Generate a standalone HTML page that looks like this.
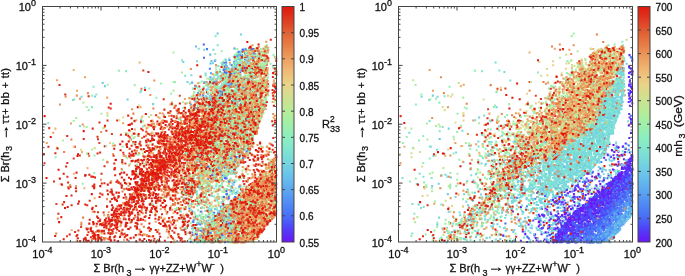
<!DOCTYPE html><html><head><meta charset="utf-8"><style>html,body{margin:0;padding:0;background:#fff;overflow:hidden}svg{display:block;will-change:transform}svg{font-family:"Liberation Sans",sans-serif;font-size:11px}text{fill:#111;stroke:#111;stroke-width:0.3px}</style></head><body>
<svg width="685" height="276" viewBox="0 0 685 276">
<defs><filter id="bl" x="-5%" y="-5%" width="110%" height="110%"><feGaussianBlur stdDeviation="0.5"/></filter></defs>
<g fill="none" stroke-width="2.05" stroke-linecap="square" filter="url(#bl)"><path d="M225.0 156.3h0M232.0 146.5h0M233.0 86.8h0M229.8 223.9h0M219.8 214.9h0M251.4 65.6h0M240.5 160.3h0M222.1 83.9h0M214.9 60.7h0M229.2 229.1h0M229.7 70.5h0M213.2 218.6h0M214.1 212.8h0M223.1 219.0h0M213.2 82.9h0M245.0 59.3h0M245.7 51.8h0M242.8 159.8h0M232.1 101.4h0M226.5 178.4h0M195.9 216.4h0M227.5 72.2h0M250.0 68.5h0M229.2 149.3h0M221.7 157.9h0M223.1 201.4h0M196.2 230.3h0M227.2 231.4h0M239.7 94.8h0M202.3 222.0h0" stroke="#4a64f8"/><path d="M225.6 173.2h0M231.8 210.8h0M230.1 216.3h0M216.5 88.9h0M242.3 90.4h0M254.8 70.0h0M231.9 65.1h0M246.9 68.0h0M206.2 239.4h0M217.2 237.1h0M223.6 212.6h0M228.8 196.4h0M227.2 233.2h0M209.9 68.7h0M224.0 93.9h0M207.0 49.1h0M227.2 229.3h0M211.8 224.2h0M228.6 227.8h0M208.8 232.0h0M212.0 230.6h0M196.7 237.2h0M222.0 179.5h0M250.5 63.6h0M220.7 231.1h0M228.7 226.1h0M242.0 160.3h0M225.8 208.5h0M244.6 83.2h0M255.6 56.8h0M221.2 164.0h0M229.5 59.9h0" stroke="#4b79f7"/><path d="M216.6 226.7h0M229.6 85.4h0M229.9 205.3h0M246.0 95.0h0M232.6 67.5h0M232.4 90.9h0M231.1 206.0h0M234.4 146.2h0M208.4 232.6h0M224.6 89.0h0M249.6 74.5h0M212.4 229.6h0M231.8 186.6h0M216.8 220.7h0M224.4 229.0h0M225.6 177.2h0M234.6 153.9h0M224.5 62.9h0M240.1 77.3h0M206.7 221.0h0M219.9 71.7h0" stroke="#4f89f4"/><path d="M200.0 237.9h0M239.4 63.3h0M226.3 210.3h0" stroke="#569af2"/><path d="M212.9 78.8h0M241.7 56.8h0M229.7 82.0h0M198.0 93.0h0M226.6 83.2h0" stroke="#5daaf0"/><path d="M215.5 75.0h0M228.1 68.0h0M196.0 46.5h0M224.2 95.1h0M235.2 56.6h0M219.9 87.1h0" stroke="#64b7ed"/><path d="M237.9 53.3h0M215.0 86.4h0M232.5 73.9h0M234.4 127.6h0M207.0 85.4h0M217.3 78.7h0M230.3 237.8h0M224.1 91.5h0M235.9 63.0h0" stroke="#6bc4e9"/><path d="M223.1 220.9h0M200.7 175.5h0M230.7 105.7h0M207.3 92.3h0M228.2 237.2h0M183.9 198.3h0M225.0 221.1h0M200.4 203.1h0M239.1 59.4h0M198.0 238.5h0M217.6 230.2h0M238.9 212.3h0M234.3 114.8h0M94.9 96.5h0M216.6 222.4h0M213.2 82.5h0M215.5 199.5h0M225.1 237.3h0M256.1 104.3h0M240.8 161.5h0M235.9 60.3h0M241.7 79.7h0M231.0 215.1h0M226.0 223.2h0M211.7 223.4h0M212.4 226.8h0M228.9 158.8h0M153.1 104.1h0M196.8 191.4h0M225.3 74.4h0M249.3 64.7h0M249.9 63.3h0M233.4 74.3h0M214.7 220.3h0M222.8 217.0h0M255.6 86.6h0M226.9 175.7h0M249.3 126.9h0M227.6 93.1h0M222.7 67.5h0M214.3 75.6h0M219.8 189.6h0M210.4 241.3h0M236.3 101.9h0M243.0 97.9h0M193.0 186.9h0M210.0 79.7h0M224.8 207.0h0M199.0 229.8h0M229.2 206.4h0M252.1 83.8h0M228.8 84.3h0M234.5 215.3h0M202.0 239.2h0M247.3 71.2h0M252.5 68.4h0M229.0 217.1h0M216.5 164.5h0M220.5 214.6h0M213.6 84.0h0M235.4 163.5h0M204.1 230.3h0M228.8 89.6h0M200.4 235.6h0M186.5 161.4h0M239.9 126.4h0M240.4 186.3h0M226.4 98.9h0M193.0 190.0h0M224.1 83.0h0M246.0 137.5h0M221.8 236.6h0M231.1 90.4h0M144.9 87.8h0M223.9 75.9h0M196.7 199.9h0M253.7 81.5h0M221.5 93.5h0M141.1 120.0h0M225.9 105.3h0M231.1 136.1h0M224.3 241.3h0M222.3 79.9h0M216.4 144.8h0M239.3 116.3h0M197.4 241.6h0M201.4 218.2h0M234.3 127.3h0M223.5 233.3h0M233.0 225.4h0M224.0 84.3h0M238.7 153.2h0M246.8 84.0h0M216.2 240.6h0M236.9 143.1h0M219.7 115.5h0M225.2 87.8h0M219.9 214.0h0" stroke="#72d0e2"/><path d="M251.7 98.3h0M141.2 90.8h0M226.2 219.8h0M220.5 133.3h0M234.9 192.8h0M235.3 76.1h0M229.5 121.6h0M242.5 79.7h0M222.4 236.5h0M216.6 105.0h0M234.2 114.1h0M238.8 152.4h0M247.3 152.0h0M236.9 61.5h0M219.4 235.9h0M197.9 238.9h0M203.0 240.0h0M214.9 105.9h0M211.4 229.1h0M247.6 104.2h0M237.0 133.3h0M205.2 224.6h0M238.6 208.5h0M218.7 99.2h0M240.2 88.3h0M197.1 61.2h0M241.6 69.9h0M218.4 66.0h0M237.6 100.7h0M223.1 100.0h0M242.0 148.6h0M191.6 182.2h0M211.8 222.6h0M248.3 115.1h0M252.8 105.6h0M227.0 144.9h0M252.3 63.1h0M191.1 240.1h0M216.4 231.0h0M238.8 53.0h0M223.2 226.8h0M247.8 150.2h0M240.9 81.3h0M229.5 79.6h0M240.0 219.4h0M238.6 98.2h0M229.6 99.9h0M209.6 231.1h0M196.4 162.7h0M213.0 63.1h0M204.6 110.9h0M222.6 215.5h0M235.5 56.0h0M242.1 129.2h0M240.2 68.2h0M238.5 52.2h0M209.8 103.0h0M225.0 165.2h0M206.3 142.6h0M235.7 71.9h0M217.9 217.3h0M240.5 89.0h0M81.5 96.7h0M236.2 94.2h0M217.3 88.3h0M234.2 229.0h0M224.0 157.4h0M221.8 74.8h0M218.4 238.1h0M216.9 209.5h0M220.7 215.7h0M222.8 211.4h0M210.0 195.4h0M225.7 60.3h0M232.6 135.8h0M221.6 216.3h0M213.0 154.9h0M236.4 111.2h0M239.9 199.7h0M208.6 166.0h0M233.8 190.3h0M240.1 58.3h0M248.5 79.1h0M203.4 201.6h0M232.3 207.9h0M220.5 226.3h0M227.9 174.8h0M246.4 116.3h0M228.2 236.0h0M215.2 231.8h0M223.4 209.2h0M228.3 127.7h0M228.5 136.2h0M193.3 173.4h0M207.8 210.8h0" stroke="#79dada"/><path d="M205.2 211.0h0M253.4 55.1h0M196.4 225.3h0M228.5 71.0h0M228.7 156.2h0M213.0 230.4h0M202.5 147.5h0M212.2 186.4h0M223.4 87.0h0M243.7 150.5h0M228.3 199.4h0M230.4 87.5h0M224.9 214.6h0M204.5 182.9h0M234.2 96.8h0M228.8 227.1h0M226.3 81.4h0M216.9 233.4h0M183.7 147.6h0M210.7 239.3h0M243.7 64.1h0M198.9 204.7h0M225.4 78.1h0M234.2 219.4h0M220.5 102.9h0M215.7 174.2h0M241.4 213.0h0M235.7 229.5h0M200.8 76.9h0M231.6 94.3h0M240.4 198.3h0M208.4 87.2h0M231.8 149.9h0M208.8 233.7h0M236.5 66.7h0M244.5 119.1h0M234.6 167.3h0M222.7 210.1h0M214.0 175.4h0M230.3 172.7h0M242.2 242.1h0M231.5 227.0h0M257.6 65.6h0M224.1 104.0h0M238.3 130.3h0M221.8 172.2h0M206.7 97.0h0M235.5 206.0h0M203.4 155.0h0M255.7 95.2h0M209.3 222.8h0M220.0 210.9h0M230.7 166.0h0M256.8 50.7h0M240.0 221.0h0M233.1 68.0h0M179.5 148.8h0M216.3 216.6h0M236.2 132.2h0M185.2 75.8h0M229.2 58.8h0M210.4 227.4h0M230.3 208.5h0M225.6 64.5h0M226.5 224.3h0M229.9 98.1h0M222.2 234.2h0M194.1 178.5h0M219.4 171.8h0M207.7 184.3h0M240.8 51.4h0M220.5 77.6h0M214.4 169.6h0M215.7 232.7h0M246.1 52.7h0M234.4 126.5h0M220.2 115.1h0M185.4 186.9h0" stroke="#80e3d1"/><path d="M224.1 83.9h0M252.6 54.8h0M213.8 150.7h0M197.6 228.1h0M250.3 77.2h0" stroke="#87eac7"/><path d="M263.6 67.9h0M225.0 118.0h0M237.8 77.2h0M227.4 96.8h0M222.4 81.1h0M218.3 235.4h0M232.2 122.1h0M256.8 107.2h0M247.8 110.0h0M271.5 172.3h0M248.3 78.9h0M242.2 77.1h0M248.2 208.6h0M265.3 75.5h0M214.8 129.0h0M184.5 153.9h0M254.5 205.3h0M209.9 115.1h0M231.4 237.4h0M139.7 145.0h0M234.2 78.0h0M210.1 235.3h0M207.0 237.4h0M206.2 187.4h0M243.9 142.1h0M184.7 138.2h0M215.6 175.1h0M232.8 231.4h0M231.8 78.5h0M183.7 194.1h0M244.0 122.3h0M264.1 203.8h0M256.5 47.9h0M260.7 80.0h0M262.1 214.3h0M225.1 158.7h0M234.1 82.0h0M224.1 208.9h0M254.7 195.4h0M254.8 234.6h0M252.9 116.9h0M249.2 138.9h0M264.5 69.2h0M188.7 157.1h0M240.3 96.0h0M267.1 220.5h0M171.8 125.9h0M261.7 82.3h0M234.6 215.7h0M137.6 134.9h0M229.3 171.1h0M263.6 109.7h0M195.1 200.7h0M215.6 36.1h0M234.9 232.9h0M243.6 70.4h0M222.1 107.3h0M208.4 119.3h0M228.6 169.3h0M230.9 217.6h0M216.0 118.4h0M201.0 168.8h0M219.9 93.3h0M245.8 144.4h0M259.7 186.0h0M265.9 72.8h0M235.3 94.4h0M240.0 90.4h0M270.0 179.2h0M252.9 137.6h0M265.6 102.9h0M215.8 152.6h0M210.2 185.9h0M213.4 106.6h0M272.2 209.2h0M257.9 209.5h0M234.4 144.9h0M262.0 108.6h0M255.9 104.4h0M208.9 172.8h0M258.5 192.8h0M228.3 120.3h0M242.5 237.7h0M221.4 120.9h0M251.0 138.6h0M204.2 240.2h0M267.6 75.0h0M251.8 91.7h0M249.4 152.1h0M225.7 80.5h0M231.7 139.4h0M209.7 212.2h0M215.9 140.7h0M238.1 92.2h0M247.6 55.5h0M231.5 159.0h0M221.1 219.5h0M225.8 123.0h0M260.8 183.2h0M209.4 209.9h0M243.2 115.4h0M238.6 150.2h0M238.1 77.0h0M203.7 87.1h0M240.5 162.6h0M247.8 70.8h0M267.1 200.6h0M241.1 116.5h0M236.7 104.9h0M203.1 181.8h0M228.7 87.3h0M228.2 108.5h0M265.7 49.8h0M224.7 106.8h0M234.0 69.2h0M233.6 126.9h0M265.7 62.7h0M222.8 158.6h0M239.4 177.9h0M202.3 213.8h0M218.7 186.2h0M194.8 228.5h0M236.5 241.0h0M202.1 218.2h0M243.2 116.5h0M228.7 215.6h0M221.2 108.0h0M224.4 101.1h0M213.4 81.0h0M222.7 128.6h0M200.3 89.4h0M274.3 187.5h0M264.0 103.1h0M224.3 175.4h0M255.7 88.2h0M234.6 127.1h0M225.4 66.4h0M252.9 190.2h0M196.0 163.1h0M196.8 165.6h0M238.3 150.6h0M242.8 157.3h0M257.2 132.8h0M233.8 125.0h0M245.9 85.6h0M93.5 86.7h0M267.5 68.2h0M256.5 93.0h0M247.8 63.7h0M231.3 157.2h0M264.9 187.9h0" stroke="#8feebd"/><path d="M193.8 234.7h0M212.0 116.3h0M230.5 131.3h0M237.0 158.6h0M238.5 228.0h0M239.5 123.1h0M239.9 152.5h0M253.6 119.4h0M208.8 104.0h0M214.5 123.2h0M263.8 80.1h0M240.0 82.9h0M187.0 145.2h0M258.2 113.9h0M198.7 123.6h0M210.0 134.0h0M252.0 135.9h0M207.0 158.6h0M152.0 212.4h0M247.8 197.4h0M240.5 133.8h0M268.7 222.6h0M206.6 135.0h0M244.5 77.7h0M220.3 125.0h0M255.5 117.8h0M263.3 230.3h0M205.7 122.8h0M213.9 78.0h0M222.1 144.5h0M214.5 137.6h0M240.9 121.8h0M228.2 242.1h0M214.2 163.2h0M251.4 63.8h0M222.5 92.7h0M254.9 109.6h0M255.4 126.2h0M218.8 160.6h0M266.8 222.4h0M215.4 149.3h0M210.8 142.5h0M246.9 102.9h0M250.0 130.2h0M211.6 208.3h0M224.8 75.4h0M223.6 217.5h0M236.8 204.2h0M257.8 181.1h0M239.9 74.7h0M255.6 207.6h0M233.0 205.9h0M224.9 192.0h0M221.5 63.1h0M225.8 136.3h0M251.6 90.8h0M258.3 191.1h0M253.6 65.6h0M187.8 185.3h0M219.9 174.3h0M242.9 118.9h0M232.7 191.5h0M185.7 154.7h0M250.9 102.5h0M231.8 116.3h0M238.6 85.8h0M267.7 168.8h0M259.3 94.9h0M209.6 239.2h0M211.2 94.3h0M243.3 154.6h0M230.4 204.1h0M252.0 203.2h0M237.5 119.7h0M241.6 110.9h0M204.3 216.7h0M236.6 125.5h0M233.3 99.3h0M253.8 108.8h0M205.8 242.2h0M208.4 178.6h0M244.5 99.9h0M230.4 166.6h0M216.0 89.9h0M249.6 100.8h0M244.5 86.4h0M213.3 116.6h0M215.9 178.4h0M247.7 95.6h0M43.2 67.8h0M265.9 82.7h0M150.1 142.2h0M234.5 106.4h0M241.3 112.0h0M250.9 210.2h0M254.0 85.8h0M256.7 236.0h0M229.8 108.7h0M232.5 239.8h0M244.9 69.0h0M220.0 124.3h0M242.3 151.3h0M223.1 167.0h0M210.3 162.0h0M247.4 53.5h0M251.5 95.4h0M237.3 167.2h0M260.3 79.6h0M230.7 100.9h0M261.5 146.5h0M243.6 64.2h0M257.0 206.3h0M224.8 144.7h0M242.3 89.1h0M220.3 240.7h0M245.5 237.2h0M254.7 81.4h0M208.3 171.8h0M200.6 170.2h0M240.5 99.1h0M228.4 99.2h0M251.5 110.4h0M226.5 208.9h0M230.4 225.6h0M260.7 94.5h0M245.3 86.1h0M232.5 139.7h0M217.9 87.9h0M238.3 137.5h0M232.8 77.1h0M260.8 69.2h0M231.3 239.3h0M238.9 144.1h0M233.4 191.8h0M252.8 54.3h0M217.1 145.9h0M219.4 167.2h0M242.2 106.4h0M231.8 203.2h0M237.7 112.8h0M208.7 136.4h0M223.6 88.2h0M253.5 110.0h0M215.2 54.0h0M245.3 73.1h0M251.6 99.1h0M240.7 90.4h0M254.6 226.0h0M215.9 140.6h0M235.5 115.3h0M248.9 218.5h0M234.5 223.6h0M244.6 61.4h0M230.0 95.2h0M212.9 116.6h0M152.5 205.2h0M212.0 193.2h0M222.6 202.3h0M258.0 66.6h0M231.1 188.3h0M214.6 216.1h0M256.5 92.2h0M262.9 87.2h0M235.4 122.7h0M263.1 109.1h0M206.4 185.8h0M261.9 211.1h0M239.6 124.2h0M251.9 91.0h0M260.2 188.2h0M266.5 86.0h0M227.1 66.2h0M225.4 81.8h0M206.1 129.4h0M249.4 85.8h0M235.5 236.1h0M248.6 103.8h0M252.0 49.1h0M265.2 83.9h0M212.6 136.8h0M213.7 122.2h0M261.3 115.1h0M242.7 217.8h0M226.4 87.9h0M254.3 131.7h0M122.1 170.0h0M249.7 223.4h0M218.8 197.5h0M185.5 149.1h0M206.5 187.5h0M219.1 104.0h0M203.3 120.7h0M228.1 239.6h0M217.9 126.8h0M256.6 194.7h0M231.9 86.3h0M256.7 64.1h0M227.8 180.5h0M122.6 146.4h0M247.2 116.4h0M260.8 49.1h0M226.4 156.8h0M248.3 210.2h0M249.4 73.5h0M241.4 141.0h0M235.2 118.5h0M273.8 193.1h0M133.4 138.1h0M239.1 222.6h0M233.9 153.4h0M257.2 214.5h0M238.1 88.2h0M238.0 199.9h0M230.0 95.6h0M208.5 192.0h0M206.9 199.2h0M227.9 99.6h0M239.7 126.2h0M227.0 137.5h0M230.1 229.9h0M227.2 115.7h0M227.5 158.5h0M214.4 234.7h0M201.8 179.5h0M185.7 130.9h0M257.9 106.0h0M229.3 141.1h0M247.8 118.5h0M220.4 155.5h0M243.0 88.4h0M192.7 177.5h0M230.0 93.8h0M211.7 230.5h0M216.8 174.6h0M206.8 124.3h0M261.2 109.3h0M227.6 160.3h0M209.4 231.4h0M266.9 89.3h0M231.9 213.7h0M259.3 89.3h0M266.0 52.6h0M250.5 228.1h0M246.9 137.2h0M207.3 220.7h0M201.6 138.8h0M244.1 109.0h0M190.4 108.6h0M196.3 138.4h0M240.8 124.4h0M244.0 127.4h0M118.9 70.6h0M257.1 54.4h0M268.3 194.3h0M221.3 226.0h0M232.6 154.0h0M207.5 167.4h0M233.9 131.7h0M245.7 67.0h0" stroke="#9aefaf"/><path d="M190.5 131.3h0M235.0 92.4h0M232.3 154.2h0M179.4 186.6h0M213.4 228.6h0M223.3 217.1h0M249.9 112.6h0M199.4 196.8h0M243.7 107.1h0M251.9 145.6h0M197.0 107.5h0M248.5 60.8h0M250.7 194.6h0M243.9 125.6h0M239.2 86.2h0M213.9 191.7h0M227.7 94.8h0M198.7 228.3h0M236.3 85.3h0M213.7 163.8h0M244.8 61.7h0M219.1 232.8h0M254.6 66.8h0M233.3 121.4h0M237.5 197.8h0M251.8 50.2h0M223.0 150.5h0M276.2 183.2h0M228.0 77.8h0M243.5 145.5h0M207.2 238.5h0M275.3 122.7h0M262.6 192.6h0M214.5 236.1h0M213.0 241.6h0M243.8 139.5h0M255.8 229.8h0M214.3 239.2h0M261.9 197.2h0M224.1 212.4h0M257.4 102.9h0M215.2 179.7h0M201.0 180.3h0M216.0 89.0h0M243.5 116.2h0M244.6 138.4h0M245.8 69.4h0M265.9 83.2h0M261.8 91.2h0M197.2 101.5h0M236.9 144.6h0M172.5 104.5h0M248.5 103.7h0M264.6 196.3h0M246.9 102.0h0M262.9 212.5h0M230.5 226.9h0M254.1 67.6h0M201.3 130.5h0M189.1 183.0h0M233.8 101.1h0M235.9 226.6h0M199.0 202.3h0M230.8 139.7h0M253.7 126.5h0M258.6 86.8h0M218.2 97.4h0M199.9 241.2h0M222.3 137.0h0M251.9 88.8h0M260.7 146.6h0M223.4 139.1h0M260.6 74.0h0M214.6 151.9h0M207.9 150.6h0M213.5 171.3h0M215.9 67.8h0M193.8 226.7h0M249.1 78.5h0M228.5 236.5h0M206.0 85.0h0M252.9 100.2h0M171.8 190.2h0M228.3 117.4h0M253.0 64.0h0M248.3 68.9h0M259.5 108.7h0M263.3 103.8h0M206.3 170.0h0M235.3 163.8h0M223.0 108.8h0M210.8 151.1h0M244.5 127.1h0M252.6 83.3h0M199.5 240.0h0M210.5 236.0h0M222.7 220.4h0M208.3 85.7h0M271.8 186.3h0M263.0 225.6h0M248.8 71.2h0M233.5 226.5h0M217.7 241.1h0M214.0 107.0h0M240.9 78.3h0M255.4 126.0h0M230.7 104.3h0M190.4 176.6h0M212.2 154.0h0M217.6 230.0h0M246.7 204.3h0M261.2 186.4h0M249.9 212.3h0M249.5 109.9h0M266.0 80.2h0M232.1 121.4h0M215.4 123.4h0M226.9 195.7h0M86.7 106.9h0M227.5 119.3h0M233.6 121.6h0M261.1 105.1h0M252.7 222.0h0M250.0 85.1h0M247.0 117.5h0M239.6 120.2h0M195.6 190.6h0M235.8 71.3h0M239.1 86.0h0M244.2 136.0h0M200.2 238.0h0M216.6 127.8h0M215.8 180.6h0M222.1 228.7h0M225.0 225.2h0M188.9 133.7h0M249.5 137.5h0M229.1 148.4h0M239.5 54.8h0M214.8 144.5h0M226.2 145.9h0M250.2 84.9h0M202.1 180.4h0M212.0 186.6h0M195.2 214.3h0M213.9 165.3h0M241.3 159.3h0M210.3 161.1h0M196.4 238.2h0M233.5 74.1h0M206.2 215.0h0M245.7 142.9h0M223.3 95.4h0M257.6 125.3h0M221.3 211.6h0M259.8 91.7h0M228.7 135.1h0M201.8 103.1h0M224.8 210.4h0M248.6 219.4h0M215.8 165.5h0M255.7 210.7h0M249.3 88.0h0M256.0 106.0h0M195.1 217.8h0M257.9 208.6h0M275.5 181.5h0M251.6 84.0h0M226.9 101.1h0M231.7 113.9h0M242.3 138.1h0M231.1 124.5h0M256.4 71.2h0M190.4 98.3h0M273.4 178.0h0M201.3 134.3h0M153.1 143.9h0M242.4 175.8h0M213.7 214.5h0M275.9 212.7h0M212.6 165.2h0M246.1 100.2h0M204.8 162.0h0M266.0 98.2h0M216.4 231.5h0M234.7 82.4h0M265.9 58.4h0M240.9 85.2h0M227.9 158.3h0M236.0 160.5h0M250.4 75.4h0M251.9 109.3h0M242.4 57.5h0M233.0 127.5h0M262.6 63.1h0M223.2 93.9h0M242.4 170.5h0M257.1 97.2h0M226.4 134.2h0M229.4 90.9h0M214.3 161.8h0M261.2 86.7h0M236.1 160.3h0M227.6 132.8h0M239.9 70.9h0M265.0 98.3h0M228.0 126.1h0M231.3 86.8h0M261.1 84.7h0M233.3 77.4h0M223.0 117.1h0M262.8 64.7h0M187.0 194.5h0M258.8 58.9h0M230.5 100.9h0M224.0 165.9h0M256.8 71.3h0M245.8 120.8h0M224.3 80.0h0M248.6 142.0h0M275.8 191.6h0M204.7 188.4h0M227.2 112.6h0M215.8 119.1h0M269.1 179.0h0M241.5 143.6h0M224.8 135.1h0M222.8 116.1h0M238.2 198.8h0M223.5 133.3h0M236.2 199.0h0M244.6 75.7h0M222.4 104.1h0M261.1 57.9h0M249.5 215.7h0M202.7 162.6h0M219.0 241.5h0M227.8 185.7h0M228.7 226.4h0M246.6 134.1h0M205.9 125.5h0M101.5 113.8h0M213.2 104.1h0M230.9 226.2h0M216.3 235.7h0M249.1 120.2h0M215.3 104.9h0M131.8 135.4h0M200.1 197.1h0M240.8 112.2h0M218.0 147.5h0M198.2 166.0h0M233.4 108.5h0M235.2 225.5h0M220.8 234.0h0M229.6 207.0h0M259.5 90.6h0M241.7 85.4h0M214.5 110.4h0M206.6 235.1h0M270.6 63.8h0M209.6 216.7h0M203.8 160.6h0M258.7 84.8h0M240.8 202.7h0M212.7 118.7h0M220.5 165.6h0M260.4 52.1h0M253.6 184.6h0M247.4 69.8h0M236.9 84.0h0M219.1 94.1h0M165.6 159.7h0M219.1 187.5h0M242.8 130.6h0M223.4 64.1h0M233.3 131.8h0M201.1 241.8h0M238.8 123.7h0M198.5 241.9h0M271.2 160.7h0M192.7 123.7h0M233.5 83.6h0M212.5 217.5h0M215.5 98.4h0M212.6 224.3h0M149.4 88.5h0M246.3 50.5h0M258.0 70.8h0M255.1 113.6h0M230.6 126.6h0M188.6 174.1h0M252.9 75.7h0" stroke="#a7efa3"/><path d="M228.6 133.0h0M211.8 202.3h0M183.2 199.9h0M245.4 158.0h0M240.4 193.9h0M212.2 240.1h0M227.2 209.2h0M264.0 74.2h0M221.7 226.7h0M232.5 150.4h0M189.6 165.8h0M248.8 68.0h0M224.5 144.1h0M263.9 88.7h0M235.2 156.1h0M244.3 138.6h0M217.9 121.7h0M230.9 139.2h0M256.6 114.2h0M265.5 83.9h0M233.0 132.0h0M233.0 104.2h0M241.0 99.0h0M267.0 57.2h0M204.5 233.5h0M253.6 76.5h0M224.2 231.0h0M219.3 105.5h0M220.0 168.9h0M195.7 115.5h0M264.7 200.9h0M267.5 59.0h0M226.9 128.1h0M134.7 137.1h0M203.8 175.2h0M201.6 116.9h0M242.6 104.4h0M224.1 200.2h0M259.8 116.9h0M248.9 51.5h0M266.3 61.9h0M265.4 100.7h0M274.5 191.6h0M235.0 146.2h0M234.5 159.0h0M259.9 70.2h0M234.1 83.0h0M243.6 85.5h0M250.2 126.7h0M257.5 99.2h0M258.8 233.9h0M243.2 151.0h0M266.2 74.1h0M209.1 232.1h0M251.9 187.3h0M213.1 113.6h0M257.5 54.5h0M241.2 93.1h0M245.3 237.7h0M214.1 135.0h0M233.2 82.4h0M229.8 236.5h0M261.7 105.1h0M218.4 107.9h0M211.4 114.8h0M241.6 55.9h0M255.6 101.3h0M256.1 125.8h0M205.6 149.1h0M268.4 95.2h0M247.3 115.8h0M273.6 182.5h0M248.4 90.4h0M237.8 120.0h0M276.3 103.5h0M233.9 240.4h0M238.8 118.7h0M147.8 155.4h0M231.0 83.1h0M227.9 110.2h0M234.2 240.8h0M237.1 75.3h0M211.6 242.4h0M209.3 177.7h0M201.6 181.0h0M211.8 80.4h0M243.8 97.3h0M256.5 186.9h0M223.5 153.7h0M134.0 120.5h0M230.9 96.0h0M235.2 78.3h0M269.8 175.3h0M240.8 178.2h0M251.7 193.6h0M210.5 170.4h0M240.2 77.5h0M216.5 143.3h0M257.6 107.9h0M243.8 222.7h0M226.6 104.8h0M215.1 169.1h0M232.1 161.3h0M252.3 74.3h0M153.3 133.3h0M235.8 64.1h0M188.7 239.4h0M249.1 128.9h0M218.8 203.4h0M257.1 118.8h0M212.8 105.8h0M188.0 187.2h0M236.6 72.8h0M241.4 189.8h0M238.8 117.3h0M213.4 176.6h0M247.9 102.5h0M214.7 154.0h0M239.9 130.5h0M216.2 163.4h0M259.3 58.0h0M203.0 160.7h0M231.1 83.6h0M250.3 102.8h0M261.3 86.8h0M212.6 129.0h0M258.4 68.5h0M226.4 80.7h0M234.6 161.1h0M247.1 110.7h0M245.1 57.5h0M230.5 72.7h0M214.1 101.7h0M206.8 166.8h0M214.2 125.5h0M242.0 120.9h0M208.8 172.7h0M236.9 119.0h0M252.1 88.3h0M223.6 79.8h0M247.1 103.5h0M227.8 152.8h0M257.3 98.5h0M216.5 185.0h0M197.6 140.0h0M202.4 121.8h0M250.4 127.3h0M233.4 65.2h0M241.7 219.9h0M193.3 142.4h0M232.2 90.0h0M221.2 154.2h0M107.5 115.6h0M213.3 234.8h0M264.1 80.1h0M256.8 131.7h0M210.9 145.2h0M235.3 63.9h0M213.1 206.6h0M198.9 171.8h0M254.7 233.6h0M63.0 140.5h0M209.9 219.3h0" stroke="#b5ed9a"/><path d="M249.8 206.5h0M250.2 210.5h0M246.1 204.7h0M255.5 187.6h0" stroke="#c3e794"/><path d="M160.6 128.0h0M143.0 153.6h0M253.8 213.5h0M200.7 171.1h0M149.0 117.0h0M268.0 176.2h0M217.8 169.7h0M202.5 149.7h0M151.1 115.0h0M268.9 173.7h0M273.1 190.2h0M182.0 172.3h0M271.9 218.6h0M275.7 156.1h0M208.7 181.6h0M209.8 167.8h0M84.0 126.4h0M199.7 160.9h0M209.4 169.7h0M203.4 157.0h0M169.9 104.5h0M253.8 242.3h0M135.5 154.5h0M200.3 162.3h0" stroke="#d1e090"/><path d="M142.4 150.2h0M197.5 151.9h0M276.4 168.4h0M269.5 196.8h0M197.1 152.6h0M247.0 234.0h0M267.4 168.9h0M256.0 212.2h0M195.7 164.4h0M249.5 219.2h0M215.4 172.5h0M263.6 177.9h0M275.8 177.3h0M245.6 201.6h0M246.9 233.9h0M267.5 196.1h0M255.9 200.9h0M258.8 232.0h0M123.1 117.4h0M261.0 208.1h0M257.1 221.5h0M94.7 148.1h0M272.2 212.1h0M204.5 175.5h0M195.6 169.9h0M269.9 187.7h0M274.6 171.2h0M246.8 196.3h0M269.4 219.6h0M220.3 147.6h0M148.2 127.3h0M186.1 151.7h0M135.1 150.2h0M140.5 144.4h0M200.5 166.3h0M274.1 189.4h0M251.6 235.1h0" stroke="#dfd98b"/><path d="M149.4 149.4h0M222.4 160.5h0M197.1 161.1h0M259.4 210.7h0M252.1 184.8h0M182.9 169.7h0M268.4 168.3h0M244.6 198.4h0M219.9 168.0h0M276.1 196.2h0M273.0 187.9h0M189.4 175.2h0M270.3 173.9h0M205.3 166.3h0M265.0 219.1h0M192.3 166.4h0M263.0 201.5h0M256.4 238.9h0M258.7 210.0h0M249.8 208.6h0M222.3 164.2h0M188.5 170.0h0M195.9 165.5h0" stroke="#eacf85"/><path d="M152.6 165.4h0M176.8 130.6h0M246.0 155.0h0M217.5 119.5h0M219.5 140.6h0M216.4 241.2h0M256.0 183.0h0M243.4 103.6h0M223.2 120.4h0M256.2 213.9h0M221.3 78.5h0M216.2 129.5h0M250.7 76.0h0M204.7 112.4h0M139.6 62.5h0M237.4 99.7h0M258.9 110.0h0M245.6 216.2h0M199.0 140.7h0M217.6 103.9h0M252.1 208.7h0M265.5 210.2h0M130.6 237.8h0M238.6 224.7h0M225.5 215.5h0M237.5 129.5h0M73.7 69.9h0M202.9 177.6h0M153.0 121.5h0M200.4 103.3h0M153.3 166.9h0M245.4 134.9h0M252.6 110.0h0M254.6 89.0h0M199.7 127.9h0M226.2 174.2h0M181.6 151.4h0M223.4 119.6h0M256.2 92.1h0M212.4 133.9h0M141.4 231.9h0M255.2 185.3h0M232.3 138.7h0M265.5 76.7h0M241.6 227.4h0M73.8 173.8h0M258.4 84.7h0M217.6 117.7h0M274.2 97.9h0M203.8 159.9h0M177.3 174.8h0M256.7 213.4h0M217.4 117.7h0M147.4 210.2h0M229.2 92.0h0M199.0 160.1h0M211.7 150.9h0M274.5 197.0h0M205.6 227.1h0M253.3 67.9h0M261.8 218.7h0M273.9 161.2h0M238.5 219.2h0M215.3 163.2h0M274.0 80.3h0M209.8 124.1h0M266.1 184.5h0M124.0 240.1h0M220.6 104.2h0M258.4 89.4h0M248.3 108.8h0M229.2 116.5h0M231.6 220.9h0M224.3 221.8h0M249.0 195.6h0M198.7 202.9h0M189.0 126.8h0M194.6 159.2h0M200.3 140.5h0M250.4 225.7h0M255.4 95.8h0M241.9 207.2h0M273.8 187.8h0M241.9 228.6h0M172.0 160.8h0M206.3 119.4h0M71.7 229.9h0M241.8 78.0h0M175.2 183.9h0M242.1 119.3h0M244.1 135.8h0M164.1 135.4h0M269.2 213.4h0M235.2 152.3h0M242.9 236.9h0M203.5 121.1h0M163.3 175.1h0M262.7 147.3h0M256.1 105.4h0M214.8 146.4h0M211.4 123.2h0M238.0 239.2h0M262.9 204.9h0M231.9 81.0h0M266.3 176.3h0M216.3 217.2h0M211.8 139.5h0M257.2 196.6h0M159.6 118.1h0M237.9 121.6h0M242.1 206.8h0M228.0 120.9h0M194.5 188.4h0M239.1 107.1h0M238.7 56.1h0M60.8 183.9h0M235.8 202.2h0M268.2 195.7h0M242.4 142.7h0M239.2 240.4h0M179.1 234.4h0M94.6 198.1h0M206.9 115.7h0M263.9 204.0h0M246.3 125.5h0M228.5 78.0h0M215.3 180.5h0M160.0 135.2h0M231.4 223.6h0M268.3 47.8h0M191.4 205.2h0M249.7 199.5h0M245.7 84.5h0M167.1 142.5h0M243.0 101.4h0M222.0 143.2h0M251.6 127.2h0M202.5 188.8h0M211.0 126.3h0M247.9 197.5h0M268.6 172.1h0M220.0 151.8h0M175.8 225.5h0M239.3 95.3h0M260.4 197.3h0M175.5 128.6h0M266.2 168.6h0M241.5 237.9h0M201.9 117.0h0M226.2 209.9h0M224.8 110.3h0M252.3 82.5h0M232.6 116.1h0M205.5 232.1h0M248.1 81.5h0M214.2 148.0h0M231.7 207.1h0M237.5 119.9h0M245.3 198.4h0M200.2 220.7h0M148.4 197.5h0M220.4 94.4h0M216.2 198.0h0M252.4 222.1h0M198.4 185.3h0M241.4 219.3h0M257.5 220.0h0M121.6 231.6h0M274.1 165.2h0M243.0 240.9h0M240.0 90.1h0M163.7 136.6h0M251.9 239.9h0M203.1 241.1h0M203.0 142.6h0M246.2 171.5h0M263.5 226.4h0M236.4 230.6h0M265.3 209.4h0M181.7 124.6h0M191.6 206.7h0M262.7 182.7h0M237.3 96.3h0M270.0 191.9h0M274.2 186.5h0M276.0 199.9h0M237.4 208.3h0M206.0 193.3h0M249.5 149.4h0M232.0 215.0h0M244.6 129.0h0M254.4 207.5h0M241.8 154.3h0M146.3 168.2h0M87.5 168.1h0M253.5 128.0h0M257.5 123.5h0M271.3 190.3h0M201.5 185.6h0M246.0 102.0h0M213.4 239.1h0" stroke="#efb26f"/><path d="M213.0 126.0h0M255.4 190.1h0M218.3 113.5h0M260.4 184.7h0M261.6 73.5h0M211.2 181.7h0M146.2 162.3h0M212.4 227.6h0M183.2 221.5h0M140.6 107.2h0M237.9 225.0h0M266.5 200.8h0M274.5 206.0h0M237.1 117.4h0M254.2 236.8h0M222.5 94.9h0M155.6 175.5h0M238.6 236.7h0M253.3 234.0h0M251.1 224.6h0M243.3 134.9h0M236.4 224.2h0M247.4 181.7h0M246.9 125.0h0M229.4 208.6h0M163.1 145.4h0M176.4 117.7h0M234.3 207.5h0M260.8 188.8h0M269.4 178.7h0M231.3 220.3h0M197.4 182.3h0M259.8 58.2h0M243.1 135.3h0M261.1 71.5h0M256.1 104.6h0M275.7 181.7h0M251.3 187.4h0M246.8 93.2h0M168.8 192.4h0M162.1 176.9h0M222.1 235.8h0M237.0 69.5h0M263.2 156.4h0M236.5 138.9h0M219.6 217.4h0M208.6 134.2h0M248.1 97.9h0M256.2 74.4h0M232.0 82.1h0M196.6 145.3h0M255.7 213.7h0M227.9 198.4h0M233.2 87.0h0M255.4 200.6h0M210.7 103.9h0M215.2 229.9h0M265.2 176.4h0M146.3 161.9h0M211.7 120.0h0M252.0 214.0h0M234.4 225.4h0M259.6 91.6h0M227.0 111.8h0M257.4 237.8h0M162.8 143.2h0M224.6 189.6h0M202.6 194.8h0M245.1 237.0h0M263.4 221.4h0M266.8 200.6h0M246.9 99.9h0M234.3 110.9h0M252.4 196.4h0M251.9 143.4h0M235.3 133.3h0M225.7 149.4h0M233.4 163.8h0M185.9 131.3h0M228.9 183.7h0M217.7 165.0h0M249.3 100.7h0M248.3 146.3h0M249.0 83.7h0M269.9 186.6h0M275.3 179.1h0M53.3 132.8h0M213.4 115.3h0M220.8 180.7h0M264.8 56.2h0M241.3 202.4h0M174.8 121.8h0M160.7 209.1h0M263.6 200.5h0M268.2 167.6h0M255.9 232.8h0M141.2 183.9h0M214.9 124.3h0M241.6 206.6h0M233.4 118.8h0M270.8 173.3h0M158.1 156.6h0M274.3 215.3h0M260.2 183.0h0M261.9 100.7h0M250.2 147.1h0M206.0 240.0h0M174.3 240.3h0M189.2 132.0h0M113.1 154.0h0M254.2 57.6h0M250.2 197.8h0M189.2 119.1h0M257.2 109.3h0M245.5 95.3h0M236.0 109.6h0M258.7 217.2h0M265.7 189.9h0M198.8 122.8h0M240.0 133.0h0M242.5 202.4h0M151.4 175.1h0M180.0 211.3h0M255.5 99.5h0M212.1 143.0h0M264.3 183.9h0M244.7 195.3h0M202.1 235.1h0M200.1 183.0h0M247.2 221.2h0M212.6 181.4h0M258.6 229.9h0M267.6 153.6h0M249.5 117.5h0M186.9 214.2h0M262.3 174.5h0M272.7 101.9h0M271.5 195.3h0M252.0 218.7h0M182.2 136.3h0M218.2 218.5h0M215.9 150.8h0M128.5 186.0h0M245.2 123.5h0M260.8 207.7h0M257.2 109.3h0M273.1 182.5h0M201.7 211.4h0M172.2 209.8h0M215.1 115.0h0M259.9 180.4h0M245.0 230.7h0M248.3 120.4h0M211.8 149.8h0M164.4 219.5h0M235.0 232.5h0M110.4 220.4h0M178.2 122.7h0M244.2 157.3h0M266.9 190.7h0M194.0 124.8h0M231.3 157.6h0M225.9 134.2h0M255.3 218.8h0M273.4 186.8h0M264.0 53.4h0M253.1 105.6h0M272.2 169.9h0M245.2 77.3h0M258.6 123.1h0M197.4 241.4h0M270.2 181.3h0M183.3 141.0h0M184.1 202.2h0M175.1 205.0h0M232.5 180.6h0M261.5 212.1h0M253.6 114.0h0M273.6 67.9h0M160.0 164.9h0M252.2 51.0h0M250.2 102.7h0M251.0 192.6h0M243.6 237.8h0M259.0 194.1h0M247.7 124.6h0M253.5 224.2h0M234.2 218.8h0M221.1 173.7h0M258.6 200.5h0M233.4 214.0h0M204.3 136.7h0M247.7 236.4h0M214.9 175.7h0M210.7 146.2h0M254.8 213.7h0M161.2 189.4h0M263.0 190.2h0M234.0 122.6h0M213.5 242.0h0M237.0 75.4h0M206.8 187.3h0M253.3 188.8h0M208.4 237.0h0M236.4 88.5h0M261.9 179.1h0M244.4 235.0h0M259.8 82.9h0M261.9 222.3h0M264.4 83.1h0M200.0 129.8h0M212.9 221.8h0M212.6 126.3h0M124.4 180.9h0M256.4 238.9h0M228.2 80.7h0M260.1 112.4h0M220.0 242.3h0M255.3 72.5h0M191.1 141.0h0M182.8 181.2h0M245.6 106.7h0M244.4 226.8h0M182.0 175.8h0M172.7 132.5h0M206.2 176.2h0M224.0 143.3h0M221.7 202.5h0M250.8 210.5h0M248.0 214.5h0M158.3 230.1h0M208.3 126.2h0M249.9 65.7h0M264.8 173.6h0M245.4 194.1h0M276.4 201.6h0M216.0 148.6h0M270.5 220.5h0M227.3 211.5h0M219.6 101.9h0M258.4 233.9h0M243.6 78.1h0M223.0 152.2h0M251.7 53.3h0M245.8 199.2h0M217.5 126.4h0M217.7 222.7h0M211.9 182.3h0M189.6 160.4h0M207.2 142.7h0M259.9 223.3h0M272.3 181.4h0M127.5 209.7h0M166.7 213.7h0M193.3 141.5h0M195.3 200.2h0M274.8 163.8h0M258.0 195.2h0M241.1 125.2h0M243.2 69.5h0M250.1 97.0h0M244.4 138.6h0M196.3 123.7h0M267.1 47.6h0M273.5 201.3h0M223.1 214.8h0M200.0 144.2h0M204.7 125.4h0M260.9 204.7h0M260.7 222.1h0M247.8 213.5h0M190.0 187.3h0M271.6 162.3h0M239.5 206.8h0M239.0 106.6h0M230.4 206.6h0M266.8 201.8h0M275.0 194.9h0M229.8 62.7h0M211.4 224.5h0M185.0 121.6h0M263.6 190.5h0M236.0 96.6h0M185.1 184.9h0M196.3 120.1h0M233.4 91.5h0M270.8 187.4h0M223.7 230.1h0M274.1 72.2h0M233.9 241.3h0M189.3 155.0h0M246.8 221.1h0M265.4 211.5h0M259.7 195.2h0M231.4 233.4h0M189.2 134.4h0M244.8 138.3h0M243.9 194.4h0M237.1 142.5h0M173.4 143.5h0M231.5 237.4h0M249.7 238.6h0M268.3 50.2h0M239.3 117.3h0M266.1 53.4h0M257.3 158.4h0M238.9 217.4h0M186.1 126.9h0M157.5 186.5h0M188.2 136.3h0M255.1 229.4h0M230.2 232.3h0M123.2 123.2h0M224.0 212.6h0M224.7 87.9h0M197.4 229.6h0M203.0 229.9h0M216.5 118.5h0M275.5 170.1h0M245.8 238.2h0M219.4 135.1h0M208.4 183.5h0M214.5 139.6h0M180.3 126.3h0M246.2 131.4h0M213.3 228.4h0M259.1 102.2h0M261.7 216.8h0M269.2 175.5h0M227.3 89.5h0M146.4 189.5h0M168.6 142.7h0M231.9 214.6h0M148.4 177.7h0M251.7 218.3h0M223.0 123.1h0M264.4 109.2h0M237.1 235.7h0M241.5 217.8h0M197.6 186.9h0M247.7 101.0h0M201.4 241.3h0M215.6 152.3h0M231.4 226.8h0M272.5 214.3h0M256.8 190.2h0M195.0 181.0h0M223.8 225.3h0M210.6 189.9h0M238.2 147.8h0M223.0 137.7h0M224.6 210.2h0M172.9 149.0h0M204.9 129.7h0M203.0 174.5h0M229.8 106.0h0M148.8 171.8h0M232.1 241.8h0M217.0 113.0h0M152.2 120.6h0M224.4 130.6h0M257.2 203.9h0M193.6 95.8h0M176.1 155.6h0M262.9 77.9h0M170.0 176.6h0M190.4 132.6h0M252.1 193.4h0M246.4 66.7h0M245.9 199.6h0M213.7 103.4h0M232.9 214.5h0M241.4 226.2h0M229.6 128.3h0M173.2 173.2h0M171.7 145.6h0M251.4 218.5h0M217.9 140.0h0M148.1 177.8h0M215.0 134.8h0M261.6 175.4h0M176.2 138.0h0M233.7 223.8h0M263.9 189.0h0M208.2 142.7h0M261.6 95.7h0M243.5 51.3h0M231.4 125.2h0M247.3 229.8h0M215.1 167.4h0" stroke="#eca262"/><path d="M262.7 221.5h0M251.9 155.3h0M256.2 208.6h0M254.0 105.1h0M190.9 199.5h0M257.6 199.1h0M207.1 104.4h0M244.5 236.0h0M235.7 217.9h0M224.6 125.6h0M217.8 161.0h0M246.9 192.6h0M267.9 159.2h0M220.8 99.1h0M177.8 110.5h0M259.6 211.8h0M255.0 69.2h0M259.7 184.3h0M246.8 79.7h0M202.2 173.5h0M234.1 103.8h0M258.3 226.8h0M238.0 112.0h0M167.3 126.5h0M237.9 126.7h0M212.2 137.5h0M268.7 195.4h0M207.8 171.0h0M207.8 147.1h0M240.4 239.7h0M249.4 210.8h0M254.3 204.5h0M232.2 231.9h0M266.6 82.1h0M255.2 182.2h0M248.6 214.9h0M234.3 133.6h0M208.6 146.9h0M162.7 181.1h0M194.9 124.8h0M235.9 198.1h0M246.0 125.5h0M213.5 127.1h0M249.4 106.4h0M187.8 184.6h0M265.7 183.2h0M219.9 161.1h0M237.2 119.6h0M191.0 126.7h0M210.8 123.6h0M76.8 95.6h0M218.7 223.1h0M206.3 156.1h0M272.7 203.8h0M233.9 127.2h0M228.3 147.8h0M231.5 227.4h0M209.2 158.7h0M126.8 145.7h0M273.3 176.8h0M231.1 158.0h0M217.7 149.7h0M249.8 233.0h0M272.4 167.1h0M247.9 113.8h0M210.3 225.4h0M231.0 234.5h0M223.7 124.4h0M228.2 96.8h0M203.8 241.1h0M258.0 232.0h0M252.7 183.8h0M255.1 195.0h0M230.0 167.6h0M146.6 128.4h0M265.2 189.6h0M238.5 203.6h0M260.7 51.8h0M264.2 200.7h0M189.6 163.3h0M257.8 61.7h0M221.2 113.9h0M143.3 183.0h0M144.3 174.9h0M177.7 167.6h0M256.6 215.1h0M205.6 123.2h0M210.8 123.7h0M196.5 120.3h0M268.2 185.0h0M242.8 210.8h0M241.6 236.4h0M235.9 215.4h0M163.2 120.4h0M194.6 150.1h0M120.7 235.0h0M244.2 204.7h0M209.4 181.2h0M80.0 98.7h0M235.8 149.3h0M263.1 70.8h0M217.4 170.0h0M220.8 157.2h0M205.2 106.0h0M165.7 148.9h0M209.3 228.5h0M234.3 206.1h0M255.4 235.4h0M158.3 163.7h0M246.3 192.2h0M180.2 166.3h0M261.0 209.8h0M223.3 110.3h0M244.2 211.7h0M263.5 172.0h0M229.6 128.7h0M243.4 220.7h0M176.1 149.9h0M265.5 182.0h0M229.6 103.1h0M259.3 74.1h0M216.9 111.5h0M150.5 183.0h0M170.4 145.5h0M263.0 208.2h0M223.1 114.4h0M205.1 136.3h0M217.4 105.8h0M159.9 113.2h0M204.3 163.0h0M201.1 208.0h0M230.0 220.6h0M265.9 67.7h0M244.4 112.3h0M261.2 117.5h0M57.8 218.6h0M192.3 159.9h0M82.7 124.4h0M211.8 187.5h0M252.0 80.2h0M178.6 110.1h0M68.0 187.1h0M130.4 222.6h0M243.7 234.7h0M183.7 221.5h0M229.7 140.9h0M215.5 144.3h0M216.0 165.7h0M264.0 225.0h0M251.0 117.6h0M161.2 156.9h0M256.8 91.0h0M247.9 235.7h0M240.2 130.3h0M190.4 238.5h0M166.9 186.8h0M274.9 115.7h0M192.8 194.7h0M211.6 193.5h0M256.0 185.4h0M233.9 151.9h0M251.5 178.3h0M146.3 198.2h0M214.4 219.9h0M107.4 225.2h0M265.5 109.0h0M201.7 107.2h0M214.0 93.5h0M240.2 210.2h0M233.5 204.4h0M199.1 178.6h0M247.3 214.0h0M162.4 146.3h0M249.2 120.2h0M225.5 127.3h0M202.1 223.5h0M210.4 100.3h0M249.8 130.1h0M248.3 202.3h0M234.3 203.0h0M146.7 177.5h0M255.3 71.6h0M231.8 157.8h0M245.9 70.0h0M94.2 223.2h0M135.0 193.7h0M234.8 210.2h0M209.3 127.8h0M220.7 228.9h0M261.0 186.1h0M197.3 168.7h0M241.9 221.3h0M220.9 108.4h0M263.2 173.6h0M181.5 151.0h0M257.2 103.1h0M201.3 138.1h0M182.6 189.7h0M272.7 213.0h0M269.4 214.5h0M264.9 72.8h0M243.9 132.9h0M104.5 239.7h0M102.6 223.0h0M207.5 137.1h0M240.9 201.6h0M201.1 162.8h0M219.7 168.5h0M164.6 148.0h0M184.2 123.9h0M257.0 187.6h0M235.6 85.1h0M216.3 127.8h0M238.7 116.2h0M226.3 174.5h0M210.1 115.2h0M240.6 116.7h0M259.5 214.3h0M220.3 111.9h0M256.9 181.7h0M256.0 150.4h0M262.1 156.7h0M214.3 86.0h0M231.7 148.2h0M166.3 185.3h0M267.4 73.1h0M264.4 66.5h0M239.7 228.2h0M253.4 143.9h0M203.7 163.3h0M246.6 187.9h0M272.5 196.1h0M248.2 216.1h0M223.2 164.5h0M253.2 65.1h0M242.5 239.3h0M256.1 86.6h0M186.8 131.6h0M242.5 192.0h0M254.8 115.1h0M120.1 218.5h0M166.4 193.2h0M272.7 215.7h0M115.2 226.0h0M196.6 150.1h0M225.6 94.9h0M151.9 123.9h0M234.0 242.2h0M216.4 140.5h0M219.6 138.0h0M219.9 174.0h0M208.5 127.8h0M246.0 116.8h0M237.5 122.6h0M257.5 144.9h0M198.9 180.7h0M215.7 132.7h0M186.1 194.1h0M269.8 148.8h0M261.5 108.0h0M256.2 62.0h0M183.3 114.2h0M213.5 107.5h0M211.9 113.8h0M251.1 113.0h0M178.5 147.0h0M264.3 193.4h0M248.5 225.9h0M99.3 230.6h0M243.8 216.4h0M257.9 115.2h0M202.6 120.5h0M275.9 199.8h0M227.0 83.7h0M227.5 105.3h0M200.1 143.1h0M216.5 227.0h0M232.5 142.3h0M251.9 192.8h0M268.3 185.3h0M133.5 200.0h0M192.9 170.8h0M171.8 102.4h0M234.6 216.6h0M145.0 177.8h0M247.6 224.7h0M256.3 217.0h0M254.0 110.5h0M198.0 156.5h0M276.4 170.0h0M263.3 184.4h0M146.0 156.5h0M205.6 148.0h0M214.8 154.5h0M262.1 94.9h0M265.8 214.5h0M249.3 72.1h0M186.4 188.7h0M262.3 179.8h0M202.7 216.9h0M250.4 236.9h0M260.7 57.2h0M267.5 210.9h0M184.1 121.1h0M257.6 196.1h0M204.4 188.2h0M210.2 112.0h0M255.8 184.3h0M184.1 188.9h0M255.5 113.5h0M191.8 140.6h0M271.6 196.4h0M251.3 112.6h0M201.6 188.1h0M233.9 230.7h0M241.9 196.1h0M233.9 125.1h0M170.8 222.6h0M241.0 242.1h0M255.7 122.3h0M250.9 84.7h0M232.0 101.3h0M220.9 212.4h0M204.1 137.4h0M250.8 237.8h0M233.9 82.3h0M159.1 143.9h0M201.7 163.2h0M270.6 178.0h0M195.4 204.3h0M219.8 157.5h0M234.2 170.2h0M165.1 153.8h0M242.2 152.0h0M212.8 241.3h0M215.1 119.0h0M262.3 85.5h0M242.8 166.9h0M198.8 240.2h0M238.5 91.8h0M173.7 220.1h0M199.9 132.7h0M254.5 189.3h0M249.6 48.1h0M248.9 124.5h0M249.9 204.1h0M213.3 157.8h0M252.3 130.1h0M217.4 171.4h0M259.3 196.7h0M237.1 126.8h0M202.2 136.6h0M149.1 187.5h0M226.4 134.2h0M254.3 132.5h0M245.2 61.7h0M206.5 136.7h0M242.2 200.6h0M269.5 148.8h0M233.5 227.4h0M209.3 231.8h0M219.1 123.9h0" stroke="#ea8f54"/><path d="M264.4 198.3h0M253.3 228.5h0M208.8 239.2h0M141.5 88.8h0M261.0 102.4h0M242.3 129.4h0M215.8 125.8h0M242.4 239.7h0M183.2 114.7h0M201.1 240.0h0M71.4 139.5h0M259.5 53.7h0M246.4 235.9h0M249.8 141.9h0M190.7 105.2h0M235.8 140.7h0M193.2 158.1h0M254.4 207.8h0M252.9 197.4h0M203.8 138.7h0M178.1 126.9h0M246.5 117.1h0M228.2 229.6h0M143.9 226.8h0M218.9 82.8h0M172.8 195.5h0M70.2 185.2h0M187.3 190.3h0M262.4 184.2h0M149.3 168.1h0M203.2 234.1h0M201.1 168.2h0M214.2 223.8h0M239.2 87.2h0M213.4 146.5h0M247.4 213.6h0M214.5 128.1h0M187.1 126.0h0M89.2 155.9h0M207.4 233.0h0M246.3 51.2h0M179.1 123.4h0M260.2 227.9h0M240.5 134.2h0M241.9 96.9h0M204.6 205.1h0M248.4 139.4h0M261.5 204.6h0M101.4 237.1h0M249.7 85.8h0M242.8 120.9h0M207.5 174.4h0M254.9 231.4h0M243.1 202.5h0M229.9 114.2h0M256.7 228.8h0M239.8 116.3h0M230.0 131.8h0M215.4 168.4h0M228.1 103.1h0M227.0 230.7h0M246.5 57.1h0M233.4 224.4h0M233.9 230.0h0M56.2 233.5h0M199.3 223.4h0M164.4 222.8h0M256.7 109.2h0M198.5 110.6h0M264.5 71.4h0M156.8 178.2h0M205.2 149.7h0M193.5 167.5h0M185.7 207.0h0M274.9 57.3h0M258.2 127.9h0M220.3 81.6h0M259.7 93.8h0M196.9 233.6h0M235.2 134.1h0M263.0 54.7h0M251.7 99.8h0M264.8 178.7h0M238.4 227.6h0M218.4 198.7h0M164.1 172.6h0M193.9 126.1h0M171.6 137.4h0M210.7 171.0h0M252.9 186.0h0M247.7 198.7h0M221.5 124.6h0M254.0 84.6h0M212.0 112.2h0M217.5 150.2h0M265.4 225.7h0M245.6 157.0h0M232.1 81.7h0M237.4 201.6h0M203.9 192.9h0M274.2 159.0h0M200.8 234.5h0M272.1 198.8h0M165.0 185.3h0M211.4 210.7h0M258.8 223.0h0M241.0 141.2h0M206.4 226.7h0M276.2 183.5h0M256.6 213.2h0M218.3 125.1h0M212.9 115.2h0M238.2 142.7h0M257.8 190.4h0M171.1 144.1h0M259.3 197.2h0M253.0 75.5h0M260.8 104.5h0M172.5 133.2h0M134.8 193.2h0M229.9 132.6h0M268.3 210.4h0M141.5 224.3h0M233.2 214.8h0M236.5 144.9h0M247.4 191.5h0M256.8 238.3h0M222.1 107.3h0M126.3 208.3h0M226.5 198.4h0M184.8 191.7h0M257.4 67.1h0M256.1 110.5h0M257.4 183.1h0M219.0 182.1h0M252.0 114.7h0M186.1 151.7h0M254.9 210.2h0M253.2 202.4h0M237.3 221.2h0M240.6 241.8h0M253.8 73.0h0M247.8 79.1h0M88.4 228.6h0M189.9 102.9h0M240.1 193.6h0M264.7 216.8h0M207.2 131.3h0M191.6 141.3h0M246.1 120.9h0M251.9 104.4h0M274.6 84.5h0M234.2 98.7h0M260.5 176.7h0M274.3 168.3h0M224.9 233.0h0M233.7 138.1h0M254.4 206.2h0M273.4 180.5h0M253.7 187.5h0M257.1 105.2h0M231.9 141.2h0M202.1 145.4h0M156.0 173.4h0M247.0 240.5h0M216.2 123.3h0M226.7 101.9h0M213.1 137.0h0M223.9 90.2h0M200.3 201.8h0M220.9 146.7h0M260.7 72.2h0M147.7 178.6h0M233.2 109.2h0M178.7 199.1h0M217.7 196.7h0M237.0 87.8h0M262.7 110.8h0M267.6 81.2h0M223.4 223.2h0M81.3 224.6h0M156.3 160.1h0M234.6 236.4h0M218.1 97.5h0M253.8 165.3h0M233.3 233.0h0M239.9 228.1h0M254.5 132.2h0M255.7 227.7h0M257.8 113.3h0M275.9 74.0h0M173.5 156.9h0M241.4 160.7h0M247.5 92.4h0M246.4 221.4h0M234.9 144.3h0M204.9 153.4h0M238.9 135.5h0M206.8 104.8h0M192.2 226.0h0M227.6 206.6h0M235.1 235.5h0M220.4 134.0h0M265.2 50.6h0M199.6 161.9h0M224.5 126.0h0M256.1 115.2h0" stroke="#e77d46"/><path d="M265.5 175.2h0M195.1 126.1h0M152.9 205.7h0M223.5 133.0h0M73.7 158.4h0M272.6 175.8h0M154.3 170.1h0M171.7 131.9h0M208.3 160.2h0M151.3 157.3h0M216.4 169.2h0M228.8 154.0h0M185.0 139.6h0M134.9 205.2h0M249.3 149.4h0M148.9 183.5h0M159.7 139.1h0M183.3 170.6h0M191.9 154.4h0M130.1 189.8h0M70.4 187.0h0M194.7 156.6h0M238.9 177.2h0M212.7 238.3h0M175.9 184.9h0M179.7 164.2h0M252.5 141.8h0M218.1 156.6h0M200.2 149.3h0M184.2 182.5h0M275.4 99.9h0M248.4 220.0h0M100.7 238.6h0M147.7 173.9h0M243.3 196.7h0M238.0 236.7h0M217.9 136.2h0M136.6 174.7h0M113.1 207.6h0M252.7 221.8h0M121.3 221.7h0M186.7 136.0h0M206.0 137.1h0M135.1 215.4h0M254.0 228.1h0M175.7 105.8h0M257.6 151.1h0M180.3 133.7h0M226.6 86.0h0M275.1 191.1h0M244.9 232.4h0M151.4 159.7h0M196.7 157.5h0M224.8 118.7h0M200.4 139.4h0M260.1 83.4h0M222.1 104.7h0M239.5 204.0h0M153.7 161.7h0M210.6 117.2h0M159.3 164.7h0M216.9 92.3h0M160.2 163.0h0M216.6 159.2h0M192.9 179.6h0M176.5 132.1h0M179.3 173.3h0M224.7 120.2h0M133.9 192.9h0M221.2 134.0h0M220.8 102.3h0M273.7 92.9h0M217.5 122.5h0M215.6 150.1h0M233.7 85.8h0M170.5 162.3h0M206.2 166.6h0M133.8 172.4h0M216.4 109.8h0M207.9 141.2h0M81.1 226.9h0M212.5 139.4h0M259.7 121.1h0M193.8 150.1h0M194.3 168.2h0M272.3 182.5h0M85.1 175.8h0M124.3 218.3h0M222.6 187.2h0M163.0 162.5h0M246.5 195.8h0M156.1 166.3h0M269.6 198.6h0M111.8 209.4h0M123.2 212.8h0M201.3 240.0h0M228.7 75.0h0M261.9 87.8h0M201.8 122.0h0M259.3 206.0h0M229.6 144.7h0M251.0 89.9h0M125.4 163.4h0M199.9 174.5h0M262.9 59.7h0M100.2 219.4h0M209.2 195.0h0M143.3 70.4h0M166.5 140.9h0M165.3 182.1h0M173.8 137.4h0M236.5 134.2h0M148.6 155.2h0M204.3 164.0h0M167.1 153.6h0M210.2 114.8h0M188.0 157.0h0M146.0 212.6h0M201.2 173.2h0M138.2 192.7h0M177.3 136.6h0M91.1 227.8h0M200.8 141.9h0M191.6 135.6h0" stroke="#e04026"/><path d="M273.6 190.7h0M256.9 169.4h0M178.2 154.0h0M185.2 141.2h0M266.0 200.7h0M185.0 128.2h0M168.9 221.4h0M199.7 150.9h0M260.5 177.7h0M242.1 91.1h0M243.6 176.4h0M67.3 163.0h0M228.4 171.8h0M190.8 134.8h0M140.9 218.8h0M119.1 205.4h0M213.4 155.9h0M184.9 176.8h0M152.5 194.0h0M167.2 161.8h0M138.4 197.9h0M158.8 140.5h0M210.3 137.3h0M169.1 218.1h0M143.6 181.0h0M273.7 207.0h0M208.6 114.2h0M263.0 215.8h0M176.7 177.0h0M151.2 121.1h0M208.0 113.9h0M237.1 106.9h0M169.9 228.6h0M261.6 177.6h0M238.3 73.5h0M209.8 137.6h0M165.8 164.7h0M126.0 222.8h0M234.0 222.1h0M243.9 177.7h0M192.2 163.6h0M247.6 84.1h0M153.5 156.9h0M111.5 189.5h0M211.1 118.4h0M257.3 109.1h0M260.6 71.2h0M170.6 197.8h0M203.7 113.6h0M121.5 172.8h0M258.9 186.9h0M137.1 166.5h0M145.6 188.6h0M115.2 175.2h0M252.5 188.6h0M217.1 131.0h0M267.0 218.4h0M179.6 133.4h0M218.4 119.9h0M265.8 224.4h0M161.3 172.9h0M219.7 153.8h0M163.5 158.6h0M147.7 139.5h0M132.2 194.5h0M200.9 122.7h0M86.5 228.5h0M104.4 183.2h0M173.5 152.4h0M104.5 166.2h0M245.3 115.5h0M108.9 219.3h0M176.9 136.5h0M222.5 112.6h0M197.0 238.6h0M272.3 169.9h0M141.5 182.8h0M212.4 140.8h0M154.3 172.2h0M236.5 235.8h0M261.9 197.3h0M197.1 137.5h0M235.0 224.2h0M235.0 56.4h0M249.7 87.8h0M180.1 133.5h0M138.0 201.1h0M112.7 220.1h0M149.4 172.6h0M260.2 220.5h0M197.4 129.9h0M259.9 220.0h0M235.7 92.1h0M220.9 130.0h0M149.0 239.9h0M160.9 171.6h0M190.8 152.8h0M260.4 75.2h0M178.7 236.9h0M179.5 134.4h0M261.6 177.4h0M185.2 221.3h0M179.0 160.1h0M272.9 77.0h0M143.8 175.8h0M98.0 212.2h0M97.4 235.1h0M246.9 223.6h0M165.5 177.5h0M137.2 190.2h0M192.0 135.6h0M137.6 195.7h0M180.9 175.4h0M236.0 125.8h0M154.4 238.8h0M105.6 223.0h0M259.3 55.8h0M108.6 217.3h0M228.3 111.0h0M251.2 48.4h0M151.1 151.5h0M204.2 82.7h0M154.9 173.0h0M233.3 160.8h0M87.4 234.9h0M235.5 102.7h0M101.6 231.8h0M260.9 224.9h0M267.1 186.7h0M149.5 187.9h0M216.7 124.7h0M225.4 218.1h0M146.6 174.3h0M217.3 133.0h0M253.5 128.2h0M185.7 184.6h0M194.0 128.0h0M161.5 143.7h0M268.3 58.4h0M199.9 94.5h0M165.2 163.2h0M212.6 113.1h0M218.0 238.1h0M155.4 146.5h0M142.5 163.3h0M239.1 120.7h0M136.5 201.5h0M108.2 215.3h0M200.5 119.3h0M250.9 211.4h0M230.2 111.6h0M218.7 108.6h0M255.1 184.6h0M139.0 196.4h0M184.5 140.1h0M217.4 102.2h0M224.5 146.5h0M270.7 188.6h0M177.1 155.2h0M152.8 170.7h0M151.2 170.1h0M163.7 161.2h0M214.1 120.2h0M256.9 230.7h0M191.5 137.8h0M256.1 105.0h0M265.3 203.9h0M140.1 194.0h0M246.6 97.0h0M195.0 115.4h0M146.4 164.6h0M54.0 181.5h0M213.1 93.0h0M192.6 151.7h0M231.5 202.6h0M212.0 110.4h0M173.8 165.4h0M206.2 108.9h0M98.2 236.7h0M225.2 84.6h0M215.7 238.9h0M181.5 139.1h0M276.4 74.4h0M146.5 145.4h0M205.4 126.5h0M178.6 182.8h0M130.7 139.4h0M137.2 201.0h0M160.6 171.5h0M184.4 178.4h0M226.5 220.4h0M198.9 154.6h0M247.7 241.3h0M241.6 223.6h0M260.6 66.6h0M212.9 91.2h0M176.7 118.2h0M184.8 149.5h0M226.1 128.9h0M158.7 171.2h0M244.2 217.2h0M226.2 77.8h0M238.1 134.6h0M135.8 192.0h0M144.8 125.8h0M266.2 184.5h0M210.3 176.1h0M197.1 111.9h0M203.4 126.7h0M257.3 211.4h0M239.5 152.1h0M249.0 199.8h0M161.4 161.8h0M188.8 128.5h0M206.9 166.4h0M162.2 184.7h0M265.3 207.1h0M252.6 113.6h0M238.9 126.4h0M129.9 215.1h0M251.1 225.7h0M188.6 167.5h0M251.8 154.6h0M176.4 209.8h0M256.0 68.0h0M204.3 105.1h0M223.2 122.8h0M101.8 183.5h0M194.0 185.6h0M254.9 123.3h0M130.5 227.4h0M194.2 133.0h0M142.8 130.3h0M185.9 134.3h0M247.1 191.2h0M199.3 86.5h0M221.6 129.8h0M235.7 159.5h0M190.2 153.8h0M248.4 166.1h0M153.8 155.3h0M215.9 137.3h0M193.1 143.1h0M176.8 171.4h0M247.9 148.5h0M88.5 232.2h0M162.6 152.7h0M71.5 195.4h0M235.1 199.1h0M194.4 123.0h0M270.9 199.4h0M141.8 175.4h0M151.9 173.7h0M248.3 193.5h0M185.7 141.6h0M203.3 119.9h0M272.8 198.5h0M124.7 237.3h0M209.3 139.5h0M251.8 66.1h0M140.0 234.5h0M178.7 134.6h0M218.3 174.7h0M215.7 89.8h0M150.4 183.2h0M83.7 138.9h0M184.5 123.1h0M224.8 75.7h0M192.6 234.9h0M213.4 147.6h0M197.7 128.5h0M76.5 235.9h0M153.2 188.5h0M158.4 185.2h0M256.9 178.9h0M140.0 169.7h0M262.3 198.6h0M196.7 127.5h0M159.8 159.9h0M183.6 216.5h0M124.8 212.7h0M152.0 208.8h0M258.0 191.6h0M94.3 184.6h0M246.5 228.6h0M248.2 233.0h0M256.2 117.9h0M220.1 119.9h0M115.2 236.2h0M198.4 203.4h0M268.5 90.4h0M180.0 151.2h0M245.8 107.6h0M264.4 216.1h0M237.7 229.5h0M186.3 134.2h0M156.7 171.9h0M262.3 150.9h0M92.9 235.9h0M176.1 165.8h0M188.5 141.2h0M164.4 109.6h0M129.1 202.2h0M218.8 111.3h0M261.2 91.9h0M206.7 132.8h0M213.8 140.8h0M152.4 194.8h0M174.3 136.9h0M263.8 212.9h0M197.9 167.6h0M98.4 221.4h0M67.4 176.7h0M176.9 147.3h0M222.5 117.0h0M184.2 132.1h0M256.9 212.5h0M140.3 187.2h0M192.5 114.2h0M168.9 231.6h0M226.7 224.3h0M275.7 204.4h0M230.3 120.9h0M250.6 184.1h0M126.3 212.4h0M183.7 131.6h0M173.4 145.7h0M234.0 155.1h0M139.9 239.5h0M129.9 194.2h0M209.1 130.8h0M160.4 163.6h0M178.0 171.7h0M201.0 148.7h0M275.5 209.5h0M137.6 177.0h0M135.6 188.9h0M216.8 115.1h0M166.2 174.7h0M146.3 131.7h0M252.3 87.0h0M204.6 196.9h0M154.9 209.0h0M145.5 195.0h0M274.8 86.6h0M133.8 218.6h0M165.3 162.6h0M137.6 224.3h0M176.0 162.6h0M175.1 121.7h0M185.3 149.4h0M200.8 129.9h0M195.3 114.6h0M179.0 145.7h0M132.1 189.3h0M127.0 204.2h0M255.4 73.0h0M109.3 238.5h0M159.7 155.1h0M178.8 160.6h0M168.3 165.9h0M189.0 168.5h0M195.8 134.2h0M245.8 228.5h0M250.5 237.9h0M213.1 229.4h0M211.6 147.5h0M157.2 195.2h0M106.4 130.8h0M273.1 199.6h0M189.5 125.0h0M221.5 224.9h0M169.6 141.4h0M136.8 228.8h0M274.7 211.0h0M166.8 121.6h0M151.6 125.8h0M236.5 213.9h0M275.0 132.9h0M244.7 202.1h0M271.4 144.5h0M265.9 172.3h0M141.5 184.6h0M151.5 182.9h0M191.3 107.7h0M244.6 149.3h0M198.3 145.7h0M196.2 129.5h0M207.6 190.8h0M110.3 234.3h0M210.9 227.6h0M208.5 116.6h0M197.1 240.4h0M269.3 199.4h0M243.2 149.1h0M127.2 239.6h0M211.6 100.7h0M222.0 230.2h0M153.0 149.4h0M205.6 147.7h0M153.2 175.4h0M268.1 176.1h0M224.1 159.3h0M125.8 235.7h0M107.5 120.5h0M257.5 179.7h0M252.6 182.9h0M168.3 164.9h0M249.0 114.3h0M163.3 141.1h0M177.7 145.3h0M233.5 124.6h0M200.1 168.3h0M217.2 135.9h0M253.9 61.4h0M155.5 174.7h0M117.2 120.5h0M135.2 226.2h0M195.7 233.9h0M203.7 151.5h0M187.4 133.4h0M180.4 113.2h0M206.9 147.2h0M272.7 149.7h0M236.4 172.8h0M137.5 182.1h0M159.2 125.0h0M157.7 183.1h0M179.9 161.1h0M247.7 128.7h0M229.0 100.1h0M184.2 155.5h0M156.1 171.4h0M100.3 193.4h0M257.9 236.7h0M205.1 100.8h0M158.2 160.6h0M164.9 163.8h0M231.2 95.4h0M211.3 136.9h0M241.3 65.8h0M272.5 165.0h0M254.7 156.3h0M192.7 124.3h0M173.9 185.9h0M147.0 180.5h0M179.4 166.9h0M148.1 147.4h0M175.4 140.1h0M94.0 186.3h0M263.0 164.4h0M238.8 151.5h0M232.4 101.2h0M152.0 171.2h0M203.0 95.2h0M178.2 123.0h0M231.0 132.8h0M154.2 181.3h0M213.4 121.6h0M181.3 238.2h0M141.2 194.5h0M158.5 176.5h0M113.6 155.8h0M199.4 240.4h0M252.8 187.3h0M254.5 200.2h0M236.2 226.7h0M128.8 216.0h0M165.1 163.3h0M233.0 202.1h0M136.4 168.9h0M271.3 190.3h0M267.8 91.5h0M170.9 236.0h0M184.2 223.5h0M115.1 220.4h0M147.0 235.5h0M151.2 165.0h0M177.0 176.8h0M235.1 81.7h0M242.8 162.0h0M153.2 168.3h0M241.4 221.4h0M240.7 136.4h0M152.8 178.1h0M218.3 144.5h0M186.1 194.4h0M230.0 127.7h0M156.1 207.2h0M244.6 93.7h0M115.7 222.4h0M136.3 241.5h0M195.1 218.4h0M232.7 217.0h0M219.3 123.5h0M221.5 152.4h0M216.3 234.2h0M151.9 183.2h0M214.1 118.6h0M174.4 107.8h0M207.8 136.4h0M122.8 234.4h0M80.1 241.1h0M241.9 134.4h0M156.0 178.1h0M271.9 169.1h0M177.8 122.1h0M160.2 156.9h0M218.1 134.4h0M209.8 171.5h0M215.9 115.5h0M209.5 114.9h0M257.5 201.6h0M167.3 212.1h0M167.6 194.9h0M207.4 146.9h0M250.1 153.2h0M159.1 151.2h0M163.9 140.4h0M188.3 146.8h0M257.4 186.1h0M191.2 190.7h0M185.6 234.2h0M243.5 121.2h0M221.7 91.3h0M236.3 72.5h0M169.6 172.0h0M212.5 120.4h0M79.8 155.5h0M249.2 192.9h0M197.9 128.8h0M218.5 93.7h0M184.5 189.5h0M189.7 178.1h0M171.7 154.6h0M199.5 153.9h0M114.8 214.5h0M177.8 113.2h0M195.3 192.3h0M141.5 190.7h0M247.1 217.6h0M234.0 83.1h0M199.9 159.1h0M255.0 233.9h0M197.6 116.1h0M154.9 161.9h0M246.5 69.0h0M158.0 164.6h0M248.4 141.8h0M215.4 228.9h0M212.6 102.7h0M136.6 188.4h0M262.2 100.7h0M164.9 151.2h0M163.9 116.5h0M246.5 191.7h0M173.2 220.3h0M173.8 173.4h0M171.7 147.3h0M274.9 196.4h0M131.9 123.6h0M164.0 200.3h0M157.7 170.2h0M214.6 107.0h0M227.9 134.9h0M111.9 199.0h0M164.6 163.3h0" stroke="#e02c1a"/><path d="M207.4 154.0h0M142.4 235.3h0M187.8 216.8h0M185.9 135.3h0M167.1 136.3h0M206.5 164.1h0M226.4 101.3h0M130.0 124.6h0M207.5 135.7h0M261.2 221.6h0M89.3 223.6h0M137.9 212.4h0M233.9 172.4h0M144.0 159.8h0M238.1 239.8h0M167.4 138.5h0M230.1 106.3h0M218.8 127.4h0M179.3 146.5h0M184.4 218.8h0M172.2 162.4h0M168.9 175.9h0M125.6 219.3h0M219.2 108.6h0M268.8 199.2h0M247.7 192.7h0M190.7 162.8h0M116.4 220.3h0M196.7 165.7h0M121.1 214.9h0M88.2 153.7h0M164.0 165.5h0M267.5 195.1h0M222.1 94.4h0M153.2 187.8h0M152.4 184.1h0M174.9 166.1h0M189.0 133.6h0M191.0 158.5h0M104.8 146.2h0M245.6 224.1h0M172.5 180.8h0M188.8 131.9h0M228.9 121.5h0M115.2 216.8h0M230.3 139.3h0M265.5 204.0h0M158.1 163.3h0M275.4 196.0h0M272.8 93.2h0M168.0 150.2h0M217.3 129.9h0M236.2 131.5h0M154.3 187.2h0M131.6 212.2h0M271.4 195.8h0M220.0 108.7h0M266.8 102.0h0M168.4 147.4h0M107.1 206.2h0M142.5 160.8h0M133.7 187.1h0M264.2 86.4h0M152.0 135.7h0M259.5 120.3h0M120.2 144.3h0M193.1 156.0h0M262.4 151.7h0M192.2 186.6h0M108.7 239.3h0M164.2 138.8h0M161.5 127.0h0M217.1 127.0h0M193.9 114.1h0M164.9 150.5h0M240.9 97.4h0M245.2 200.7h0M107.0 206.8h0M127.3 235.1h0M137.2 186.6h0M261.2 157.2h0M130.1 197.8h0M116.1 208.8h0M157.7 179.2h0M107.4 162.3h0M94.4 233.8h0M275.3 211.1h0M251.7 76.1h0M132.3 155.5h0M234.2 199.7h0M154.0 206.7h0M142.5 189.7h0M148.5 189.1h0M232.3 151.5h0M223.5 116.2h0M138.6 134.0h0M125.2 211.8h0M149.1 179.6h0M209.5 122.9h0M185.7 177.1h0M228.0 122.0h0M236.1 130.4h0M121.1 208.2h0M196.8 156.2h0M170.3 177.4h0M135.8 235.1h0M226.3 206.2h0M101.7 240.1h0M224.7 222.0h0M138.8 199.7h0M173.7 190.9h0M217.5 103.7h0M215.0 105.5h0M153.3 170.8h0M148.6 190.5h0M131.5 118.3h0M104.2 227.3h0M115.5 219.0h0M231.8 221.8h0M226.0 156.8h0M161.7 161.7h0M209.4 98.5h0M209.7 168.6h0M214.8 123.3h0M253.9 49.2h0M232.4 230.0h0M218.2 101.8h0M209.3 106.3h0M197.2 65.2h0M242.0 51.9h0M199.6 120.9h0M229.3 217.0h0M205.9 133.5h0M254.0 98.7h0M257.9 83.2h0M169.2 166.2h0M263.5 85.6h0M164.8 121.0h0M112.0 205.3h0M265.4 90.8h0M208.2 109.3h0M210.2 134.1h0M162.3 163.6h0M215.5 118.3h0M103.9 238.3h0M264.7 91.7h0M93.0 235.7h0M214.0 116.1h0M211.0 156.9h0M160.2 236.8h0M260.5 198.9h0M239.8 223.8h0M186.8 123.6h0M195.6 157.0h0M212.7 111.6h0M253.0 207.7h0M259.4 111.0h0M238.6 134.3h0M168.6 149.3h0M147.5 187.9h0M231.4 90.4h0M227.0 80.6h0M257.9 192.3h0M264.1 60.7h0M140.7 231.6h0M123.8 155.3h0M153.1 236.2h0M275.7 181.7h0M164.3 138.4h0M244.0 224.3h0M250.1 149.3h0M157.3 169.2h0M220.2 122.7h0M228.8 92.7h0M197.0 153.3h0M124.2 172.6h0M146.0 183.5h0M170.5 111.2h0M127.1 147.0h0M209.5 109.1h0M268.9 216.4h0M215.5 107.8h0M202.9 134.6h0M193.8 147.6h0M195.8 132.6h0M271.4 162.1h0M222.3 135.2h0M221.7 218.9h0M235.9 84.9h0M248.8 73.1h0M235.6 123.3h0M270.2 168.6h0M191.6 119.5h0M141.4 189.7h0M208.2 158.6h0M198.4 109.5h0M275.8 191.7h0M110.6 108.4h0M229.7 225.3h0M138.6 197.2h0M103.9 230.7h0M142.0 184.5h0M177.1 150.7h0M138.2 203.0h0M216.3 135.8h0M138.7 193.1h0M187.6 137.8h0M183.5 151.0h0M213.6 130.3h0M273.9 105.8h0M155.9 208.0h0M244.9 204.7h0M144.2 166.4h0M142.8 203.5h0M237.5 198.9h0M210.8 141.2h0M190.8 138.1h0M193.6 146.6h0M258.6 44.4h0M139.0 206.5h0M238.4 201.3h0M186.6 202.6h0M187.3 139.4h0M268.8 177.7h0M215.1 237.7h0M188.1 136.2h0M240.8 108.1h0M273.4 217.4h0M173.9 167.1h0M111.7 233.5h0M232.3 141.9h0M218.6 114.4h0M193.6 105.5h0M188.6 166.2h0M247.9 201.0h0M193.1 138.1h0M179.0 171.9h0M215.5 101.7h0M174.8 165.4h0M119.9 214.3h0M153.9 178.7h0M161.3 141.0h0M181.2 163.5h0M85.5 175.1h0M251.2 217.0h0M116.7 224.7h0M256.7 181.8h0M273.9 152.4h0M262.1 113.2h0M252.8 185.7h0M255.1 196.7h0M173.7 189.6h0M152.3 140.3h0M191.3 120.0h0M182.0 150.5h0M186.3 142.2h0M152.3 170.7h0M221.7 93.2h0M244.8 130.1h0M136.4 168.2h0M170.7 157.8h0M176.1 164.5h0M206.6 139.0h0M149.8 230.7h0M190.0 233.1h0M163.7 160.5h0M77.5 156.0h0M109.8 221.5h0M216.7 111.2h0M217.0 149.0h0M194.3 139.9h0M263.1 176.6h0M247.7 212.0h0M197.5 109.3h0M161.1 140.5h0M190.0 122.7h0M211.8 110.8h0M176.3 189.3h0M135.2 177.3h0M253.4 159.2h0M106.5 228.2h0M197.3 135.8h0M216.6 152.3h0M201.4 174.6h0M189.0 187.2h0M232.6 113.3h0M161.0 157.0h0M250.3 144.0h0M154.6 165.9h0M125.4 205.1h0M150.0 195.8h0M178.0 169.7h0M214.9 95.9h0M138.5 162.0h0M255.9 124.8h0M182.0 158.1h0M163.8 169.7h0M265.3 61.2h0M182.3 218.5h0M147.9 187.0h0M159.3 163.6h0M248.9 108.7h0M195.0 239.3h0M170.4 148.6h0M188.2 155.9h0M221.8 171.9h0M111.3 225.5h0M201.6 125.3h0M192.8 160.4h0M168.3 167.8h0M225.9 63.5h0M258.3 236.4h0M181.1 138.3h0M202.5 123.7h0M217.5 136.7h0M185.7 112.7h0M217.6 146.9h0M234.4 112.5h0M187.1 182.9h0M181.2 153.9h0M118.9 213.8h0M205.3 150.3h0M255.4 177.7h0M140.6 196.3h0M117.1 224.6h0M212.7 110.7h0M136.9 223.2h0M159.8 142.5h0M253.2 100.7h0M129.2 218.6h0M173.0 200.7h0M171.2 241.9h0M244.8 90.3h0M238.7 201.7h0M241.0 189.1h0M251.1 72.7h0M243.9 229.0h0M160.7 128.9h0M183.2 221.6h0M130.9 205.7h0M165.6 124.9h0M182.1 205.0h0M236.8 149.7h0M264.9 180.0h0M254.4 208.2h0M239.0 235.8h0M263.9 80.6h0M178.7 160.7h0M185.2 155.3h0M170.1 167.8h0M258.3 180.4h0M153.8 181.9h0M163.5 174.6h0M204.9 148.6h0M211.4 113.4h0M206.6 141.1h0M110.3 226.6h0M196.4 161.7h0M275.1 170.0h0M126.7 204.6h0M125.5 226.4h0M133.5 153.8h0M229.9 167.2h0M217.6 223.3h0M178.0 208.3h0M186.8 184.1h0M207.1 117.6h0M180.6 240.2h0M147.9 162.2h0M238.8 202.2h0M98.5 235.1h0M138.6 220.2h0M157.7 177.1h0M207.1 146.7h0M208.3 104.4h0M262.8 223.7h0M190.2 121.2h0M136.8 190.4h0M271.7 167.4h0M120.0 237.0h0M191.5 196.9h0M187.3 183.1h0M215.1 95.3h0M249.8 159.9h0M186.9 123.8h0M263.7 174.9h0M172.6 124.0h0M255.9 203.0h0M210.4 131.4h0M164.6 136.0h0M201.2 200.6h0M185.3 140.2h0M128.6 125.0h0M227.5 109.5h0M169.4 153.6h0M134.8 207.2h0M253.4 61.9h0M202.5 141.5h0M153.3 192.6h0M111.6 214.7h0M243.4 181.2h0M213.4 156.8h0M257.5 155.3h0M175.6 132.4h0M257.7 64.2h0M196.2 145.8h0M172.4 142.2h0M177.5 124.2h0M265.3 199.7h0M98.2 238.6h0M196.0 114.0h0M98.1 217.9h0M222.1 94.1h0M251.2 213.6h0M129.8 198.9h0M214.9 120.3h0M208.4 125.2h0M167.2 172.7h0M178.3 141.6h0M211.9 98.0h0M211.3 142.1h0M159.0 176.2h0M131.0 179.1h0M215.2 108.9h0M186.9 227.7h0M173.2 195.4h0M251.0 220.0h0M212.0 158.9h0M121.4 211.8h0M160.4 200.7h0M213.5 120.4h0M244.4 116.0h0M166.4 196.4h0M205.4 145.5h0M144.9 151.9h0M273.2 85.6h0M128.5 189.8h0M195.9 126.4h0M169.5 147.9h0M128.7 211.3h0M195.3 167.5h0M276.1 211.1h0M165.7 138.4h0M256.0 71.9h0M198.3 154.3h0M59.1 222.1h0M166.6 145.3h0M207.6 121.1h0M255.1 91.7h0M206.2 119.3h0M126.7 201.7h0M251.9 92.0h0M199.4 133.2h0M199.3 159.2h0M206.8 108.9h0M134.4 196.5h0M148.4 140.6h0M274.2 209.5h0M130.6 238.3h0M94.9 235.0h0M147.6 178.2h0M171.5 119.3h0M235.0 77.6h0M149.1 174.6h0M200.0 104.1h0M175.0 169.9h0M138.3 167.1h0M267.0 195.0h0M266.0 185.5h0M202.2 122.0h0M118.5 221.1h0M241.1 84.2h0M231.4 204.4h0M136.6 187.0h0M266.1 75.2h0M129.5 153.5h0M163.2 122.9h0M252.1 192.3h0M274.4 167.1h0M157.4 121.4h0M157.6 167.6h0M194.5 99.8h0M248.2 240.7h0M195.4 126.5h0M218.5 180.9h0M174.7 176.5h0M247.0 143.8h0M75.9 188.2h0M226.0 99.4h0M171.0 148.8h0M114.2 213.1h0M132.4 174.5h0M136.7 209.7h0M108.4 233.1h0M202.2 155.6h0M117.6 206.4h0M181.6 142.7h0M173.7 116.2h0M249.3 48.2h0M115.1 199.4h0M158.3 163.4h0M211.0 164.0h0M228.1 112.3h0M75.6 177.9h0M174.5 158.6h0M270.8 194.8h0M157.2 169.1h0M216.3 106.0h0M200.6 138.3h0M197.8 186.4h0M165.6 171.5h0M167.0 148.6h0M203.7 130.6h0M217.5 148.1h0M135.9 175.1h0M165.3 146.6h0M177.4 213.1h0M176.6 169.8h0M192.0 201.5h0M114.3 237.3h0M157.8 163.4h0M145.0 175.3h0M204.0 134.4h0M174.9 211.6h0M210.2 111.7h0M244.0 96.5h0M230.7 87.0h0M251.1 209.3h0M244.4 105.8h0M118.7 182.3h0M200.4 173.5h0M241.7 78.3h0M126.9 208.3h0M198.1 114.9h0M258.1 110.9h0M129.1 205.7h0M150.1 184.6h0M242.6 110.7h0M125.0 203.3h0M135.2 198.2h0M129.0 177.8h0M138.3 194.3h0M112.1 215.0h0M144.3 239.0h0M254.8 232.6h0M136.4 192.4h0M198.0 153.0h0M192.5 147.2h0M156.4 170.5h0M179.7 159.2h0M257.1 209.7h0M186.7 142.3h0M173.2 204.4h0M177.7 155.6h0M198.6 136.3h0M253.7 234.7h0M198.0 111.8h0M144.0 185.5h0" stroke="#e0180c"/><path d="M226.6 217.0h0M208.8 234.6h0M203.9 229.6h0M224.2 215.9h0M249.1 60.4h0M228.8 198.2h0M225.3 74.9h0M232.3 150.1h0M246.6 151.6h0M230.6 157.9h0M227.5 77.2h0M238.6 51.7h0M245.1 53.6h0M231.6 155.5h0M234.0 70.2h0M190.8 241.9h0M203.8 44.4h0M227.0 193.7h0M256.0 74.1h0" stroke="#4a64f8"/><path d="M221.3 157.4h0M208.6 160.4h0M223.6 70.0h0M182.3 230.0h0M192.3 211.6h0M234.4 72.9h0M236.6 193.2h0M234.2 61.8h0M222.4 175.5h0M209.0 231.0h0M231.8 229.3h0M215.8 223.2h0M230.2 216.6h0M226.0 230.1h0M234.5 48.5h0M240.7 60.5h0M227.7 84.2h0M211.3 225.3h0M225.7 87.6h0M227.6 77.4h0M243.2 57.4h0M239.4 186.6h0" stroke="#4b79f7"/><path d="M220.6 206.8h0M232.3 218.0h0M229.4 225.0h0M254.9 54.3h0M211.1 242.1h0M206.1 234.5h0M215.3 170.3h0M228.1 95.5h0M224.8 216.8h0M215.0 228.8h0M237.2 65.6h0M216.5 224.5h0M235.7 62.9h0M227.6 83.3h0M242.6 49.8h0M247.8 56.1h0M243.1 157.9h0M241.6 69.0h0M235.1 64.4h0M234.3 182.2h0M250.8 90.0h0M231.3 191.0h0M224.8 207.8h0M230.2 168.3h0M198.6 223.1h0M217.7 98.3h0M214.5 225.2h0M233.0 91.0h0M243.3 89.3h0M215.8 231.4h0M222.5 99.3h0" stroke="#4f89f4"/><path d="M210.5 77.2h0M248.9 58.9h0M230.0 218.9h0" stroke="#569af2"/><path d="M225.1 75.4h0M235.0 57.4h0M227.1 69.4h0M192.1 82.6h0M213.5 82.5h0M218.7 92.3h0M206.8 102.8h0M208.4 98.4h0M210.5 99.6h0" stroke="#5daaf0"/><path d="M207.8 93.8h0M208.9 106.4h0M195.3 101.5h0M245.1 67.0h0M238.3 54.7h0M226.7 65.9h0M210.5 63.5h0" stroke="#64b7ed"/><path d="M230.7 206.9h0M206.6 89.6h0M204.5 81.9h0M217.6 33.4h0M257.9 51.3h0M246.1 59.6h0M221.4 91.1h0M222.2 87.9h0M193.3 228.1h0M238.0 125.2h0M216.6 72.3h0M240.9 52.8h0M224.5 87.1h0M231.6 209.1h0" stroke="#6bc4e9"/><path d="M224.5 241.2h0M235.3 154.4h0M227.1 88.0h0M240.9 34.5h0M232.0 211.8h0M235.5 89.8h0M255.3 130.5h0M217.4 160.8h0M245.1 135.0h0M231.5 86.0h0M234.1 169.7h0M206.6 202.2h0M191.0 196.4h0M216.6 80.7h0M236.3 64.3h0M237.4 90.3h0M229.3 214.3h0M230.4 219.5h0M220.9 186.0h0M215.9 238.6h0M248.6 92.8h0M104.9 86.1h0M254.4 121.3h0M197.8 220.2h0M242.7 115.5h0M224.6 163.2h0M221.7 162.6h0M213.4 218.4h0M236.6 220.1h0M240.1 82.8h0M242.2 126.6h0M235.3 167.7h0M226.6 241.3h0M207.2 233.7h0M249.2 74.2h0M199.7 154.9h0M192.0 228.4h0M225.9 113.7h0M236.1 167.6h0M203.4 234.8h0M209.6 95.9h0M217.5 73.7h0M242.6 56.9h0M254.2 65.8h0M227.2 205.8h0M238.7 131.7h0M223.3 76.4h0M217.4 161.0h0M203.5 238.4h0M236.8 203.7h0M237.1 116.9h0M220.1 88.5h0M247.2 65.9h0M224.6 117.9h0M224.1 91.0h0M237.2 133.7h0M218.4 105.1h0M241.7 191.1h0M239.4 150.5h0M243.8 102.1h0M233.8 96.8h0M247.2 84.1h0M236.2 140.1h0M231.5 160.0h0M230.3 64.4h0M255.3 76.9h0M248.4 96.2h0M233.5 184.8h0M225.4 152.0h0M73.2 99.9h0M229.4 206.3h0M259.8 119.7h0M243.7 82.1h0M189.0 174.7h0M193.9 235.1h0M237.7 58.3h0M255.0 95.9h0M215.7 216.4h0M215.7 154.3h0M211.2 209.8h0M215.4 236.4h0M207.7 226.3h0M194.9 238.5h0M196.7 240.9h0M233.9 62.6h0M224.0 85.5h0M244.0 86.7h0M238.3 57.1h0M198.1 165.4h0M242.4 142.8h0M228.7 150.0h0M214.8 223.8h0M187.7 188.2h0M225.5 210.9h0M237.4 191.2h0M222.6 215.7h0M229.1 90.4h0M194.0 176.3h0M203.8 240.5h0M218.7 196.8h0M224.6 161.9h0M229.3 211.3h0M245.0 113.1h0M248.8 59.0h0M239.0 226.7h0M223.1 143.1h0M218.3 227.5h0" stroke="#72d0e2"/><path d="M220.3 185.7h0M196.1 156.6h0M225.7 205.2h0M220.8 86.6h0M254.3 93.4h0M221.2 138.1h0M246.2 85.5h0M236.4 228.0h0M234.8 81.3h0M236.6 158.5h0M216.9 219.6h0M223.0 229.7h0M197.1 194.2h0M235.1 57.4h0M235.2 174.0h0M236.8 91.9h0M246.4 110.7h0M222.9 226.2h0M201.5 187.4h0M248.3 114.5h0M229.1 157.2h0M248.5 111.0h0M218.7 90.7h0M233.0 73.0h0M188.9 158.9h0M215.7 237.8h0M229.5 68.7h0M221.2 216.9h0M205.2 171.3h0M204.6 222.9h0M226.2 82.2h0M200.1 240.7h0M205.9 104.5h0M216.8 232.8h0M223.5 73.6h0M220.9 78.7h0M218.4 102.1h0M214.3 188.5h0M199.3 178.6h0M229.0 224.8h0M214.2 222.3h0M234.9 139.8h0M239.8 70.6h0M235.8 57.2h0M225.9 151.7h0M222.4 238.0h0M232.0 205.1h0M202.1 193.1h0M222.8 141.1h0M232.3 193.7h0M233.6 198.5h0M253.9 76.5h0M251.8 66.1h0M224.7 71.9h0M202.8 232.0h0M236.9 129.3h0M229.3 226.2h0M244.6 51.5h0M207.6 98.5h0M198.4 183.5h0M247.8 152.7h0M204.1 49.7h0M230.5 191.8h0M221.9 203.1h0M228.8 212.5h0M213.3 90.4h0M209.9 239.4h0M215.2 142.5h0M249.2 73.5h0M208.3 93.5h0M212.1 110.9h0M221.5 228.3h0" stroke="#79dada"/><path d="M234.6 85.0h0M205.7 95.9h0M220.9 208.9h0M212.9 179.9h0M208.2 185.6h0M203.0 218.6h0M201.4 216.7h0M227.0 87.6h0M247.6 124.2h0M239.2 236.7h0M251.4 70.0h0M248.7 138.7h0M232.0 132.2h0M226.5 134.5h0M230.7 208.0h0M233.1 77.3h0M231.0 85.2h0M244.5 148.8h0M197.2 195.6h0M232.1 86.6h0M250.2 112.3h0M217.1 214.4h0M228.3 152.7h0M223.6 236.2h0M237.4 66.8h0M229.4 111.8h0M251.8 55.0h0M206.7 171.7h0M257.6 66.8h0M214.9 168.0h0M222.3 78.3h0M225.5 176.0h0M211.8 104.5h0M231.1 92.1h0M234.5 226.7h0M229.9 99.6h0M203.3 161.2h0M230.1 71.8h0M251.1 98.0h0M220.1 158.7h0M243.2 81.3h0M198.4 175.9h0M244.6 48.8h0M208.2 234.5h0M228.5 87.4h0M229.5 78.8h0M244.4 154.9h0M218.9 233.2h0M203.7 168.6h0M229.6 153.0h0M234.7 180.5h0M239.3 158.8h0M219.7 155.7h0M221.8 168.1h0M235.9 218.0h0M249.2 69.5h0M234.5 92.9h0M213.4 242.5h0M258.6 53.4h0M236.8 55.2h0M199.4 223.0h0M244.8 85.7h0M216.3 162.6h0M198.8 48.8h0M220.9 107.1h0M225.7 103.0h0M194.9 166.6h0M238.4 213.9h0M217.0 227.7h0M208.4 89.3h0M251.9 92.4h0M237.1 95.2h0M216.2 199.4h0M234.3 226.6h0M228.1 121.5h0M213.2 92.4h0M231.2 84.6h0M223.4 120.7h0M235.0 54.9h0M211.6 79.5h0M217.7 45.3h0M211.9 226.5h0" stroke="#80e3d1"/><path d="M247.6 97.0h0M257.0 83.8h0M204.0 188.3h0M231.1 73.7h0" stroke="#87eac7"/><path d="M195.7 143.9h0M258.2 110.8h0M245.6 194.1h0M223.0 124.3h0M137.8 154.8h0M215.7 112.4h0M263.5 60.5h0M216.4 87.4h0M209.2 121.1h0M229.7 239.3h0M231.6 156.5h0M230.6 163.3h0M248.0 113.7h0M225.0 219.1h0M235.3 49.2h0M240.5 114.7h0M214.9 180.2h0M212.6 138.0h0M211.5 113.5h0M229.5 137.4h0M206.6 105.4h0M96.4 94.5h0M222.9 196.8h0M220.6 215.9h0M212.5 131.0h0M267.1 146.5h0M235.7 138.8h0M195.3 183.5h0M230.2 74.9h0M240.3 124.4h0M202.4 140.1h0M233.3 84.4h0M235.3 119.6h0M216.6 95.9h0M190.2 180.7h0M257.5 117.0h0M219.1 151.9h0M204.0 107.8h0M258.2 55.9h0M242.1 135.2h0M266.2 96.8h0M273.5 197.0h0M263.8 55.9h0M216.7 166.8h0M251.5 78.7h0M235.6 188.5h0M225.0 83.8h0M274.2 207.5h0M213.0 219.8h0M239.8 120.3h0M241.9 233.5h0M245.9 53.4h0M202.5 116.1h0M226.0 110.1h0M183.2 107.8h0M269.4 174.9h0M275.3 184.4h0M251.5 76.2h0M226.6 227.6h0M244.8 133.7h0M231.0 70.6h0M243.6 219.0h0M224.5 83.1h0M264.0 199.9h0M218.3 101.4h0M230.9 242.4h0M242.3 228.7h0M218.0 153.3h0M196.7 192.5h0M262.8 209.1h0M239.5 115.5h0M232.4 224.4h0M218.3 126.1h0M223.9 78.8h0M202.2 193.1h0M235.2 128.8h0M267.8 86.7h0M249.3 92.9h0M246.9 125.1h0M194.6 212.4h0M228.9 140.8h0M189.5 185.0h0M262.5 104.3h0M251.7 123.1h0M207.4 155.3h0M266.2 62.4h0M253.8 55.0h0M221.2 229.8h0M255.5 192.5h0M214.1 175.0h0M196.0 128.5h0M207.8 172.8h0M239.1 228.8h0M194.8 169.7h0M195.2 170.3h0M177.2 192.3h0M254.5 233.1h0M245.6 82.6h0M201.7 228.6h0M274.0 183.9h0M254.1 118.3h0M221.1 130.0h0M202.0 239.7h0M221.4 87.8h0M228.1 239.5h0M203.5 102.4h0M250.1 104.1h0M192.5 106.0h0M261.8 182.0h0M211.4 140.3h0M264.8 66.7h0M220.6 178.8h0M248.2 154.5h0M221.1 235.7h0M209.9 108.1h0M213.5 113.2h0M252.2 194.3h0M236.3 116.9h0M224.3 174.6h0M237.7 144.7h0M207.4 170.7h0M251.8 80.9h0M228.3 123.6h0M262.2 214.3h0M223.0 107.7h0M188.2 233.0h0M235.2 230.6h0M273.1 66.7h0M204.5 157.6h0M243.5 104.1h0M236.5 87.7h0M239.1 211.7h0M246.4 100.6h0M232.4 128.9h0M248.8 123.4h0M230.8 104.7h0M227.9 138.0h0M192.8 146.7h0M235.3 121.6h0M208.3 142.5h0M234.6 154.9h0M236.5 80.8h0M210.0 206.1h0M238.1 234.1h0M267.4 52.7h0M181.5 197.0h0M229.3 114.2h0M200.5 150.4h0" stroke="#8feebd"/><path d="M273.4 201.7h0M245.1 85.2h0M219.8 242.0h0M232.4 222.7h0M253.0 136.0h0M224.0 110.3h0M185.7 178.1h0M255.2 228.3h0M218.7 130.3h0M247.7 119.4h0M222.5 146.3h0M256.4 65.4h0M185.6 183.7h0M229.0 137.5h0M261.4 51.9h0M232.4 238.1h0M226.4 101.1h0M273.9 203.2h0M256.5 86.1h0M255.0 88.9h0M232.1 241.9h0M214.0 116.2h0M204.3 99.0h0M271.3 152.0h0M198.2 210.1h0M192.9 88.6h0M205.6 174.1h0M217.3 229.5h0M205.2 173.3h0M234.2 151.4h0M198.0 139.5h0M225.6 232.0h0M233.8 83.8h0M225.6 79.7h0M235.9 146.6h0M252.0 107.9h0M243.5 81.6h0M241.8 218.5h0M243.1 115.6h0M227.3 167.0h0M228.9 163.5h0M190.5 188.8h0M253.1 67.3h0M221.0 112.4h0M212.5 126.8h0M241.1 209.9h0M210.8 145.4h0M217.5 85.9h0M229.5 112.4h0M254.8 219.5h0M212.6 97.0h0M205.0 106.8h0M248.4 85.0h0M225.6 106.0h0M262.7 88.4h0M244.0 186.3h0M266.5 48.6h0M239.3 73.5h0M242.2 121.6h0M247.7 60.9h0M217.8 156.7h0M257.2 71.9h0M218.1 166.8h0M192.6 242.5h0M201.9 149.0h0M245.4 115.2h0M248.3 86.2h0M243.8 77.5h0M265.8 100.5h0M245.1 126.3h0M203.0 140.9h0M235.5 80.1h0M226.8 97.0h0M193.4 110.1h0M223.7 77.0h0M213.2 222.9h0M202.1 185.0h0M224.9 218.2h0M199.6 82.7h0M264.2 180.4h0M228.4 107.0h0M260.2 52.0h0M248.1 144.0h0M224.1 99.8h0M232.1 122.8h0M238.1 192.3h0M242.3 60.9h0M220.8 115.4h0M188.6 162.8h0M254.4 52.0h0M274.1 202.4h0M233.9 125.4h0M250.4 51.0h0M211.9 137.7h0M211.1 166.1h0M238.8 188.4h0M231.5 155.9h0M237.8 74.1h0M94.3 172.9h0M246.5 220.9h0M239.2 63.3h0M197.1 216.0h0M212.3 146.5h0M227.5 82.5h0M199.6 215.2h0M205.2 233.7h0M184.3 229.3h0M266.8 59.8h0M212.1 170.7h0M232.0 128.3h0M265.1 99.0h0M139.5 154.1h0M219.1 133.8h0M242.7 84.6h0M212.5 229.1h0M252.6 69.4h0M233.1 94.4h0M230.5 111.2h0M199.7 178.3h0M194.7 218.8h0M217.1 146.5h0M197.0 115.6h0M261.5 114.8h0M228.7 70.4h0M240.8 195.5h0M196.6 102.2h0M238.8 154.7h0M224.2 171.3h0M244.7 103.2h0M233.0 97.3h0M254.7 237.5h0M238.2 203.6h0M243.5 128.3h0M219.5 242.5h0M251.8 95.4h0M253.6 104.9h0M216.3 216.3h0M251.2 112.2h0M224.6 105.3h0M205.9 183.3h0M200.0 195.0h0M198.1 240.8h0M250.0 93.5h0M255.3 190.7h0M254.2 85.3h0M186.1 194.0h0M254.5 233.7h0M254.7 82.9h0M213.7 130.7h0M238.6 202.3h0M222.3 132.8h0M247.5 115.0h0M233.7 146.7h0M198.1 149.1h0M238.9 100.7h0M196.7 86.8h0M260.9 58.4h0M230.6 109.0h0M207.0 229.2h0M206.3 215.9h0M275.4 183.0h0M224.6 239.2h0M238.2 141.7h0M229.0 151.3h0M207.0 197.6h0M236.1 130.7h0M205.9 195.1h0M188.5 198.6h0M76.2 118.0h0M190.2 195.2h0M192.9 180.3h0M233.8 92.9h0M265.6 86.0h0M242.6 140.9h0M256.0 231.5h0M217.6 235.6h0M226.0 240.5h0M221.3 92.6h0M237.6 108.9h0M264.5 220.8h0M248.1 110.4h0M239.5 73.4h0M201.6 238.4h0M86.7 126.9h0M192.7 213.8h0M216.5 125.5h0M211.9 97.4h0M215.3 123.8h0M196.6 232.8h0M225.3 149.8h0M232.1 76.7h0M190.7 180.5h0M244.2 139.6h0M233.0 223.8h0M230.3 232.4h0M208.9 140.2h0M249.1 108.0h0M265.5 219.1h0M204.4 133.9h0M246.7 126.4h0M246.9 132.9h0M187.2 103.3h0M234.9 67.4h0M255.3 51.3h0M262.4 164.4h0M216.7 208.1h0M246.1 115.6h0M253.7 130.8h0M55.6 157.2h0M233.8 96.3h0M263.0 112.6h0M221.9 185.1h0M233.0 160.5h0M230.6 239.6h0M224.9 81.1h0M203.6 91.9h0M249.0 112.3h0M225.7 74.0h0M240.6 127.7h0M202.4 104.7h0M234.4 140.3h0M233.3 207.8h0M254.1 102.7h0M247.1 90.0h0M264.6 193.7h0M245.5 119.6h0M260.2 107.3h0M212.2 212.2h0M226.8 164.5h0M219.9 69.6h0M245.2 196.6h0M256.9 69.7h0M213.1 120.0h0M201.7 166.5h0M208.2 182.1h0M217.1 106.0h0M203.7 101.8h0M232.4 227.9h0M219.8 97.6h0M137.7 173.6h0M242.6 85.2h0M196.5 144.2h0M238.1 213.9h0M74.3 99.3h0M230.3 240.7h0M259.5 204.8h0M214.3 169.4h0M253.2 96.6h0M233.7 136.0h0M197.4 199.0h0M211.7 99.4h0M239.8 97.9h0M203.5 173.0h0M252.3 66.1h0M260.9 106.0h0M221.5 90.5h0M254.9 211.2h0M217.0 128.5h0M226.0 151.3h0M185.1 202.7h0M267.7 51.4h0M229.2 228.7h0M258.9 99.6h0M247.5 139.9h0M230.7 178.6h0M251.2 57.0h0M143.0 121.3h0M239.6 87.7h0M216.8 108.0h0M196.3 170.7h0M213.7 91.8h0M198.5 198.3h0M218.2 140.8h0M236.1 180.7h0M244.5 77.4h0M188.9 184.5h0M197.7 87.8h0M271.7 183.7h0M229.7 182.0h0M141.2 122.4h0M237.9 206.5h0M230.6 128.3h0" stroke="#9aefaf"/><path d="M235.0 146.7h0M248.5 202.0h0M207.1 119.4h0M251.1 111.2h0M264.5 55.0h0M224.8 222.4h0M238.0 129.7h0M216.1 219.8h0M241.5 188.3h0M232.6 207.9h0M274.7 208.4h0M220.9 121.4h0M253.1 62.2h0M258.0 106.6h0M237.3 48.9h0M201.8 207.7h0M236.3 242.5h0M239.3 84.5h0M236.9 79.5h0M214.5 110.0h0M227.1 122.2h0M244.8 98.5h0M260.3 59.0h0M232.6 110.5h0M207.7 150.5h0M246.9 111.5h0M227.6 157.4h0M228.6 164.8h0M232.4 77.6h0M247.9 75.6h0M234.1 168.6h0M236.2 74.8h0M248.8 134.5h0M264.4 99.3h0M180.6 163.3h0M240.7 204.7h0M235.1 87.8h0M221.6 51.3h0M223.1 105.1h0M231.4 224.4h0M224.9 105.9h0M218.8 224.2h0M258.7 123.0h0M236.2 158.6h0M225.2 73.4h0M196.4 151.4h0M256.4 73.7h0M201.7 219.8h0M219.2 230.0h0M220.8 132.1h0M178.9 209.1h0M240.6 80.8h0M218.7 72.2h0M188.5 147.8h0M226.3 158.4h0M226.9 173.0h0M215.1 130.4h0M240.9 97.4h0M238.4 132.5h0M223.5 132.5h0M266.5 52.5h0M238.8 123.0h0M254.5 59.6h0M253.0 94.7h0M212.9 112.0h0M192.7 153.2h0M231.5 225.0h0M226.5 174.9h0M219.9 155.8h0M238.4 126.6h0M221.9 72.8h0M223.6 129.5h0M208.6 160.7h0M247.0 235.7h0M242.2 154.1h0M226.6 170.4h0M252.4 106.2h0M219.4 238.2h0M222.5 120.5h0M255.2 224.3h0M219.1 112.3h0M223.9 110.7h0M234.3 165.6h0M260.1 73.9h0M262.3 65.1h0M229.9 186.4h0M199.6 141.6h0M211.0 114.3h0M229.4 91.7h0M257.1 231.2h0M227.3 81.0h0M245.4 84.0h0M229.5 134.3h0M259.4 195.6h0M232.5 71.7h0M230.3 118.7h0M181.2 193.0h0M209.2 223.3h0M246.6 58.2h0M211.0 237.7h0M221.0 231.3h0M253.4 142.8h0M238.0 153.7h0M205.6 167.9h0M260.2 197.8h0M207.7 153.4h0M251.3 70.8h0M225.5 116.9h0M222.4 221.7h0M211.6 100.0h0M252.6 124.7h0M246.8 144.6h0M263.1 104.9h0M233.5 150.7h0M248.1 88.8h0M215.8 172.2h0M224.1 76.0h0M86.9 153.4h0M216.6 221.6h0M239.1 179.5h0M185.4 185.1h0M260.1 214.9h0M214.5 86.4h0M262.0 209.9h0M244.1 117.5h0M263.3 84.2h0M252.8 224.5h0M226.5 160.6h0M206.9 144.3h0M263.9 104.4h0M213.3 90.2h0M207.9 126.9h0M225.4 122.8h0M238.3 144.8h0M265.8 84.7h0M219.3 109.8h0M245.7 77.9h0M195.0 130.4h0M270.4 203.5h0M263.7 188.9h0M202.5 176.2h0M251.1 103.2h0M251.8 107.2h0M199.2 134.7h0M215.7 146.5h0M220.5 221.9h0M237.9 79.0h0M241.7 81.6h0M129.9 164.1h0M251.5 55.8h0M250.5 145.5h0M229.4 110.4h0M193.8 170.9h0M258.2 201.6h0M217.9 194.1h0M217.0 152.1h0M195.7 98.7h0M210.5 231.6h0M242.8 119.3h0M248.8 74.4h0M231.3 161.1h0M226.8 154.8h0M231.0 226.5h0M209.9 104.3h0M134.7 85.1h0M249.8 110.3h0M222.7 101.6h0M245.3 108.2h0M272.8 215.0h0M144.3 163.8h0M266.9 45.2h0M197.6 196.3h0M223.0 124.5h0M238.9 123.7h0M210.6 222.9h0M257.5 65.7h0M224.1 210.5h0M192.6 111.5h0M259.7 120.9h0M226.5 238.1h0M152.5 188.9h0M234.3 91.6h0M203.0 93.4h0M275.3 132.8h0M242.1 77.9h0M218.3 159.3h0M259.9 75.0h0M256.4 112.7h0M194.4 186.0h0M202.8 222.1h0M225.3 127.1h0M234.5 223.5h0M226.2 98.5h0M224.5 133.7h0M249.9 64.1h0M207.1 157.4h0M256.6 96.6h0M244.9 227.0h0M211.4 117.7h0M241.2 109.3h0M243.3 113.4h0M245.7 70.9h0M259.8 63.0h0M218.3 202.0h0M193.6 120.1h0M211.6 226.3h0M92.2 149.5h0M261.7 59.5h0M192.4 221.8h0M217.9 240.5h0M259.1 63.8h0M199.2 90.7h0M243.1 78.4h0M180.9 120.2h0M203.4 112.2h0M228.5 76.0h0M214.9 130.6h0M227.1 154.3h0M186.2 120.8h0M263.3 78.3h0M198.9 151.6h0M197.5 104.8h0M216.5 136.7h0M231.6 201.5h0M227.1 69.1h0M225.2 102.2h0M211.8 158.2h0M182.0 72.4h0M219.7 103.1h0M224.7 217.0h0M252.6 72.9h0M236.3 204.8h0M254.3 55.1h0M241.2 66.1h0M187.2 154.8h0M223.4 229.4h0M210.8 105.2h0M262.6 97.2h0M237.6 215.9h0M201.1 125.0h0M217.0 181.7h0M250.6 100.2h0M264.6 201.1h0M239.1 76.0h0M190.9 178.9h0M189.0 201.1h0M230.3 136.8h0M219.5 123.2h0M229.4 131.7h0M258.9 60.1h0M239.9 238.3h0M251.7 105.1h0M206.3 199.9h0M213.6 116.1h0M225.5 170.3h0M240.0 114.8h0" stroke="#a7efa3"/><path d="M246.8 95.2h0M214.9 74.9h0M253.6 93.5h0M177.0 208.1h0M200.2 151.7h0M245.6 63.7h0M227.5 173.4h0M219.5 99.7h0M245.8 154.8h0M237.8 120.5h0M239.9 67.5h0M266.3 89.1h0M193.7 93.8h0M225.3 218.7h0M264.0 174.9h0M214.5 218.1h0M209.3 162.1h0M261.7 71.2h0M261.0 64.1h0M258.7 108.5h0M262.9 101.1h0M251.1 91.3h0M222.5 226.5h0M249.2 87.7h0M205.0 189.5h0M209.0 238.6h0M173.6 81.9h0M247.8 115.3h0M232.4 231.5h0M218.2 239.8h0M203.0 169.0h0M103.2 159.7h0M202.6 237.6h0M263.8 69.5h0M241.0 82.6h0M227.2 93.3h0M233.6 93.4h0M260.6 223.1h0M250.6 107.8h0M211.4 109.3h0M247.7 202.4h0M244.7 135.7h0M264.3 56.4h0M223.7 108.8h0M228.7 151.0h0M209.1 119.0h0M254.8 69.6h0M217.7 212.9h0M246.6 137.6h0M232.2 163.3h0M178.2 203.1h0M206.7 135.5h0M247.1 238.4h0M242.9 143.7h0M231.4 106.7h0M205.6 142.5h0M208.4 187.7h0M236.8 137.8h0M222.6 87.5h0M216.7 125.2h0M256.3 87.2h0M256.7 54.5h0M251.4 125.1h0M173.6 186.8h0M265.8 224.2h0M268.7 176.1h0M260.7 202.6h0M215.0 126.8h0M262.2 177.0h0M230.9 234.2h0M200.8 112.1h0M227.5 228.8h0M191.3 109.7h0M249.5 218.7h0M238.7 197.5h0M244.3 72.9h0M252.0 70.8h0M217.8 128.4h0M272.3 182.0h0M246.7 96.2h0M238.5 95.9h0M219.8 180.6h0M215.9 198.6h0M237.4 104.6h0M208.8 177.5h0M214.5 115.8h0M211.9 149.8h0M247.7 173.9h0M107.7 84.8h0M182.9 102.3h0M236.7 110.3h0M225.8 107.3h0M244.4 57.6h0M259.4 222.8h0M256.7 107.3h0M243.2 109.7h0M206.7 232.7h0M255.1 63.4h0M252.5 138.6h0M200.7 184.3h0M218.0 102.9h0M205.4 132.0h0M241.4 95.8h0M207.1 165.4h0M206.7 116.8h0M265.5 209.8h0M237.0 104.1h0M266.5 177.9h0M249.2 101.2h0M225.0 131.6h0M258.8 58.8h0M261.7 111.4h0M204.3 208.0h0M260.4 102.2h0M244.4 168.4h0M200.7 183.2h0M222.0 235.4h0M229.7 231.2h0M193.2 154.8h0M239.9 126.7h0M216.8 117.3h0M216.9 85.5h0M221.6 98.0h0M236.4 54.4h0M230.6 181.8h0M239.2 68.9h0M256.8 188.6h0M199.1 220.6h0M224.0 126.4h0M222.7 238.6h0M233.8 91.8h0M191.8 239.7h0M228.4 136.4h0M209.8 240.6h0M262.2 108.5h0M228.7 132.5h0M256.8 83.5h0M230.6 140.0h0M83.4 102.6h0M268.7 203.1h0M204.2 232.6h0M204.7 239.9h0M233.1 126.5h0M227.3 108.7h0M213.3 136.7h0M243.4 69.1h0M241.8 137.2h0M207.7 171.4h0M229.2 117.5h0" stroke="#b5ed9a"/><path d="M266.0 219.7h0M267.9 189.0h0M191.6 166.7h0M244.5 202.8h0M260.3 187.0h0M182.9 177.4h0M260.1 217.1h0M273.0 208.5h0" stroke="#c3e794"/><path d="M264.4 221.6h0M251.1 228.1h0M207.8 175.5h0M242.8 237.4h0M220.7 162.9h0M210.1 154.3h0M258.8 229.7h0M200.6 171.5h0M272.1 171.8h0M191.7 183.9h0M255.9 215.5h0M251.3 215.8h0M141.5 118.2h0M206.1 166.5h0M256.7 201.8h0M193.7 164.5h0M272.9 162.8h0M214.1 172.8h0M272.7 199.0h0M211.6 169.4h0M252.1 223.2h0M242.7 218.1h0M251.2 239.9h0M193.4 173.6h0M197.4 169.9h0M273.8 215.9h0M245.2 224.4h0M270.5 187.1h0M260.0 232.1h0M256.1 194.5h0M274.2 214.9h0M262.8 216.1h0M260.6 200.3h0M190.3 177.1h0" stroke="#d1e090"/><path d="M250.3 192.3h0M245.7 234.2h0M266.5 172.8h0M256.0 201.7h0M267.0 202.5h0M248.8 234.5h0M262.8 220.0h0M248.2 223.6h0M269.2 217.9h0M272.1 204.3h0M146.3 140.6h0M257.9 206.8h0M261.1 181.7h0M247.0 216.5h0M130.2 140.1h0M193.7 165.8h0M216.8 172.1h0M182.5 168.6h0M267.8 196.6h0M264.5 220.9h0M243.0 212.1h0M197.4 159.4h0M188.3 166.4h0M255.6 235.1h0M249.0 205.7h0M271.1 203.3h0M273.5 181.8h0M220.0 142.3h0M272.1 182.2h0M81.0 149.8h0M249.7 226.3h0M212.7 172.2h0" stroke="#dfd98b"/><path d="M199.5 142.8h0M219.7 178.7h0M273.6 204.9h0M243.8 219.1h0M261.1 226.3h0M259.4 220.0h0M256.1 194.4h0M109.9 142.9h0M265.0 204.1h0M211.7 157.0h0M271.5 202.5h0M156.1 148.9h0M249.3 207.0h0M213.8 164.6h0M187.9 162.7h0M226.1 151.2h0M262.2 187.2h0M200.4 173.9h0M193.8 146.9h0M255.1 204.3h0M216.6 166.2h0M138.6 161.2h0M252.7 199.0h0M267.2 220.7h0" stroke="#eacf85"/><path d="M211.4 123.9h0M263.5 176.1h0M236.6 107.5h0M218.7 198.8h0M171.3 147.8h0M215.9 102.7h0M92.6 237.8h0M192.3 97.7h0M256.2 104.1h0M212.7 92.0h0M166.8 163.0h0M272.8 165.7h0M239.0 116.8h0M267.2 219.9h0M151.8 132.6h0M185.2 200.2h0M181.4 129.6h0M251.5 110.2h0M246.5 237.9h0M256.6 88.5h0M242.7 102.0h0M266.1 167.2h0M258.7 119.3h0M242.1 210.8h0M270.1 200.4h0M250.2 67.0h0M213.5 219.5h0M229.2 115.4h0M239.7 239.8h0M235.3 81.6h0M262.2 51.4h0M197.5 228.5h0M145.2 157.5h0M200.9 123.1h0M268.0 52.2h0M253.0 129.7h0M262.7 100.4h0M245.1 116.2h0M242.6 196.9h0M249.4 191.1h0M249.9 76.4h0M232.7 141.1h0M258.9 60.4h0M243.6 126.7h0M242.0 89.5h0M265.8 185.3h0M246.9 195.2h0M156.8 183.7h0M244.7 201.7h0M158.2 117.0h0M195.4 153.9h0M255.9 218.8h0M146.9 171.2h0M266.1 72.1h0M231.3 173.7h0M216.6 222.0h0M218.4 114.4h0M229.1 217.5h0M262.3 217.2h0M263.1 194.4h0M271.9 198.7h0M257.3 98.8h0M261.2 204.2h0M256.8 219.4h0M243.2 226.5h0M134.4 209.3h0M249.6 222.7h0M150.4 185.1h0M257.1 219.5h0M256.9 193.9h0M240.4 235.6h0M243.9 109.3h0M208.8 213.9h0M143.8 234.1h0M199.7 188.3h0M257.9 118.5h0M233.3 104.8h0M245.3 135.0h0M201.8 174.3h0M236.7 241.8h0M228.0 138.8h0M275.7 176.0h0M194.5 151.2h0M242.6 223.8h0M244.1 136.5h0M235.0 143.9h0M137.1 187.2h0M190.1 169.9h0M257.9 57.9h0M156.5 147.7h0M262.1 147.6h0M248.3 227.9h0M226.3 119.5h0M256.7 107.1h0M244.3 77.9h0M183.7 216.3h0M193.3 112.3h0M209.8 111.4h0M233.9 154.8h0M196.7 114.7h0M271.9 203.2h0M225.3 78.4h0M202.8 191.8h0M254.5 103.3h0M262.7 220.8h0M256.3 191.1h0M247.1 240.8h0M266.0 92.6h0M191.7 124.8h0M256.9 180.9h0M122.6 163.7h0M205.2 173.0h0M255.4 223.5h0M251.0 77.5h0M204.0 233.3h0M271.9 204.5h0M247.4 132.9h0M268.4 187.1h0M214.1 128.7h0M194.7 173.1h0M189.9 165.5h0M182.7 214.7h0M260.4 208.6h0M244.2 216.2h0M252.6 175.7h0M171.4 164.3h0M241.6 148.8h0M151.9 180.4h0M235.1 218.9h0M228.4 79.9h0M178.4 182.7h0M232.8 233.3h0M208.9 120.0h0M255.0 106.3h0M215.0 239.1h0M250.6 224.1h0M267.8 203.7h0M206.6 173.4h0M244.2 128.8h0M224.1 123.1h0M202.3 177.7h0M219.6 112.2h0M195.1 144.7h0M186.2 145.6h0M252.3 201.3h0M174.3 242.3h0M130.2 131.3h0M249.7 89.5h0M267.1 69.2h0M112.9 145.7h0M274.2 161.2h0M214.2 93.7h0M224.4 129.2h0M215.2 115.4h0M203.7 114.1h0M269.3 210.5h0M252.5 225.9h0M270.2 212.3h0M206.7 225.5h0M209.1 125.8h0M204.5 163.0h0M211.1 181.6h0M236.8 209.3h0M260.1 173.2h0M236.8 113.6h0M222.8 128.5h0M253.8 232.6h0M185.8 209.0h0M175.4 154.2h0M181.5 117.5h0M214.5 225.0h0M226.0 104.6h0M239.1 144.3h0M239.5 229.6h0M249.3 82.7h0M173.9 139.3h0M252.0 192.7h0M241.9 84.6h0M261.7 199.9h0M263.6 164.9h0M247.0 205.2h0M172.4 131.7h0M218.3 134.0h0M230.3 232.0h0M156.6 206.5h0M247.7 111.8h0M190.2 101.7h0M258.9 107.7h0M231.0 143.6h0M211.5 236.0h0M259.3 197.0h0M213.1 174.4h0M254.3 115.6h0M207.8 183.0h0M187.9 159.0h0M195.1 126.9h0M261.4 110.9h0M214.7 125.6h0M270.5 180.7h0M84.3 188.2h0M260.1 106.8h0M258.1 49.5h0M251.8 63.7h0M272.9 190.2h0M217.9 161.5h0M219.9 221.5h0M250.8 198.0h0M153.7 126.3h0M242.0 203.8h0" stroke="#efb26f"/><path d="M253.8 57.0h0M144.8 234.7h0M227.0 109.1h0M198.5 141.8h0M214.2 159.7h0M226.3 207.3h0M183.6 158.8h0M251.8 188.9h0M238.7 196.3h0M188.4 141.9h0M230.9 82.8h0M217.4 226.0h0M215.2 116.4h0M158.7 218.9h0M176.9 145.3h0M254.2 130.3h0M208.2 150.9h0M258.2 196.6h0M222.0 114.2h0M225.0 144.3h0M84.5 241.6h0M203.0 133.8h0M257.8 189.1h0M120.6 205.2h0M261.6 100.7h0M266.0 82.3h0M155.3 126.6h0M157.6 166.9h0M76.1 186.0h0M202.7 115.8h0M241.7 213.0h0M214.7 87.7h0M253.6 182.6h0M250.8 101.4h0M97.7 238.1h0M254.8 50.3h0M257.0 70.5h0M164.4 218.5h0M250.7 86.2h0M181.2 123.2h0M164.1 194.6h0M222.8 118.8h0M226.3 120.7h0M260.8 224.6h0M222.1 133.1h0M207.5 115.9h0M258.4 197.7h0M163.3 160.7h0M178.2 176.5h0M214.3 145.0h0M195.2 151.1h0M276.5 184.3h0M262.5 222.8h0M252.6 45.3h0M215.3 237.9h0M177.8 192.9h0M276.3 71.6h0M111.2 181.3h0M243.3 144.7h0M232.1 210.8h0M204.3 220.5h0M257.8 228.9h0M120.5 226.2h0M213.6 136.4h0M248.4 55.8h0M242.8 231.5h0M184.9 99.0h0M273.8 81.7h0M166.5 173.9h0M204.2 108.6h0M250.0 134.7h0M236.4 201.2h0M172.7 139.8h0M266.4 173.5h0M242.8 139.3h0M252.2 125.6h0M254.4 198.1h0M140.1 196.8h0M265.4 183.4h0M240.9 129.0h0M225.8 209.6h0M180.8 117.2h0M170.8 176.6h0M211.7 221.1h0M150.6 236.4h0M259.4 84.9h0M138.9 152.9h0M217.6 180.6h0M153.1 153.2h0M236.2 213.3h0M170.9 206.2h0M244.3 224.9h0M256.3 50.2h0M253.9 125.4h0M163.7 167.1h0M211.5 228.4h0M223.1 111.3h0M178.3 234.6h0M181.3 148.0h0M247.5 143.0h0M190.9 157.2h0M108.7 212.2h0M273.5 176.1h0M265.4 53.1h0M255.6 77.8h0M248.0 224.4h0M267.1 192.5h0M220.8 144.8h0M255.2 105.9h0M226.8 67.2h0M251.3 82.0h0M245.6 221.3h0M239.1 116.7h0M214.5 230.6h0M252.2 93.8h0M182.7 157.7h0M180.7 204.7h0M155.7 221.7h0M190.4 192.4h0M136.3 120.2h0M226.6 197.6h0M254.2 121.8h0M244.2 79.2h0M208.9 223.2h0M231.2 130.9h0M262.3 85.8h0M224.5 229.4h0M260.2 209.8h0M236.9 202.8h0M224.3 137.3h0M233.6 112.1h0M223.9 171.6h0M169.7 136.8h0M266.5 88.8h0M173.0 154.4h0M190.5 144.4h0M236.1 147.7h0M273.1 169.2h0M267.1 176.5h0M226.4 218.5h0M230.5 91.4h0M223.7 114.7h0M202.2 107.6h0M198.2 182.8h0M276.3 169.4h0M231.7 201.5h0M241.3 228.6h0M265.1 164.7h0M190.9 152.2h0M250.6 132.5h0M253.4 234.7h0M274.2 214.3h0M201.0 121.6h0M181.6 154.7h0M261.4 223.5h0M231.5 149.6h0M200.9 195.6h0M216.4 150.8h0M162.7 131.6h0M254.6 205.6h0M231.2 135.5h0M258.3 229.0h0M177.8 143.1h0M233.8 217.7h0M85.0 77.2h0M274.5 212.6h0M207.5 143.5h0M248.3 239.8h0M193.5 160.8h0M226.3 87.6h0M243.2 193.0h0M208.0 108.4h0M196.0 150.4h0M253.9 51.9h0M268.8 217.8h0M270.9 193.4h0M250.1 212.6h0M249.1 108.1h0M255.2 214.7h0M139.5 214.6h0M254.8 125.3h0M256.6 50.0h0M177.0 188.3h0M276.0 195.6h0M202.0 112.9h0M247.6 127.9h0M234.2 79.8h0M215.3 180.5h0M217.7 238.0h0M243.2 137.6h0M154.1 165.8h0M273.9 191.7h0M152.2 163.3h0M252.3 202.2h0M169.3 234.1h0M167.8 186.9h0M233.3 242.5h0M124.3 217.9h0M147.3 235.6h0M211.6 221.8h0M221.7 116.6h0M210.0 119.4h0M219.4 144.5h0M208.1 129.8h0M237.9 139.5h0M223.5 224.7h0M246.4 207.6h0M196.1 145.8h0M242.5 131.6h0M160.3 172.1h0M259.9 91.7h0M265.4 91.9h0M247.8 105.7h0M219.4 100.2h0M151.9 169.9h0M162.8 197.8h0M92.7 211.6h0M143.1 172.2h0M219.3 144.9h0M261.1 76.1h0M203.1 112.2h0M240.9 111.3h0M271.8 203.0h0M246.5 189.9h0M236.1 83.2h0M258.3 203.5h0M219.4 165.6h0M256.7 208.2h0M209.9 100.3h0M234.9 125.6h0M212.4 174.2h0M245.4 79.1h0M244.7 55.4h0M245.2 208.8h0M218.6 152.3h0M199.8 160.5h0M256.2 226.7h0M235.3 113.4h0M247.4 233.1h0M169.1 189.5h0M181.3 208.3h0M250.2 203.8h0M240.2 185.3h0M255.2 124.1h0M267.9 180.6h0M253.5 220.3h0M186.2 189.7h0M225.3 164.7h0M188.5 176.9h0M251.6 230.9h0M229.0 89.0h0M215.4 126.8h0M263.7 208.5h0M268.1 86.7h0M142.5 171.7h0M272.2 178.5h0M173.1 175.6h0M219.2 144.4h0M191.5 212.5h0M210.9 153.2h0M251.6 211.4h0M187.2 127.6h0M182.5 176.9h0M249.9 170.3h0M205.8 190.9h0M71.0 123.5h0M258.3 104.5h0M212.3 143.9h0M126.6 207.3h0M46.8 142.9h0M218.7 154.5h0M209.8 103.8h0M221.7 219.8h0M230.4 120.5h0M225.4 155.1h0M166.6 227.0h0M254.7 62.8h0M217.8 107.9h0M239.1 79.9h0M254.2 219.1h0M257.0 233.6h0M263.4 192.8h0M258.6 76.6h0M261.1 60.1h0M249.7 214.4h0M241.2 203.9h0M215.2 139.6h0M213.9 160.8h0M236.3 111.9h0M164.6 140.9h0M191.3 236.1h0M143.0 193.9h0M220.5 166.2h0M265.3 59.0h0M264.1 219.7h0M237.8 219.0h0M206.4 140.0h0M201.7 189.5h0M250.0 231.4h0M187.6 149.1h0M253.4 81.5h0M243.4 242.3h0M57.1 80.3h0M224.4 175.9h0M256.9 102.3h0M202.8 134.7h0M205.2 108.2h0M171.9 142.3h0M211.6 156.6h0M272.8 201.3h0M173.8 200.6h0M256.1 181.5h0M245.9 97.4h0M182.1 191.4h0M167.5 138.0h0M221.4 242.3h0M173.2 145.3h0M192.8 201.8h0M212.6 74.1h0M201.2 92.3h0M265.6 68.6h0M198.4 178.3h0M212.7 106.2h0M115.4 214.6h0M189.2 180.5h0M257.4 190.3h0M202.8 136.2h0M241.6 134.1h0M253.1 177.3h0M233.0 233.9h0M251.4 240.7h0M134.8 129.4h0M210.8 141.9h0M256.5 182.6h0M238.1 163.9h0M227.2 234.1h0M235.6 93.5h0M262.2 223.2h0M211.8 127.1h0M225.0 111.2h0M198.1 83.2h0M222.5 217.3h0M250.0 114.9h0M129.0 165.5h0M176.4 173.8h0M237.4 102.5h0M156.2 171.6h0M227.9 241.6h0M251.2 120.4h0M204.6 106.7h0M256.7 113.7h0M260.3 150.2h0M216.3 238.1h0M162.8 128.9h0M238.6 98.6h0M214.2 126.2h0M271.8 168.8h0M160.8 166.5h0M257.6 121.2h0M149.7 172.7h0M258.8 195.7h0M269.7 188.9h0M248.2 209.0h0M268.7 148.0h0M197.8 141.1h0M192.7 124.2h0M181.4 120.9h0M163.1 161.6h0M255.9 160.8h0M256.3 101.5h0M235.7 82.7h0M213.4 97.7h0M255.2 68.6h0M188.0 171.3h0M199.3 138.2h0M153.1 139.1h0M164.8 128.0h0M251.5 240.2h0M212.1 149.8h0M155.1 184.5h0M120.8 225.0h0M244.5 236.2h0" stroke="#eca262"/><path d="M262.3 217.8h0M129.2 204.0h0M161.2 197.9h0M246.6 204.9h0M242.6 153.3h0M221.1 95.2h0M118.1 197.9h0M192.5 158.4h0M231.2 214.4h0M273.7 162.6h0M233.8 207.8h0M275.7 208.0h0M160.9 125.3h0M274.5 185.5h0M206.8 165.3h0M264.9 172.0h0M159.4 172.5h0M213.2 110.3h0M200.0 183.7h0M207.5 199.6h0M254.1 225.8h0M249.5 191.1h0M252.4 82.3h0M261.7 176.0h0M235.2 97.9h0M215.7 120.5h0M189.1 134.0h0M233.7 238.8h0M253.4 108.7h0M258.8 228.8h0M202.6 148.6h0M246.2 98.7h0M263.9 209.3h0M243.2 205.4h0M211.4 188.3h0M240.9 102.3h0M272.6 168.9h0M245.3 232.7h0M266.7 63.7h0M227.7 146.7h0M256.1 71.8h0M267.8 50.3h0M274.2 206.2h0M158.1 200.4h0M192.4 146.6h0M243.6 64.2h0M261.7 85.9h0M264.6 183.9h0M202.1 147.4h0M231.2 230.9h0M191.1 114.8h0M269.9 178.6h0M274.8 161.0h0M202.0 231.4h0M247.8 220.1h0M184.4 159.6h0M250.0 87.6h0M256.8 197.1h0M204.0 242.2h0M241.9 216.3h0M240.0 239.6h0M248.3 228.8h0M160.9 141.7h0M136.9 150.7h0M210.7 143.3h0M236.6 234.8h0M260.0 55.1h0M265.8 86.8h0M265.0 224.7h0M245.8 215.3h0M237.4 140.4h0M139.9 165.2h0M236.2 147.9h0M210.4 241.8h0M251.2 123.2h0M151.4 175.0h0M270.0 198.3h0M262.6 230.5h0M225.2 118.7h0M120.8 212.9h0M249.0 127.8h0M199.1 239.9h0M243.4 115.7h0M104.6 127.2h0M248.9 223.9h0M191.5 168.2h0M268.2 218.2h0M206.9 207.3h0M262.1 222.6h0M203.8 153.7h0M265.3 81.3h0M240.2 104.8h0M171.4 125.7h0M236.0 199.5h0M224.3 123.2h0M261.0 210.5h0M268.7 164.6h0M223.9 227.8h0M270.4 178.3h0M255.0 197.9h0M124.7 204.3h0M219.6 113.7h0M225.3 129.9h0M179.6 218.9h0M193.1 152.0h0M171.5 146.3h0M224.0 68.0h0M208.7 171.8h0M236.5 125.5h0M217.8 235.1h0M135.1 217.2h0M246.5 224.4h0M237.8 220.6h0M267.5 195.0h0M189.1 159.3h0M169.4 195.1h0M228.5 207.5h0M240.7 92.3h0M166.8 231.5h0M274.3 159.8h0M255.4 85.3h0M196.9 198.2h0M270.6 217.0h0M257.0 132.1h0M271.8 162.6h0M240.6 125.1h0M259.0 115.1h0M243.7 226.7h0M201.9 138.5h0M271.3 173.0h0M242.1 200.7h0M249.5 189.0h0M210.8 94.2h0M243.5 192.1h0M235.3 202.8h0M225.8 148.0h0M182.8 127.3h0M254.0 183.3h0M206.5 181.2h0M273.2 113.9h0M154.7 174.1h0M253.8 170.3h0M253.5 227.5h0M237.6 234.6h0M186.5 189.2h0M206.9 226.6h0M237.1 204.0h0M214.4 132.4h0M242.2 202.2h0M213.8 167.9h0M240.6 205.8h0M266.8 146.8h0M251.3 93.4h0M233.7 208.9h0M245.3 223.6h0M152.9 175.0h0M255.9 122.1h0M138.6 234.5h0M264.2 106.8h0M257.5 230.0h0M160.9 122.6h0M235.3 227.5h0M270.4 170.7h0M226.0 224.2h0M250.2 205.6h0M191.9 214.4h0M263.8 210.7h0M263.1 110.2h0M258.5 112.4h0M206.3 129.5h0M221.9 91.6h0M201.0 127.1h0M240.5 206.8h0M182.5 166.3h0M275.4 196.6h0M248.3 209.8h0M265.7 87.3h0M263.8 181.2h0M174.3 182.9h0M65.6 96.7h0M190.8 124.6h0M211.0 226.9h0M234.7 235.1h0M228.6 98.6h0M265.7 201.9h0M264.7 96.7h0M261.6 78.4h0M246.4 105.3h0M193.3 122.3h0M247.8 197.7h0M215.5 135.7h0M210.2 160.5h0M202.9 164.2h0M249.7 221.2h0M254.9 103.2h0M164.4 176.1h0M250.0 227.1h0M255.0 198.9h0M199.9 240.6h0M225.7 215.8h0M170.3 123.6h0M244.1 239.4h0M255.6 91.4h0M269.1 194.4h0M243.3 95.3h0M253.2 108.9h0M248.7 98.4h0M264.5 77.4h0M200.7 92.3h0M249.8 192.2h0M273.8 160.5h0M244.7 193.5h0M235.9 226.9h0M180.8 143.7h0M184.0 145.4h0M107.1 161.8h0M215.6 234.9h0M233.2 82.5h0M232.1 231.7h0M264.3 210.8h0M236.3 93.7h0M208.4 212.0h0M236.4 240.6h0M95.9 231.9h0M246.4 105.2h0M250.9 101.4h0M236.0 144.1h0M238.4 230.3h0M122.7 215.7h0M216.0 65.1h0M243.6 200.2h0M220.1 234.3h0M239.3 100.2h0M256.5 195.3h0M254.6 93.3h0M252.8 184.9h0M259.4 180.0h0M261.0 213.9h0M260.0 174.7h0M247.9 84.8h0M252.1 72.4h0M194.9 184.8h0M242.8 137.5h0M101.2 131.9h0M274.0 160.6h0M191.9 141.3h0M166.5 226.4h0M215.2 110.5h0M174.8 131.9h0M204.7 159.0h0M234.6 86.5h0M244.5 132.2h0M195.7 138.0h0M252.1 132.3h0M254.4 53.4h0M262.4 66.9h0M197.2 95.6h0M227.8 205.7h0M261.9 182.1h0M235.1 93.7h0M231.7 208.6h0M232.9 121.9h0M195.5 181.7h0M236.2 176.4h0M253.2 206.6h0M257.9 193.3h0M231.5 78.7h0M245.0 220.4h0M241.4 205.1h0M261.9 81.5h0M250.3 54.1h0M253.1 212.2h0M273.3 217.3h0M201.9 131.2h0M275.8 187.8h0M147.0 176.1h0M235.4 199.6h0M229.4 116.6h0M190.5 131.9h0M204.9 127.9h0M138.3 147.7h0M261.4 73.8h0M253.7 155.6h0M231.2 155.7h0M246.4 95.6h0M259.6 180.4h0M242.6 160.4h0M201.5 187.6h0M242.8 50.0h0M263.4 108.9h0M271.5 201.0h0M207.3 154.2h0M200.8 127.9h0M233.5 71.3h0M243.6 87.2h0M261.7 113.2h0M151.0 229.8h0M254.2 75.9h0M245.9 73.0h0M254.2 185.8h0M195.2 115.5h0M262.3 216.6h0M238.9 85.9h0M212.3 110.6h0M257.1 196.0h0M121.7 168.9h0M171.3 151.6h0M212.6 87.0h0M161.4 171.0h0M249.6 69.7h0M268.9 186.9h0M168.6 150.7h0M175.4 194.5h0M209.0 130.4h0M203.3 146.4h0M235.0 120.3h0M142.7 200.7h0M209.5 240.7h0M260.4 221.6h0M164.0 115.5h0M247.1 239.1h0M203.6 93.6h0M184.7 138.7h0M261.2 100.2h0M90.8 242.2h0M219.2 225.6h0M235.7 104.6h0M219.4 164.2h0M276.1 209.9h0M196.1 174.7h0M206.1 130.7h0M125.7 156.2h0M208.4 200.5h0M207.0 135.0h0M212.9 140.9h0M229.4 111.4h0M214.6 117.0h0M150.3 95.0h0M266.8 79.8h0M208.8 145.1h0M183.7 170.2h0M216.8 133.1h0M169.2 115.9h0M233.4 149.5h0M186.9 121.4h0M209.9 229.2h0M108.9 231.3h0M266.7 179.8h0M237.8 236.0h0M134.9 133.8h0M258.8 197.6h0M229.6 236.2h0M235.0 109.9h0M196.8 138.4h0M235.6 108.5h0M227.5 221.1h0M184.7 146.8h0M178.7 162.7h0M252.2 134.6h0M256.2 112.4h0M143.6 187.5h0M242.6 242.4h0M260.1 218.5h0M245.7 211.3h0M271.2 167.3h0M223.6 148.4h0M232.9 230.2h0M252.6 240.2h0M266.3 41.7h0M211.8 96.3h0M209.1 150.9h0M170.1 167.3h0M207.2 241.5h0M237.7 116.1h0M216.0 170.6h0M255.6 210.5h0M177.8 132.6h0M243.8 201.2h0M256.3 111.1h0M162.6 113.4h0M204.5 133.0h0M239.3 220.2h0M192.7 167.8h0M244.3 203.5h0M251.8 209.8h0M245.7 95.4h0M243.7 219.1h0M263.3 178.6h0M269.1 152.1h0M249.0 222.9h0M225.1 234.5h0M249.6 207.8h0M257.0 217.8h0M273.3 209.1h0M162.9 137.2h0M192.4 154.0h0M129.5 183.0h0M206.2 113.5h0M213.6 107.8h0" stroke="#ea8f54"/><path d="M249.2 136.7h0M228.9 236.4h0M247.6 94.1h0M202.0 145.9h0M250.4 211.2h0M247.0 193.9h0M139.4 229.4h0M261.4 155.0h0M192.2 182.5h0M253.6 198.3h0M232.3 187.6h0M206.6 81.9h0M246.5 234.3h0M246.7 110.3h0M266.2 193.4h0M231.0 125.2h0M92.3 233.3h0M223.6 233.3h0M118.6 210.5h0M159.1 162.0h0M187.3 165.3h0M209.4 177.4h0M245.4 104.0h0M253.8 124.2h0M255.5 200.3h0M197.3 166.1h0M116.0 228.0h0M251.1 89.0h0M268.1 182.3h0M245.1 215.2h0M151.6 171.5h0M244.3 239.9h0M241.9 142.4h0M236.5 110.4h0M257.3 86.7h0M208.4 102.8h0M253.3 209.8h0M214.3 228.3h0M272.8 169.9h0M268.4 196.3h0M267.4 191.7h0M264.5 104.8h0M185.6 199.0h0M260.0 164.4h0M96.4 226.3h0M249.7 98.3h0M265.0 211.4h0M202.5 100.9h0M237.1 119.5h0M240.9 88.7h0M265.7 175.8h0M201.2 142.6h0M158.2 154.0h0M201.7 172.2h0M227.0 227.7h0M243.3 108.3h0M178.5 137.5h0M161.6 190.8h0M272.1 184.5h0M225.0 111.5h0M231.2 122.2h0M133.4 113.6h0M264.5 180.1h0M266.2 59.2h0M182.5 133.6h0M227.3 206.6h0M155.6 164.4h0M250.1 196.4h0M275.5 207.6h0M199.3 112.2h0M249.0 233.5h0M253.6 130.9h0M219.1 189.4h0M164.8 159.6h0M273.3 84.4h0M251.9 229.4h0M232.5 115.2h0M240.5 206.6h0M219.1 100.1h0M241.8 152.7h0M272.1 219.0h0M214.2 95.4h0M265.4 87.9h0M200.1 143.2h0M201.2 237.8h0M223.5 181.3h0M250.8 46.3h0M243.8 226.9h0M245.2 110.4h0M170.7 145.2h0M232.0 83.3h0M234.9 233.3h0M252.2 193.4h0M255.8 86.4h0M258.2 193.6h0M244.0 51.4h0M215.9 177.2h0M275.9 208.0h0M254.8 227.6h0M242.4 231.6h0M242.8 196.1h0M246.8 225.9h0M252.5 226.3h0M228.4 230.0h0M242.4 225.1h0M251.0 189.2h0M194.1 154.8h0M228.0 114.4h0M203.5 144.1h0M268.0 192.7h0M141.8 186.1h0M106.3 227.4h0M207.9 126.7h0M226.1 209.1h0M250.5 198.6h0M268.0 208.8h0M234.0 212.7h0M216.0 117.2h0M260.1 211.9h0M223.4 219.1h0M271.5 179.1h0M172.2 174.7h0M216.1 191.4h0M229.9 232.8h0M230.8 202.9h0M138.5 136.0h0M261.6 212.0h0M219.5 226.5h0M187.8 187.8h0M242.2 110.7h0M176.7 116.0h0M270.0 204.9h0M175.2 156.6h0M258.6 85.2h0M250.8 212.3h0M135.0 197.8h0M217.5 140.3h0M177.3 220.5h0M272.6 159.7h0M122.5 191.4h0M246.9 134.9h0M272.6 200.7h0M260.1 189.7h0M239.6 97.0h0M213.2 242.1h0M256.7 229.5h0M242.8 86.3h0M252.7 87.9h0M210.6 235.6h0M205.8 229.1h0M176.5 110.2h0M251.9 56.8h0M233.7 70.0h0M210.9 134.1h0M232.9 209.4h0M221.0 162.0h0M268.7 190.2h0M222.5 136.5h0M265.6 51.5h0M227.5 204.9h0M209.2 236.3h0M257.7 116.0h0M231.8 214.2h0M251.1 232.7h0M219.2 235.5h0M215.6 138.0h0M216.6 181.2h0M215.9 227.8h0M203.0 136.7h0M272.4 188.3h0M264.0 210.8h0M146.8 159.8h0M207.5 134.8h0M260.4 89.6h0M197.9 158.9h0M240.8 109.8h0M263.8 209.6h0M215.7 97.9h0M184.9 145.8h0M255.7 118.8h0M163.4 202.5h0M217.2 81.7h0M257.4 88.9h0M146.0 196.8h0M198.0 201.8h0M220.7 155.8h0M269.2 163.4h0M197.4 219.3h0M273.1 167.5h0M124.2 189.1h0M270.6 211.8h0M181.4 187.3h0M228.8 165.7h0M269.0 198.5h0M203.3 228.8h0M207.1 239.4h0M240.9 203.5h0M221.8 162.2h0M117.3 221.6h0M217.1 72.3h0M259.8 232.3h0M218.2 131.8h0M258.8 80.7h0M228.9 148.9h0M251.2 211.1h0M262.4 218.5h0M263.5 86.9h0M212.3 126.0h0M265.2 199.1h0M219.5 111.1h0M261.5 190.5h0M213.5 117.4h0M254.0 227.3h0M234.0 136.9h0M175.4 198.2h0M211.8 113.0h0M245.6 84.7h0M240.7 237.5h0M270.5 188.4h0" stroke="#e77d46"/><path d="M183.8 173.3h0M161.4 173.3h0M131.5 221.9h0M173.0 162.1h0M208.6 225.3h0M239.8 231.3h0M201.8 187.1h0M180.2 141.5h0M258.0 204.2h0M187.8 147.6h0M267.4 197.5h0M232.7 216.7h0M201.4 99.1h0M184.1 164.8h0M144.7 195.8h0M92.8 239.0h0M123.0 209.4h0M236.0 157.5h0M264.1 213.9h0M239.6 119.0h0M217.6 117.3h0M135.9 174.7h0M182.5 156.7h0M235.7 209.5h0M203.5 235.3h0M174.1 159.9h0M175.0 155.0h0M253.0 123.3h0M236.5 76.8h0M196.8 166.9h0M148.7 184.2h0M254.1 77.6h0M195.4 158.1h0M259.9 179.0h0M261.0 96.4h0M244.6 229.0h0M164.1 151.0h0M262.6 79.3h0M136.9 201.3h0M184.7 121.8h0M236.4 230.9h0M118.5 182.9h0M67.0 236.2h0M170.1 209.6h0M159.6 178.3h0M167.2 180.7h0M167.4 194.9h0M229.2 123.5h0M252.5 130.3h0M247.3 129.5h0M178.2 178.9h0M196.6 136.6h0M157.0 184.9h0M140.7 168.7h0M117.7 222.5h0M110.5 239.4h0M197.8 130.3h0M145.1 187.9h0M268.8 185.7h0M166.8 189.7h0M253.5 206.1h0M201.7 125.7h0M179.4 181.1h0M188.9 183.3h0M156.0 242.1h0M143.4 156.3h0M159.3 159.4h0M142.0 206.4h0M214.4 229.0h0M220.4 109.6h0M56.4 204.0h0M160.1 139.9h0M142.9 241.1h0M141.0 149.2h0M111.9 134.0h0M207.7 156.7h0M233.2 134.3h0M212.6 133.1h0M172.4 230.8h0M165.6 179.2h0M251.9 236.4h0M260.1 108.2h0M179.5 146.7h0M117.4 180.6h0M229.2 117.6h0M246.9 214.9h0M170.7 142.4h0M196.8 138.6h0M172.7 133.8h0M216.5 84.3h0M222.7 135.8h0M237.6 117.9h0M275.6 176.7h0M148.2 228.1h0M187.9 135.9h0M171.6 145.9h0M238.2 237.7h0M156.7 134.2h0M225.6 206.8h0M210.5 190.1h0M110.4 232.9h0M171.7 127.2h0M174.5 227.7h0M133.9 200.9h0M202.6 145.0h0M207.9 128.5h0M201.0 195.7h0M133.7 171.2h0M223.8 205.5h0M149.6 148.1h0M254.0 121.0h0M126.2 211.7h0M167.7 164.4h0M248.5 103.8h0M130.5 196.0h0M249.6 108.9h0M184.8 241.3h0M248.6 108.1h0M126.3 198.6h0M203.0 110.7h0" stroke="#e04026"/><path d="M229.2 72.0h0M241.7 218.6h0M259.3 189.9h0M256.6 197.8h0M208.7 112.5h0M255.3 215.8h0M166.9 138.1h0M220.1 129.5h0M179.1 162.9h0M202.9 233.6h0M98.3 239.4h0M201.9 119.1h0M261.4 92.4h0M228.5 151.2h0M144.3 189.5h0M264.8 195.1h0M255.3 206.5h0M252.8 202.7h0M190.4 159.3h0M150.2 211.7h0M161.6 178.2h0M255.5 166.0h0M254.8 180.7h0M152.3 149.8h0M255.1 222.0h0M241.9 224.4h0M177.5 110.9h0M244.0 91.7h0M189.1 136.6h0M140.5 179.3h0M77.3 235.0h0M116.4 215.0h0M135.4 191.7h0M122.0 185.5h0M203.0 152.8h0M237.9 121.9h0M262.3 229.2h0M206.0 168.9h0M247.3 193.6h0M220.6 140.9h0M122.3 160.1h0M143.7 194.6h0M246.5 98.6h0M264.4 51.7h0M136.5 147.0h0M193.5 181.1h0M167.1 162.1h0M258.4 152.0h0M238.5 152.2h0M157.2 165.9h0M246.7 107.3h0M152.5 176.9h0M224.0 104.2h0M182.1 192.2h0M66.1 166.5h0M94.4 237.6h0M136.9 226.4h0M167.7 175.3h0M203.5 97.7h0M206.0 133.9h0M258.0 159.8h0M162.9 207.3h0M187.3 135.8h0M242.1 228.1h0M156.7 158.5h0M182.5 151.7h0M126.1 197.2h0M238.6 240.4h0M197.2 98.2h0M208.5 103.5h0M175.2 195.8h0M190.9 129.2h0M164.9 135.1h0M241.1 148.3h0M246.0 118.7h0M156.1 115.2h0M161.4 168.0h0M183.9 167.5h0M202.8 109.8h0M270.8 179.1h0M203.0 119.4h0M151.2 162.9h0M266.7 179.5h0M135.7 165.8h0M259.0 69.3h0M247.9 116.2h0M109.6 228.7h0M228.9 152.0h0M200.6 124.8h0M263.2 104.4h0M168.2 159.9h0M139.7 239.7h0M253.9 160.8h0M207.4 123.6h0M258.1 50.9h0M267.7 180.3h0M92.7 186.3h0M145.6 177.3h0M139.0 199.9h0M148.7 184.5h0M188.3 192.0h0M228.2 153.2h0M175.7 142.5h0M251.1 215.5h0M151.8 208.1h0M171.2 174.6h0M177.7 183.8h0M206.4 133.2h0M169.0 146.8h0M212.2 99.7h0M183.3 179.1h0M217.2 120.0h0M133.9 199.0h0M124.6 215.2h0M199.7 151.4h0M201.9 155.0h0M133.8 202.0h0M199.6 130.4h0M227.1 134.1h0M255.8 205.0h0M103.6 212.4h0M175.9 159.5h0M176.2 191.6h0M188.4 119.0h0M187.6 222.2h0M251.7 202.8h0M166.1 167.1h0M220.0 96.0h0M190.1 143.1h0M170.3 139.3h0M172.3 189.4h0M230.2 119.5h0M234.7 135.0h0M242.6 189.6h0M253.0 222.7h0M185.9 187.6h0M214.7 160.4h0M144.7 178.3h0M206.4 156.2h0M137.2 147.2h0M266.7 55.9h0M247.4 237.8h0M200.8 139.6h0M266.7 64.8h0M197.7 129.4h0M187.6 116.7h0M215.3 96.4h0M180.8 123.3h0M186.6 119.4h0M138.1 218.2h0M160.9 169.0h0M140.0 171.9h0M143.2 183.7h0M238.7 137.0h0M103.8 231.1h0M252.2 68.8h0M135.7 222.9h0M179.3 198.7h0M229.1 233.6h0M62.6 204.5h0M151.3 240.6h0M221.8 146.9h0M263.8 188.8h0M224.9 143.9h0M174.3 156.2h0M136.0 160.7h0M273.3 98.8h0M160.9 205.5h0M191.8 168.4h0M259.1 191.4h0M207.2 146.8h0M98.6 231.4h0M120.5 183.6h0M199.2 145.8h0M198.4 158.5h0M244.6 79.2h0M198.8 99.5h0M254.3 238.0h0M175.0 146.4h0M195.7 140.5h0M181.9 130.9h0M202.4 155.9h0M207.3 154.5h0M202.8 143.5h0M213.7 178.0h0M188.3 130.6h0M181.9 140.7h0M206.4 167.7h0M195.0 104.6h0M271.6 191.3h0M269.6 199.7h0M134.6 121.1h0M226.7 101.8h0M173.8 116.7h0M108.7 107.5h0M226.4 216.3h0M248.1 115.3h0M108.5 223.7h0M180.0 129.8h0M218.5 109.1h0M128.3 228.9h0M101.5 173.7h0M111.2 219.8h0M208.8 112.8h0M171.7 104.1h0M219.6 241.6h0M114.4 169.4h0M238.4 221.7h0M111.3 230.0h0M179.1 159.7h0M128.5 208.7h0M272.0 166.4h0M143.7 190.8h0M126.9 174.8h0M160.3 165.6h0M246.5 135.4h0M146.5 179.3h0M144.4 186.7h0M253.7 119.5h0M173.4 159.1h0M208.6 147.5h0M214.8 82.3h0M202.9 140.8h0M179.6 130.8h0M151.1 151.2h0M164.2 138.2h0M250.3 49.8h0M154.4 135.6h0M191.9 114.3h0M172.3 217.1h0M182.0 153.4h0M206.2 238.6h0M157.4 200.5h0M152.3 166.8h0M130.6 206.8h0M268.9 193.2h0M202.1 120.1h0M268.6 184.1h0M271.4 169.4h0M94.2 186.8h0M166.1 155.5h0M158.9 167.6h0M269.8 185.5h0M164.1 141.3h0M244.7 196.8h0M224.3 230.7h0M226.3 141.0h0M148.1 156.1h0M146.8 172.0h0M112.1 223.9h0M123.3 212.5h0M218.7 126.7h0M263.3 157.3h0M233.1 104.4h0M155.3 156.1h0M180.8 149.9h0M97.6 153.5h0M102.4 194.6h0M141.5 180.8h0M181.5 135.5h0M115.9 220.7h0M161.5 140.4h0M267.0 68.0h0M248.5 194.8h0M119.0 216.5h0M188.1 225.2h0M223.6 87.9h0M144.3 195.2h0M257.9 60.8h0M245.4 202.5h0M191.7 213.7h0M161.0 134.2h0M223.5 218.9h0M256.7 109.4h0M232.3 222.1h0M210.7 132.5h0M256.1 164.3h0M61.3 217.1h0M89.7 200.7h0M202.0 122.6h0M129.7 148.7h0M124.6 233.7h0M185.2 133.6h0M233.2 217.5h0M254.2 215.7h0M211.1 110.9h0M150.8 203.5h0M143.8 148.9h0M188.7 111.3h0M165.9 146.1h0M222.2 153.4h0M225.3 94.8h0M118.6 196.8h0M147.1 169.3h0M237.6 213.8h0M131.7 198.6h0M163.7 99.2h0M175.9 168.9h0M260.2 211.7h0M207.3 233.7h0M114.9 214.1h0M181.8 142.6h0M256.9 232.1h0M200.8 149.4h0M111.1 225.7h0M156.4 181.1h0M113.5 228.9h0M137.4 188.9h0M163.8 135.3h0M123.9 203.3h0M153.0 195.1h0M248.9 113.6h0M257.4 126.9h0M276.2 58.4h0M183.5 194.7h0M194.7 149.3h0M145.1 175.5h0M160.3 156.5h0M148.9 160.0h0M186.4 151.0h0M252.9 224.7h0M179.6 170.5h0M122.5 229.8h0M242.4 81.8h0M128.9 200.5h0M164.8 165.9h0M133.3 142.1h0M167.0 183.4h0M117.0 209.2h0M184.4 132.2h0M190.8 151.9h0M267.9 83.9h0M206.1 111.5h0M275.0 92.1h0M151.2 170.3h0M275.5 213.0h0M142.0 183.6h0M272.2 121.3h0M147.9 177.6h0M226.9 133.9h0M207.4 142.4h0M221.5 87.8h0M259.3 233.2h0M238.3 85.2h0M128.8 215.4h0M65.3 94.5h0M44.5 163.3h0M134.0 197.9h0M137.7 146.9h0M276.3 175.5h0M158.6 219.8h0M218.2 120.0h0M141.6 196.5h0M263.8 90.9h0M223.8 119.3h0M135.5 178.1h0M214.4 141.3h0M123.3 152.8h0M273.2 187.6h0M75.1 231.9h0M182.5 193.8h0M195.4 85.8h0M117.4 226.9h0M183.2 116.3h0M177.7 169.6h0M144.5 185.4h0M218.5 241.3h0M198.9 134.9h0M157.2 170.5h0M195.1 162.5h0M260.5 214.5h0M111.6 221.0h0M164.7 169.6h0M111.9 191.3h0M198.4 107.0h0M271.7 213.3h0M192.3 99.0h0M109.1 219.4h0M273.7 184.3h0M178.5 132.8h0M168.9 129.4h0M254.8 192.7h0M275.2 199.1h0M201.1 151.4h0M253.4 200.2h0M255.3 209.7h0M202.8 89.8h0M205.1 159.8h0M250.6 48.0h0M249.3 194.8h0M222.8 100.7h0M214.2 135.6h0M244.0 195.2h0M249.8 239.6h0M132.8 160.8h0M168.1 193.3h0M156.1 173.0h0M152.1 201.0h0M275.5 87.0h0M216.0 135.7h0M255.1 175.1h0M144.2 156.8h0M160.6 163.7h0M257.6 182.6h0M197.8 126.9h0M139.5 194.4h0M233.4 241.4h0M255.8 112.0h0M92.7 128.6h0M201.8 130.9h0M207.2 152.7h0M120.6 205.9h0M126.9 143.9h0M223.1 150.2h0M231.4 117.5h0M222.6 144.8h0M149.3 198.0h0M156.1 202.9h0M175.4 133.6h0M235.4 124.8h0M200.8 164.3h0M260.4 88.3h0M203.5 88.7h0M257.0 225.4h0M172.7 191.5h0M150.1 134.6h0M242.7 175.1h0M254.2 192.5h0M196.3 200.6h0M189.0 109.9h0M107.4 190.6h0M161.9 166.8h0M274.9 68.7h0M254.3 208.7h0M183.4 200.4h0M221.6 142.0h0M229.0 123.4h0M199.7 160.7h0M157.3 232.0h0M130.0 208.8h0M181.7 113.1h0M198.0 123.1h0M164.4 165.3h0M154.9 170.9h0M133.7 155.8h0M228.0 141.9h0M169.2 161.7h0M120.9 134.8h0M208.2 125.1h0M240.7 213.2h0M130.8 155.4h0M196.8 143.3h0M195.2 137.0h0M165.5 152.9h0M164.4 145.2h0M114.2 211.5h0M205.6 121.0h0M169.9 227.6h0M249.1 185.3h0M166.1 205.5h0M116.1 222.2h0M228.4 82.8h0M170.6 159.3h0M228.2 140.6h0M149.7 185.5h0M240.8 204.0h0M268.3 195.6h0M101.9 230.8h0M198.4 125.1h0M204.5 141.7h0M184.1 201.4h0M175.9 198.8h0M275.5 159.0h0M158.6 187.8h0M266.4 218.7h0M93.5 233.0h0M199.3 115.9h0M187.8 144.1h0M117.6 241.3h0M144.7 207.5h0M244.3 183.9h0M215.0 236.5h0M254.7 221.2h0M138.3 203.3h0M143.7 201.3h0M187.3 167.4h0M55.4 153.2h0M229.7 146.0h0M162.4 135.6h0M246.4 120.2h0M245.6 134.7h0M262.6 225.6h0M68.1 182.5h0M176.0 153.4h0M223.4 208.7h0M213.5 152.9h0M164.5 127.8h0M274.5 212.3h0M83.9 239.1h0M207.1 139.7h0M200.8 157.9h0M161.7 156.1h0M250.4 117.1h0M176.7 128.9h0M250.5 88.6h0M203.0 156.9h0M197.3 143.7h0M168.7 160.9h0M213.1 168.5h0M161.6 161.8h0M164.9 240.8h0M91.4 176.6h0M254.3 222.5h0M176.5 186.8h0M239.8 200.7h0M135.8 182.5h0M211.7 136.6h0M228.9 144.3h0M228.9 147.4h0M260.6 217.4h0M256.4 211.7h0M215.1 110.1h0M189.8 160.1h0M266.4 155.6h0M104.7 225.4h0M184.8 136.9h0M166.6 181.5h0M275.8 185.6h0M166.0 225.7h0M150.5 204.6h0M258.8 177.4h0M112.6 224.8h0M187.6 226.3h0M59.5 84.9h0M187.8 183.9h0M214.4 149.8h0M216.3 83.2h0M85.7 238.6h0M241.7 78.0h0M211.4 132.3h0M140.8 145.5h0M120.0 174.1h0M145.9 185.3h0M147.0 207.7h0M76.5 172.6h0M161.6 132.5h0M274.3 90.9h0M165.5 121.7h0M242.9 228.7h0M85.3 237.7h0M222.3 80.1h0M149.0 195.0h0M241.5 195.3h0M168.4 193.2h0M264.3 73.8h0M256.2 82.6h0M90.9 237.2h0M174.7 160.0h0M166.4 144.0h0M150.1 193.4h0M195.2 127.4h0M261.6 166.0h0M244.5 130.2h0" stroke="#e02c1a"/><path d="M252.3 212.4h0M149.2 218.0h0M129.5 212.9h0M258.9 58.4h0M163.8 165.3h0M189.0 169.9h0M143.2 219.8h0M163.3 226.0h0M167.0 159.3h0M217.1 116.9h0M160.6 223.9h0M252.4 139.9h0M204.0 145.7h0M155.7 172.1h0M271.4 170.4h0M245.7 137.7h0M185.6 150.1h0M200.3 136.1h0M162.7 158.3h0M141.7 207.6h0M152.4 172.9h0M254.9 157.0h0M253.9 52.1h0M216.2 152.3h0M144.3 181.6h0M194.1 182.6h0M230.3 120.9h0M145.9 113.9h0M250.3 208.7h0M265.9 105.6h0M155.3 174.5h0M139.7 207.0h0M164.9 207.0h0M156.3 156.0h0M175.0 188.8h0M185.6 203.2h0M165.0 201.0h0M264.4 214.4h0M149.4 191.9h0M194.8 88.7h0M206.7 118.2h0M131.6 161.1h0M224.6 161.0h0M208.8 127.9h0M199.4 111.5h0M198.5 121.2h0M274.8 215.4h0M197.3 121.3h0M243.1 216.7h0M242.9 132.0h0M213.0 116.1h0M147.7 171.4h0M268.8 204.2h0M266.1 69.7h0M242.9 155.5h0M191.0 113.5h0M183.8 111.1h0M172.4 161.2h0M220.5 171.7h0M244.5 155.8h0M239.2 156.9h0M214.4 108.5h0M205.0 114.0h0M195.8 132.7h0M102.6 224.2h0M140.5 194.7h0M239.4 136.5h0M149.2 152.7h0M151.0 188.2h0M251.0 129.1h0M248.4 213.7h0M219.3 144.0h0M223.2 216.7h0M176.2 135.0h0M179.1 152.3h0M106.4 226.3h0M252.3 73.3h0M238.1 117.1h0M167.6 170.4h0M246.4 130.3h0M272.0 173.2h0M185.4 232.1h0M205.8 152.4h0M163.7 143.9h0M249.9 200.8h0M133.0 197.1h0M267.2 223.6h0M268.8 209.3h0M222.0 140.7h0M204.9 148.6h0M197.7 144.3h0M176.1 158.1h0M274.8 206.0h0M179.6 161.0h0M194.8 130.8h0M190.4 218.2h0M160.3 177.5h0M214.4 103.1h0M246.1 210.6h0M273.7 186.9h0M245.1 126.9h0M262.1 71.0h0M183.8 219.4h0M256.4 133.4h0M137.0 194.6h0M109.5 223.6h0M199.2 148.1h0M170.5 160.5h0M132.1 213.5h0M256.9 198.1h0M241.8 97.5h0M209.0 102.0h0M231.1 148.0h0M239.9 177.1h0M261.8 202.3h0M213.3 143.6h0M154.5 188.7h0M182.6 241.5h0M255.9 207.5h0M83.7 131.1h0M146.3 181.0h0M174.6 139.8h0M254.0 122.8h0M262.1 60.2h0M253.5 201.2h0M260.6 193.2h0M120.6 150.3h0M251.1 211.8h0M128.7 141.5h0M159.8 186.1h0M276.2 155.2h0M161.6 160.0h0M90.7 229.1h0M259.9 217.5h0M93.1 176.8h0M114.5 213.2h0M253.0 117.8h0M212.6 112.5h0M242.3 209.1h0M258.6 194.1h0M267.9 222.3h0M163.7 160.5h0M249.5 207.7h0M198.4 128.9h0M257.0 181.5h0M203.6 124.4h0M229.4 77.3h0M207.4 153.8h0M177.0 168.5h0M238.5 116.8h0M256.2 125.8h0M229.6 105.9h0M262.8 230.4h0M141.7 173.6h0M218.9 138.6h0M202.6 156.0h0M247.8 190.1h0M192.1 115.1h0M210.2 108.7h0M190.6 178.2h0M139.5 143.8h0M226.3 130.1h0M228.8 111.8h0M152.8 174.0h0M214.1 112.3h0M135.8 153.3h0M91.2 230.9h0M181.7 131.2h0M242.8 92.0h0M143.3 171.6h0M146.5 142.2h0M168.6 148.2h0M164.4 133.9h0M181.9 153.7h0M244.1 207.1h0M251.5 104.2h0M156.2 208.2h0M135.1 190.1h0M89.7 219.8h0M256.9 194.1h0M205.2 119.2h0M209.9 132.5h0M150.2 173.7h0M237.8 105.8h0M261.6 205.8h0M238.3 100.7h0M193.3 201.0h0M163.3 158.6h0M159.9 136.5h0M190.6 159.4h0M121.3 222.7h0M216.9 219.4h0M174.9 190.1h0M212.1 106.1h0M196.3 144.1h0M151.4 167.2h0M221.4 129.4h0M170.9 158.3h0M131.9 220.1h0M234.6 156.4h0M187.4 156.7h0M165.9 154.2h0M213.7 101.8h0M236.6 84.2h0M265.9 95.0h0M197.8 120.2h0M211.7 138.5h0M265.7 188.0h0M125.8 224.5h0M264.2 181.8h0M146.0 210.3h0M242.2 235.8h0M110.9 240.6h0M269.1 163.5h0M107.8 184.6h0M65.0 208.0h0M229.4 94.6h0M187.8 166.4h0M234.2 170.0h0M74.8 146.8h0M209.7 103.1h0M253.5 115.9h0M164.6 144.3h0M223.2 219.5h0M168.7 151.2h0M254.9 172.5h0M254.4 233.3h0M202.4 187.7h0M248.2 111.1h0M142.5 180.8h0M197.4 156.8h0M251.6 226.7h0M195.8 113.6h0M205.1 145.4h0M92.7 231.4h0M252.2 138.5h0M225.3 133.6h0M152.8 160.0h0M184.7 136.6h0M137.7 194.5h0M177.0 150.5h0M121.4 205.2h0M155.1 157.0h0M272.8 145.5h0M200.0 130.9h0M243.3 211.1h0M145.5 172.9h0M179.3 148.8h0M79.0 201.4h0M108.0 194.2h0M193.5 148.5h0M245.2 56.9h0M174.2 176.0h0M192.2 139.9h0M196.6 170.0h0M208.8 143.1h0M141.3 159.9h0M260.5 209.0h0M100.3 186.1h0M63.7 239.3h0M220.3 104.3h0M231.6 79.2h0M150.8 171.9h0M169.6 159.3h0M199.5 121.0h0M227.7 97.3h0M263.0 193.3h0M122.4 141.4h0M219.2 213.6h0M204.3 166.8h0M174.4 136.3h0M63.7 173.7h0M235.7 227.7h0M229.6 80.8h0M116.5 192.6h0M135.8 175.1h0M155.2 171.9h0M238.0 225.1h0M154.4 173.9h0M167.3 178.4h0M269.4 196.4h0M209.9 139.6h0M225.5 118.8h0M215.0 220.3h0M174.4 152.5h0M248.2 157.7h0M168.9 157.3h0M167.7 165.5h0M136.0 171.3h0M121.7 187.8h0M189.7 136.3h0M238.5 88.4h0M140.3 164.1h0M237.2 145.7h0M156.6 179.8h0M274.4 212.5h0M190.2 140.1h0M105.5 222.6h0M235.0 82.8h0M119.3 209.3h0M176.9 164.2h0M152.3 166.4h0M142.7 188.9h0M92.2 209.0h0M217.2 153.5h0M91.8 194.1h0M154.0 139.9h0M124.0 207.7h0M98.2 231.0h0M202.4 165.9h0M205.9 139.4h0M189.1 167.8h0M129.2 211.7h0M135.2 197.7h0M165.5 168.6h0M248.0 110.9h0M196.0 131.0h0M97.6 230.7h0M246.1 233.3h0M137.8 107.1h0M139.7 211.0h0M135.6 206.9h0M233.5 118.6h0M197.7 102.3h0M199.4 132.4h0M275.1 120.0h0M219.7 126.4h0M164.5 174.0h0M204.2 117.9h0M95.5 239.0h0M233.8 112.6h0M252.2 188.5h0M246.5 56.6h0M212.0 136.7h0M245.7 204.2h0M250.1 89.5h0M147.9 174.0h0M145.9 197.6h0M59.8 178.6h0M195.6 155.3h0M229.3 145.2h0M100.0 224.4h0M139.9 174.1h0M93.1 221.9h0M174.0 222.8h0M177.0 126.0h0M132.0 129.0h0M179.5 118.7h0M177.0 163.6h0M224.5 105.2h0M188.6 129.3h0M253.0 209.9h0M175.6 153.9h0M252.8 68.9h0M172.3 199.5h0M225.4 152.5h0M158.2 133.6h0M218.6 98.2h0M196.0 136.9h0M222.7 143.8h0M204.7 135.5h0M156.8 161.8h0M199.5 138.8h0M249.6 109.4h0M198.7 140.3h0M179.7 148.5h0M143.1 175.5h0M180.8 138.3h0M179.0 133.3h0M67.7 206.9h0M187.3 140.0h0M248.3 193.2h0M254.2 194.1h0M230.9 118.9h0M117.0 201.0h0M164.9 148.9h0M187.2 139.3h0M230.5 138.4h0M192.8 114.8h0M217.6 173.4h0M200.3 109.7h0M188.3 129.7h0M126.6 188.7h0M133.8 133.6h0M159.3 241.0h0M148.1 173.1h0M191.1 151.6h0M215.7 180.3h0M125.0 194.4h0M211.2 153.6h0M241.4 58.2h0M267.0 188.9h0M222.8 223.0h0M205.9 119.3h0M273.1 73.1h0M138.9 167.5h0M158.6 197.5h0M184.5 184.2h0M212.0 117.9h0M137.4 220.2h0M273.8 214.2h0M202.0 158.3h0M112.6 231.3h0M244.3 67.9h0M276.1 88.7h0M228.4 136.6h0M159.5 137.4h0M237.7 198.2h0M252.0 88.9h0M267.5 224.5h0M227.9 101.1h0M164.3 162.3h0M275.3 205.2h0M216.7 216.5h0M216.5 101.5h0M217.5 95.7h0M165.1 165.9h0M221.7 130.9h0M158.2 173.9h0M158.5 136.2h0M156.7 170.2h0M269.7 183.5h0M222.8 162.6h0M251.6 63.8h0M173.6 179.9h0M115.7 217.5h0M190.6 159.5h0M138.3 185.3h0M202.9 136.7h0M137.6 188.1h0M261.4 212.5h0M145.0 89.9h0M149.7 185.4h0M246.4 181.3h0M270.0 220.5h0M243.2 241.6h0M217.5 108.3h0M146.3 186.6h0M185.4 119.8h0M250.1 46.9h0M173.6 156.6h0M253.7 111.7h0M78.0 154.3h0M68.7 188.4h0M148.4 71.9h0M225.7 154.8h0M256.7 127.7h0M248.4 121.8h0M190.1 152.8h0M234.6 229.2h0M262.6 68.9h0M253.3 72.8h0M192.1 118.8h0M135.0 188.3h0M209.8 144.0h0M206.9 92.3h0M98.5 237.8h0M183.0 128.9h0M140.9 231.9h0M136.5 147.4h0M197.3 140.5h0M234.4 107.0h0M203.8 116.1h0M200.8 143.5h0M230.6 115.0h0M258.6 208.2h0M149.3 156.3h0M164.5 161.0h0M149.3 164.5h0M258.9 148.3h0M190.5 129.0h0M134.1 178.8h0M232.4 118.8h0M153.4 127.4h0M162.5 203.0h0M268.7 192.7h0M157.0 211.4h0M212.8 120.5h0M259.8 85.8h0M138.2 190.1h0M97.5 241.3h0M245.6 212.7h0M258.9 116.0h0M255.1 237.4h0M186.3 192.7h0M248.2 193.3h0M148.4 188.6h0M226.1 211.3h0M160.1 146.9h0M200.1 148.0h0M121.8 177.4h0M275.1 169.7h0M249.8 98.7h0M198.7 132.5h0M172.6 224.4h0M165.1 224.3h0M252.0 131.8h0M241.5 236.1h0M190.1 137.8h0M195.1 228.0h0M183.7 158.5h0M132.4 171.8h0M239.2 238.0h0M273.0 209.1h0M128.7 228.9h0M160.3 149.2h0M254.4 97.4h0M142.3 199.6h0M179.3 140.2h0M252.1 122.0h0M226.8 135.2h0M212.4 82.9h0M269.4 148.7h0M165.9 162.1h0M241.5 209.5h0M196.8 142.6h0M155.7 170.4h0M185.7 228.4h0M94.6 237.2h0M131.4 187.4h0M183.6 130.2h0M237.2 89.7h0M180.4 154.2h0M155.5 176.8h0M213.2 128.0h0M133.4 173.6h0M260.5 174.8h0M158.2 142.9h0M261.9 87.0h0M224.8 121.6h0M255.9 149.9h0M89.4 174.8h0M257.6 125.5h0M238.0 218.2h0M92.6 207.8h0M247.2 213.1h0M264.2 190.8h0M272.2 165.2h0M177.9 171.9h0M126.3 225.8h0M251.3 201.6h0M167.3 136.0h0M161.4 159.3h0M175.7 121.4h0M141.4 188.3h0M214.1 164.9h0M143.9 179.5h0M172.9 157.5h0M174.0 165.6h0M260.8 229.4h0" stroke="#e0180c"/><path d="M225.4 72.4h0M209.0 231.6h0M213.1 171.5h0M229.2 181.4h0M220.8 226.3h0M240.3 72.2h0M224.8 72.0h0M245.8 68.6h0M214.3 238.9h0M226.9 164.7h0M224.4 66.4h0M240.7 54.8h0M228.7 223.3h0M224.9 178.1h0M231.0 233.7h0M208.0 166.7h0M246.0 86.6h0M242.9 49.8h0M222.3 234.9h0M212.1 175.2h0M246.3 77.3h0M235.2 196.9h0M204.0 57.8h0M200.9 236.6h0M223.9 197.1h0M237.0 52.9h0M228.3 84.5h0M231.1 73.8h0M226.4 190.9h0M207.7 179.3h0M250.8 82.8h0" stroke="#4a64f8"/><path d="M208.9 225.2h0M216.7 174.8h0M203.4 236.8h0M193.3 222.0h0M229.4 214.3h0M218.8 211.8h0M218.4 213.0h0M200.5 230.7h0M226.1 221.6h0M226.9 73.2h0M223.1 100.2h0M246.0 79.0h0M237.3 58.7h0M237.0 157.0h0M189.5 208.4h0M226.2 62.4h0M241.0 103.3h0M231.3 83.8h0M208.2 216.7h0M231.9 150.1h0M225.0 242.2h0M196.9 234.8h0M220.1 91.6h0M226.3 194.2h0M218.3 91.6h0M229.5 86.1h0M210.7 233.0h0M225.2 69.6h0M242.1 70.0h0M200.9 235.1h0M230.9 76.2h0M236.9 63.7h0M224.7 167.6h0M252.7 49.0h0" stroke="#4b79f7"/><path d="M230.9 74.7h0M214.7 217.4h0M200.7 211.8h0M224.0 221.5h0M240.0 100.3h0M208.2 226.1h0M242.0 55.1h0M248.9 80.1h0M200.3 224.4h0M245.7 49.2h0M220.7 95.0h0M222.4 92.3h0M240.5 57.1h0M208.8 226.9h0M223.4 62.4h0M221.3 238.2h0M251.1 73.6h0M235.4 161.5h0M243.0 87.9h0M229.2 217.7h0M252.9 58.0h0M218.7 167.8h0M205.5 231.8h0M192.3 232.5h0M253.9 53.3h0M197.5 224.2h0M193.5 220.2h0M247.9 57.0h0M204.6 231.5h0M223.3 176.9h0M188.1 215.5h0" stroke="#4f89f4"/><path d="M235.3 57.5h0M202.7 95.4h0" stroke="#569af2"/><path d="M225.8 68.5h0M222.1 99.2h0M215.6 81.6h0M195.7 108.0h0M237.4 55.9h0M212.2 96.8h0" stroke="#5daaf0"/><path d="M240.2 70.1h0M191.0 104.6h0M211.5 99.5h0M247.3 52.8h0M210.2 54.6h0M209.6 83.2h0M195.7 86.4h0M199.8 95.8h0M210.9 73.1h0" stroke="#64b7ed"/><path d="M226.6 68.8h0M211.5 61.1h0M236.4 57.8h0M240.6 69.5h0M205.4 106.0h0M228.5 152.7h0M212.2 105.8h0M218.2 93.1h0M212.3 82.8h0M226.0 64.1h0M220.5 75.9h0M241.4 63.3h0" stroke="#6bc4e9"/><path d="M230.7 166.5h0M220.5 218.4h0M208.5 220.5h0M235.4 212.5h0M191.4 203.8h0M233.2 69.4h0M231.7 222.9h0M225.5 92.1h0M237.3 85.9h0M225.0 227.4h0M209.0 189.3h0M253.8 83.1h0M225.6 59.4h0M210.1 82.9h0M221.0 87.4h0M236.3 104.6h0M222.2 64.8h0M246.2 145.9h0M248.3 53.3h0M219.8 215.8h0M212.3 154.8h0M241.7 114.3h0M217.2 74.5h0M235.0 66.9h0M248.8 103.3h0M233.0 227.0h0M213.3 219.1h0M235.8 150.4h0M230.9 216.8h0M209.7 78.6h0M235.3 100.5h0M199.3 187.5h0M232.5 183.4h0M183.3 62.0h0M195.6 191.1h0M205.8 181.5h0M187.5 82.0h0M241.4 52.2h0M247.5 62.6h0M249.7 49.4h0M221.4 158.2h0M246.6 79.8h0M199.6 215.4h0M213.5 214.3h0M234.1 218.1h0M205.6 82.3h0M238.9 226.1h0M237.5 120.1h0M215.0 209.1h0M229.6 168.0h0M231.4 116.6h0M218.8 116.0h0M102.7 83.0h0M206.2 96.3h0M211.9 150.8h0M218.6 98.9h0M200.8 165.2h0M223.9 176.1h0M127.6 99.4h0M238.5 164.7h0M219.9 136.7h0M242.3 65.9h0M220.1 93.5h0M229.3 209.4h0M226.4 84.5h0M247.4 118.8h0M242.5 211.3h0M243.0 78.2h0M254.2 77.0h0M237.6 121.4h0M216.6 128.3h0M220.8 170.4h0M209.7 225.4h0M241.9 134.8h0M238.0 157.2h0M222.6 135.0h0M211.9 169.2h0M237.4 104.3h0M228.4 83.9h0M219.7 167.9h0M240.4 57.0h0M222.7 84.6h0M245.5 123.8h0" stroke="#72d0e2"/><path d="M225.9 82.4h0M184.9 189.2h0M236.0 124.5h0M228.4 107.8h0M254.3 110.2h0M242.3 65.8h0M210.7 241.1h0M201.5 227.4h0M219.4 95.6h0M228.6 74.1h0M230.6 216.8h0M209.0 210.3h0M230.7 120.5h0M169.9 126.0h0M223.3 85.3h0M218.6 98.3h0M208.1 229.9h0M229.5 134.7h0M221.8 239.5h0M231.0 79.0h0M232.2 202.5h0M220.6 135.7h0M212.2 223.2h0M220.5 152.8h0M244.6 113.2h0M242.2 130.9h0M218.0 77.2h0M79.9 126.0h0M233.1 100.1h0M251.0 78.3h0M199.5 158.2h0M213.3 98.0h0M221.9 237.8h0M202.2 207.5h0M220.7 150.1h0M209.5 214.5h0M228.6 96.5h0M235.2 235.8h0M239.2 226.2h0M223.4 217.2h0M221.1 233.7h0M215.4 60.2h0M237.0 63.0h0M188.1 183.3h0M201.6 187.7h0M212.6 179.1h0M224.1 95.1h0M229.8 203.9h0M238.9 240.7h0M240.9 146.3h0M240.6 154.4h0M216.7 162.3h0M180.9 211.5h0M198.5 160.9h0M211.8 88.7h0M208.5 207.8h0M213.4 49.7h0M231.8 172.0h0M218.5 211.6h0M232.7 173.7h0M239.3 71.4h0M245.3 75.7h0M233.1 90.7h0M245.9 60.9h0M191.4 75.2h0M217.9 83.9h0M250.2 58.4h0M227.2 189.2h0M218.8 108.4h0M244.3 145.7h0M238.8 199.5h0M227.8 217.6h0M227.2 206.8h0M200.4 151.2h0M214.6 179.1h0M240.7 75.2h0M258.1 91.4h0M234.9 83.1h0" stroke="#79dada"/><path d="M212.0 195.9h0M196.0 164.7h0M211.4 224.9h0M253.0 73.8h0M237.7 88.5h0M212.1 240.5h0M213.7 114.9h0M210.9 240.6h0M230.8 128.9h0M216.1 238.6h0M222.1 147.8h0M216.6 232.9h0M205.7 75.3h0M232.8 91.7h0M202.4 176.2h0M219.0 238.0h0M209.3 224.1h0M216.8 200.4h0M185.6 153.3h0M222.8 213.2h0M231.5 221.4h0M197.6 242.4h0M194.7 174.8h0M226.9 229.0h0M216.0 216.7h0M231.1 188.6h0M230.9 201.1h0M220.7 86.3h0M217.4 75.3h0M228.9 173.8h0M222.4 74.1h0M201.7 237.2h0M234.6 147.9h0M250.8 72.3h0M239.2 144.8h0M224.8 231.1h0M247.4 77.3h0M232.4 167.8h0M234.3 171.0h0M216.3 238.4h0M221.9 205.9h0M220.1 106.3h0M224.6 113.6h0M197.2 223.0h0M218.3 92.3h0M229.5 139.6h0M220.7 228.5h0M233.1 202.2h0M196.7 160.7h0M237.2 58.5h0M255.0 84.3h0M216.0 186.2h0M234.6 204.4h0M197.2 178.0h0M223.1 148.7h0M223.6 103.1h0M222.6 103.9h0M223.4 218.7h0M231.9 170.4h0M215.8 72.6h0M233.7 56.5h0M200.7 242.3h0M228.1 127.5h0M225.1 229.7h0M234.5 98.8h0M211.9 219.6h0M196.9 241.9h0M234.5 56.6h0M220.2 136.8h0M140.4 92.2h0M230.2 227.9h0M226.0 169.2h0M210.0 209.2h0M205.6 73.5h0M250.3 64.0h0M188.1 175.5h0M235.1 65.4h0M247.4 132.8h0M240.2 129.5h0M226.7 219.8h0M235.0 96.4h0M221.1 161.2h0M200.8 175.1h0M244.3 84.0h0M214.9 136.9h0" stroke="#80e3d1"/><path d="M244.5 136.7h0M222.3 172.7h0M242.7 92.2h0M225.6 91.1h0M219.7 216.9h0M252.3 70.5h0M247.8 79.4h0M92.0 107.1h0" stroke="#87eac7"/><path d="M247.2 113.9h0M262.2 91.5h0M268.3 86.2h0M199.1 202.1h0M201.8 106.8h0M263.0 180.2h0M222.9 177.2h0M201.8 81.4h0M227.6 124.7h0M239.2 69.3h0M235.1 90.4h0M156.3 185.7h0M261.6 103.3h0M241.6 113.6h0M242.0 200.0h0M235.0 144.7h0M249.9 97.0h0M196.7 183.1h0M240.2 229.7h0M240.8 196.6h0M200.0 122.7h0M231.7 172.7h0M186.2 228.1h0M254.9 50.1h0M258.4 122.2h0M217.3 97.6h0M223.7 110.3h0M225.2 113.1h0M230.5 230.9h0M205.4 241.1h0M235.7 194.0h0M254.1 109.9h0M240.4 227.7h0M248.2 122.3h0M210.0 237.5h0M259.7 102.3h0M143.0 126.5h0M241.9 104.2h0M256.1 87.0h0M224.7 228.8h0M221.9 136.7h0M192.4 191.4h0M193.7 185.3h0M263.4 174.9h0M235.6 63.7h0M225.6 219.3h0M249.8 60.6h0M202.9 242.0h0M224.2 223.2h0M225.2 126.7h0M249.9 240.7h0M257.6 77.1h0M264.2 108.8h0M241.7 135.3h0M253.6 90.5h0M184.2 219.9h0M210.9 223.7h0M246.9 114.7h0M214.1 196.6h0M156.4 97.7h0M234.0 199.8h0M273.9 170.5h0M238.0 97.6h0M207.8 236.9h0M248.8 57.3h0M195.5 231.8h0M233.8 216.1h0M207.8 181.1h0M219.1 126.3h0M267.3 93.2h0M211.3 162.0h0M233.9 139.8h0M236.7 118.6h0M244.8 92.5h0M207.3 105.0h0M248.0 86.7h0M266.6 61.5h0M249.6 210.2h0M220.4 151.9h0M231.3 98.0h0M232.4 92.5h0M252.6 100.8h0M241.2 123.7h0M233.5 148.4h0M219.1 164.2h0M253.3 134.8h0M48.3 122.9h0M235.2 89.8h0M234.4 215.2h0M206.1 215.6h0M245.9 148.7h0M182.0 60.2h0M250.4 109.0h0M245.2 101.5h0M239.2 194.6h0M234.3 82.5h0M236.7 83.7h0M240.4 93.7h0M246.4 138.9h0M224.5 116.4h0M209.8 231.0h0M225.4 232.0h0M217.1 237.5h0M267.9 77.6h0M227.9 168.9h0M198.5 90.8h0M258.5 101.4h0M225.7 153.3h0M245.0 236.1h0M211.5 107.7h0M268.6 184.6h0M243.3 128.6h0M266.3 192.8h0M191.1 209.8h0M225.7 80.2h0M225.5 94.7h0M222.0 183.1h0M275.0 191.4h0M179.4 119.1h0M247.7 211.3h0M233.4 102.5h0M234.1 224.5h0M243.4 82.7h0M232.7 230.7h0M228.3 73.4h0M197.2 205.7h0M232.6 122.9h0M126.1 71.1h0M191.8 96.6h0M237.9 89.6h0M275.7 158.3h0M228.8 165.9h0M253.8 203.6h0M232.6 96.1h0M236.8 107.3h0M245.5 86.3h0M258.9 98.0h0M258.4 66.8h0M246.8 131.2h0M243.4 134.3h0M178.4 112.8h0" stroke="#8feebd"/><path d="M237.3 89.8h0M256.1 125.7h0M212.9 128.8h0M259.3 232.4h0M247.5 76.3h0M257.2 81.4h0M242.7 118.1h0M246.2 210.3h0M236.7 141.3h0M251.1 70.1h0M215.4 144.8h0M273.5 55.1h0M273.6 186.4h0M239.2 123.3h0M152.4 203.7h0M205.6 192.4h0M218.0 96.4h0M222.9 191.9h0M241.2 115.2h0M241.3 53.8h0M257.1 108.0h0M189.9 83.8h0M266.5 63.6h0M262.4 86.7h0M193.1 176.8h0M262.0 78.2h0M229.4 115.0h0M235.2 71.6h0M251.0 72.9h0M241.6 109.9h0M208.7 236.9h0M189.8 158.2h0M221.7 212.1h0M260.7 56.7h0M205.4 155.7h0M231.7 152.4h0M206.0 172.4h0M267.8 68.7h0M201.5 242.0h0M212.9 147.6h0M200.7 158.0h0M256.1 80.6h0M218.3 123.1h0M239.5 121.3h0M253.8 77.2h0M196.7 157.9h0M226.2 75.7h0M254.1 207.1h0M252.4 204.3h0M242.4 111.6h0M238.9 226.0h0M236.0 117.4h0M231.4 92.7h0M250.2 228.3h0M237.4 148.5h0M220.6 221.6h0M249.1 80.5h0M199.9 120.6h0M262.1 106.9h0M226.0 122.6h0M215.2 86.9h0M201.1 145.2h0M226.4 80.2h0M232.1 104.5h0M254.3 116.8h0M133.6 143.6h0M249.9 199.0h0M234.2 81.0h0M82.7 183.7h0M250.6 91.9h0M161.1 83.4h0M216.6 242.0h0M206.5 84.7h0M252.9 80.0h0M199.9 228.8h0M263.7 202.7h0M248.7 66.8h0M263.2 68.8h0M250.5 199.6h0M240.8 111.7h0M248.4 202.0h0M205.0 172.6h0M232.4 77.1h0M239.2 164.7h0M211.6 159.0h0M239.3 57.5h0M208.5 129.4h0M233.8 112.7h0M213.0 132.4h0M232.2 80.4h0M217.1 109.6h0M260.2 202.2h0M238.9 215.8h0M256.1 196.1h0M225.8 150.9h0M94.4 155.4h0M252.0 89.1h0M209.1 129.3h0M245.4 138.9h0M206.3 83.9h0M210.2 213.0h0M246.0 79.8h0M257.6 203.6h0M253.1 104.2h0M218.7 78.8h0M226.8 162.8h0M264.4 84.9h0M207.5 204.5h0M268.4 180.8h0M269.3 216.5h0M249.9 67.5h0M253.9 206.8h0M271.6 163.5h0M209.0 98.3h0M215.2 110.7h0M225.0 92.6h0M249.8 122.6h0M246.7 115.3h0M207.4 226.0h0M255.9 194.5h0M207.5 121.4h0M237.7 114.6h0M271.2 164.9h0M246.4 70.0h0M233.0 240.0h0M229.7 195.0h0M266.1 100.0h0M216.5 183.8h0M227.5 174.1h0M222.7 66.3h0M189.0 206.7h0M263.5 113.1h0M220.7 109.7h0M227.1 134.3h0M203.2 198.9h0M232.0 151.6h0M238.6 159.3h0M181.9 218.4h0M198.6 158.7h0M216.4 143.1h0M251.0 123.1h0M210.3 235.1h0M244.2 176.6h0M210.2 166.4h0M260.0 219.2h0M215.6 222.5h0M245.7 102.2h0M261.9 68.4h0M213.7 178.5h0M251.2 73.2h0M88.7 110.1h0M255.2 101.4h0M216.5 109.0h0M237.0 236.9h0M188.6 205.4h0M240.6 64.0h0M245.3 230.3h0M210.0 224.8h0M234.0 145.8h0M242.3 223.6h0M221.7 178.0h0M252.6 97.1h0M228.3 89.3h0M233.7 224.3h0M274.9 210.3h0M255.0 235.6h0M257.5 126.1h0M251.7 99.5h0M207.5 109.3h0M243.2 122.7h0M236.9 53.1h0M209.8 161.7h0M250.2 125.4h0M224.7 222.1h0M248.3 98.0h0M246.5 229.9h0M230.2 216.2h0M237.6 89.8h0M196.9 199.9h0M215.9 117.9h0M220.8 146.3h0M214.8 163.7h0M186.8 153.6h0M246.2 101.5h0M199.9 189.5h0M197.1 131.8h0M255.9 74.1h0M223.6 160.7h0M218.2 140.7h0M200.1 201.2h0M260.0 85.7h0M233.7 144.3h0M221.8 79.5h0M113.2 143.4h0M219.6 114.2h0M198.2 151.9h0M196.3 99.9h0M230.7 142.4h0M244.2 56.0h0M248.7 52.4h0M231.5 224.9h0M241.1 235.2h0M257.3 110.2h0M222.7 145.2h0M265.4 84.8h0M275.3 175.6h0M202.7 162.3h0M195.5 170.0h0M244.6 65.2h0M194.3 91.9h0M218.7 93.4h0M238.5 65.4h0M212.9 135.5h0M227.5 116.2h0M237.4 115.0h0M236.6 106.9h0M221.5 241.1h0M206.0 105.4h0M245.5 140.5h0M257.5 72.0h0M217.8 147.1h0M232.4 120.4h0M207.5 119.3h0M235.1 209.3h0M246.8 114.2h0M213.7 122.2h0M171.1 93.8h0M236.1 148.8h0M227.2 111.3h0M262.8 196.8h0M238.1 225.4h0M240.7 197.8h0M229.2 157.8h0M227.0 78.0h0M237.1 94.8h0M206.1 99.1h0M243.4 89.3h0M232.1 75.8h0M241.2 104.9h0M261.6 67.8h0M248.8 93.0h0M235.2 108.8h0M251.6 215.5h0M235.1 78.9h0M251.8 111.2h0M247.0 235.0h0M220.5 102.3h0M91.9 95.7h0M233.5 148.5h0M241.5 144.5h0M237.9 100.8h0M229.5 229.9h0M232.8 114.7h0M234.0 125.1h0M202.0 180.5h0M216.6 138.0h0M196.0 109.9h0M237.3 70.1h0M224.1 92.7h0M235.5 210.9h0M220.1 217.9h0M235.0 59.1h0M201.1 146.3h0M254.1 114.2h0M254.3 220.6h0M239.2 216.2h0M206.5 227.0h0M269.4 176.0h0M106.2 146.0h0M251.1 107.3h0M250.2 70.3h0M268.6 164.6h0M206.5 100.9h0M216.2 239.9h0M217.8 161.3h0M201.6 171.2h0M220.4 149.9h0M223.0 164.8h0M251.3 72.7h0M197.7 216.8h0M230.3 154.9h0M259.4 94.7h0M174.9 82.1h0M230.7 130.0h0M236.7 58.9h0M210.4 159.0h0M236.7 90.8h0M236.1 213.5h0" stroke="#9aefaf"/><path d="M199.5 185.5h0M205.6 232.2h0M183.4 193.0h0M221.0 113.5h0M137.0 164.6h0M275.9 184.3h0M222.9 230.6h0M156.2 195.8h0M241.3 87.7h0M252.8 142.1h0M250.3 96.9h0M272.4 177.9h0M223.5 100.1h0M244.5 105.6h0M222.5 168.6h0M234.3 213.3h0M230.3 91.3h0M254.5 118.0h0M227.7 132.7h0M190.6 129.6h0M214.3 106.4h0M209.8 173.8h0M208.6 236.5h0M223.7 125.2h0M234.9 107.6h0M223.1 128.4h0M247.0 101.8h0M173.5 52.4h0M208.6 182.6h0M266.8 197.0h0M235.8 139.4h0M243.8 106.7h0M214.4 124.5h0M263.8 58.7h0M216.3 110.2h0M216.7 159.9h0M256.4 64.2h0M256.8 229.9h0M184.0 207.7h0M216.0 92.2h0M195.9 155.0h0M217.5 136.0h0M256.4 48.2h0M249.2 85.1h0M241.6 59.9h0M251.4 99.7h0M254.6 113.0h0M184.0 171.7h0M260.4 119.2h0M203.4 183.3h0M270.6 193.9h0M192.3 166.4h0M248.2 187.4h0M243.9 55.7h0M256.1 114.7h0M237.5 130.6h0M256.3 108.7h0M246.5 89.0h0M233.1 225.9h0M250.7 203.3h0M262.9 65.8h0M264.9 63.9h0M223.7 100.0h0M241.7 67.6h0M238.8 229.6h0M249.3 73.6h0M252.2 63.1h0M209.8 107.4h0M164.8 197.1h0M220.8 100.1h0M205.3 204.2h0M251.4 132.8h0M222.2 83.9h0M250.4 209.4h0M251.0 132.5h0M245.9 136.6h0M267.0 207.2h0M197.4 185.2h0M154.8 150.1h0M253.0 189.2h0M235.8 103.2h0M209.0 229.8h0M229.3 239.6h0M189.4 98.1h0M264.4 85.4h0M264.8 85.1h0M237.5 108.9h0M246.7 110.4h0M204.0 151.1h0M223.9 111.6h0M259.3 178.3h0M210.0 184.3h0M246.9 100.0h0M215.7 205.6h0M228.9 129.7h0M237.3 233.7h0M248.0 205.3h0M246.5 147.1h0M260.7 53.0h0M206.9 227.4h0M221.8 216.0h0M256.8 58.0h0M245.0 76.6h0M261.3 190.8h0M220.8 211.6h0M195.8 187.8h0M267.4 199.9h0M225.9 121.3h0M260.0 177.1h0M205.0 180.4h0M240.2 125.5h0M190.5 174.1h0M264.9 179.4h0M202.2 177.8h0M233.1 115.4h0M263.9 53.9h0M212.0 215.2h0M251.3 117.7h0M224.7 188.8h0M209.1 127.9h0M246.1 103.7h0M251.4 227.6h0M209.2 154.9h0M245.9 52.1h0M220.3 163.9h0M206.6 179.6h0M242.4 98.9h0M257.1 80.8h0M210.4 122.8h0M208.6 146.3h0M222.2 191.2h0M240.9 195.0h0M230.7 142.0h0M210.8 82.4h0M234.7 139.4h0M265.4 47.8h0M275.4 57.5h0M197.6 132.0h0M224.3 189.3h0M265.0 99.3h0M241.5 150.7h0M233.9 165.4h0M231.6 205.2h0M215.6 225.1h0M253.0 102.0h0M263.1 86.8h0M238.9 149.0h0M196.8 170.2h0M237.6 120.4h0M225.8 87.4h0M255.8 127.8h0M267.4 220.0h0M232.9 166.0h0M229.5 206.8h0M73.7 121.0h0M177.4 151.2h0M275.8 183.1h0M247.3 93.5h0M205.9 218.0h0M257.8 234.7h0M226.0 88.5h0M243.6 98.8h0M186.9 166.5h0M242.5 99.2h0M262.9 52.7h0M221.6 239.4h0M226.2 219.6h0M270.1 168.6h0M224.5 209.0h0M218.9 232.9h0M238.9 76.7h0M186.8 125.4h0M231.7 107.7h0M261.1 116.7h0M232.3 124.6h0M211.4 172.4h0M184.0 130.5h0M237.4 72.8h0M241.3 236.1h0M230.7 207.3h0M218.4 143.6h0M261.1 65.6h0M226.9 214.3h0M255.7 121.7h0M249.5 203.6h0M217.1 223.9h0M240.9 57.2h0M257.7 67.0h0M224.7 205.8h0M211.1 104.3h0M223.6 141.1h0M248.3 50.0h0M191.1 163.8h0M243.6 118.1h0M212.1 168.0h0M220.3 218.7h0M235.6 119.1h0M259.0 190.0h0M238.6 105.2h0M228.9 140.3h0M236.7 115.3h0M236.0 62.8h0M224.8 86.4h0M250.4 195.9h0M239.4 97.7h0M190.7 223.1h0M228.4 115.8h0M202.3 216.9h0M254.2 100.5h0M180.1 136.9h0M126.9 158.1h0M206.9 223.6h0M266.5 80.6h0M234.4 235.9h0M229.0 122.6h0M219.7 86.8h0M234.3 129.6h0M240.8 147.5h0M229.4 166.1h0M239.6 133.9h0M212.1 154.5h0M217.4 237.5h0M199.6 196.4h0M221.4 129.4h0M254.4 117.3h0M211.0 92.9h0M223.4 149.4h0M200.8 215.9h0M246.9 233.9h0M232.4 122.7h0M228.3 185.7h0M263.5 78.5h0M220.3 150.3h0M232.7 237.6h0M231.5 217.8h0M230.3 218.7h0M245.6 144.8h0M205.0 181.8h0M264.9 46.7h0M211.1 84.9h0M246.0 124.0h0M233.4 109.6h0M244.6 133.4h0M246.6 94.8h0M267.0 219.8h0M175.5 209.1h0M265.1 210.5h0M201.5 97.5h0M236.9 171.7h0M195.9 97.7h0M257.6 71.3h0M221.7 208.8h0M260.3 80.1h0M241.1 102.0h0M255.7 49.0h0M223.3 61.2h0M264.5 174.7h0M229.4 230.7h0M237.7 66.3h0M264.1 174.6h0M193.0 229.7h0M218.3 122.1h0M255.7 97.5h0M239.6 61.3h0M227.9 108.8h0M226.1 173.8h0M261.8 186.8h0M267.9 95.0h0M249.1 199.2h0M193.0 139.6h0M232.1 205.5h0M241.9 210.7h0M249.6 52.3h0M225.8 219.9h0M213.1 223.9h0M264.7 90.7h0M226.0 138.5h0M211.5 116.2h0M243.1 63.4h0M252.7 95.9h0M228.0 235.5h0M190.8 144.7h0M220.4 230.9h0M198.2 106.1h0M226.7 228.8h0M210.0 129.5h0M222.2 199.2h0M215.7 230.8h0" stroke="#a7efa3"/><path d="M268.8 206.4h0M241.9 236.6h0M224.3 192.0h0M241.9 139.8h0M205.2 106.8h0M274.5 101.5h0M221.8 146.5h0M208.1 232.0h0M223.7 75.0h0M211.9 154.4h0M258.2 103.2h0M220.9 166.1h0M146.4 190.3h0M216.9 189.3h0M232.1 146.0h0M234.4 93.8h0M221.4 152.8h0M239.1 205.3h0M226.9 205.7h0M266.0 72.7h0M256.0 212.8h0M241.8 77.2h0M254.3 103.0h0M234.7 81.6h0M256.3 123.7h0M218.4 110.3h0M265.8 47.2h0M215.3 176.1h0M229.7 230.3h0M257.4 70.6h0M230.2 212.2h0M263.6 54.9h0M217.5 155.6h0M225.3 99.9h0M212.2 153.9h0M242.8 108.4h0M173.6 90.6h0M273.2 178.3h0M199.8 138.3h0M199.9 234.6h0M226.4 172.7h0M254.4 93.6h0M217.8 238.3h0M224.2 92.3h0M217.0 134.1h0M232.4 213.3h0M220.8 231.4h0M258.5 81.1h0M270.8 195.4h0M264.9 53.6h0M224.1 154.2h0M237.7 210.6h0M241.9 137.1h0M258.0 237.4h0M199.8 152.0h0M236.8 160.4h0M265.8 216.8h0M241.8 100.0h0M204.5 150.1h0M232.7 121.3h0M242.7 101.1h0M266.8 219.4h0M233.4 167.6h0M250.7 58.2h0M252.8 75.1h0M246.8 86.5h0M222.8 110.2h0M211.7 89.9h0M276.0 74.9h0M222.8 66.9h0M223.4 230.5h0M230.0 90.0h0M259.8 106.1h0M229.7 131.3h0M260.9 190.0h0M238.7 76.1h0M232.8 127.3h0M225.1 88.8h0M217.2 179.0h0M221.3 197.2h0M216.2 70.3h0M199.8 168.3h0M226.8 96.2h0M269.8 160.1h0M263.5 71.5h0M252.6 129.4h0M211.4 129.6h0M205.3 120.3h0M193.0 203.9h0M243.2 97.0h0M246.8 76.6h0M247.8 96.3h0M237.7 228.9h0M211.2 120.3h0M219.1 144.3h0M246.3 123.9h0M183.4 177.8h0M228.7 91.6h0M229.5 163.6h0M215.7 217.4h0M183.3 158.9h0M249.4 236.1h0M219.5 152.4h0M226.1 168.7h0M195.7 96.2h0M224.2 227.7h0M202.6 119.7h0M209.7 240.1h0M197.8 121.3h0M127.6 133.6h0M252.0 74.2h0M214.2 99.8h0M165.6 187.5h0M250.2 70.9h0M256.2 130.0h0M207.4 78.5h0M208.8 78.9h0M241.3 91.7h0M262.0 89.2h0M201.1 177.6h0M205.9 234.0h0M235.7 69.7h0M227.5 215.2h0M210.2 139.9h0M200.9 238.7h0M228.4 236.3h0M209.1 171.9h0M239.2 120.7h0M254.3 68.2h0M220.8 158.4h0M254.3 83.7h0M202.1 233.8h0M230.7 96.3h0M221.0 148.6h0M250.4 63.7h0M225.0 160.2h0M195.7 162.0h0M225.5 229.3h0M226.6 121.1h0M217.8 124.8h0M212.9 225.1h0M214.5 237.2h0M226.8 181.9h0M209.7 171.9h0M248.3 70.7h0M252.9 133.7h0M235.6 58.0h0M211.7 133.8h0M208.0 92.1h0M187.8 188.4h0M211.0 128.2h0M248.3 109.9h0M228.3 155.2h0" stroke="#b5ed9a"/><path d="M192.2 178.3h0M103.0 128.3h0M246.6 212.8h0M178.1 170.8h0M275.3 181.5h0" stroke="#c3e794"/><path d="M221.9 142.9h0M201.6 167.1h0M254.9 213.6h0M202.8 172.9h0M199.4 173.8h0M244.0 199.6h0M125.9 133.0h0M230.1 161.1h0M258.4 211.5h0M139.0 105.6h0M246.1 191.5h0M220.1 160.2h0M220.3 174.9h0M275.6 168.9h0M214.4 158.9h0M247.5 191.0h0M221.0 161.5h0M213.5 145.5h0M265.4 187.9h0M261.3 196.9h0M268.3 175.3h0M274.8 206.8h0M203.7 184.1h0M199.1 166.8h0M268.0 216.4h0M275.4 161.0h0M194.0 151.3h0M244.6 211.9h0M264.8 195.8h0M221.9 168.1h0" stroke="#d1e090"/><path d="M268.1 206.1h0M250.6 215.7h0M258.5 211.3h0M210.6 189.7h0M266.4 215.5h0M229.6 153.3h0M263.2 220.4h0M270.4 173.1h0M254.5 228.1h0M270.9 171.9h0M253.8 241.8h0M245.9 222.7h0M270.0 199.0h0M208.5 172.4h0M245.7 191.6h0M212.9 167.2h0M261.4 210.8h0M275.8 212.1h0M263.8 173.6h0M145.3 126.0h0M270.4 184.3h0M268.2 188.9h0M225.9 173.4h0M269.4 209.2h0M195.5 170.6h0M259.8 220.8h0M119.2 120.3h0M261.0 190.3h0M207.3 161.4h0M256.2 239.0h0M260.3 181.2h0M203.8 171.6h0M275.2 209.5h0" stroke="#dfd98b"/><path d="M178.1 162.9h0M204.2 182.7h0M244.0 207.5h0M244.4 238.6h0M270.9 180.3h0M229.6 162.6h0M250.7 227.1h0M245.5 209.7h0M107.4 113.2h0M252.4 223.9h0M255.9 236.2h0M223.3 171.0h0M73.8 146.5h0M198.1 173.3h0M273.6 217.2h0M267.0 215.2h0M249.4 236.8h0M264.0 209.3h0M196.0 145.4h0M207.4 180.9h0M259.4 222.9h0M257.1 189.9h0" stroke="#eacf85"/><path d="M194.2 154.7h0M244.3 77.2h0M231.6 165.0h0M168.1 145.5h0M260.7 78.7h0M206.5 103.4h0M255.1 112.7h0M142.3 116.4h0M262.1 209.8h0M155.2 171.0h0M214.4 132.9h0M211.4 204.4h0M242.9 240.9h0M221.3 117.1h0M265.2 54.7h0M205.9 157.3h0M221.5 124.3h0M234.4 82.8h0M239.1 196.4h0M239.9 239.9h0M228.3 220.0h0M255.3 101.0h0M264.5 215.0h0M163.3 188.4h0M176.9 158.8h0M238.7 159.7h0M247.0 111.6h0M250.5 188.2h0M203.3 150.1h0M236.6 232.3h0M267.9 220.4h0M229.5 206.1h0M248.1 178.1h0M246.7 114.9h0M203.8 236.9h0M210.8 113.7h0M184.3 155.8h0M275.2 174.5h0M191.9 122.5h0M125.7 198.5h0M123.9 156.0h0M167.7 189.0h0M226.6 149.2h0M233.8 242.5h0M217.7 217.4h0M260.1 224.9h0M250.5 236.1h0M181.3 130.4h0M259.4 183.6h0M199.1 173.4h0M217.7 150.7h0M118.7 206.4h0M184.9 109.1h0M250.4 102.9h0M273.5 93.9h0M270.7 191.7h0M249.5 84.1h0M76.7 240.6h0M198.6 114.3h0M187.4 137.2h0M176.6 157.1h0M240.9 197.2h0M243.5 124.3h0M215.5 79.3h0M221.8 126.5h0M259.1 73.0h0M248.4 210.8h0M255.2 200.2h0M219.3 224.6h0M215.3 89.7h0M176.7 165.5h0M224.5 156.4h0M248.4 50.7h0M190.2 121.3h0M169.2 115.7h0M231.2 147.0h0M242.6 143.3h0M260.8 103.2h0M224.9 240.2h0M171.3 157.7h0M248.8 88.8h0M204.6 180.6h0M232.3 118.8h0M224.2 152.3h0M262.2 192.7h0M226.3 85.8h0M270.3 208.2h0M276.3 160.1h0M213.3 129.0h0M101.7 233.4h0M255.4 230.9h0M251.4 86.4h0M195.1 187.3h0M203.6 107.4h0M234.0 119.0h0M233.4 224.3h0M224.4 232.9h0M235.2 165.0h0M238.7 209.2h0M188.5 174.8h0M195.3 133.1h0M213.2 117.2h0M256.4 83.5h0M234.2 78.0h0M266.9 84.5h0M254.4 122.9h0M260.3 202.5h0M172.2 121.0h0M185.0 202.1h0M238.0 95.1h0M259.1 197.5h0M173.5 213.0h0M241.5 141.5h0M232.9 204.9h0M248.2 221.1h0M226.8 206.6h0M251.9 195.8h0M203.8 178.0h0M226.1 158.1h0M241.3 82.3h0M198.9 123.2h0M190.7 117.4h0M244.7 116.3h0M227.9 124.2h0M206.4 222.8h0M212.5 181.6h0M242.8 80.9h0M273.6 206.7h0M260.3 91.2h0M155.5 213.1h0M250.6 65.2h0M240.4 145.9h0M238.9 136.5h0M267.6 70.8h0M256.4 196.6h0M187.0 137.3h0M260.6 187.2h0M255.9 218.8h0M263.0 176.1h0M264.8 188.9h0M266.1 165.0h0M201.1 168.1h0M264.1 82.6h0M223.2 97.9h0M206.2 115.4h0M248.0 221.7h0M245.2 219.0h0M251.5 234.2h0M217.5 197.2h0M249.8 95.8h0M238.6 201.0h0M174.9 131.1h0M263.5 91.1h0M246.8 167.6h0M246.4 240.0h0M216.4 222.1h0M241.9 132.4h0M268.6 175.9h0M223.3 111.5h0M227.4 131.4h0M174.8 139.6h0M258.4 216.5h0M237.0 130.1h0M208.2 161.8h0M260.0 209.0h0M242.5 228.7h0M242.1 188.8h0M250.2 231.0h0M237.8 130.3h0M189.7 177.4h0M256.4 183.4h0M228.6 238.8h0M214.9 233.7h0M251.6 97.0h0M230.0 234.9h0M248.4 52.4h0M190.9 125.8h0M245.0 101.1h0M220.1 152.2h0M272.2 186.5h0M214.8 241.9h0M239.3 195.3h0M191.3 151.5h0M234.3 153.2h0M267.8 68.3h0M246.0 143.0h0M215.0 236.7h0M208.4 131.4h0M148.1 185.7h0M248.4 238.4h0M231.6 130.7h0M237.4 218.5h0M204.7 143.3h0M254.4 193.9h0M240.8 98.3h0M195.3 150.2h0M218.3 227.3h0M238.1 79.2h0M234.6 199.1h0M82.0 152.1h0M263.9 200.3h0M201.8 203.6h0M166.0 211.2h0M265.8 168.6h0M207.5 133.7h0M55.4 128.6h0M215.5 206.0h0M224.4 229.6h0" stroke="#efb26f"/><path d="M199.0 142.8h0M230.1 180.1h0M246.8 94.7h0M203.5 166.4h0M251.7 121.9h0M257.8 124.2h0M210.2 153.1h0M174.0 191.6h0M252.6 184.0h0M218.0 180.9h0M221.8 155.4h0M244.6 227.7h0M244.9 72.4h0M246.6 220.2h0M185.3 159.2h0M195.2 120.7h0M246.8 127.9h0M180.3 189.5h0M253.5 96.4h0M197.4 174.8h0M273.3 209.5h0M200.7 160.3h0M237.6 122.8h0M204.3 120.9h0M254.5 82.1h0M239.2 65.1h0M274.4 209.8h0M246.8 202.1h0M238.2 227.2h0M256.6 204.5h0M238.3 150.1h0M238.8 131.5h0M243.4 221.1h0M254.2 198.5h0M252.3 174.0h0M267.3 185.8h0M242.9 227.6h0M104.2 215.3h0M265.6 203.6h0M205.6 230.6h0M257.5 117.3h0M216.8 136.5h0M261.9 90.7h0M265.3 210.7h0M258.9 231.5h0M108.1 216.0h0M246.1 92.0h0M244.0 220.4h0M180.3 126.4h0M264.1 77.5h0M247.7 213.4h0M214.5 100.6h0M233.5 214.5h0M257.4 59.9h0M195.8 121.4h0M191.7 165.0h0M240.7 91.6h0M203.7 175.6h0M187.4 135.0h0M188.9 167.4h0M222.0 168.7h0M252.0 107.4h0M203.9 163.6h0M220.1 217.6h0M251.9 211.7h0M233.1 76.5h0M229.6 114.1h0M56.9 147.7h0M253.1 211.3h0M213.7 113.8h0M232.1 150.9h0M236.9 122.6h0M262.0 93.1h0M189.4 147.3h0M252.0 124.4h0M227.3 145.7h0M246.0 153.3h0M247.4 82.2h0M204.2 121.7h0M207.5 190.3h0M215.5 139.4h0M159.5 138.9h0M77.0 90.8h0M248.0 169.4h0M244.1 204.7h0M250.8 206.0h0M220.8 146.0h0M215.1 232.0h0M256.4 124.8h0M186.2 139.7h0M123.1 202.8h0M222.6 124.9h0M256.5 208.1h0M246.2 153.1h0M223.8 213.9h0M238.2 162.3h0M185.2 130.4h0M246.4 240.6h0M178.0 178.9h0M250.8 66.9h0M274.1 205.5h0M198.8 94.9h0M253.9 65.6h0M270.2 194.0h0M252.4 191.1h0M258.3 180.6h0M202.1 161.4h0M252.8 78.1h0M244.0 146.0h0M211.2 239.8h0M250.8 198.3h0M234.7 112.4h0M230.7 202.0h0M238.7 135.8h0M254.3 50.6h0M211.7 88.1h0M199.6 197.6h0M245.5 212.4h0M196.9 147.2h0M273.8 197.7h0M166.4 184.6h0M212.8 133.2h0M245.7 215.1h0M212.3 120.2h0M270.2 200.7h0M258.1 211.8h0M240.1 74.3h0M208.1 237.6h0M189.1 196.0h0M176.6 183.2h0M148.2 174.4h0M215.9 125.9h0M193.7 217.3h0M269.4 185.1h0M236.9 146.9h0M252.1 105.1h0M250.4 91.1h0M247.8 239.4h0M226.0 104.0h0M144.3 189.6h0M266.7 151.3h0M262.3 187.4h0M249.4 52.9h0M163.8 192.1h0M168.1 237.5h0M270.1 220.5h0M216.6 176.6h0M238.1 127.7h0M213.4 110.9h0M243.6 85.1h0M254.2 51.4h0M177.5 198.9h0M212.8 125.5h0M199.6 235.9h0M220.9 107.3h0M185.1 149.7h0M227.5 227.6h0M218.6 205.4h0M254.5 215.5h0M193.1 176.1h0M260.5 197.5h0M156.2 164.6h0M146.1 150.9h0M222.5 129.0h0M231.4 79.7h0M98.8 232.3h0M235.1 95.0h0M274.0 159.1h0M207.6 121.1h0M247.9 155.2h0M213.7 97.2h0M274.5 181.7h0M232.7 230.6h0M226.1 149.8h0M249.8 87.1h0M151.0 171.7h0M235.6 204.5h0M260.1 207.6h0M221.0 155.4h0M231.7 230.8h0M250.9 197.7h0M247.8 85.2h0M215.4 237.4h0M275.8 208.3h0M246.2 86.6h0M180.6 167.8h0M217.3 228.6h0M273.7 185.7h0M250.2 221.1h0M232.2 128.0h0M273.6 117.5h0M115.6 218.1h0M251.7 85.4h0M189.1 119.0h0M259.0 216.6h0M173.6 154.7h0M266.4 193.7h0M217.6 90.2h0M198.0 178.1h0M208.3 238.5h0M145.8 186.1h0M191.5 106.2h0M233.1 105.8h0M175.1 167.6h0M217.2 131.0h0M243.0 115.3h0M152.8 177.2h0M222.3 88.6h0M253.8 102.2h0M245.9 83.2h0M257.1 124.4h0M186.1 171.5h0M178.8 218.2h0M258.2 50.1h0M197.0 137.6h0M189.6 138.6h0M192.6 192.6h0M237.8 130.4h0M219.5 148.1h0M210.8 241.8h0M254.9 195.3h0M265.0 222.5h0M185.3 114.4h0M107.2 97.6h0M233.2 163.2h0M263.9 181.8h0M212.8 138.1h0M253.8 88.5h0M217.5 223.2h0M247.7 230.7h0M190.9 127.3h0M194.1 119.1h0M274.9 118.9h0M192.1 162.9h0M222.5 228.8h0M247.4 66.2h0M169.1 165.9h0M265.5 216.1h0M260.7 102.3h0M274.5 177.1h0M184.5 148.0h0M261.6 116.1h0M240.6 122.9h0M245.0 225.4h0M254.1 96.6h0M261.4 170.4h0M251.4 227.1h0M245.0 242.4h0M215.3 234.6h0M237.7 115.4h0M264.4 204.4h0M248.8 214.5h0M241.4 113.4h0M228.8 79.6h0M244.6 211.6h0M243.9 112.5h0M157.4 202.2h0M213.0 179.0h0M275.6 195.4h0M219.5 133.8h0M210.5 87.0h0M202.8 173.9h0M138.8 192.7h0M216.7 116.8h0M156.1 185.3h0M251.3 94.9h0M213.9 129.5h0M152.1 193.1h0M258.6 183.1h0M157.2 124.1h0M251.6 104.3h0M216.8 135.6h0M215.7 100.3h0M269.7 163.2h0M226.1 112.2h0M238.1 242.2h0M254.5 202.2h0M170.6 127.6h0M243.7 69.8h0M263.8 178.0h0M252.8 93.3h0M265.8 195.0h0M210.5 238.9h0M259.7 223.0h0M257.2 201.1h0M202.8 132.4h0M245.2 133.0h0M162.0 120.8h0M253.0 98.6h0M251.4 145.8h0M242.5 238.4h0M191.5 169.2h0M220.5 230.1h0M249.6 240.9h0M245.9 141.9h0M208.6 137.4h0M236.8 218.7h0M215.0 112.4h0M246.1 56.2h0M244.8 198.0h0M190.3 186.7h0M216.7 152.8h0M229.3 190.0h0M202.9 178.7h0M261.4 210.7h0M221.0 174.7h0M251.9 84.6h0M218.6 220.0h0M181.8 197.0h0M247.6 199.8h0M257.2 192.5h0M237.9 215.9h0M150.7 153.5h0M242.0 227.7h0M233.6 80.3h0M186.3 139.4h0M252.1 83.8h0M254.2 228.3h0M240.3 205.2h0M200.2 158.5h0M257.4 182.8h0M169.5 191.2h0M231.8 212.5h0M255.0 216.9h0M236.8 135.4h0M245.4 101.6h0M220.8 146.6h0M248.1 108.3h0M162.0 158.9h0M236.8 199.7h0M241.0 216.0h0M263.2 227.0h0M110.0 228.5h0M229.1 124.0h0M222.6 88.9h0M254.9 50.5h0M209.6 119.6h0M174.7 160.7h0M248.6 217.8h0M274.5 189.0h0M275.1 190.6h0M186.8 179.6h0M152.9 164.0h0M243.4 93.4h0M261.3 217.0h0M207.1 175.0h0M267.0 87.2h0M239.3 112.9h0M256.3 225.4h0M203.2 191.8h0M275.8 171.4h0M258.3 224.1h0M251.1 97.3h0M276.5 71.5h0M209.4 147.3h0M235.7 94.5h0M245.9 64.2h0M254.4 239.1h0M250.5 63.4h0M258.9 178.2h0M276.1 188.7h0M165.8 190.4h0M265.9 73.7h0M273.0 209.9h0M225.8 129.2h0M275.8 196.5h0M276.2 202.8h0M263.4 86.6h0M234.2 148.8h0M268.0 188.5h0M273.7 204.5h0M226.1 163.4h0M251.9 217.1h0M243.0 62.6h0M208.3 177.2h0M256.6 63.0h0M269.6 199.3h0M221.7 97.3h0M274.5 190.1h0M253.1 120.1h0M255.8 203.5h0M184.7 164.0h0M201.0 148.7h0M266.1 201.2h0M234.4 172.7h0M253.4 92.7h0M209.9 123.7h0M219.6 115.0h0M194.8 132.2h0" stroke="#eca262"/><path d="M271.1 175.5h0M260.4 178.3h0M248.2 60.6h0M260.5 231.5h0M267.0 85.5h0M234.7 210.9h0M267.5 81.2h0M203.4 159.9h0M267.0 219.7h0M201.5 147.9h0M269.3 198.5h0M254.7 57.4h0M246.9 106.6h0M216.8 83.6h0M237.0 238.4h0M262.7 112.0h0M238.4 73.2h0M247.9 192.8h0M260.0 218.1h0M244.7 216.0h0M235.7 166.8h0M260.3 95.5h0M158.1 239.8h0M272.8 165.7h0M254.5 183.5h0M226.5 167.5h0M235.4 121.5h0M232.2 96.1h0M167.6 148.2h0M249.5 119.9h0M250.6 72.2h0M250.9 110.6h0M244.2 229.0h0M274.1 208.3h0M257.1 130.3h0M239.2 144.7h0M259.8 72.4h0M166.8 137.3h0M206.6 151.8h0M232.2 240.3h0M237.3 162.6h0M268.3 192.4h0M107.0 199.1h0M244.5 241.5h0M234.5 152.2h0M184.1 150.5h0M269.9 179.1h0M208.9 185.7h0M250.8 59.4h0M259.8 227.1h0M215.7 105.3h0M214.7 126.5h0M210.1 228.4h0M257.4 112.5h0M191.0 169.5h0M245.2 197.1h0M242.3 221.9h0M233.2 201.7h0M166.8 229.5h0M198.6 125.8h0M194.7 191.8h0M214.5 154.9h0M257.0 133.3h0M264.5 70.9h0M136.0 204.6h0M203.3 188.0h0M214.8 200.7h0M221.1 218.1h0M269.9 181.4h0M245.6 214.6h0M195.1 127.5h0M262.2 217.4h0M221.1 119.7h0M266.4 203.8h0M136.5 208.5h0M247.5 213.3h0M263.8 218.0h0M235.2 200.5h0M232.6 238.9h0M241.1 196.8h0M141.8 210.0h0M250.5 82.4h0M261.3 177.0h0M251.7 208.7h0M270.5 200.3h0M222.5 167.3h0M210.3 123.4h0M203.8 170.8h0M150.9 134.2h0M210.0 162.3h0M236.3 232.5h0M198.1 174.0h0M146.3 196.4h0M243.2 229.6h0M253.8 98.5h0M196.8 162.2h0M226.0 102.4h0M261.2 103.3h0M199.3 122.8h0M218.7 120.0h0M254.8 102.8h0M250.5 196.5h0M160.4 148.6h0M252.3 230.0h0M233.9 93.4h0M270.3 207.8h0M256.8 133.1h0M209.5 217.4h0M235.7 225.9h0M262.7 93.0h0M201.6 110.0h0M272.6 168.6h0M239.9 218.6h0M196.1 148.1h0M210.8 128.2h0M183.5 155.2h0M162.4 194.7h0M255.7 231.5h0M251.0 206.5h0M242.1 238.3h0M181.4 229.8h0M220.5 177.4h0M238.8 211.2h0M266.9 177.6h0M157.3 188.8h0M105.5 238.2h0M234.7 212.3h0M251.6 109.9h0M154.3 80.5h0M203.6 235.3h0M255.3 208.7h0M257.0 228.5h0M186.1 158.4h0M164.9 209.1h0M266.2 46.6h0M154.5 241.1h0M235.6 207.2h0M236.3 206.9h0M189.9 162.8h0M230.0 115.7h0M226.3 237.7h0M218.3 158.4h0M228.2 241.4h0M241.1 242.3h0M262.8 176.8h0M252.4 185.4h0M224.9 125.7h0M81.4 222.7h0M193.1 110.6h0M220.7 216.4h0M101.0 179.8h0M260.9 105.0h0M244.5 232.3h0M255.5 230.0h0M272.2 187.1h0M154.0 123.7h0M243.4 78.8h0M238.1 165.9h0M231.6 230.7h0M262.0 229.0h0M269.6 208.5h0M220.4 163.7h0M246.7 226.8h0M261.5 72.5h0M205.7 236.8h0M245.2 221.0h0M261.6 221.5h0M184.1 180.7h0M180.5 227.8h0M257.2 76.6h0M267.3 204.7h0M226.9 229.9h0M275.2 194.0h0M173.1 188.3h0M230.2 115.8h0M220.0 153.4h0M242.0 229.8h0M259.6 233.6h0M193.1 167.7h0M185.4 103.6h0M232.4 235.2h0M259.1 190.1h0M240.9 139.5h0M253.9 92.9h0M214.5 232.4h0M240.9 150.9h0M243.4 92.0h0M214.8 96.1h0M249.7 139.1h0M250.5 193.0h0M186.1 214.7h0M264.1 224.6h0M237.8 196.9h0M276.4 194.7h0M156.9 146.5h0M247.8 104.0h0M257.0 198.3h0M270.1 211.5h0M253.2 219.6h0M181.0 152.2h0M222.7 166.4h0M198.8 166.2h0M229.6 126.7h0M201.0 153.0h0M215.7 140.0h0M264.0 182.2h0M246.1 235.4h0M239.6 212.1h0M240.2 124.0h0M244.0 136.6h0M201.5 147.7h0M220.7 164.4h0M230.4 86.2h0M258.7 46.9h0M214.5 98.9h0M192.4 111.2h0M227.9 112.1h0M208.1 229.8h0M237.4 242.4h0M221.4 211.0h0M159.2 175.7h0M196.7 181.8h0M247.9 180.1h0M263.0 181.3h0M275.5 181.8h0M133.9 192.9h0M155.7 163.5h0M235.9 160.3h0M257.1 233.8h0M265.5 154.8h0M234.1 98.2h0M243.0 108.3h0M107.7 238.8h0M227.6 207.4h0M142.3 198.0h0M254.8 214.7h0M203.4 196.9h0M226.5 95.9h0M221.9 240.7h0M254.0 189.9h0M245.3 228.1h0M221.6 216.7h0M237.3 202.0h0M174.9 121.1h0M59.9 104.5h0M192.0 182.2h0M263.5 198.8h0M220.8 241.1h0M190.9 69.0h0M236.1 110.9h0M203.0 156.4h0M234.1 113.5h0M197.9 230.7h0M202.0 168.8h0M157.8 163.8h0M255.7 220.4h0M266.4 94.4h0M153.1 180.3h0M230.9 139.9h0M229.8 235.1h0M241.5 161.3h0M214.8 152.1h0M266.6 179.4h0M164.9 181.5h0M182.9 155.3h0M259.0 217.8h0M257.6 198.5h0M244.1 147.0h0M235.4 150.8h0M193.5 168.8h0M220.8 76.1h0M91.9 239.5h0M245.2 208.1h0M232.7 217.8h0M268.2 195.2h0M233.6 216.8h0M237.6 203.6h0M229.3 162.4h0M256.1 85.1h0M189.4 98.3h0M198.1 229.7h0M263.6 184.4h0M261.1 91.8h0M266.6 191.1h0M228.7 147.1h0M206.0 101.3h0M270.8 187.4h0M225.3 150.0h0M250.9 213.9h0M199.1 177.6h0M241.3 111.1h0M201.5 103.8h0M170.1 137.3h0M269.0 167.3h0M258.8 68.0h0M261.7 189.1h0M245.8 235.3h0M267.4 93.8h0M258.2 118.7h0M274.6 158.2h0M251.1 112.5h0M228.0 133.6h0M241.8 211.0h0M244.5 213.5h0M234.1 228.5h0M234.1 75.6h0M237.8 81.8h0M247.8 199.7h0M219.5 172.9h0M251.5 226.0h0M258.0 48.4h0M275.7 178.4h0M199.6 134.0h0M263.0 78.8h0M209.7 227.3h0M261.4 187.8h0M228.2 158.5h0M264.6 221.8h0M272.5 217.0h0M249.9 195.7h0M159.5 149.7h0M209.6 203.1h0M142.8 213.2h0M262.3 219.3h0M215.1 146.3h0M220.4 118.5h0M223.3 74.2h0M271.1 215.0h0M266.9 70.6h0M238.0 116.9h0M209.7 152.2h0M221.3 126.5h0M117.6 218.9h0M170.3 221.4h0M255.1 198.0h0M256.1 114.4h0M208.4 84.1h0M264.1 187.6h0M214.4 238.6h0M200.6 124.3h0M234.0 223.1h0M256.1 123.8h0M257.3 202.4h0M200.5 106.3h0M271.0 175.2h0M236.1 97.8h0M252.6 217.9h0M236.8 215.6h0M177.1 200.3h0M242.5 173.8h0M267.7 197.6h0M219.5 108.0h0M270.6 162.4h0M244.1 237.6h0M250.1 199.6h0M195.6 174.9h0M197.5 239.7h0M248.8 110.7h0M200.0 151.7h0M226.1 71.0h0M250.9 141.4h0M218.7 131.9h0M189.4 211.1h0M244.1 154.2h0M87.9 93.1h0M147.3 132.9h0M245.7 234.4h0M224.8 104.4h0M132.1 109.2h0M221.8 215.0h0M254.8 212.6h0M268.1 188.6h0M130.3 157.7h0M145.2 220.7h0M190.6 189.3h0M250.8 101.9h0M205.4 116.4h0M243.9 143.4h0M275.7 155.4h0M187.5 163.4h0" stroke="#ea8f54"/><path d="M238.8 224.6h0M250.7 115.4h0M165.4 146.1h0M172.4 142.8h0M249.7 234.0h0M153.4 108.4h0M197.5 119.3h0M165.1 196.5h0M265.0 188.2h0M189.7 173.7h0M271.8 182.3h0M272.9 191.5h0M265.1 206.4h0M273.2 174.2h0M234.2 215.2h0M104.2 238.1h0M260.4 60.5h0M254.3 214.4h0M185.3 139.4h0M181.3 127.9h0M240.5 106.6h0M205.7 202.3h0M217.8 150.8h0M146.1 135.6h0M261.9 194.8h0M247.6 88.3h0M188.5 154.8h0M257.8 99.3h0M269.6 182.4h0M231.8 71.0h0M251.4 210.5h0M210.7 235.6h0M236.1 225.2h0M238.0 69.9h0M236.2 203.7h0M225.0 231.4h0M263.1 191.8h0M241.0 204.7h0M253.6 187.7h0M196.5 185.3h0M261.3 202.4h0M231.9 215.6h0M163.3 174.3h0M216.5 235.8h0M276.2 187.0h0M257.9 128.0h0M248.5 214.1h0M227.2 117.8h0M235.9 231.8h0M180.7 202.0h0M261.0 187.9h0M253.9 208.0h0M161.2 217.6h0M272.2 216.1h0M216.9 72.5h0M249.9 189.5h0M224.7 85.8h0M190.1 114.7h0M148.5 145.2h0M180.1 208.4h0M276.3 188.0h0M231.9 69.3h0M268.6 165.0h0M197.3 237.0h0M238.1 236.5h0M150.2 241.9h0M247.1 114.9h0M183.0 187.3h0M243.4 136.7h0M247.7 228.6h0M204.8 119.7h0M83.1 217.6h0M169.8 112.9h0M116.3 232.8h0M222.4 211.5h0M255.6 191.7h0M257.6 104.0h0M232.5 109.8h0M252.5 234.4h0M254.9 70.3h0M204.8 118.3h0M262.5 192.5h0M253.6 234.2h0M190.0 117.1h0M249.7 93.3h0M263.5 48.7h0M269.7 143.4h0M229.4 110.7h0M242.1 215.5h0M215.9 229.0h0M131.9 206.2h0M272.6 191.5h0M243.1 66.1h0M264.2 205.9h0M249.3 223.0h0M253.4 86.4h0M226.8 164.6h0M243.3 159.7h0M218.8 230.6h0M257.4 106.4h0M252.8 113.4h0M157.0 147.1h0M103.6 222.5h0M114.8 145.5h0M234.4 110.3h0M260.5 205.3h0M188.5 116.9h0M249.5 193.3h0M192.9 170.7h0M152.6 186.6h0M142.2 137.9h0M257.1 124.5h0M164.2 128.5h0M226.4 162.6h0M265.0 106.2h0M200.4 131.7h0M274.3 186.5h0M256.0 69.2h0M218.9 118.9h0M258.4 62.1h0M260.2 204.9h0M243.6 209.0h0M222.3 128.8h0M173.7 220.7h0M236.8 236.6h0M238.5 220.2h0M194.9 190.2h0M216.8 220.2h0M208.3 127.2h0M264.1 195.5h0M238.0 119.1h0M253.6 63.6h0M177.5 147.2h0M184.4 171.1h0M174.9 106.6h0M245.7 105.5h0M255.2 185.7h0M251.5 107.4h0M178.5 108.7h0M203.5 201.6h0M252.6 146.7h0M181.9 123.9h0M193.9 207.2h0M207.9 224.7h0M240.0 238.5h0M208.4 239.4h0M272.6 184.2h0M234.6 216.2h0M181.4 143.4h0M204.6 137.8h0M243.4 224.7h0M245.6 200.4h0M172.8 204.4h0M218.2 190.7h0M240.4 104.8h0M231.3 86.6h0M248.1 218.4h0M164.6 154.3h0M268.9 181.3h0M242.2 107.0h0M230.5 209.2h0M258.6 50.9h0M255.3 88.3h0M163.9 188.9h0M251.5 81.2h0M245.7 125.1h0M268.5 208.5h0M175.2 203.0h0M246.5 186.4h0M241.5 130.8h0M180.4 166.3h0M248.3 79.2h0M229.6 168.2h0M234.4 126.4h0M215.3 97.2h0M262.7 203.2h0M204.1 122.5h0M256.7 98.6h0M275.9 160.2h0M255.5 96.7h0M233.4 237.2h0M254.8 175.5h0M219.0 218.3h0M239.1 218.6h0M203.7 165.2h0M268.3 61.1h0M242.5 219.9h0M264.7 180.7h0M247.4 195.9h0M273.2 162.4h0M242.5 191.6h0M254.0 87.5h0M262.4 83.4h0M196.5 102.8h0M260.1 197.1h0M64.1 152.0h0M249.4 149.4h0M258.1 229.8h0M234.3 207.2h0M241.0 229.8h0M210.7 90.3h0M250.9 95.0h0M252.3 193.9h0M268.6 193.4h0M251.0 135.0h0M233.6 209.5h0" stroke="#e77d46"/><path d="M154.0 178.2h0M230.0 97.1h0M241.0 104.9h0M229.5 106.3h0M184.2 145.1h0M145.6 216.2h0M249.4 178.2h0M185.4 130.6h0M246.3 88.9h0M127.5 203.1h0M176.5 180.7h0M202.3 159.0h0M262.0 158.9h0M239.5 108.5h0M202.9 237.4h0M176.6 133.4h0M126.3 183.6h0M178.7 145.3h0M225.4 85.8h0M113.5 194.8h0M219.1 137.6h0M140.2 141.7h0M160.9 197.8h0M222.7 135.9h0M204.9 122.8h0M251.5 195.2h0M124.4 210.0h0M206.1 147.2h0M49.2 128.1h0M255.6 212.8h0M199.6 129.6h0M188.3 116.0h0M152.5 183.5h0M178.1 234.2h0M174.2 127.6h0M237.0 137.7h0M197.8 153.2h0M120.5 206.6h0M253.9 170.1h0M196.4 131.0h0M200.2 135.5h0M189.0 190.8h0M213.6 123.2h0M172.9 150.1h0M264.8 206.5h0M179.0 157.7h0M255.2 51.0h0M116.8 226.0h0M225.0 161.5h0M162.6 159.7h0M137.7 217.2h0M188.3 151.6h0M250.2 73.0h0M167.7 162.0h0M159.1 162.3h0M245.9 96.5h0M137.9 201.3h0M157.6 141.7h0M229.6 119.0h0M174.7 220.8h0M152.0 171.5h0M241.0 109.6h0M182.0 146.3h0M166.3 136.7h0M190.1 113.4h0M197.6 184.1h0M78.4 230.5h0M131.9 202.5h0M250.8 205.3h0M216.5 84.1h0M153.7 162.4h0M179.8 95.7h0M234.0 146.2h0M158.7 153.3h0M264.4 220.5h0M259.5 181.2h0M159.4 233.6h0M123.7 219.2h0M207.4 160.8h0M185.7 173.6h0M206.6 98.4h0M160.2 155.3h0M205.4 136.0h0M246.2 109.9h0M245.8 192.5h0M178.6 137.4h0M247.8 109.5h0M200.2 144.9h0M223.1 106.1h0M217.8 161.6h0M194.2 150.3h0M174.6 177.2h0M216.7 169.9h0M115.6 227.4h0M219.7 111.9h0M269.7 207.5h0M246.4 220.0h0M150.1 125.3h0M222.7 130.8h0M203.9 99.0h0M243.1 235.7h0M137.4 196.0h0M219.2 104.8h0M184.2 230.1h0M248.8 82.3h0M208.4 119.6h0M221.6 233.8h0M207.5 153.7h0M257.5 190.8h0M112.7 233.2h0M154.1 160.6h0M99.4 142.9h0M219.5 135.9h0M244.1 195.7h0M165.3 189.8h0M196.9 132.4h0M179.9 156.0h0M276.2 213.3h0M224.5 134.4h0M96.1 206.0h0" stroke="#e04026"/><path d="M234.6 118.0h0M102.0 225.2h0M58.4 213.7h0M192.1 180.6h0M214.6 103.4h0M195.5 138.9h0M229.5 149.4h0M212.1 161.8h0M216.1 132.7h0M186.5 175.7h0M144.4 207.3h0M201.4 193.6h0M129.6 137.2h0M199.5 182.3h0M213.0 145.3h0M238.0 127.8h0M206.6 125.8h0M252.3 187.9h0M213.2 83.2h0M272.8 125.5h0M254.3 225.8h0M259.6 223.5h0M205.7 238.8h0M148.3 191.2h0M212.2 136.9h0M111.9 192.7h0M86.0 240.0h0M114.9 168.1h0M208.2 231.3h0M255.6 131.7h0M191.2 143.8h0M141.6 171.1h0M250.7 125.3h0M154.5 197.8h0M176.4 151.1h0M170.7 156.2h0M231.1 127.8h0M174.2 185.1h0M179.7 158.3h0M171.5 115.7h0M156.8 173.6h0M210.2 135.6h0M179.3 218.0h0M155.4 215.1h0M165.3 166.9h0M193.6 110.0h0M196.4 123.3h0M144.4 186.4h0M243.7 138.7h0M245.3 162.0h0M240.2 138.2h0M255.5 181.9h0M257.0 234.7h0M155.0 161.0h0M187.0 190.2h0M144.6 216.9h0M94.5 211.8h0M71.6 205.2h0M238.9 112.2h0M135.7 182.7h0M243.8 197.4h0M148.6 177.3h0M173.2 155.7h0M151.9 178.7h0M245.7 102.6h0M116.7 214.1h0M179.8 237.9h0M198.7 165.0h0M258.8 71.6h0M86.8 241.1h0M204.7 143.1h0M112.9 207.7h0M116.5 181.9h0M243.0 231.8h0M159.4 168.6h0M257.4 200.0h0M267.0 215.7h0M264.2 226.4h0M227.0 152.2h0M236.1 212.9h0M211.3 239.7h0M201.9 171.3h0M227.4 154.9h0M192.2 146.5h0M138.1 214.4h0M200.5 76.6h0M155.4 218.8h0M254.6 210.4h0M156.2 166.8h0M186.5 198.6h0M238.6 89.7h0M137.8 202.3h0M212.5 120.2h0M182.7 133.6h0M209.9 224.8h0M194.7 145.6h0M189.4 121.6h0M97.1 216.6h0M151.0 210.4h0M155.4 174.5h0M249.7 207.4h0M202.2 125.2h0M134.4 190.3h0M247.4 140.9h0M275.4 171.1h0M182.2 131.6h0M218.3 139.1h0M262.1 230.7h0M177.6 150.3h0M257.0 215.5h0M136.2 184.5h0M178.6 109.1h0M208.6 126.5h0M195.1 184.5h0M128.7 190.0h0M171.6 237.3h0M115.9 159.7h0M188.4 193.8h0M64.1 202.1h0M211.5 125.1h0M233.8 148.7h0M161.5 173.6h0M273.1 95.7h0M257.0 234.6h0M258.3 164.6h0M161.6 136.6h0M246.6 142.7h0M179.1 209.3h0M131.6 145.7h0M165.2 132.0h0M118.9 192.7h0M247.0 68.0h0M262.6 55.5h0M184.9 149.0h0M208.9 158.6h0M190.5 115.4h0M113.5 216.3h0M184.9 123.6h0M235.6 242.3h0M255.1 67.3h0M270.4 194.2h0M248.7 226.3h0M194.6 239.9h0M171.5 169.2h0M152.9 175.4h0M151.1 172.3h0M137.1 183.7h0M174.0 160.2h0M183.9 141.0h0M167.3 221.8h0M131.7 206.3h0M188.6 157.0h0M157.4 167.5h0M233.8 164.6h0M211.6 239.8h0M241.5 227.7h0M229.7 98.9h0M263.0 207.9h0M207.3 210.7h0M267.6 180.6h0M106.2 218.4h0M157.3 176.2h0M163.9 163.3h0M100.1 152.5h0M132.9 209.8h0M248.8 195.3h0M253.7 231.8h0M176.0 160.4h0M121.6 185.7h0M196.6 164.8h0M133.9 209.2h0M191.6 213.1h0M141.8 180.2h0M172.9 238.4h0M251.6 186.9h0M258.6 106.7h0M218.1 92.8h0M237.3 234.7h0M183.2 136.1h0M174.0 171.4h0M133.8 237.5h0M171.7 145.1h0M245.2 227.9h0M159.4 189.0h0M223.4 100.9h0M172.4 148.9h0M158.8 151.1h0M129.2 188.9h0M101.8 231.1h0M274.6 211.6h0M262.4 92.9h0M255.8 220.7h0M256.1 95.1h0M248.3 144.2h0M181.0 147.5h0M194.5 106.3h0M234.9 169.4h0M235.3 122.8h0M175.2 163.3h0M140.3 205.6h0M149.3 150.4h0M189.0 173.3h0M161.6 169.6h0M213.1 132.4h0M220.4 134.4h0M159.1 217.2h0M229.6 165.2h0M174.9 148.8h0M152.7 180.8h0M188.6 157.3h0M244.5 232.4h0M170.0 152.1h0M242.0 233.0h0M187.2 126.5h0M192.9 158.5h0M260.5 197.2h0M268.6 154.7h0M224.6 134.7h0M210.8 129.3h0M232.8 208.8h0M76.1 191.3h0M179.0 112.4h0M194.8 113.5h0M274.0 211.5h0M244.5 105.9h0M228.5 130.6h0M196.2 132.8h0M237.0 206.5h0M257.0 72.7h0M196.2 115.6h0M181.0 129.1h0M269.3 221.2h0M253.2 60.2h0M181.7 238.8h0M191.8 189.6h0M215.8 129.6h0M234.6 138.5h0M247.4 234.2h0M202.3 111.1h0M255.4 192.0h0M188.6 137.7h0M169.2 188.3h0M105.4 224.5h0M162.8 221.4h0M230.7 215.4h0M176.6 153.0h0M156.4 157.1h0M191.1 131.0h0M243.2 99.2h0M188.2 215.4h0M241.3 227.9h0M216.5 136.6h0M131.7 154.7h0M110.3 201.6h0M254.0 230.0h0M186.0 148.9h0M271.8 213.0h0M208.2 232.6h0M216.7 118.9h0M128.2 115.6h0M162.0 162.2h0M213.3 148.8h0M259.4 232.2h0M212.0 236.0h0M230.2 72.6h0M252.4 120.1h0M211.1 126.4h0M205.0 112.3h0M185.4 137.9h0M251.8 97.6h0M184.2 132.3h0M268.1 193.2h0M244.9 98.1h0M180.4 146.6h0M264.2 229.1h0M240.9 138.6h0M178.2 203.2h0M153.4 175.9h0M250.0 193.1h0M238.0 213.8h0M88.6 96.2h0M244.3 123.7h0M180.3 180.6h0M127.7 202.8h0M259.4 53.5h0M242.4 68.3h0M221.6 122.1h0M114.4 198.1h0M197.4 115.3h0M114.3 163.4h0M227.0 121.3h0M272.2 183.0h0M163.5 153.1h0M106.0 226.4h0M257.6 90.6h0M258.7 171.1h0M172.4 166.0h0M87.2 205.3h0M151.7 180.0h0M215.7 151.2h0M185.0 141.4h0M207.1 141.4h0M256.3 64.1h0M175.9 147.7h0M185.7 144.0h0M242.7 70.9h0M143.1 175.5h0M211.9 120.0h0M158.1 200.4h0M223.9 157.2h0M185.0 107.8h0M97.5 136.8h0M218.9 214.6h0M152.1 178.4h0M206.7 140.9h0M116.3 228.0h0M194.2 136.8h0M114.7 168.8h0M152.3 139.1h0M178.8 184.0h0M195.2 135.3h0M155.4 177.4h0M224.2 90.1h0M232.8 205.1h0M153.7 127.1h0M156.0 162.1h0M113.5 214.3h0M192.9 159.5h0M185.8 130.9h0M275.6 185.1h0M248.0 219.5h0M194.0 108.6h0M181.2 140.5h0M206.5 129.8h0M265.0 219.1h0M239.4 98.9h0M207.7 123.2h0M243.5 162.8h0M176.8 144.6h0M275.0 151.8h0M237.0 201.9h0M221.8 131.9h0M141.0 121.6h0M258.4 213.6h0M196.3 151.7h0M271.7 177.0h0M193.3 193.4h0M67.2 136.0h0M257.0 224.6h0M263.8 218.0h0M265.7 182.6h0M189.7 232.2h0M189.8 140.0h0M224.3 151.6h0M171.1 121.7h0M210.0 82.1h0M172.3 171.5h0M156.1 186.8h0M148.9 236.2h0M160.0 200.5h0M170.9 159.5h0M171.4 173.3h0M203.0 121.5h0M184.6 209.3h0M150.3 156.6h0M192.3 191.8h0M234.4 94.2h0M115.3 220.2h0M161.5 165.9h0M189.9 150.4h0M197.2 136.3h0M239.8 84.6h0M140.7 191.2h0M175.4 131.3h0M132.3 212.5h0M164.4 163.6h0M201.6 132.0h0M154.2 160.7h0M48.4 146.8h0M261.6 193.4h0M212.7 124.8h0M233.3 145.5h0M173.8 147.0h0M172.5 147.1h0M269.9 181.4h0M98.0 139.3h0M253.5 94.9h0M187.4 132.5h0M143.9 165.9h0M196.8 95.1h0M251.9 231.7h0M272.5 90.0h0M131.0 213.5h0M214.5 117.5h0M255.2 107.0h0M169.6 144.3h0M253.4 223.5h0M245.7 70.4h0M159.3 222.9h0M127.8 202.8h0M225.9 154.7h0M226.9 143.6h0M244.5 209.6h0M191.3 191.5h0M199.4 125.0h0M205.3 105.4h0M250.8 205.2h0M258.2 190.7h0M260.9 178.6h0M236.1 128.8h0M196.6 142.5h0M255.4 216.2h0M212.6 128.6h0M216.3 116.6h0M259.8 230.5h0M212.2 228.9h0M238.6 233.9h0M158.3 194.2h0M232.5 91.1h0M247.1 140.7h0M273.3 138.0h0M253.3 214.5h0M206.7 159.1h0M217.3 174.0h0M190.9 114.1h0M157.4 180.1h0M147.0 177.9h0M181.7 183.8h0M177.9 128.5h0M251.3 223.8h0M248.9 81.6h0M243.5 222.4h0M249.0 66.0h0M142.9 200.8h0M155.8 210.5h0M117.9 218.4h0M228.4 236.0h0M252.9 86.9h0M157.8 146.9h0M170.4 127.3h0M158.5 177.2h0M218.3 127.3h0M137.7 196.6h0M183.6 163.0h0M121.0 213.2h0M110.0 236.9h0M119.2 231.0h0M168.7 180.8h0M182.3 183.3h0M198.9 142.2h0M178.5 123.6h0M237.8 123.4h0M216.7 91.8h0M201.0 137.7h0M249.4 222.2h0M184.9 162.9h0M264.7 55.4h0M141.4 212.3h0M203.2 102.9h0M160.2 152.5h0M116.4 199.7h0M164.2 166.9h0M99.5 122.5h0M259.4 185.7h0M149.2 167.5h0M126.0 134.6h0M233.5 221.6h0M201.7 119.3h0M193.2 136.8h0M168.2 112.7h0M110.4 192.0h0M198.9 103.3h0M257.6 236.9h0M148.3 134.0h0M192.3 139.6h0M253.4 212.2h0M270.8 39.8h0M265.8 186.1h0M240.4 202.0h0M200.8 148.0h0M215.0 94.7h0M172.1 171.4h0M177.7 184.8h0M184.6 224.7h0M188.8 220.9h0M174.4 232.6h0M169.2 162.3h0M98.7 230.8h0M255.0 222.5h0M43.9 153.9h0M262.1 171.8h0M275.9 198.0h0M181.7 145.3h0M184.7 159.4h0M164.2 172.2h0M225.4 94.1h0M159.3 141.7h0M258.4 207.9h0M261.9 72.9h0M261.3 96.2h0M215.5 106.6h0M254.7 207.5h0M137.7 194.8h0M159.9 153.5h0M103.7 224.9h0M134.6 150.4h0M276.2 60.7h0M173.5 190.6h0M260.1 142.4h0M213.0 170.6h0M211.9 141.6h0M162.0 214.2h0M196.4 112.9h0M229.1 110.9h0M149.1 227.6h0M253.0 83.7h0M223.6 107.3h0M146.0 140.8h0M258.1 170.3h0M254.5 202.3h0M169.2 124.6h0M265.9 209.8h0M150.1 150.0h0M196.3 167.5h0M150.0 215.3h0M175.0 127.9h0M245.8 189.4h0M225.7 123.3h0M197.4 128.2h0M215.1 148.1h0M147.9 159.0h0M202.6 144.1h0M140.4 184.7h0M267.0 186.2h0M255.8 74.2h0M127.7 204.4h0M162.2 137.4h0" stroke="#e02c1a"/><path d="M181.6 217.5h0M235.0 143.1h0M159.2 170.1h0M187.7 186.9h0M181.8 162.7h0M114.5 240.2h0M260.6 229.6h0M223.9 100.0h0M138.1 176.6h0M117.2 229.5h0M250.5 210.4h0M156.0 193.9h0M162.2 160.6h0M178.9 135.2h0M112.4 217.7h0M193.0 172.9h0M175.2 175.3h0M170.2 151.2h0M99.6 197.0h0M95.0 177.4h0M149.7 204.5h0M129.3 219.7h0M261.1 93.6h0M151.3 174.8h0M245.0 104.5h0M122.2 162.2h0M230.8 204.2h0M112.0 209.9h0M267.5 57.4h0M99.5 237.7h0M260.3 97.6h0M236.1 143.5h0M174.6 142.0h0M266.6 196.9h0M150.5 141.0h0M272.4 193.5h0M168.5 186.5h0M138.1 194.7h0M249.9 217.1h0M175.8 228.2h0M174.7 182.6h0M176.2 184.9h0M155.8 229.9h0M200.0 129.3h0M240.5 107.5h0M240.8 162.4h0M208.3 236.1h0M115.0 210.4h0M263.5 155.8h0M46.5 177.9h0M235.7 240.6h0M213.7 98.0h0M213.1 98.7h0M248.3 220.8h0M272.5 189.6h0M172.6 128.7h0M163.1 167.0h0M164.2 186.6h0M205.7 133.6h0M236.6 111.5h0M221.3 108.9h0M145.9 185.7h0M147.4 150.9h0M170.1 208.0h0M206.6 101.9h0M271.2 212.6h0M188.3 154.6h0M233.4 128.8h0M193.7 117.7h0M109.8 221.2h0M151.2 212.0h0M182.1 147.6h0M262.4 85.9h0M183.7 225.0h0M172.7 134.3h0M136.1 191.0h0M249.2 122.2h0M192.0 165.4h0M57.6 148.5h0M77.8 238.2h0M66.5 196.0h0M108.9 229.6h0M257.1 183.9h0M185.1 173.1h0M226.3 224.5h0M133.6 198.8h0M260.9 69.7h0M226.9 149.3h0M197.7 130.2h0M261.7 232.3h0M255.5 202.6h0M141.8 187.4h0M138.4 159.7h0M268.8 195.0h0M145.4 199.0h0M146.8 208.5h0M157.9 175.0h0M252.4 208.0h0M187.2 169.2h0M165.5 187.4h0M250.0 103.0h0M156.5 155.1h0M247.3 135.1h0M192.2 178.8h0M274.9 197.4h0M169.3 225.6h0M254.9 85.8h0M142.0 178.6h0M222.0 112.8h0M214.8 117.4h0M137.7 160.5h0M88.7 240.8h0M239.3 222.3h0M132.2 196.6h0M118.6 196.3h0M151.8 184.9h0M78.2 203.7h0M197.0 145.1h0M105.3 220.7h0M200.0 126.1h0M270.9 205.4h0M142.6 174.7h0M135.7 182.1h0M160.2 173.0h0M152.9 161.4h0M139.1 189.4h0M99.9 220.9h0M139.7 185.9h0M195.4 156.9h0M167.5 135.0h0M182.2 157.7h0M275.0 122.5h0M153.1 172.8h0M203.8 137.3h0M148.8 190.8h0M242.5 132.5h0M150.8 229.0h0M187.4 160.2h0M157.1 161.0h0M185.5 117.9h0M217.5 180.6h0M135.5 141.9h0M193.3 132.0h0M148.4 124.7h0M125.0 182.9h0M132.8 171.0h0M233.1 133.6h0M195.3 168.9h0M158.7 162.8h0M195.7 224.9h0M175.4 160.3h0M50.7 137.0h0M152.0 164.9h0M276.4 157.3h0M210.8 119.7h0M188.3 203.4h0M115.6 159.9h0M93.5 224.1h0M141.5 201.3h0M187.8 150.3h0M231.6 166.9h0M271.9 167.1h0M248.4 222.6h0M195.9 113.8h0M163.6 165.8h0M239.1 194.9h0M191.9 135.0h0M189.8 126.5h0M211.2 178.5h0M128.3 135.8h0M164.2 226.1h0M230.1 74.9h0M272.2 179.4h0M128.8 205.1h0M196.9 132.6h0M96.9 223.7h0M275.7 173.2h0M172.0 153.3h0M112.6 194.4h0M117.2 223.8h0M114.2 148.8h0M141.3 128.8h0M105.0 125.8h0M175.3 171.7h0M210.1 104.7h0M114.9 210.7h0M239.6 223.3h0M148.8 174.5h0M255.5 125.3h0M111.2 220.0h0M241.8 57.0h0M136.0 204.0h0M248.3 82.1h0M245.5 201.9h0M237.8 223.0h0M158.9 189.7h0M85.3 204.4h0M196.9 141.7h0M110.7 103.7h0M199.4 103.2h0M215.3 136.2h0M130.1 184.0h0M156.5 157.9h0M247.2 142.1h0M240.0 176.4h0M247.1 204.0h0M123.7 197.7h0M144.5 190.7h0M119.9 221.5h0M216.3 150.5h0M203.5 149.4h0M224.2 86.7h0M151.8 174.4h0M212.7 110.4h0M266.6 221.4h0M261.0 149.0h0M183.9 116.7h0M155.9 196.2h0M200.7 126.8h0M191.5 188.0h0M168.9 155.9h0M142.4 184.6h0M149.4 223.5h0M201.1 125.4h0M205.2 127.2h0M135.3 161.4h0M176.6 126.3h0M178.2 154.0h0M247.8 117.0h0M259.3 210.9h0M178.0 125.6h0M221.5 66.9h0M160.2 168.0h0M206.0 153.4h0M259.2 212.7h0M255.3 123.1h0M208.3 151.6h0M136.3 168.9h0M239.3 214.2h0M228.9 137.0h0M215.3 121.8h0M262.3 209.3h0M211.9 108.9h0M233.2 81.0h0M152.1 182.9h0M214.8 139.3h0M201.0 141.7h0M159.9 162.7h0M253.6 191.1h0M218.4 110.1h0M253.6 132.0h0M188.7 180.4h0M217.7 112.3h0M234.2 199.6h0M221.1 225.2h0M235.5 99.2h0M233.4 207.6h0M177.9 187.9h0M206.4 236.9h0M110.5 182.8h0M220.3 124.8h0M262.2 196.1h0M234.4 133.7h0M194.9 170.8h0M94.2 188.3h0M156.4 158.5h0M143.4 204.7h0M142.1 198.4h0M200.7 196.5h0M189.6 111.4h0M152.2 138.2h0M195.9 134.8h0M119.4 205.8h0M104.4 233.5h0M235.2 232.5h0M146.5 150.9h0M262.3 212.6h0M241.9 93.7h0M182.9 147.1h0M254.1 209.6h0M242.9 98.7h0M183.1 151.8h0M222.1 98.1h0M166.6 166.7h0M172.5 121.0h0M144.2 136.7h0M189.5 132.8h0M167.7 141.3h0M239.8 65.1h0M254.0 116.4h0M243.1 230.1h0M176.8 180.9h0M261.6 73.6h0M162.9 220.6h0M182.0 127.3h0M194.5 187.4h0M201.4 127.0h0M155.9 201.3h0M185.6 184.5h0M208.8 142.4h0M160.7 135.9h0M159.0 177.1h0M228.0 228.3h0M161.7 182.1h0M260.1 143.5h0M215.3 100.6h0M162.6 141.0h0M203.3 150.8h0M267.7 194.1h0M219.7 129.1h0M189.7 120.3h0M124.2 179.7h0M239.8 155.8h0M221.6 135.6h0M178.8 148.3h0M148.8 176.3h0M238.5 241.4h0M251.4 76.4h0M135.3 144.5h0M211.6 120.2h0M182.4 186.9h0M213.2 113.4h0M123.9 212.5h0M194.7 116.5h0M235.5 204.5h0M250.2 134.4h0M184.9 133.0h0M182.4 182.7h0M193.4 225.0h0M276.0 176.1h0M126.7 209.6h0M156.3 133.2h0M257.6 192.9h0M155.1 190.3h0M208.7 133.4h0M220.9 115.2h0M192.6 127.5h0M179.9 103.5h0M269.9 171.5h0M232.5 203.4h0M198.4 143.8h0M140.6 220.0h0M246.8 214.8h0M263.3 186.0h0M185.9 136.9h0M237.9 81.2h0M125.1 203.8h0M200.7 195.1h0M182.5 169.7h0M275.3 177.3h0M189.6 156.3h0M242.6 122.8h0M248.5 209.1h0M210.6 147.4h0M219.5 135.5h0M210.0 160.3h0M275.8 206.8h0M251.2 190.0h0M195.9 121.6h0M186.4 139.4h0M194.5 98.4h0M197.1 118.2h0M275.4 171.4h0M193.5 135.6h0M255.8 217.1h0M179.1 171.3h0M129.1 156.3h0M267.2 179.4h0M136.9 227.9h0M191.1 148.9h0M222.8 78.5h0M170.8 189.6h0M160.7 170.6h0M257.1 48.2h0M177.7 144.2h0M188.1 170.9h0M161.5 176.7h0M165.5 145.2h0M152.6 148.0h0M236.3 126.2h0M188.1 150.0h0M222.9 110.2h0M181.3 178.2h0M127.2 223.0h0M104.9 220.0h0M209.0 137.9h0M238.6 86.5h0M150.8 163.4h0M214.4 132.7h0M206.0 145.2h0M155.7 198.1h0M225.4 158.5h0M134.9 174.3h0M126.5 144.6h0M121.6 233.3h0M117.0 211.4h0M163.9 168.6h0M242.5 213.5h0M240.6 222.8h0M235.4 199.4h0M240.9 130.6h0M190.8 151.2h0M243.8 141.8h0M210.9 151.2h0M219.8 237.5h0M142.0 169.3h0M243.8 207.5h0M271.4 200.9h0M256.8 101.0h0M227.6 106.4h0M190.2 194.0h0M259.1 110.0h0M262.5 161.7h0M114.4 197.4h0M201.2 153.0h0M257.7 67.6h0M152.5 144.6h0M184.4 218.7h0M190.9 138.9h0M170.9 147.4h0M171.7 131.5h0M191.6 131.9h0M225.7 226.8h0M275.4 86.7h0M275.3 206.5h0M187.6 130.9h0M186.9 215.5h0M235.7 68.8h0M223.3 204.1h0M251.1 112.1h0M254.5 190.5h0M189.9 180.4h0M153.8 193.3h0M261.1 186.8h0M154.0 148.7h0M176.4 163.3h0M244.1 176.2h0M196.2 139.1h0M192.3 127.2h0M129.1 130.2h0M159.4 123.8h0M208.7 119.2h0M202.4 104.2h0M179.8 166.3h0M211.4 143.3h0M207.7 146.9h0M160.9 156.0h0M157.5 198.5h0M69.7 234.5h0M213.2 105.5h0M210.0 141.9h0M268.2 193.3h0M214.2 122.6h0M249.4 190.7h0M266.1 90.0h0M200.3 157.3h0M255.0 133.6h0M265.8 164.4h0M247.3 41.9h0M248.0 83.4h0M189.0 199.5h0M205.2 141.7h0M220.8 220.8h0M195.5 119.1h0M114.8 225.2h0M259.3 121.4h0M235.1 103.5h0M201.5 167.9h0M185.5 145.5h0M258.6 232.3h0M210.0 136.1h0M197.3 120.9h0M254.3 122.7h0M258.6 212.9h0M224.4 114.1h0M44.6 116.1h0M148.7 181.5h0M232.3 102.6h0M180.6 215.2h0M212.6 165.9h0M203.1 121.9h0M161.7 165.9h0M209.4 114.0h0M182.7 226.4h0M221.4 108.2h0M117.0 217.0h0M156.0 178.9h0M194.3 165.7h0M227.6 96.0h0M240.2 108.4h0M100.8 223.9h0M254.1 230.3h0M242.6 232.6h0M166.3 157.2h0M195.2 114.6h0M170.3 157.3h0M161.3 179.7h0M258.3 158.3h0M234.1 212.0h0M186.6 116.3h0M235.8 109.3h0M155.7 174.1h0M272.4 184.6h0M209.0 133.4h0M218.2 105.9h0M237.9 146.3h0M131.7 199.6h0M158.9 241.0h0M165.0 116.9h0M150.9 189.2h0M258.0 183.6h0M263.7 171.1h0M232.9 96.6h0M155.1 166.4h0M189.6 137.8h0M175.0 152.9h0M220.7 122.0h0M55.2 235.9h0M200.6 145.1h0M219.8 98.0h0M236.1 238.5h0M231.5 200.8h0M152.7 171.5h0M242.2 112.2h0M206.3 148.1h0M193.6 142.9h0M274.1 207.4h0M253.3 238.9h0M242.0 202.7h0M253.3 143.0h0M182.8 135.0h0M132.0 151.5h0M94.4 236.9h0M244.4 126.8h0M151.8 198.4h0M107.5 221.5h0M228.7 123.7h0M178.2 138.9h0M191.8 150.4h0M61.9 184.6h0M204.9 121.4h0M234.7 57.2h0M170.4 164.8h0M206.2 137.3h0M87.2 229.4h0M175.4 138.1h0M230.9 223.4h0M216.9 153.0h0M270.1 220.6h0M245.9 169.3h0M243.3 202.4h0M163.0 165.4h0M269.8 213.8h0M182.8 222.1h0M58.6 169.7h0M130.3 205.6h0M215.4 215.9h0M219.2 150.1h0M198.3 112.1h0M225.2 122.9h0M258.2 234.5h0M164.5 138.1h0M266.2 214.2h0M154.0 129.3h0M170.6 199.2h0" stroke="#e0180c"/></g><g fill="none" stroke-width="2.05" stroke-linecap="square" filter="url(#bl)"><path d="M611.4 190.1h0M612.9 169.4h0M596.4 193.9h0M582.2 219.8h0M621.5 175.2h0M583.2 209.2h0M616.5 177.7h0M568.4 227.6h0M589.9 172.4h0M602.9 192.6h0M623.9 159.2h0M615.7 184.3h0M603.7 192.7h0M606.7 194.6h0M569.9 191.7h0M608.9 197.4h0M575.1 232.8h0M585.9 205.3h0M611.2 182.2h0M569.0 230.4h0M617.6 177.6h0M627.5 172.3h0M572.6 222.4h0M601.6 216.2h0M570.2 223.8h0M586.1 216.3h0M590.3 207.5h0M603.8 197.4h0M616.8 188.8h0M580.9 214.6h0M618.4 151.7h0M575.8 214.9h0M563.4 233.0h0M590.2 199.7h0M587.1 206.0h0M563.0 237.4h0M566.3 225.4h0M608.1 184.8h0M608.7 183.8h0M621.2 189.6h0M621.2 176.4h0M582.3 206.2h0M592.8 204.2h0M594.5 203.6h0M613.8 181.1h0M611.6 207.6h0M628.9 77.0h0M589.0 205.9h0M599.1 202.5h0M611.2 185.3h0M608.4 196.4h0M616.7 146.6h0M584.9 183.7h0M619.6 177.9h0M570.7 220.3h0M630.2 97.9h0M597.3 202.4h0M565.3 228.5h0M586.4 204.1h0M583.0 230.7h0M580.1 208.9h0M597.6 206.6h0M590.2 219.4h0M616.2 183.0h0M599.3 196.7h0M564.4 232.6h0M606.2 197.8h0M577.7 218.9h0M621.5 182.0h0M629.9 161.2h0M626.2 168.6h0M566.5 236.0h0M590.6 215.7h0M598.5 202.4h0M587.5 202.6h0M572.4 231.0h0M579.6 212.6h0M573.6 230.0h0M617.2 186.4h0M580.3 221.8h0M620.8 178.7h0M539.7 221.5h0M594.4 201.3h0M574.2 218.5h0M596.4 198.3h0M615.9 180.4h0M597.9 207.2h0M570.4 219.9h0M600.6 198.4h0M607.8 154.6h0M612.7 181.8h0M629.9 152.4h0M556.2 238.0h0M555.0 229.8h0M628.2 169.9h0M596.2 210.2h0M611.1 196.7h0M581.0 225.2h0M588.5 180.6h0M591.1 199.1h0M613.0 206.3h0M604.3 193.5h0M551.2 214.3h0M613.8 190.4h0M607.0 192.6h0M558.0 239.2h0M562.2 215.0h0M617.0 186.1h0M589.4 214.0h0M577.3 211.6h0M582.5 208.9h0M572.3 217.2h0M582.5 198.4h0M576.5 214.6h0M617.9 179.1h0M598.1 206.8h0M613.4 183.1h0M568.9 221.8h0M612.5 186.9h0M591.8 202.2h0M573.9 217.3h0M579.1 219.0h0M560.1 230.3h0M556.4 235.6h0M612.0 150.4h0M535.1 234.4h0M565.3 222.8h0M616.8 183.2h0M631.7 156.1h0M620.8 173.6h0M620.9 180.0h0M596.4 186.3h0M583.3 211.5h0M601.8 199.2h0M596.1 193.6h0M631.1 170.0h0M628.3 181.4h0M570.6 216.1h0M605.7 199.5h0M551.3 200.2h0M577.8 236.6h0M536.6 240.2h0M594.8 202.2h0M630.8 163.8h0M602.1 204.7h0M631.0 132.9h0M600.7 202.1h0M621.9 172.3h0M544.7 239.4h0M572.8 220.7h0M619.7 174.9h0M628.3 182.5h0M577.6 216.3h0M613.5 144.9h0M580.9 233.0h0M578.6 187.2h0M567.4 224.5h0M558.3 213.8h0M595.9 199.7h0M566.4 227.4h0M579.7 230.1h0M630.1 72.2h0M551.7 233.9h0M561.5 232.1h0M594.2 198.8h0M592.2 199.0h0M599.9 194.4h0M601.3 198.4h0M542.9 227.7h0M628.5 165.0h0M573.7 196.7h0M572.5 227.0h0M629.2 85.6h0M607.9 192.8h0M584.7 215.6h0M584.7 226.4h0M559.4 201.6h0M588.3 207.9h0M613.6 196.1h0M625.2 175.5h0M611.8 184.3h0M553.4 241.6h0M585.6 207.0h0M572.5 185.0h0M557.4 241.3h0M576.9 212.4h0M566.6 189.9h0M580.6 210.2h0M567.7 230.5h0M609.6 184.6h0M597.7 219.9h0M581.8 208.5h0M583.6 206.6h0M613.2 203.9h0M588.0 215.0h0M575.1 187.5h0M588.9 214.5h0M557.1 241.8h0M554.8 240.2h0M554.5 241.9h0M610.5 189.3h0M605.9 204.1h0M624.3 194.3h0M577.3 226.0h0M619.9 189.0h0M569.1 206.6h0M565.9 219.3h0" stroke="#6a14f8"/><path d="M607.9 155.3h0M613.6 199.1h0M591.7 217.9h0M569.4 228.6h0M581.0 221.1h0M556.4 203.1h0M593.9 225.0h0M578.4 236.5h0M554.7 228.3h0M628.6 175.8h0M628.8 93.2h0M604.6 214.9h0M585.4 208.6h0M604.2 208.6h0M591.9 198.1h0M559.2 234.1h0M584.3 199.4h0M563.2 238.5h0M559.0 240.0h0M625.4 178.7h0M587.3 220.3h0M631.3 122.7h0M574.7 223.1h0M607.3 187.4h0M601.2 200.7h0M567.4 229.1h0M581.5 215.5h0M587.0 215.1h0M575.6 217.4h0M582.0 223.2h0M628.4 167.1h0M561.2 224.6h0M568.4 226.8h0M594.6 208.5h0M556.0 237.9h0M611.1 195.0h0M586.5 226.9h0M571.2 229.9h0M572.9 233.4h0M623.4 168.9h0M555.9 241.2h0M598.8 210.8h0M591.9 215.4h0M614.3 191.1h0M585.3 217.0h0M623.7 168.8h0M631.4 99.9h0M567.8 222.6h0M581.4 218.1h0M580.1 200.2h0M624.0 176.2h0M631.7 181.7h0M624.2 167.6h0M626.8 173.3h0M562.2 239.4h0M561.6 227.1h0M562.0 240.0h0M560.3 216.7h0M611.1 184.6h0M594.5 219.2h0M597.4 213.0h0M555.5 240.0h0M589.5 226.5h0M632.4 74.4h0M587.6 220.9h0M582.5 220.4h0M579.2 226.8h0M600.7 195.3h0M629.9 105.8h0M558.1 235.1h0M600.9 204.7h0M607.9 187.3h0M593.5 198.9h0M575.8 189.6h0M618.3 174.5h0M628.7 101.9h0M624.8 177.7h0M608.9 186.0h0M557.7 211.4h0M586.9 217.6h0M567.6 193.5h0M612.0 185.4h0M580.8 207.0h0M615.7 186.0h0M578.1 228.7h0M589.5 204.4h0M567.4 210.7h0M626.2 181.3h0M595.5 204.0h0M562.4 226.7h0M632.2 183.5h0M590.3 203.0h0M619.1 176.6h0M552.4 238.2h0M615.0 194.1h0M632.3 103.5h0M589.2 214.8h0M619.2 173.6h0M614.5 192.8h0M619.0 190.2h0M603.4 191.5h0M586.4 225.6h0M585.0 217.1h0M580.8 210.4h0M613.2 196.6h0M569.2 218.6h0M596.9 201.6h0M631.5 181.5h0M591.5 206.0h0M572.4 231.5h0M612.9 181.7h0M584.6 227.8h0M593.3 221.2h0M527.2 241.9h0M577.1 219.5h0M625.8 175.3h0M594.7 201.7h0M609.4 143.9h0M560.6 196.9h0M610.4 208.2h0M576.0 210.9h0M587.4 223.6h0M625.9 187.7h0M568.0 193.2h0M573.6 223.3h0M574.4 238.1h0M596.0 221.0h0M614.0 195.2h0M592.5 213.9h0M627.7 167.4h0M630.6 84.5h0M578.8 211.4h0M579.1 214.8h0M572.3 216.6h0M616.2 188.2h0M616.5 176.7h0M630.3 168.3h0M627.6 162.3h0M595.5 206.8h0M553.1 240.4h0M609.7 187.5h0M624.1 176.1h0M602.5 195.8h0M550.8 228.5h0M613.5 155.3h0M625.1 179.0h0M582.2 209.9h0M621.3 199.7h0M552.7 237.2h0M592.4 172.8h0M557.3 240.0h0M586.3 208.5h0M556.2 220.7h0M619.0 164.4h0M572.2 198.0h0M624.3 185.3h0M589.8 190.3h0M586.2 232.3h0M580.0 212.6h0M555.4 240.4h0M559.0 229.9h0M631.5 170.1h0M589.0 202.1h0M618.3 179.8h0M569.3 228.4h0M576.7 231.1h0M587.4 204.4h0M594.0 199.9h0M608.1 192.3h0M630.4 167.1h0M564.5 192.0h0M578.2 234.2h0M597.9 196.1h0M607.7 218.3h0M618.7 182.7h0M570.4 234.7h0M562.6 235.1h0M587.4 226.8h0M627.9 169.1h0M626.6 178.0h0M584.7 226.1h0M551.4 204.3h0M579.4 209.2h0M562.7 221.0h0M541.6 234.2h0M608.1 193.4h0M617.6 175.4h0M568.6 224.3h0M589.5 227.4h0M575.9 214.0h0M620.9 187.9h0" stroke="#5b2df8"/><path d="M612.2 208.6h0M616.4 184.7h0M622.0 200.7h0M568.2 240.1h0M577.7 226.7h0M557.1 240.0h0M572.6 226.7h0M632.4 168.4h0M623.5 195.1h0M588.2 231.9h0M573.6 230.2h0M593.5 197.8h0M592.4 224.2h0M581.1 237.3h0M608.1 208.7h0M603.4 213.6h0M614.9 186.9h0M569.0 241.6h0M631.7 181.7h0M570.3 239.2h0M585.8 223.9h0M587.5 227.4h0M580.1 212.4h0M629.3 176.8h0M580.2 231.0h0M584.2 242.1h0M566.1 235.3h0M567.7 223.4h0M553.0 238.6h0M628.3 169.9h0M559.8 241.1h0M584.8 227.1h0M611.4 200.6h0M579.6 217.5h0M568.7 238.3h0M580.7 222.0h0M608.0 214.0h0M590.4 225.4h0M617.6 177.4h0M588.8 231.4h0M580.9 192.0h0M600.2 204.7h0M625.9 186.6h0M623.1 186.7h0M578.8 217.0h0M620.1 203.8h0M565.6 239.2h0M631.8 177.3h0M574.0 238.1h0M613.9 192.3h0M619.6 200.5h0M590.3 206.1h0M601.6 201.6h0M610.7 195.4h0M608.0 203.2h0M589.9 230.0h0M602.3 192.2h0M606.9 211.4h0M627.4 162.1h0M599.4 220.7h0M624.4 168.3h0M630.0 80.3h0M578.7 220.4h0M622.1 184.5h0M621.7 189.9h0M573.7 241.1h0M547.1 240.1h0M611.9 200.9h0M620.3 183.9h0M602.7 204.3h0M605.9 212.3h0M605.0 195.6h0M583.2 233.2h0M600.2 217.2h0M608.0 218.7h0M603.7 198.7h0M622.2 184.5h0M616.8 207.7h0M605.0 199.8h0M564.8 233.7h0M565.6 231.1h0M593.4 201.6h0M607.5 178.3h0M607.2 217.0h0M608.8 185.7h0M553.4 241.4h0M603.3 214.0h0M603.1 191.2h0M626.0 179.2h0M583.2 229.3h0M629.6 182.5h0M615.3 197.2h0M590.8 210.2h0M612.9 178.9h0M590.2 218.8h0M614.6 200.5h0M618.3 198.6h0M622.3 176.3h0M609.3 188.8h0M604.6 219.4h0M564.4 237.0h0M593.7 229.5h0M567.6 242.4h0M613.9 208.6h0M629.1 190.2h0M629.4 178.0h0M576.0 242.3h0M624.2 195.7h0M567.8 224.2h0M612.9 212.5h0M615.5 214.3h0M582.7 224.3h0M611.4 177.7h0M609.2 202.4h0M587.8 203.2h0M606.6 184.1h0M568.4 229.6h0M626.3 173.9h0M606.8 210.5h0M604.0 214.5h0M628.5 196.1h0M605.8 206.5h0M604.2 216.1h0M590.2 229.0h0M614.3 180.4h0M573.7 222.7h0M569.1 229.4h0M623.1 200.6h0M629.1 199.6h0M630.6 171.2h0M576.7 215.7h0M566.0 195.4h0M611.9 203.0h0M580.4 229.0h0M602.8 196.3h0M568.0 230.6h0M603.8 213.5h0M566.9 227.6h0M624.6 172.1h0M610.4 206.2h0M557.2 200.6h0M629.4 180.5h0M597.5 237.9h0M619.6 190.5h0M613.5 179.7h0M599.4 181.2h0M620.3 193.4h0M615.7 195.2h0M605.8 208.6h0M605.5 215.7h0M575.0 241.5h0M583.8 185.7h0M579.4 223.2h0M590.6 216.6h0M619.3 184.4h0M608.8 187.3h0M610.5 200.2h0M586.9 226.2h0M572.3 235.7h0M627.3 190.3h0M595.9 228.1h0M559.1 241.1h0M622.0 185.5h0M597.4 221.4h0M587.9 214.6h0M579.5 233.3h0M597.5 217.8h0M576.8 234.0h0M626.0 191.9h0M583.2 231.4h0M612.8 190.2h0M608.9 190.2h0M588.1 241.8h0M613.4 186.1h0M563.3 220.7h0M603.1 217.6h0M569.3 234.8h0M571.4 228.9h0M582.3 210.3h0M615.3 196.7h0M589.7 223.8h0" stroke="#4f47f8"/><path d="M620.4 198.3h0M594.5 228.0h0M572.4 241.2h0M615.6 211.8h0M612.0 183.0h0M612.2 213.9h0M624.8 199.2h0M622.5 200.8h0M610.3 204.5h0M584.2 229.6h0M587.8 210.8h0M594.9 212.3h0M594.6 236.7h0M627.4 195.8h0M575.4 235.9h0M618.4 184.2h0M621.7 183.2h0M610.5 205.3h0M618.6 192.6h0M628.7 203.8h0M560.5 233.5h0M587.4 237.4h0M625.5 196.8h0M617.9 197.2h0M578.1 235.8h0M617.9 197.3h0M611.7 213.7h0M615.9 220.0h0M620.6 196.3h0M620.2 200.7h0M601.1 237.0h0M612.6 215.1h0M624.2 185.0h0M588.4 230.0h0M609.8 213.5h0M605.5 219.2h0M566.7 239.3h0M631.3 179.1h0M597.6 227.4h0M616.5 198.9h0M609.0 207.7h0M604.4 220.0h0M584.5 236.5h0M630.5 191.6h0M573.2 237.1h0M561.8 242.2h0M619.0 208.2h0M585.7 225.3h0M630.9 57.3h0M608.7 221.8h0M552.9 233.6h0M565.1 232.1h0M590.9 232.9h0M627.5 195.3h0M566.4 241.3h0M571.1 237.7h0M606.9 210.2h0M603.9 201.0h0M588.5 239.8h0M631.1 191.1h0M622.9 190.7h0M597.9 228.6h0M578.7 210.1h0M556.8 234.5h0M611.3 218.8h0M585.2 206.4h0M578.6 215.5h0M604.3 202.3h0M629.6 67.9h0M626.9 199.4h0M613.9 209.5h0M628.8 198.5h0M618.7 147.3h0M587.5 227.0h0M590.5 215.3h0M594.0 239.2h0M589.9 240.4h0M617.0 208.1h0M624.9 173.7h0M614.0 191.6h0M590.2 240.8h0M560.2 240.2h0M613.0 187.6h0M595.7 228.2h0M607.7 193.6h0M601.4 194.1h0M587.8 186.6h0M598.5 192.0h0M590.5 223.6h0M577.5 224.9h0M564.8 232.0h0M603.9 197.5h0M611.5 187.6h0M586.4 206.6h0M578.0 230.2h0M616.4 197.3h0M622.2 168.6h0M631.8 191.6h0M626.8 187.4h0M602.8 221.1h0M614.7 210.0h0M605.7 223.4h0M607.2 213.6h0M580.3 241.3h0M599.8 216.4h0M584.1 239.6h0M612.6 194.7h0M594.9 217.4h0M632.4 170.0h0M597.4 219.3h0M582.5 224.3h0M592.2 226.7h0M630.1 165.2h0M590.6 236.4h0M595.1 222.6h0M623.5 210.9h0M611.7 227.7h0M621.3 209.4h0M589.9 230.7h0M589.0 225.4h0M602.4 221.4h0M572.3 234.2h0M565.6 216.7h0M630.2 186.5h0M596.8 202.7h0M579.8 225.3h0M571.2 231.8h0M593.4 208.3h0M626.8 194.8h0M613.5 201.6h0M591.1 235.5h0M565.4 231.4h0M568.8 241.3h0M605.2 192.9h0M597.4 226.2h0M607.1 209.3h0M607.4 218.5h0M569.4 239.1h0M565.3 231.8h0" stroke="#4a64f8"/><path d="M543.8 216.8h0M629.6 190.7h0M564.8 239.2h0M584.2 237.2h0M599.6 176.4h0M574.3 235.4h0M596.4 239.7h0M605.4 210.8h0M610.4 207.8h0M601.6 224.1h0M621.5 204.0h0M590.0 222.1h0M571.5 199.5h0M608.5 188.6h0M570.5 236.1h0M594.6 224.7h0M587.0 234.5h0M591.0 224.2h0M603.0 234.0h0M617.5 204.6h0M618.9 212.5h0M591.9 226.6h0M602.9 223.6h0M612.0 212.2h0M587.8 221.8h0M618.1 214.3h0M612.7 213.4h0M600.0 224.3h0M555.3 223.4h0M630.5 197.0h0M617.0 209.8h0M600.2 211.7h0M619.5 172.0h0M626.7 188.6h0M614.7 217.2h0M621.3 203.9h0M627.8 186.3h0M586.0 220.6h0M603.2 221.2h0M610.0 228.1h0M629.1 182.5h0M601.0 230.7h0M585.8 236.5h0M629.8 187.8h0M630.9 115.7h0M608.7 222.0h0M621.3 207.1h0M630.2 159.0h0M607.1 225.7h0M628.1 198.8h0M629.4 186.8h0M598.2 242.1h0M617.5 212.1h0M612.6 213.2h0M585.2 229.1h0M603.7 212.0h0M576.3 240.7h0M632.1 196.2h0M597.9 221.3h0M610.8 213.7h0M508.0 208.8h0M629.0 187.9h0M569.5 242.0h0M538.3 218.5h0M629.7 92.9h0M600.4 235.0h0M569.7 214.5h0M618.1 156.7h0M630.8 86.6h0M595.0 235.8h0M606.2 210.5h0M599.8 222.7h0M616.9 204.7h0M622.8 201.8h0M608.6 182.9h0M598.7 217.8h0M603.0 240.5h0M628.7 149.7h0M607.0 220.0h0M615.3 206.0h0M604.3 210.2h0M608.4 222.1h0M589.3 233.0h0M631.9 74.0h0M576.5 226.3h0M593.1 235.7h0M586.1 229.9h0M584.2 236.0h0M610.4 207.5h0M601.9 199.6h0M571.7 232.7h0M630.1 189.4h0M627.3 190.3h0M602.5 191.7h0M598.2 200.6h0M613.1 209.7h0" stroke="#4b79f7"/><path d="M600.5 236.0h0M624.7 195.4h0M629.7 207.0h0M630.5 206.0h0M619.0 215.8h0M632.2 183.2h0M607.1 224.6h0M621.5 210.2h0M615.4 210.7h0M592.5 235.8h0M616.2 220.5h0M620.7 200.9h0M610.9 231.4h0M595.8 223.8h0M589.4 224.4h0M594.0 236.7h0M623.5 196.1h0M631.8 191.7h0M571.7 238.9h0M597.6 223.6h0M599.7 234.7h0M591.0 232.5h0M600.9 232.4h0M609.5 224.2h0M618.9 204.9h0M602.5 228.6h0M611.7 210.7h0M587.3 239.3h0M610.9 210.2h0M595.2 240.4h0M631.7 204.4h0M600.4 226.8h0M619.9 204.0h0M596.6 241.8h0M631.5 209.5h0M599.9 229.0h0M586.3 237.8h0M610.6 226.0h0M598.5 239.3h0M604.9 218.5h0M615.9 223.3h0M601.8 228.5h0M620.7 216.8h0M590.0 242.2h0M629.5 201.3h0M617.9 211.1h0M605.8 159.9h0M616.7 222.1h0M625.3 199.4h0M591.5 236.1h0M631.0 194.9h0M595.4 177.9h0M625.6 198.6h0M589.9 241.3h0M553.6 228.1h0M604.5 225.9h0M619.0 201.5h0M621.4 211.5h0M587.4 233.4h0M587.5 237.4h0M631.9 199.8h0M603.6 224.7h0M612.3 217.0h0M629.8 193.1h0M553.4 229.6h0M601.8 238.2h0M599.0 240.9h0M621.8 214.5h0M617.7 216.8h0M613.2 214.5h0M623.0 195.0h0M602.2 171.5h0M630.3 187.5h0M591.2 225.5h0M565.2 195.0h0M551.1 218.4h0M606.5 228.1h0M630.9 196.4h0M610.8 232.6h0M603.3 229.8h0" stroke="#4f89f4"/><path d="M618.7 221.5h0M594.1 239.8h0M598.4 239.7h0M602.4 235.9h0M614.3 226.8h0M619.3 230.3h0M611.8 229.8h0M605.8 233.0h0M616.2 227.9h0M622.8 222.4h0M597.6 236.4h0M612.7 228.8h0M616.9 224.9h0M611.9 232.8h0M610.8 234.6h0M591.7 229.5h0M603.7 241.3h0M594.4 227.6h0M606.4 225.7h0M603.9 235.7h0M613.3 211.4h0M612.7 236.0h0M614.8 223.0h0M625.2 213.4h0M598.9 236.9h0M599.6 237.8h0M601.5 237.2h0M603.7 236.4h0M598.5 237.7h0M604.2 233.0h0M613.1 221.5h0M620.4 216.1h0M617.9 222.3h0M632.4 201.6h0M630.7 211.0h0M618.8 223.7h0M592.5 241.0h0M613.5 220.0h0M606.4 236.9h0M592.4 230.6h0M627.6 196.4h0M606.8 237.8h0M632.0 199.9h0M572.2 240.6h0M607.6 235.1h0M609.7 234.7h0" stroke="#569af2"/><path d="M609.3 228.5h0M617.2 221.6h0M631.4 196.0h0M609.3 234.0h0M623.0 218.4h0M614.0 232.0h0M613.4 237.8h0M619.4 221.4h0M622.8 200.6h0M624.9 216.4h0M617.8 218.7h0M602.9 233.9h0M623.1 220.5h0M612.9 230.7h0M614.6 229.9h0M601.3 237.7h0M624.3 210.4h0M625.4 214.5h0M619.8 212.9h0M631.9 212.7h0M628.2 212.1h0M606.5 237.9h0M605.7 238.6h0M611.1 229.4h0M607.9 239.9h0M619.5 226.4h0M604.2 240.7h0M597.0 242.1h0M628.5 214.3h0M611.0 233.9h0" stroke="#5daaf0"/><path d="M610.2 236.8h0M624.7 222.6h0M631.3 211.1h0M619.0 225.6h0M614.8 233.9h0M614.8 232.0h0M629.4 217.4h0M620.0 225.0h0M621.4 225.7h0M627.9 218.6h0M621.0 219.1h0M614.4 233.9h0M628.7 215.7h0M612.4 238.9h0M610.7 233.6h0" stroke="#64b7ed"/><path d="M588.0 146.5h0M621.8 224.4h0M539.7 194.1h0M541.7 184.6h0M611.4 235.4h0M630.3 215.3h0M592.6 125.5h0M588.3 141.9h0M612.1 125.8h0M628.2 209.2h0M597.3 159.3h0M439.7 138.9h0M569.4 147.6h0M612.8 238.3h0M628.7 213.0h0M614.3 236.4h0M612.4 238.9h0M626.5 220.5h0M542.8 184.1h0M589.7 138.1h0M625.4 219.6h0M613.9 236.7h0M630.2 209.5h0" stroke="#6bc4e9"/><path d="M561.2 211.0h0M549.8 234.7h0M563.4 154.0h0M610.0 105.1h0M562.5 164.1h0M593.0 158.6h0M598.3 129.4h0M539.2 221.5h0M584.4 171.8h0M496.6 107.2h0M528.2 162.4h0M607.9 145.6h0M552.4 225.3h0M554.0 238.5h0M552.7 165.7h0M591.8 140.7h0M525.1 218.1h0M563.8 171.0h0M532.7 177.0h0M524.0 150.2h0M600.3 138.6h0M518.7 181.1h0M622.8 102.0h0M557.1 168.2h0M467.5 189.5h0M599.5 145.5h0M526.6 197.8h0M605.4 106.4h0M543.8 184.6h0M575.9 161.1h0M569.4 146.5h0M615.5 120.3h0M486.6 237.8h0M553.4 182.3h0M432.8 95.6h0M464.7 239.3h0M590.4 127.6h0M611.5 117.8h0M562.3 156.1h0M612.1 104.6h0M504.9 183.5h0M589.9 127.2h0M565.2 158.7h0M575.7 153.8h0M593.5 129.5h0M587.1 158.0h0M558.9 177.6h0M613.4 102.9h0M573.7 149.7h0M619.2 156.4h0M463.4 162.3h0M593.0 133.3h0M571.2 179.7h0M442.5 228.5h0M557.0 180.3h0M610.9 109.6h0M576.0 168.9h0M584.9 158.8h0M596.5 160.3h0M604.4 139.4h0M571.4 149.3h0M617.8 91.2h0M481.2 211.8h0M541.7 177.1h0M583.9 198.4h0M590.4 146.2h0M608.6 110.0h0M534.7 236.9h0M545.1 183.0h0M582.2 174.2h0M615.6 91.6h0M623.5 59.0h0M541.2 221.3h0M533.7 167.6h0M582.0 156.8h0M574.1 156.6h0M540.2 182.5h0M588.3 138.7h0M592.0 125.8h0M539.7 147.6h0M581.7 149.4h0M579.4 139.1h0M598.0 148.6h0M606.9 102.5h0M605.3 100.7h0M468.0 205.3h0M621.4 90.8h0M604.3 146.3h0M563.9 150.6h0M569.5 171.3h0M614.4 84.7h0M615.8 116.9h0M524.6 149.3h0M581.1 158.7h0M554.9 204.7h0M608.8 105.6h0M606.1 149.3h0M553.0 153.3h0M593.5 119.7h0M597.6 110.9h0M621.4 100.7h0M606.2 147.1h0M605.2 138.9h0M544.7 157.1h0M609.8 108.8h0M580.5 146.5h0M571.7 174.2h0M615.3 74.1h0M571.3 163.2h0M617.7 82.3h0M541.7 207.0h0M613.5 99.2h0M586.4 166.6h0M612.1 105.0h0M596.0 133.0h0M560.3 163.0h0M469.1 207.6h0M454.2 236.7h0M611.4 126.0h0M604.3 108.8h0M557.1 208.0h0M611.5 99.5h0M494.7 193.1h0M493.2 201.0h0M591.2 134.1h0M622.2 74.1h0M540.4 178.4h0M607.7 99.8h0M556.1 183.0h0M621.9 82.7h0M603.8 150.2h0M605.5 109.9h0M574.4 198.7h0M622.0 80.2h0M572.0 165.7h0M566.7 171.0h0M479.1 117.4h0M613.2 109.3h0M613.6 151.1h0M546.4 238.5h0M549.0 186.9h0M584.6 169.3h0M544.6 166.2h0M548.8 194.7h0M600.5 119.1h0M617.1 105.1h0M608.6 113.6h0M594.9 126.4h0M551.6 190.6h0M544.6 167.5h0M601.8 144.4h0M532.4 209.8h0M618.1 113.2h0M529.7 189.6h0M555.1 178.6h0M605.5 137.5h0M585.1 148.4h0M607.5 95.4h0M605.8 130.1h0M593.3 167.2h0M600.1 135.8h0M505.8 230.7h0M580.8 144.7h0M568.0 186.6h0M575.9 168.0h0M612.1 105.4h0M532.3 189.3h0M609.4 159.2h0M548.6 234.9h0M509.2 188.5h0M514.4 185.2h0M590.4 144.9h0M564.3 171.8h0M556.6 170.2h0M577.1 173.7h0M557.4 174.6h0M601.7 142.9h0M497.5 224.3h0M548.9 179.6h0M607.5 110.4h0M539.6 216.5h0M584.7 135.1h0M538.6 189.7h0M611.9 124.8h0M620.9 72.8h0M607.0 138.6h0M588.5 139.7h0M612.0 106.0h0M540.8 191.7h0M577.8 171.9h0M623.6 75.0h0M594.3 137.5h0M598.3 138.1h0M620.4 83.1h0M575.0 182.1h0M608.0 114.7h0M617.2 91.9h0M565.7 212.2h0M598.4 175.8h0M568.6 165.2h0M582.3 174.5h0M543.1 182.9h0M573.1 145.9h0M560.8 162.0h0M571.9 140.7h0M524.9 231.6h0M609.5 110.0h0M495.9 239.5h0M542.5 161.4h0M545.4 175.2h0M577.7 202.5h0M602.3 125.5h0M514.3 230.1h0M566.5 170.4h0M583.9 158.3h0M564.7 181.6h0M592.0 160.5h0M538.1 205.0h0M607.9 109.3h0M619.9 80.6h0M563.9 141.2h0M551.6 169.9h0M586.7 166.0h0M509.8 181.9h0M596.5 162.6h0M489.5 153.8h0M602.0 137.5h0M545.0 168.5h0M612.5 92.2h0M572.9 209.5h0M571.1 169.1h0M492.8 228.8h0M555.7 160.9h0M607.6 127.2h0M619.1 109.1h0M562.4 185.8h0M607.9 104.4h0M476.0 237.0h0M617.2 86.7h0M547.5 196.9h0M605.1 128.9h0M598.8 159.8h0M621.0 98.3h0M563.6 190.8h0M592.2 132.2h0M617.1 84.7h0M543.0 194.5h0M580.0 165.9h0M604.6 103.8h0M587.9 141.2h0M601.8 120.8h0M509.3 192.6h0M572.2 163.4h0M574.7 186.2h0M545.3 155.0h0M559.0 160.7h0M600.8 138.3h0M535.9 161.1h0M603.7 128.7h0M606.3 102.8h0M514.2 160.6h0M576.9 146.7h0M610.7 156.3h0M477.4 211.8h0M561.4 145.5h0M613.3 158.4h0M588.5 142.3h0M513.5 186.5h0M583.8 180.5h0M594.8 151.5h0M548.9 170.8h0M632.1 211.1h0M437.3 224.6h0M514.5 176.5h0M585.2 149.3h0M591.2 118.5h0M555.3 159.2h0M554.4 185.3h0M603.1 110.7h0M477.6 231.6h0M484.8 216.0h0M575.4 135.1h0M609.8 165.3h0M576.3 147.6h0M555.9 174.5h0M611.5 113.5h0M556.1 197.1h0M622.1 75.2h0M603.1 103.5h0M590.3 127.3h0M583.8 152.8h0M512.1 207.2h0M589.9 125.1h0M530.7 176.5h0M583.0 137.5h0M597.4 160.7h0M611.7 122.3h0M590.6 127.1h0M583.5 158.5h0M552.2 230.3h0M544.5 170.0h0M626.6 63.8h0M613.9 106.0h0M560.9 153.4h0M592.5 134.2h0M585.3 141.1h0M504.6 155.2h0M597.9 134.4h0M560.3 164.0h0M567.0 164.0h0M594.2 147.8h0M530.5 158.6h0M548.7 177.5h0M559.0 174.5h0M502.0 212.6h0M552.0 163.1h0M563.7 184.3h0M523.3 212.1h0M548.2 226.0h0M549.3 142.4h0M605.5 149.4h0M599.5 121.2h0M548.0 201.5h0M597.8 154.3h0M615.3 89.3h0M540.5 189.5h0M530.9 211.6h0M602.9 137.2h0M551.9 165.5h0M609.8 242.3h0M592.9 143.1h0M527.7 145.6h0M556.5 166.3h0M504.1 177.8h0M566.9 145.2h0M604.9 124.5h0M569.3 157.8h0M604.4 141.8h0M623.5 68.2h0M593.1 126.8h0M506.1 184.6h0M610.3 132.5h0M494.2 192.7h0M481.0 203.3h0M590.4 126.5h0M617.6 95.7h0M554.9 171.8h0M468.1 215.0h0M500.3 239.0h0M589.9 131.7h0M583.9 134.9h0M535.7 159.2h0" stroke="#72d0e2"/><path d="M607.7 98.3h0M567.8 202.3h0M539.2 199.9h0M588.3 154.2h0M620.0 74.2h0M595.5 123.1h0M573.8 161.0h0M578.4 160.5h0M588.5 150.4h0M595.9 152.5h0M540.4 218.8h0M605.9 112.6h0M481.6 219.3h0M609.6 119.4h0M569.4 155.9h0M540.9 176.8h0M599.9 125.6h0M472.4 220.3h0M593.9 126.7h0M509.2 187.8h0M612.8 107.2h0M495.6 62.5h0M593.1 117.4h0M528.5 180.8h0M586.3 139.3h0M603.8 110.0h0M579.0 150.5h0M614.2 113.9h0M590.3 133.6h0M543.3 190.3h0M558.5 147.5h0M563.0 158.6h0M586.9 139.2h0M612.6 114.2h0M603.4 181.7h0M584.8 154.0h0M602.0 125.5h0M589.0 132.0h0M613.3 109.1h0M612.1 104.3h0M490.9 205.2h0M599.1 135.3h0M548.2 186.6h0M599.8 139.5h0M560.5 182.9h0M617.2 157.2h0M603.6 104.2h0M570.2 163.2h0M601.3 115.5h0M450.4 233.8h0M603.9 113.8h0M560.6 205.1h0M588.3 151.5h0M552.8 191.4h0M566.8 142.5h0M604.5 103.7h0M505.4 172.6h0M592.1 130.4h0M477.1 208.2h0M526.3 177.4h0M601.4 134.9h0M494.8 199.7h0M531.9 184.9h0M563.5 174.4h0M580.6 189.6h0M535.0 160.1h0M586.8 139.7h0M558.6 194.8h0M535.7 164.2h0M521.5 177.5h0M608.5 141.8h0M551.7 164.4h0M565.7 168.6h0M559.8 175.2h0M598.9 118.9h0M589.4 163.8h0M571.4 172.5h0M586.0 131.8h0M613.9 83.2h0M570.6 151.9h0M615.3 94.9h0M600.0 122.3h0M409.3 132.8h0M591.8 149.3h0M620.7 91.7h0M502.6 174.3h0M619.1 70.8h0M567.0 156.9h0M609.5 128.2h0M604.3 115.1h0M616.7 80.0h0M615.4 111.0h0M576.8 180.7h0M594.6 134.3h0M571.4 168.4h0M573.4 170.0h0M622.3 61.9h0M555.0 160.1h0M582.9 175.7h0M617.9 100.7h0M530.3 240.3h0M615.5 108.7h0M585.6 128.7h0M583.0 144.9h0M562.3 170.0h0M591.3 163.8h0M590.5 159.0h0M573.8 169.7h0M564.4 178.6h0M508.8 170.7h0M620.5 71.4h0M605.3 126.9h0M606.2 126.7h0M492.6 174.7h0M480.0 240.1h0M605.6 100.8h0M614.4 89.4h0M614.2 127.9h0M615.7 93.8h0M571.9 178.4h0M621.9 67.7h0M600.4 112.3h0M617.2 117.5h0M554.9 154.6h0M584.8 196.4h0M567.8 187.5h0M619.6 109.7h0M605.5 117.5h0M542.9 214.2h0M582.1 128.9h0M585.7 140.9h0M550.6 159.2h0M551.1 200.7h0M542.6 202.6h0M612.8 91.0h0M595.5 152.1h0M587.8 149.9h0M596.2 130.3h0M522.9 186.8h0M562.9 166.4h0M567.8 149.8h0M520.4 219.5h0M518.2 184.7h0M603.0 117.5h0M600.2 157.3h0M621.5 109.0h0M581.9 134.2h0M550.0 185.6h0M609.1 105.6h0M566.3 162.0h0M570.0 175.4h0M621.9 72.8h0M614.6 123.1h0M605.2 120.2h0M621.6 102.9h0M600.8 130.1h0M566.2 185.9h0M597.0 141.2h0M526.7 157.8h0M582.2 145.9h0M532.1 164.5h0M598.1 129.2h0M433.5 156.0h0M591.2 152.3h0M566.3 161.1h0M606.2 102.7h0M603.7 124.6h0M553.3 168.7h0M585.9 132.6h0M517.0 157.0h0M570.9 175.7h0M611.9 104.4h0M534.0 169.7h0M616.7 94.5h0M612.2 117.9h0M562.8 187.3h0M536.0 151.2h0M601.8 107.6h0M594.3 130.3h0M604.9 108.7h0M575.7 168.5h0M551.0 239.3h0M557.6 181.0h0M618.3 150.9h0M416.8 183.9h0M616.1 112.4h0M587.7 139.4h0M553.9 167.6h0M589.4 191.8h0M573.6 146.9h0M570.1 212.8h0M596.6 116.7h0M538.8 181.2h0M575.4 167.2h0M562.2 166.6h0M601.6 106.7h0M611.7 95.2h0M492.9 223.2h0M562.2 176.2h0M538.0 172.3h0M522.3 185.3h0M597.0 189.1h0M437.5 96.7h0M565.4 209.9h0M559.7 163.3h0M595.9 126.4h0M608.3 87.0h0M571.3 180.5h0M594.6 150.2h0M610.8 115.1h0M580.0 157.4h0M526.1 167.8h0M613.6 107.9h0M493.6 224.3h0M488.1 189.3h0M578.6 202.3h0M471.2 226.0h0M567.9 182.3h0M465.3 238.5h0M565.8 167.8h0M462.4 130.8h0M575.6 138.0h0M598.4 170.5h0M494.6 220.2h0M582.4 134.2h0M578.0 143.2h0M575.9 174.0h0M492.8 190.4h0M615.7 121.1h0M543.3 183.1h0M627.4 144.5h0M595.6 124.2h0M497.5 184.6h0M552.7 199.9h0M602.0 116.8h0M597.1 116.5h0M593.5 122.6h0M588.6 135.8h0M550.3 168.2h0M613.1 118.8h0M559.1 181.8h0M542.1 194.1h0M625.8 148.8h0M531.8 225.5h0M569.0 154.9h0M561.6 147.7h0M580.1 159.3h0M569.4 176.6h0M621.2 83.9h0M604.6 142.0h0M558.5 141.5h0M603.9 102.5h0M570.7 154.0h0M595.9 130.5h0M560.7 188.4h0M569.4 156.8h0M587.1 136.1h0M597.5 143.6h0M467.8 209.4h0M556.1 168.3h0M491.2 226.2h0M559.4 157.0h0M607.1 113.0h0M582.5 178.4h0M610.3 131.7h0M579.5 133.3h0M574.8 197.5h0M523.2 172.7h0M567.3 142.1h0M551.9 216.4h0M578.0 179.5h0M599.2 116.5h0M556.3 201.8h0M534.7 199.1h0M535.4 166.9h0M600.4 116.0h0M618.7 110.8h0M551.3 167.5h0M603.2 116.4h0M587.0 132.8h0M582.4 156.8h0M590.6 161.1h0M561.6 148.0h0M512.3 160.1h0M590.6 153.9h0M542.4 188.7h0M572.4 144.8h0M558.7 216.9h0M605.1 120.2h0M562.8 166.8h0M623.8 91.5h0M610.5 132.2h0M481.4 163.4h0M598.0 120.9h0M526.9 236.0h0M615.1 102.2h0M613.8 113.3h0M474.5 221.1h0M557.4 218.2h0M620.0 103.1h0M504.4 177.7h0M574.0 147.5h0M554.2 166.0h0M580.3 175.4h0M595.7 126.2h0M611.7 88.2h0M620.4 109.2h0M471.7 222.4h0M553.6 186.9h0M603.7 101.0h0M615.5 90.6h0M577.5 152.4h0M590.9 144.3h0M478.8 234.4h0M559.8 160.6h0M614.7 84.8h0M551.0 181.0h0M575.4 171.8h0M606.4 127.3h0M557.2 173.2h0M594.9 135.5h0M572.8 174.6h0M553.8 186.4h0M590.2 170.2h0M606.1 153.2h0M583.6 160.3h0M584.3 127.7h0M573.5 148.1h0M618.9 77.9h0M547.2 190.7h0M576.4 134.0h0M525.6 172.0h0M598.8 130.6h0M589.3 131.8h0M598.8 157.3h0M555.6 161.9h0M598.8 166.9h0M545.7 178.1h0M470.8 214.5h0M594.8 123.7h0M577.2 164.0h0M627.2 160.7h0M620.1 80.1h0M510.9 161.9h0M556.4 173.5h0M609.5 128.0h0M618.2 100.7h0M564.2 142.7h0M563.5 167.4h0M587.3 157.2h0M611.1 113.6h0M529.2 204.4h0M544.6 174.1h0M587.4 125.2h0M571.1 167.4h0" stroke="#79dada"/><path d="M581.6 173.2h0M602.0 155.0h0M601.4 158.0h0M567.2 181.7h0M617.0 102.4h0M535.4 186.6h0M539.9 198.3h0M590.9 192.8h0M553.1 161.1h0M555.4 196.8h0M558.2 173.5h0M496.9 218.8h0M545.6 165.8h0M580.5 144.1h0M605.8 141.9h0M619.9 88.7h0M494.4 197.9h0M569.7 163.8h0M530.9 166.1h0M584.7 156.2h0M619.8 80.1h0M602.5 117.1h0M499.9 226.8h0M594.8 152.4h0M528.8 195.5h0M511.6 175.5h0M622.6 82.1h0M525.9 228.6h0M591.2 156.1h0M592.2 131.5h0M510.3 187.2h0M564.3 160.2h0M608.0 135.9h0M572.4 169.2h0M568.2 186.4h0M599.3 134.9h0M602.9 125.0h0M599.9 177.7h0M548.2 163.6h0M621.5 83.9h0M553.9 238.9h0M498.5 160.8h0M621.3 75.5h0M599.7 150.5h0M540.5 153.9h0M596.5 133.8h0M549.1 156.0h0M596.8 161.5h0M471.2 175.2h0M524.8 192.4h0M578.1 144.5h0M584.3 147.8h0M553.1 152.6h0M570.5 137.6h0M596.9 121.8h0M592.5 138.9h0M611.4 126.2h0M596.5 134.2h0M574.8 160.6h0M599.5 116.2h0M600.6 138.4h0M568.4 140.8h0M621.9 83.2h0M562.2 187.4h0M599.9 142.1h0M602.9 102.9h0M592.9 144.6h0M606.0 130.2h0M602.9 102.0h0M586.0 167.6h0M571.6 175.1h0M598.8 120.9h0M529.7 190.9h0M545.6 163.3h0M612.2 92.1h0M500.3 174.9h0M609.7 126.5h0M614.6 86.8h0M607.6 90.8h0M607.9 88.8h0M607.9 143.4h0M543.8 185.3h0M621.5 76.7h0M575.9 174.3h0M610.0 98.7h0M573.7 165.0h0M619.5 85.6h0M556.7 171.1h0M589.3 160.8h0M565.4 181.2h0M547.6 182.2h0M624.3 58.4h0M559.8 159.9h0M599.3 154.6h0M576.8 157.2h0M611.6 86.6h0M498.5 163.3h0M516.7 209.1h0M464.2 215.3h0M608.9 100.2h0M527.8 190.2h0M567.7 150.9h0M412.2 233.5h0M608.9 116.9h0M520.4 222.8h0M619.3 103.8h0M591.0 146.2h0M578.3 135.2h0M612.7 109.2h0M566.8 151.1h0M600.5 127.1h0M591.6 123.3h0M613.2 109.3h0M564.2 158.6h0M549.5 167.5h0M459.9 230.7h0M546.4 176.6h0M536.0 211.3h0M599.2 151.0h0M568.2 154.0h0M534.6 182.8h0M548.3 159.9h0M568.6 181.4h0M623.6 153.6h0M554.7 202.9h0M597.3 112.0h0M594.1 134.6h0M571.9 150.8h0M601.2 123.5h0M529.9 167.1h0M607.0 117.6h0M610.0 85.8h0M566.3 176.1h0M528.2 209.8h0M573.5 150.2h0M611.4 95.8h0M517.4 161.8h0M604.3 120.4h0M475.9 214.3h0M617.7 105.1h0M601.6 157.0h0M589.9 151.9h0M441.5 175.1h0M559.9 192.9h0M552.4 162.7h0M595.6 120.2h0M590.6 167.3h0M557.0 168.8h0M587.3 157.6h0M598.3 151.3h0M552.7 157.5h0M610.9 123.3h0M571.8 180.6h0M616.1 83.4h0M608.9 137.6h0M571.8 152.6h0M531.2 183.9h0M591.7 159.5h0M586.3 172.7h0M603.3 115.8h0M509.8 155.3h0M609.6 114.0h0M532.8 171.4h0M603.9 148.5h0M546.0 233.1h0M617.5 146.5h0M594.2 142.7h0M569.9 165.3h0M570.8 146.4h0M593.8 120.0h0M432.5 235.9h0M581.0 165.2h0M572.6 152.3h0M545.0 187.2h0M616.8 104.5h0M572.6 159.2h0M618.0 108.6h0M613.6 125.3h0M613.2 103.1h0M606.3 144.0h0M566.7 146.2h0M564.9 172.8h0M535.3 173.3h0M506.0 195.8h0M482.3 208.3h0M599.9 132.9h0M554.4 203.4h0M572.5 164.5h0M571.8 165.5h0M577.8 172.2h0M557.1 162.8h0M593.9 121.6h0M565.3 177.7h0M551.1 217.8h0M612.1 110.5h0M548.8 160.4h0M550.5 188.4h0M615.8 82.9h0M571.6 150.1h0M591.4 163.5h0M605.4 152.1h0M594.9 144.1h0M423.4 176.7h0M598.4 142.7h0M602.1 100.2h0M561.3 150.3h0M569.8 150.7h0M622.0 98.2h0M598.2 106.4h0M560.5 175.5h0M609.2 100.7h0M538.0 175.8h0M485.2 218.6h0M590.0 155.1h0M529.0 200.7h0M587.5 159.0h0M587.7 148.2h0M623.4 73.1h0M580.0 143.3h0M607.6 99.1h0M510.9 209.0h0M579.2 164.5h0M592.8 149.7h0M579.0 152.2h0M547.4 205.2h0M589.0 127.5h0M549.0 190.0h0M552.4 161.7h0M482.7 204.6h0M585.9 167.2h0M534.0 208.3h0M522.7 213.7h0M567.6 147.5h0M618.9 87.2h0M597.1 125.2h0M613.1 97.2h0M588.1 161.3h0M600.4 138.6h0M602.1 120.9h0M558.5 188.8h0M570.3 161.8h0M592.1 160.3h0M600.6 149.3h0M574.8 203.4h0M622.5 86.0h0M554.9 180.7h0M546.0 187.3h0M576.0 151.8h0M497.1 120.0h0M548.3 166.4h0M544.0 187.2h0M599.2 149.1h0M519.0 162.5h0M613.1 105.2h0M565.4 169.7h0M541.1 184.9h0M578.8 158.6h0M617.3 115.1h0M511.5 174.7h0M564.6 166.0h0M593.1 142.5h0M562.5 187.5h0M613.9 115.2h0M578.3 164.2h0M617.3 86.8h0M616.7 72.2h0M568.0 158.9h0M529.9 185.9h0M617.9 87.8h0M522.4 196.4h0M581.6 177.2h0M558.7 162.6h0M623.6 81.2h0M484.7 211.3h0M478.6 146.4h0M602.6 134.1h0M610.0 110.5h0M554.0 156.5h0M611.1 91.7h0M597.4 141.0h0M486.6 238.3h0M570.8 154.5h0M577.7 157.9h0M503.6 178.2h0M564.4 183.5h0M570.5 139.6h0M589.9 153.4h0M564.8 172.7h0M602.2 131.4h0M592.9 119.0h0M540.2 223.5h0M533.0 176.8h0M579.1 201.4h0M560.4 188.2h0M598.8 162.0h0M540.1 188.9h0M562.9 199.2h0M607.3 112.6h0M557.6 188.1h0M574.3 144.5h0M542.1 194.4h0M596.8 112.2h0M574.5 180.9h0M603.0 143.8h0M550.1 178.5h0M492.3 241.5h0M499.3 70.4h0M602.4 116.3h0M557.8 179.5h0M507.9 183.2h0M558.2 155.6h0M571.6 152.3h0M594.7 153.2h0M603.8 118.5h0M557.7 163.2h0M431.6 177.9h0M576.5 165.6h0M565.8 171.5h0M513.2 169.1h0M575.8 157.5h0M562.0 193.3h0M617.2 109.3h0M598.2 152.0h0M622.9 89.3h0M491.9 175.1h0M584.5 136.2h0M594.3 150.6h0M600.6 129.0h0M618.3 85.5h0M549.3 173.4h0M577.2 154.2h0M613.2 132.8h0M529.2 173.2h0M589.8 125.0h0M600.1 109.0h0M551.3 192.3h0M529.7 220.1h0M596.8 124.4h0M612.8 131.7h0M600.0 127.4h0M558.3 222.0h0M608.3 130.1h0M573.4 171.4h0M588.6 154.0h0M614.1 110.9h0M612.1 115.2h0M557.5 185.6h0M612.5 93.0h0M598.6 110.7h0M447.1 227.8h0M513.7 170.2h0M520.6 163.3h0M556.3 162.3h0M541.4 186.9h0" stroke="#80e3d1"/><path d="M556.7 175.5h0M603.3 152.0h0M614.9 110.0h0M509.3 166.9h0M611.6 101.3h0M540.1 202.2h0M558.1 180.4h0M574.3 174.7h0M592.5 144.9h0M561.3 166.3h0M572.0 148.6h0M585.6 144.7h0M613.3 98.5h0M598.0 160.3h0M552.8 165.6h0M613.5 123.5h0" stroke="#87eac7"/><path d="M541.2 141.2h0M508.9 205.7h0M423.3 163.0h0M539.2 114.7h0M475.1 205.4h0M546.7 105.2h0M429.7 158.4h0M568.2 137.5h0M508.4 184.1h0M593.4 99.7h0M573.9 121.7h0M487.6 212.2h0M616.6 71.2h0M593.0 69.5h0M579.7 124.4h0M584.2 96.8h0M580.8 75.4h0M546.8 152.8h0M499.8 175.8h0M497.4 231.9h0M517.7 161.7h0M490.7 137.1h0M570.8 123.3h0M595.1 120.7h0M570.9 124.3h0M495.0 196.4h0M596.3 96.0h0M466.6 108.4h0M410.0 181.5h0M477.3 221.7h0M580.6 89.0h0M608.0 80.2h0M566.8 141.2h0M531.7 105.8h0M549.9 126.1h0M550.2 133.0h0M555.3 86.5h0M507.1 115.0h0M608.5 68.4h0M590.0 122.6h0M577.4 120.9h0M494.5 162.0h0M471.2 236.2h0M503.9 187.0h0M594.7 56.1h0M569.8 140.8h0M480.4 180.9h0M589.7 85.8h0M578.5 117.0h0M566.1 115.2h0M526.5 162.3h0M490.0 120.5h0M539.7 131.6h0M591.2 78.3h0M601.3 73.1h0M501.5 195.0h0M489.8 218.6h0M579.2 93.9h0M525.6 141.4h0M608.3 74.3h0M571.1 95.3h0M528.6 124.0h0M509.2 175.4h0M589.5 124.6h0M510.2 181.3h0M586.5 72.7h0M571.3 104.9h0M503.0 235.5h0M529.5 156.9h0M527.0 148.8h0M529.7 116.2h0M521.6 171.5h0M521.1 153.8h0M586.7 87.0h0M553.6 116.1h0M605.6 48.1h0M449.5 86.7h0M591.3 63.9h0M485.0 177.8h0M599.5 51.3h0M520.0 200.3h0M419.0 140.5h0M533.7 155.6h0" stroke="#8feebd"/><path d="M498.4 235.3h0M574.3 113.5h0M581.0 118.0h0M502.2 162.3h0M609.4 55.1h0M599.4 103.6h0M571.5 75.0h0M590.1 103.8h0M508.5 194.0h0M523.2 161.8h0M594.0 112.0h0M563.8 147.1h0M426.2 185.2h0M576.0 108.7h0M508.0 135.7h0M569.9 78.0h0M580.1 83.9h0M503.7 139.5h0M590.2 78.0h0M464.9 219.3h0M504.5 189.1h0M426.4 187.0h0M528.5 104.5h0M596.2 88.3h0M550.7 156.6h0M610.1 67.6h0M502.3 161.9h0M589.8 101.1h0M567.7 120.0h0M504.6 190.5h0M574.2 97.4h0M561.6 123.2h0M552.5 120.3h0M593.6 100.7h0M518.3 163.6h0M476.7 235.0h0M505.5 187.9h0M436.0 98.7h0M459.9 238.3h0M567.2 94.3h0M505.0 117.0h0M585.2 92.0h0M514.3 163.7h0M579.3 110.3h0M456.7 238.6h0M571.5 107.8h0M469.1 154.0h0M589.3 99.3h0M573.4 102.2h0M533.1 155.2h0M570.1 120.2h0M561.1 136.3h0M502.4 164.6h0M399.2 67.8h0M596.9 81.3h0M613.5 54.5h0M514.7 171.2h0M590.5 106.4h0M614.6 44.4h0M538.2 136.3h0M553.1 111.9h0M570.9 60.7h0M592.5 66.7h0M572.0 118.4h0M580.0 93.9h0M612.0 68.0h0M547.3 120.0h0M608.1 83.8h0M586.7 100.9h0M601.9 70.0h0M507.9 173.7h0M450.3 184.6h0M578.1 107.3h0M605.6 74.5h0M576.1 119.9h0M467.3 225.5h0M540.2 123.9h0M607.8 91.7h0M556.0 129.8h0M546.4 98.3h0M596.5 89.0h0M516.0 135.2h0M612.1 86.6h0M586.0 95.2h0M601.7 51.8h0M562.6 141.1h0M466.3 226.6h0M580.1 83.0h0M483.5 209.7h0M551.8 134.2h0M523.1 142.5h0M563.1 146.7h0M599.0 101.4h0M535.5 148.8h0M579.9 75.9h0M542.9 123.8h0M560.7 125.4h0M524.3 164.9h0M531.6 132.4h0M454.1 217.9h0M479.2 212.8h0M455.3 230.6h0M570.2 148.0h0M567.9 98.0h0M515.0 176.2h0M500.9 151.9h0M504.1 147.4h0M508.0 171.2h0M555.4 133.2h0M457.5 113.8h0M572.5 118.5h0M531.0 169.9h0M507.2 165.0h0M492.6 187.0h0M485.5 153.5h0M492.7 209.7h0M530.4 107.8h0M522.5 140.9h0M516.2 156.9h0M560.9 129.7h0M523.0 148.6h0M553.9 128.8h0M533.8 113.2h0M602.5 69.0h0M514.0 164.6h0M474.9 70.6h0M585.5 59.9h0M519.9 116.5h0M562.5 136.7h0M601.7 67.0h0M547.6 135.6h0" stroke="#9aefaf"/><path d="M563.1 104.4h0M445.3 223.6h0M427.4 139.5h0M598.5 79.7h0M560.7 112.4h0M571.0 86.4h0M602.0 95.0h0M477.5 172.8h0M501.6 188.6h0M573.1 131.0h0M520.9 150.5h0M515.7 139.1h0M517.3 172.9h0M532.9 136.5h0M574.7 99.2h0M509.1 104.1h0M553.2 101.5h0M457.4 237.1h0M453.4 235.1h0M493.2 190.2h0M581.8 136.3h0M510.4 238.8h0M541.7 154.7h0M429.8 173.8h0M581.4 78.1h0M513.3 169.2h0M483.1 147.0h0M545.2 132.0h0M608.3 63.1h0M579.0 108.8h0M554.8 122.8h0M602.6 97.0h0M551.0 115.4h0M568.0 110.4h0M494.2 203.0h0M561.4 126.5h0M511.9 208.0h0M498.8 203.5h0M540.8 149.5h0M491.1 215.4h0M486.4 222.6h0M545.0 126.8h0M571.6 36.1h0M495.0 206.5h0M571.5 144.3h0M588.1 121.4h0M594.6 98.2h0M467.7 233.5h0M550.0 124.8h0M498.8 130.3h0M577.7 93.2h0M502.7 177.5h0M599.6 64.2h0M550.3 139.9h0M516.2 163.0h0M503.8 155.4h0M570.9 95.9h0M621.3 61.2h0M616.8 69.2h0M573.5 122.5h0M567.8 80.4h0M590.4 112.5h0M540.2 132.1h0M593.7 112.8h0M564.7 136.4h0M580.1 91.5h0M502.3 131.7h0M486.9 205.7h0M560.9 148.6h0M531.1 121.7h0M437.1 226.9h0M611.4 73.0h0M612.8 50.7h0M546.2 121.2h0M589.1 68.0h0M554.3 145.7h0M618.8 64.7h0M509.0 149.4h0M612.2 62.0h0M531.5 128.6h0M567.9 113.8h0M478.1 170.0h0M600.6 75.7h0M540.2 155.5h0M561.1 100.8h0M529.2 195.4h0M516.4 200.7h0M544.2 136.3h0M525.5 147.9h0M479.2 123.2h0M522.6 145.3h0M562.2 119.3h0M580.4 101.1h0M569.4 81.0h0M431.9 188.2h0M470.2 213.1h0M488.4 174.5h0M553.6 140.0h0M515.1 143.9h0M512.0 178.1h0M568.7 118.7h0M533.8 122.1h0M523.6 194.9h0M611.6 56.8h0M592.3 72.5h0M571.1 119.0h0M557.6 138.8h0M552.3 138.4h0M573.9 140.0h0M502.3 168.2h0M613.1 54.4h0M586.6 126.6h0" stroke="#a7efa3"/><path d="M586.7 105.7h0M586.1 106.3h0M577.3 78.5h0M514.8 140.5h0M589.3 121.4h0M594.3 73.5h0M524.4 147.4h0M615.8 58.2h0M561.7 122.8h0M463.0 206.8h0M483.3 235.1h0M493.2 186.6h0M609.6 76.5h0M513.7 179.2h0M564.6 134.2h0M612.2 74.4h0M589.2 87.0h0M595.9 74.7h0M597.7 56.8h0M579.1 100.0h0M443.4 234.9h0M551.6 157.0h0M590.1 82.0h0M480.2 172.6h0M586.2 111.6h0M591.9 84.9h0M527.8 125.9h0M507.2 170.1h0M502.5 145.4h0M438.7 124.4h0M568.9 91.2h0M546.8 138.1h0M559.4 126.7h0M517.3 141.0h0M591.3 94.4h0M542.3 142.2h0M531.1 205.0h0M549.1 143.1h0M562.6 139.0h0M480.7 237.3h0M594.5 52.2h0M496.0 169.7h0M603.3 71.2h0M460.5 239.7h0M458.6 223.0h0M576.8 102.3h0M593.1 75.3h0M532.9 147.3h0M603.6 55.5h0M607.1 72.7h0M559.7 87.1h0M567.4 113.4h0M476.1 218.5h0M614.0 66.6h0M481.5 226.4h0M440.0 126.4h0M595.9 70.9h0M583.5 109.5h0M578.1 94.1h0M485.8 198.9h0M545.2 134.4h0M513.7 183.1h0M487.0 179.1h0M587.2 95.4h0M624.3 50.2h0M415.1 222.1h0M505.1 174.6h0M608.1 88.3h0M513.4 121.4h0M524.6 142.7h0M597.7 85.4h0M579.0 137.7h0M562.8 104.8h0M556.6 138.3h0M559.7 130.6h0M515.1 151.2h0M443.5 168.1h0M482.9 208.3h0M520.9 151.2h0M467.9 199.0h0M575.1 123.9h0" stroke="#b5ed9a"/><path d="M582.4 101.3h0M576.8 99.1h0M592.3 85.3h0M590.2 114.1h0M593.1 106.9h0M579.4 87.0h0M572.0 89.0h0M529.5 152.4h0M553.1 137.5h0M594.6 85.8h0M503.5 187.9h0M540.5 140.1h0M573.4 105.8h0M608.6 54.8h0M599.6 70.4h0M568.0 112.2h0M579.2 122.8h0M489.9 192.9h0M538.0 158.1h0M591.7 71.9h0M594.7 116.2h0M621.9 58.4h0M516.7 128.9h0M563.1 117.6h0M564.3 104.4h0M584.0 126.1h0M569.7 122.2h0M525.9 104.5h0M569.1 137.0h0M497.2 194.5h0M489.4 138.1h0M551.4 126.5h0M582.0 99.4h0M591.9 63.0h0M556.8 141.9h0" stroke="#c3e794"/><path d="M598.1 91.1h0M575.2 108.6h0M593.8 77.2h0M583.4 96.8h0M534.1 126.9h0M592.9 61.5h0M589.0 86.8h0M598.2 77.1h0M584.1 68.0h0M570.8 129.0h0M595.2 87.2h0M556.4 103.3h0M535.1 123.4h0M547.9 154.4h0M607.7 76.1h0M510.3 172.2h0M536.1 133.5h0M591.7 92.1h0M582.3 81.4h0M610.6 89.0h0M555.7 127.9h0M537.6 151.4h0M518.8 143.2h0M574.4 66.0h0M578.3 137.0h0M556.2 149.3h0M587.9 65.1h0M615.3 55.8h0M584.3 111.0h0M457.6 231.8h0M449.0 235.7h0M604.9 51.5h0M520.3 138.4h0M565.5 109.1h0M558.9 134.6h0M574.7 108.6h0M620.5 69.2h0M554.5 110.6h0M561.2 149.7h0M585.2 116.5h0M486.7 139.4h0M570.3 75.6h0M543.3 139.4h0M442.7 106.9h0M574.6 114.4h0M591.2 56.6h0M600.9 69.0h0M570.8 144.5h0M578.1 104.7h0M591.5 56.0h0M509.7 161.7h0M427.5 195.4h0M589.5 74.1h0M610.7 81.4h0M540.5 123.1h0M567.4 123.2h0M584.3 120.3h0M605.3 88.0h0M542.3 134.2h0M584.0 120.9h0M591.6 85.1h0M558.5 123.7h0M568.6 126.3h0M611.3 72.5h0M548.5 114.2h0M572.8 115.1h0M564.3 126.2h0M605.9 65.7h0M591.5 115.3h0M606.4 75.4h0M545.9 102.9h0M624.3 47.8h0M582.6 104.8h0M509.3 133.3h0M567.0 126.3h0M590.2 98.7h0M541.2 75.8h0M577.5 93.5h0M585.2 58.8h0M583.1 66.2h0M581.4 81.8h0M562.1 129.4h0M595.3 95.3h0M580.7 106.8h0M558.1 145.4h0M592.0 96.6h0M588.6 116.1h0M454.2 238.6h0M515.2 125.0h0M585.0 100.1h0M593.5 119.9h0M606.5 63.6h0M584.7 75.0h0M583.0 83.7h0M595.3 117.3h0M568.6 129.0h0M583.5 105.3h0M622.1 53.4h0M583.5 72.2h0M588.4 101.2h0M596.1 58.3h0M604.5 79.1h0M504.4 140.6h0M605.3 72.1h0M586.0 127.7h0M473.6 206.4h0M537.6 142.7h0M544.0 157.0h0M562.8 124.3h0M521.3 146.6h0M588.2 90.0h0M568.5 120.4h0M527.7 154.6h0M590.0 83.1h0M597.7 78.3h0M568.6 102.7h0M532.2 138.0h0M505.1 187.5h0M601.2 61.7h0M576.2 115.1h0M548.5 147.2h0M608.9 75.7h0" stroke="#d1e090"/><path d="M497.2 90.8h0M586.5 131.3h0M579.2 120.4h0M578.4 81.1h0M523.3 126.5h0M578.1 94.4h0M600.8 61.7h0M585.6 85.4h0M471.2 216.8h0M607.8 50.2h0M550.9 124.8h0M573.1 127.0h0M549.9 114.1h0M543.1 126.0h0M556.9 122.7h0M575.3 105.5h0M551.7 115.5h0M552.6 145.3h0M553.4 129.9h0M540.7 138.2h0M605.7 85.8h0M573.5 103.7h0M579.4 119.6h0M605.3 64.7h0M568.4 133.9h0M548.0 135.6h0M565.4 98.5h0M590.3 110.9h0M574.2 101.8h0M566.2 134.1h0M612.5 47.9h0M602.9 68.0h0M561.2 106.0h0M587.4 90.4h0M620.1 60.7h0M526.5 111.2h0M584.3 117.4h0M608.6 83.3h0M569.1 93.0h0M578.7 67.5h0M616.6 66.6h0M585.5 79.6h0M500.2 166.4h0M597.2 93.1h0M583.5 119.3h0M582.6 86.0h0M575.9 93.3h0M569.0 63.1h0M557.7 107.2h0M570.0 93.5h0M603.4 53.5h0M596.0 90.4h0M539.3 141.0h0M571.9 137.3h0M550.4 123.0h0M584.8 84.3h0M559.3 119.9h0M565.8 103.0h0M587.9 81.0h0M552.7 127.5h0M537.5 151.0h0M517.2 189.4h0M587.0 83.1h0M567.8 139.5h0M562.3 142.6h0M582.9 101.1h0M595.1 107.1h0M584.2 80.7h0M454.4 221.4h0M590.7 82.4h0M586.9 96.0h0M515.8 142.5h0M529.4 145.7h0M579.6 88.2h0M565.1 130.8h0M521.6 124.9h0M599.6 78.1h0M607.7 53.3h0M541.3 149.4h0M522.8 121.6h0M585.4 90.9h0M547.3 107.7h0M571.7 132.7h0M566.4 131.4h0M541.3 140.2h0M586.5 100.9h0M608.0 49.1h0M585.8 62.7h0M590.0 69.2h0M463.5 120.5h0M557.9 117.0h0M575.9 87.1h0M467.6 214.7h0M589.4 91.5h0M580.8 110.3h0M573.2 135.9h0M559.7 151.5h0M562.9 147.2h0M570.9 120.3h0M587.1 83.6h0M559.3 120.7h0M576.4 94.4h0M606.0 68.5h0M542.1 126.9h0M551.9 126.4h0M534.2 123.0h0M569.4 121.6h0M561.9 125.5h0M482.7 201.7h0M562.8 108.9h0M601.1 57.5h0M492.4 168.9h0M574.1 97.5h0M536.3 126.3h0M558.2 122.0h0M594.1 88.2h0M513.6 167.6h0M583.9 99.6h0M606.9 84.7h0M464.4 233.1h0M575.3 123.5h0M616.4 52.1h0M544.3 146.8h0M521.6 159.7h0M621.2 50.6h0M542.1 151.7h0M574.5 93.7h0M600.0 96.5h0M589.5 83.6h0M554.0 111.8h0" stroke="#dfd98b"/><path d="M523.1 136.3h0M576.5 133.3h0M572.2 129.5h0M549.2 158.1h0M460.8 146.2h0M610.6 66.8h0M596.0 82.9h0M564.6 114.2h0M544.8 131.9h0M584.9 121.5h0M543.0 145.2h0M574.9 82.8h0M450.9 96.5h0M604.3 78.9h0M463.1 206.2h0M603.6 84.1h0M541.0 139.6h0M567.1 118.4h0M588.6 67.5h0M566.8 123.6h0M574.4 119.9h0M482.8 145.7h0M597.7 79.7h0M588.0 82.1h0M494.6 134.0h0M553.1 61.2h0M553.2 65.2h0M510.9 173.0h0M570.0 116.1h0M620.8 56.2h0M568.6 113.1h0M562.0 85.0h0M497.2 183.9h0M589.4 118.8h0M576.5 102.9h0M610.2 57.6h0M615.9 70.2h0M572.9 111.5h0M599.6 85.5h0M573.9 136.2h0M547.6 119.5h0M497.4 189.7h0M554.4 109.5h0M576.6 104.2h0M576.3 81.6h0M493.6 134.9h0M534.6 110.1h0M592.3 101.9h0M577.5 124.6h0M589.2 82.4h0M565.9 68.7h0M466.4 220.4h0M588.1 81.7h0M595.1 86.0h0M492.4 168.2h0M616.3 79.6h0M598.3 89.1h0M506.4 183.2h0M527.1 144.1h0M580.8 75.7h0M553.3 135.8h0M596.5 99.1h0M528.5 133.2h0M560.3 136.7h0M594.8 118.7h0M613.6 65.6h0M515.6 118.1h0M592.4 88.5h0M573.3 78.7h0M601.0 59.3h0M603.8 79.1h0M542.8 131.6h0M568.9 116.6h0M603.8 70.8h0M549.3 141.5h0M545.5 125.0h0M500.9 87.8h0M583.6 132.8h0M591.8 64.1h0M607.9 91.0h0M609.7 81.5h0M587.3 86.8h0M520.6 136.0h0M588.1 101.4h0M614.8 58.9h0M525.4 153.6h0M519.3 141.1h0M571.8 119.1h0M613.7 64.2h0M552.0 114.0h0M572.2 123.3h0M582.7 101.9h0M579.9 90.2h0M450.0 186.3h0M559.0 95.2h0M616.8 49.1h0M605.4 73.5h0M519.7 136.6h0M607.0 89.9h0M591.1 81.7h0M547.8 140.6h0M618.9 59.7h0M560.1 137.4h0M570.1 118.6h0M471.1 199.4h0M514.3 163.4h0M435.8 155.5h0M569.7 103.4h0M566.2 111.7h0M600.4 105.8h0M571.5 98.4h0M558.2 136.6h0M554.0 153.0h0M570.6 107.0h0" stroke="#eacf85"/><path d="M508.6 165.4h0M617.6 73.5h0M493.9 212.4h0M606.7 76.0h0M584.0 77.8h0M588.5 73.9h0M586.4 87.5h0M547.0 126.7h0M602.8 93.2h0M596.9 97.4h0M445.2 155.9h0M572.5 88.9h0M578.5 112.6h0M584.0 122.0h0M566.7 103.9h0M581.3 74.4h0M583.0 111.8h0M535.5 134.4h0M613.8 61.7h0M577.2 113.9h0M499.3 183.0h0M605.9 63.3h0M585.9 114.2h0M555.6 120.9h0M595.8 116.3h0M605.0 83.7h0M591.5 102.7h0M572.7 124.7h0M569.4 115.3h0M550.0 128.0h0M571.9 67.8h0M479.8 155.3h0M609.0 64.0h0M549.8 147.6h0M590.1 83.0h0M572.0 89.9h0M533.1 150.7h0M569.3 116.6h0M603.7 95.6h0M413.8 218.6h0M569.6 130.3h0M506.1 142.2h0M549.6 146.6h0M485.9 215.1h0M620.0 53.4h0M601.2 77.3h0M558.5 149.7h0M577.6 129.8h0M566.4 100.3h0M518.6 152.7h0M515.8 159.9h0M480.8 212.7h0M601.3 86.1h0M544.2 155.9h0M520.4 109.6h0M572.3 127.8h0M485.1 202.2h0M537.1 138.3h0M562.7 132.8h0M608.8 54.3h0M474.9 213.8h0M576.3 111.9h0M516.4 163.6h0M493.6 177.0h0M609.2 65.1h0M541.2 155.3h0M575.6 101.9h0M618.6 63.1h0M552.6 150.1h0M507.5 182.9h0M592.7 104.9h0M483.2 239.6h0M541.0 121.6h0M583.2 112.6h0M575.1 104.0h0M529.4 143.5h0M567.3 136.9h0M558.6 120.5h0M612.7 64.1h0M557.8 122.0h0M577.2 108.0h0M502.0 156.5h0M616.7 57.2h0M570.2 125.5h0M580.5 62.9h0M579.0 123.1h0M570.5 110.4h0M532.6 169.8h0M596.8 51.4h0M571.0 134.8h0M582.4 134.2h0M602.3 50.5h0M603.8 63.7h0M542.7 142.3h0" stroke="#efb26f"/><path d="M546.9 199.5h0M532.8 130.6h0M498.4 150.2h0M524.9 221.4h0M580.6 125.6h0M523.4 138.5h0M533.8 110.5h0M602.8 79.7h0M553.0 107.5h0M583.7 94.8h0M545.0 133.6h0M510.3 170.1h0M527.7 131.9h0M590.3 114.8h0M565.8 137.6h0M482.0 222.8h0M569.5 127.1h0M489.7 187.1h0M555.0 140.7h0M588.4 90.9h0M476.2 144.3h0M617.1 71.5h0M520.2 138.8h0M570.9 105.9h0M429.7 69.9h0M488.2 194.5h0M498.5 189.7h0M497.5 182.8h0M601.8 69.4h0M591.0 56.4h0M605.7 87.8h0M494.0 201.1h0M565.5 122.9h0M491.8 235.1h0M571.0 105.5h0M509.3 170.8h0M602.9 99.9h0M577.5 63.1h0M536.9 175.4h0M609.6 65.6h0M461.6 223.0h0M541.9 131.3h0M525.2 166.2h0M616.6 74.0h0M599.7 64.1h0M571.5 118.3h0M573.6 117.7h0M521.2 163.2h0M602.5 57.1h0M492.5 201.5h0M532.1 149.9h0M519.7 161.2h0M601.5 95.3h0M515.9 113.2h0M564.3 85.7h0M507.4 175.1h0M570.0 107.0h0M581.2 84.6h0M537.5 139.1h0M586.7 104.3h0M594.8 53.0h0M568.1 143.0h0M516.6 171.5h0M539.5 151.0h0M596.0 219.4h0M578.1 107.3h0M571.4 123.4h0M599.0 97.9h0M596.8 108.1h0M580.2 95.1h0M610.0 84.6h0M585.8 108.7h0M509.9 178.7h0M502.3 198.2h0M521.0 185.3h0M560.6 110.9h0M560.3 105.1h0M457.8 183.5h0M486.5 227.4h0M544.9 133.7h0M508.3 170.7h0M546.2 153.8h0M606.2 84.9h0M541.7 141.6h0M604.4 90.4h0M567.8 110.8h0M596.2 68.2h0M553.7 128.5h0M566.6 117.2h0M515.3 164.7h0M490.8 193.2h0M584.4 99.2h0M576.9 108.4h0M532.5 132.1h0M557.3 138.1h0M557.8 103.1h0M563.5 137.1h0M607.6 84.0h0M587.7 113.9h0M544.5 141.2h0M508.4 194.8h0M573.5 136.7h0M557.3 134.3h0M496.3 187.2h0M586.3 120.9h0M568.7 110.7h0M594.1 92.2h0M450.6 198.1h0M534.0 171.7h0M620.4 66.5h0M596.2 77.5h0M582.4 98.9h0M573.3 88.3h0M600.6 61.4h0M598.4 57.5h0M577.8 74.8h0M532.0 162.6h0M556.8 129.9h0M551.3 114.6h0M535.0 145.7h0M563.2 131.3h0M547.6 141.3h0M591.4 122.7h0M623.1 47.6h0M552.2 129.5h0M582.6 83.2h0M589.3 77.4h0M564.5 116.6h0M579.0 117.1h0M592.6 72.8h0M567.6 100.7h0M568.6 136.8h0M552.3 120.1h0M473.2 120.5h0M604.1 81.5h0M512.1 171.4h0M589.2 109.2h0M504.4 197.5h0M578.3 79.9h0M484.5 189.8h0M489.5 200.0h0M527.8 102.4h0M582.4 80.7h0M563.6 121.1h0M618.1 94.9h0M521.1 163.3h0M596.0 90.1h0M527.5 119.3h0M595.3 116.3h0M502.4 189.5h0M519.2 122.9h0M596.7 136.4h0M508.8 178.1h0M589.4 108.5h0M600.6 93.7h0M606.3 77.2h0M588.0 101.3h0M583.2 115.7h0M589.9 82.3h0M581.4 66.4h0M436.1 241.1h0M605.3 48.2h0M528.9 149.0h0M586.0 93.8h0M566.2 114.8h0M560.0 134.4h0M585.6 128.3h0M546.4 108.6h0M463.5 115.6h0M474.7 182.3h0M492.6 188.4h0M533.3 136.6h0M491.2 198.2h0M575.9 71.7h0" stroke="#eca262"/><path d="M569.0 126.0h0M541.9 135.3h0M516.6 128.0h0M573.5 119.5h0M563.5 135.7h0M575.5 140.6h0M524.9 175.9h0M599.7 107.1h0M604.5 60.8h0M564.8 104.0h0M520.0 165.5h0M572.6 105.0h0M570.5 123.2h0M507.2 121.1h0M573.3 129.9h0M554.7 123.6h0M505.3 168.1h0M509.5 156.9h0M589.0 104.2h0M559.7 113.6h0M623.0 57.2h0M493.1 166.5h0M576.3 125.0h0M590.2 96.8h0M578.5 92.7h0M539.3 170.6h0M610.8 70.0h0M576.9 130.0h0M505.0 239.9h0M516.9 171.6h0M616.4 75.2h0M616.7 51.8h0M582.9 128.1h0M454.0 212.2h0M566.8 123.7h0M561.9 133.5h0M587.8 116.3h0M560.2 82.7h0M550.6 150.1h0M564.2 109.3h0M589.4 74.3h0M568.7 111.6h0M555.9 94.5h0M530.8 121.8h0M511.4 146.5h0M503.4 210.2h0M509.1 236.2h0M536.2 166.3h0M502.0 183.5h0M503.7 173.9h0M604.8 73.1h0M526.4 145.5h0M565.8 124.1h0M579.1 114.4h0M592.0 109.6h0M494.6 197.2h0M548.6 151.7h0M596.9 78.3h0M556.8 76.9h0M542.7 136.0h0M619.0 54.7h0M424.0 187.1h0M582.2 77.8h0M491.8 192.0h0M527.6 137.4h0M484.5 186.0h0M564.4 87.2h0M549.1 138.1h0M530.8 165.4h0M589.6 121.6h0M566.0 79.7h0M606.0 85.1h0M472.7 224.7h0M597.6 55.9h0M576.0 124.3h0M591.8 71.3h0M579.1 167.0h0M580.8 118.7h0M508.3 140.3h0M585.7 82.0h0M538.0 150.5h0M561.6 149.1h0M574.3 125.1h0M520.1 135.4h0M568.9 115.2h0M559.5 121.1h0M565.3 139.5h0M553.5 109.3h0M517.1 140.5h0M546.0 122.7h0M588.6 113.3h0M572.9 92.3h0M510.6 165.9h0M583.9 110.2h0M585.7 70.5h0M624.5 90.4h0M519.8 169.7h0M526.4 148.6h0M557.6 125.3h0M448.9 235.9h0M588.8 77.1h0M574.8 111.3h0M599.8 97.3h0M541.7 112.7h0M579.5 153.7h0M584.8 89.6h0M570.3 86.0h0M600.8 90.3h0M571.2 54.0h0M491.6 188.9h0M596.7 90.4h0M592.2 94.2h0M572.5 143.3h0M534.7 160.7h0M594.1 77.0h0M508.5 205.2h0M483.0 204.2h0M545.6 160.4h0M515.7 155.1h0M601.7 84.5h0M507.9 123.9h0M454.5 235.1h0M599.2 69.5h0M564.5 127.8h0M581.7 60.3h0M556.0 144.2h0M568.8 105.8h0M584.7 87.3h0M441.1 175.8h0M595.0 106.6h0M584.2 108.5h0M484.6 125.0h0M539.3 114.2h0M592.4 111.2h0M512.1 166.3h0M580.3 80.0h0M589.6 126.9h0M605.0 114.3h0M608.3 82.5h0M615.3 58.0h0M580.8 135.1h0M534.3 141.6h0M578.4 104.1h0M573.9 126.8h0M593.0 87.8h0M612.0 71.9h0M581.6 64.5h0M570.1 101.7h0M585.9 98.1h0M471.1 220.4h0M578.7 128.6h0M597.1 84.2h0M537.7 124.6h0M563.8 136.4h0M599.0 88.4h0M584.1 112.3h0M574.1 134.4h0M571.9 115.5h0M504.8 171.8h0M565.5 114.9h0M573.0 113.0h0M508.2 120.6h0M532.1 155.6h0M587.9 213.7h0M575.1 94.1h0M546.4 132.6h0M595.7 94.8h0M491.1 150.2h0M622.0 52.6h0M601.9 85.6h0M496.5 144.4h0M594.5 91.8h0M555.9 132.7h0M575.7 115.5h0M527.7 147.3h0M492.4 192.4h0M512.4 170.5h0M554.6 136.3h0" stroke="#ea8f54"/><path d="M546.5 131.3h0M541.0 128.2h0M551.1 126.1h0M535.3 146.5h0M546.8 134.8h0M499.0 153.6h0M615.5 53.7h0M604.8 68.0h0M585.5 121.6h0M578.5 94.9h0M564.0 113.9h0M507.3 157.3h0M566.0 134.0h0M508.0 212.4h0M597.0 99.0h0M568.9 78.8h0M593.2 119.6h0M573.6 103.9h0M565.9 115.1h0M562.6 135.0h0M591.9 60.3h0M570.5 128.1h0M486.1 197.8h0M604.1 97.9h0M486.1 189.8h0M597.9 96.9h0M579.5 116.2h0M557.3 130.5h0M502.6 128.4h0M457.7 240.1h0M591.3 133.3h0M507.1 151.5h0M557.6 116.9h0M573.3 133.0h0M517.5 143.7h0M605.1 78.5h0M584.1 103.1h0M556.5 119.3h0M514.1 156.6h0M609.3 67.9h0M552.0 46.5h0M600.5 99.9h0M604.8 71.2h0M572.3 135.8h0M562.0 137.1h0M587.6 94.3h0M570.1 135.0h0M571.1 115.0h0M585.6 99.9h0M537.2 163.5h0M507.4 159.7h0M572.6 127.8h0M562.3 119.4h0M595.5 54.8h0M444.5 232.2h0M519.7 160.5h0M611.3 71.6h0M572.7 111.2h0M491.0 193.7h0M579.3 95.4h0M580.1 104.0h0M515.3 163.6h0M573.9 87.9h0M569.6 84.0h0M587.1 124.5h0M581.7 80.5h0M595.4 63.3h0M609.8 73.0h0M572.4 109.8h0M571.9 140.6h0M563.2 142.7h0M568.5 139.4h0M503.9 162.2h0M513.7 177.1h0M605.4 85.8h0M594.8 117.3h0M481.8 235.7h0M609.4 61.9h0M569.5 107.5h0M621.7 62.7h0M533.7 145.3h0M582.4 87.9h0M609.9 61.4h0M534.5 147.0h0M536.4 113.2h0M597.3 65.8h0M569.5 120.4h0M614.4 68.5h0M554.3 154.3h0M469.6 155.8h0M569.2 104.1h0M450.9 235.0h0M591.0 77.6h0M559.0 142.6h0M556.0 104.1h0M509.2 168.3h0M579.6 79.8h0M556.3 89.4h0M526.8 222.6h0M593.3 96.3h0M504.2 127.3h0M521.3 182.1h0M585.8 106.0h0M563.4 146.9h0M549.6 95.8h0M526.0 176.6h0M470.3 237.3h0M579.4 64.1h0M602.4 66.7h0M576.5 77.6h0M580.5 126.0h0M497.5 190.7h0M555.9 159.1h0M548.7 123.7h0M581.2 87.8h0M554.1 114.9h0M602.1 52.7h0M529.8 173.4h0" stroke="#e77d46"/><path d="M497.5 88.8h0M568.0 116.3h0M581.0 156.3h0M444.2 153.7h0M514.1 163.3h0M519.1 145.4h0M620.2 86.4h0M510.0 206.7h0M468.7 220.1h0M587.8 78.5h0M464.6 217.3h0M588.7 191.5h0M600.5 86.4h0M529.8 165.4h0M562.2 108.9h0M543.6 137.8h0M556.3 140.5h0M597.8 78.0h0M573.0 149.0h0M609.0 75.5h0M577.2 134.0h0M612.4 71.2h0M496.6 196.3h0M522.4 193.2h0M571.2 108.9h0M503.0 180.5h0M607.9 92.0h0M576.4 155.5h0M589.4 65.2h0M603.4 69.8h0M602.8 84.0h0M600.6 83.2h0M568.5 217.5h0M505.4 88.5h0" stroke="#e04026"/><path d="M579.1 220.9h0M591.0 92.4h0M486.0 124.6h0M619.6 67.9h0M555.7 150.9h0M611.0 69.2h0M593.9 53.3h0M591.3 76.1h0M477.1 214.9h0M584.5 71.0h0M559.8 138.7h0M569.2 82.5h0M517.5 127.0h0M535.6 133.4h0M472.1 208.8h0M495.7 145.0h0M598.3 90.4h0M488.3 155.5h0M552.8 156.2h0M597.6 69.9h0M487.5 118.3h0M471.5 219.0h0M598.0 51.9h0M598.6 104.4h0M516.2 236.8h0M542.8 123.6h0M549.8 226.7h0M521.7 148.9h0M533.3 174.8h0M576.2 122.7h0M585.6 103.1h0M506.5 183.0h0M498.0 184.5h0M585.3 171.1h0M569.1 113.6h0M532.7 118.2h0M564.4 119.3h0M571.5 101.7h0M574.4 107.9h0M563.0 49.1h0M518.4 146.3h0M598.1 119.3h0M558.1 223.5h0M569.4 106.6h0M516.0 164.9h0M587.8 157.8h0M554.0 93.0h0M496.0 234.5h0M519.3 175.1h0M534.7 134.6h0M571.7 89.8h0M565.3 127.8h0M576.7 228.9h0M593.0 75.4h0M562.7 97.0h0M524.3 167.8h0M532.1 165.8h0M559.4 155.0h0M542.1 151.7h0M537.2 153.9h0M547.1 141.0h0M473.1 224.6h0M482.3 212.4h0M485.9 194.2h0M557.0 148.7h0M596.9 85.2h0M602.6 187.9h0M539.2 221.6h0M587.1 188.3h0M581.6 94.9h0M513.2 195.2h0M552.3 123.7h0M480.3 218.3h0M490.8 207.2h0M543.4 133.4h0M578.8 116.1h0M564.4 125.2h0M541.5 149.1h0M587.7 207.1h0M558.1 218.2h0M617.1 57.9h0M548.7 124.3h0M587.9 86.3h0M531.4 140.1h0M580.7 87.9h0M540.1 121.1h0M494.3 167.1h0M487.8 135.4h0M586.0 95.6h0M550.5 99.8h0M583.9 174.8h0M596.1 77.3h0M603.5 92.4h0M558.4 121.8h0M523.1 153.6h0M533.4 213.1h0M513.8 163.4h0M501.0 175.3h0M555.5 153.9h0M570.4 169.6h0M485.1 205.7h0" stroke="#e02c1a"/><path d="M505.4 149.4h0M584.6 133.0h0M534.2 154.0h0M563.3 92.3h0M571.8 125.8h0M553.5 151.9h0M500.0 159.8h0M579.5 133.0h0M574.8 127.4h0M579.3 217.1h0M595.1 59.4h0M546.7 162.8h0M595.2 86.2h0M566.3 137.3h0M499.6 181.0h0M588.2 122.1h0M547.0 158.5h0M564.6 146.9h0M521.8 164.7h0M532.4 117.7h0M600.5 77.7h0M605.3 149.4h0M518.1 176.9h0M519.5 158.6h0M509.0 121.5h0M607.4 63.8h0M460.4 183.2h0M602.3 51.2h0M460.5 166.2h0M607.4 65.6h0M505.1 179.6h0M567.6 208.3h0M594.9 177.2h0M555.0 202.3h0M460.2 227.3h0M578.1 83.9h0M493.6 195.7h0M609.9 49.2h0M565.3 106.3h0M607.2 48.4h0M519.2 120.4h0M520.8 121.0h0M538.9 169.7h0M583.0 80.6h0M573.4 117.7h0M496.7 231.6h0M584.8 92.7h0M563.0 85.4h0M551.8 132.6h0M604.3 68.9h0M545.2 119.1h0M547.5 137.8h0M512.8 178.2h0M583.6 93.1h0M496.1 194.0h0M520.1 172.6h0M500.8 125.8h0M544.1 136.2h0M582.9 195.7h0M517.2 156.9h0M549.6 105.5h0M544.8 128.5h0M536.3 133.7h0M535.0 171.9h0M534.2 122.7h0M567.4 114.8h0M463.4 225.2h0M600.2 136.0h0M528.0 160.8h0M556.4 139.4h0M541.9 134.3h0M427.7 229.9h0M581.5 127.3h0M624.4 95.2h0M604.4 166.1h0M497.8 175.4h0M450.2 223.2h0M465.8 221.5h0M607.8 66.1h0M608.2 51.0h0M491.2 177.3h0M462.5 228.2h0M481.4 205.1h0M615.8 91.7h0M580.7 120.2h0M450.7 148.1h0M613.4 67.1h0M512.7 171.9h0M520.6 148.0h0M581.9 63.5h0M530.3 136.9h0M509.1 143.9h0M569.2 82.9h0M489.8 172.4h0M562.9 115.7h0M528.7 132.5h0M581.8 123.0h0M522.2 174.7h0M596.8 178.2h0M584.5 78.0h0M444.4 228.6h0M599.2 115.4h0M521.3 162.6h0M519.5 174.6h0M573.5 126.4h0M534.8 160.6h0M524.3 165.9h0M572.4 140.5h0M606.1 97.0h0M507.6 125.8h0M587.1 90.4h0M549.8 150.1h0M466.3 234.3h0M581.9 105.3h0M621.7 49.8h0M597.4 189.8h0M617.5 108.0h0M612.8 71.3h0M512.0 173.4h0M552.2 145.8h0M528.4 142.2h0M533.5 124.2h0M493.5 182.1h0M456.3 193.4h0M520.9 163.8h0M503.7 178.6h0M556.1 143.1h0M501.0 177.8h0M521.7 138.4h0M537.3 238.2h0M490.4 196.5h0M583.3 89.5h0M566.2 112.0h0M456.2 219.4h0M547.6 206.7h0M580.0 84.3h0M588.7 217.0h0M541.7 130.9h0M529.8 137.4h0M572.3 106.0h0M592.9 84.0h0M580.4 130.6h0M519.9 140.4h0M577.7 91.3h0M563.8 210.8h0M529.2 220.3h0M491.5 154.5h0M602.0 102.0h0M494.3 194.3h0M625.5 148.8h0M614.0 70.8h0M487.9 123.6h0M500.0 185.5h0" stroke="#e0180c"/><path d="M608.3 212.4h0M586.7 206.9h0M558.9 233.6h0M582.3 207.3h0M620.9 172.0h0M588.0 211.8h0M607.8 188.9h0M572.1 219.8h0M628.8 165.7h0M606.3 208.7h0M592.4 228.0h0M617.7 176.0h0M520.9 207.0h0M603.3 193.6h0M572.9 219.6h0M622.1 167.2h0M598.1 210.8h0M614.4 152.0h0M622.5 172.8h0M562.6 202.2h0M581.0 219.1h0M620.0 174.9h0M620.6 183.9h0M558.0 231.4h0M626.8 179.1h0M614.4 197.7h0M596.7 204.7h0M612.8 197.1h0M602.9 195.2h0M632.3 71.6h0M623.7 180.3h0M623.1 146.5h0M570.3 228.3h0M560.3 220.5h0M600.7 201.7h0M626.0 198.3h0M616.0 164.4h0M555.1 239.9h0M543.6 222.2h0M607.7 202.8h0M587.3 173.7h0M592.4 201.2h0M572.6 222.0h0M622.4 173.5h0M595.9 177.1h0M583.0 227.7h0M558.6 237.6h0M567.7 221.1h0M569.4 218.4h0M592.2 213.3h0M609.5 201.2h0M624.7 164.6h0M632.2 155.2h0M534.3 234.6h0M559.5 235.3h0M620.5 180.1h0M619.8 188.8h0M569.2 222.9h0M615.1 191.4h0M583.3 206.6h0M573.7 212.9h0M613.0 181.5h0M620.2 180.4h0M603.8 190.1h0M522.8 231.5h0M548.0 228.4h0M577.2 216.9h0M564.8 213.9h0M592.9 202.8h0M627.8 162.6h0M615.9 179.0h0M605.5 189.0h0M591.3 202.8h0M629.1 169.2h0M594.8 188.4h0M610.0 183.3h0M623.1 176.5h0M572.5 224.5h0M559.4 234.8h0M565.0 231.0h0M587.7 201.5h0M596.6 205.8h0M621.1 164.7h0M577.0 231.3h0M618.1 147.6h0M627.4 169.4h0M561.2 233.7h0M580.3 230.7h0M564.2 234.5h0M539.7 216.3h0M619.8 181.2h0M592.8 203.7h0M618.2 177.0h0M603.8 197.7h0M612.1 194.4h0M601.4 202.5h0M585.0 224.8h0M612.9 180.9h0M597.7 191.1h0M619.0 193.3h0M594.2 203.6h0M598.8 196.1h0M575.2 213.6h0M570.2 222.3h0M563.3 233.7h0M600.7 193.5h0M525.3 234.1h0M572.3 216.3h0M503.3 235.6h0M602.4 207.6h0M538.7 214.7h0M571.0 220.3h0M604.2 157.7h0M582.1 209.1h0M554.1 240.8h0M608.8 184.9h0M611.3 190.7h0M631.0 92.1h0M594.6 202.3h0M588.0 205.1h0M602.5 189.9h0M586.8 202.9h0M588.3 193.7h0M610.8 192.7h0M570.4 229.0h0M589.6 198.5h0M587.7 208.6h0M592.2 176.4h0M585.4 206.3h0M597.4 205.1h0M580.1 210.5h0M558.8 232.0h0M604.3 193.2h0M577.7 219.8h0M622.5 177.9h0M562.7 225.5h0M573.0 227.7h0M613.1 196.0h0M571.4 236.4h0M623.0 188.9h0M578.8 223.0h0M597.2 203.9h0M592.8 209.3h0M587.3 191.0h0M558.0 239.7h0M624.9 186.9h0M574.3 202.0h0M567.6 226.3h0M567.3 225.3h0M563.7 226.3h0M550.9 238.5h0M632.1 88.7h0M617.8 182.0h0M596.8 204.0h0M577.1 235.7h0M618.2 187.2h0M580.8 207.8h0M612.1 181.5h0M570.5 225.0h0M631.5 159.0h0M625.2 163.4h0M581.6 206.8h0M583.0 193.7h0M600.3 183.9h0M565.9 229.2h0M590.3 226.6h0M579.4 208.7h0M555.1 220.6h0M581.5 210.9h0M629.5 181.8h0M629.1 66.7h0M592.3 204.8h0M612.5 182.6h0M595.8 200.7h0M582.1 211.3h0M631.1 169.7h0M528.6 224.4h0M594.1 213.9h0M612.1 194.5h0M614.8 177.4h0M570.5 225.2h0M608.7 199.0h0M585.3 211.3h0M586.0 218.9h0M630.3 90.9h0M587.6 209.1h0M619.3 178.6h0M611.9 149.9h0M567.9 226.5h0M628.2 165.2h0M575.9 221.5h0M585.7 182.0h0" stroke="#6a14f8"/><path d="M584.9 236.4h0M615.3 189.9h0M602.6 204.9h0M619.5 176.1h0M588.4 222.7h0M587.2 214.4h0M629.7 162.6h0M603.0 193.9h0M601.6 194.1h0M617.4 155.0h0M576.3 185.7h0M608.8 202.7h0M609.6 198.3h0M594.7 196.3h0M610.9 157.0h0M588.6 207.9h0M605.5 191.1h0M613.8 189.1h0M559.0 218.6h0M628.6 168.9h0M569.5 219.5h0M599.1 216.7h0M597.7 213.0h0M581.3 218.7h0M609.6 182.6h0M564.8 234.6h0M611.5 200.3h0M570.5 218.1h0M559.9 229.6h0M624.1 182.3h0M573.3 229.5h0M625.9 178.6h0M630.8 161.0h0M581.6 232.0h0M586.4 219.5h0M562.1 234.5h0M632.5 184.3h0M571.3 237.9h0M586.7 208.0h0M605.9 200.8h0M557.7 219.8h0M578.9 226.2h0M575.2 230.0h0M597.1 209.9h0M580.2 215.9h0M629.8 81.7h0M621.7 175.8h0M628.1 171.8h0M612.9 198.1h0M581.8 209.6h0M592.0 199.5h0M607.1 211.8h0M626.4 178.3h0M567.5 228.4h0M585.1 233.6h0M591.7 209.5h0M535.6 218.9h0M629.5 176.1h0M629.3 98.8h0M623.1 192.5h0M570.5 230.6h0M580.8 216.8h0M600.5 202.8h0M584.5 207.5h0M630.3 159.8h0M560.6 222.9h0M569.0 219.8h0M582.4 216.3h0M575.1 189.4h0M600.1 207.1h0M627.3 173.0h0M556.1 240.7h0M629.3 84.4h0M599.5 192.1h0M594.4 221.7h0M582.4 218.5h0M629.2 113.9h0M631.7 176.0h0M628.0 166.4h0M596.5 206.6h0M572.8 232.8h0M584.8 198.2h0M622.8 146.8h0M567.0 237.7h0M589.7 208.9h0M625.4 174.9h0M620.2 181.8h0M625.1 163.5h0M616.2 197.8h0M626.4 170.7h0M606.2 205.6h0M578.4 221.7h0M547.9 214.4h0M579.2 219.5h0M628.9 162.8h0M540.3 229.3h0M600.7 196.8h0M624.7 176.1h0M586.9 234.2h0M599.3 211.1h0M599.2 193.0h0M620.0 199.9h0M579.5 218.9h0M588.3 222.1h0M550.7 218.8h0M611.0 198.9h0M589.2 217.5h0M624.8 185.7h0M628.3 182.0h0M596.8 195.5h0M593.6 213.8h0M605.8 192.2h0M629.8 160.5h0M575.5 242.5h0M608.3 202.2h0M588.1 231.7h0M616.3 187.0h0M571.8 223.2h0M567.6 221.8h0M624.0 192.7h0M608.6 175.7h0M599.6 200.2h0M591.1 218.9h0M550.6 212.4h0M623.8 196.6h0M579.4 219.1h0M630.0 160.6h0M627.5 179.1h0M573.9 194.1h0M549.3 228.1h0M563.0 229.2h0M562.7 232.7h0M601.2 208.8h0M606.8 212.3h0M583.8 205.7h0M617.9 182.1h0M628.6 159.7h0M605.3 194.8h0M608.2 188.5h0M630.2 161.2h0M606.2 203.8h0M596.2 185.3h0M623.9 180.6h0M631.5 87.0h0M599.0 212.1h0M569.2 242.1h0M586.2 216.6h0M573.6 235.6h0M591.4 199.6h0M628.2 178.5h0M631.3 132.8h0M607.6 211.4h0M610.2 194.1h0M588.9 209.4h0M630.9 68.7h0M557.7 228.6h0M610.3 208.7h0M585.3 226.2h0M619.4 192.8h0M583.5 204.9h0M629.1 73.1h0M587.8 214.2h0M571.9 227.8h0M593.8 219.0h0M596.7 213.2h0M572.7 216.5h0M577.9 185.1h0M564.4 200.5h0M546.8 241.9h0M571.0 236.5h0M589.3 207.8h0M612.8 188.6h0M608.0 192.7h0M618.2 214.3h0M578.7 238.6h0M563.1 239.4h0M601.2 196.6h0M578.6 215.7h0M520.9 240.8h0M604.2 193.3h0M579.4 229.4h0M579.8 205.5h0M565.8 240.6h0M595.1 211.7h0M622.4 155.6h0M593.6 215.9h0M574.7 196.8h0M586.3 240.7h0M563.2 241.5h0M625.4 148.7h0M560.2 232.6h0M541.7 228.4h0M614.8 195.7h0M599.8 201.2h0M604.2 209.0h0M600.3 203.5h0M610.9 211.2h0M586.7 178.6h0M574.3 227.5h0M597.5 195.3h0M616.5 174.8h0M625.1 152.1h0M594.0 218.2h0M592.1 180.7h0M607.3 201.6h0M593.9 206.5h0" stroke="#5b2df8"/><path d="M612.6 197.8h0M580.5 241.2h0M604.5 202.0h0M589.8 207.8h0M606.3 192.3h0M627.4 170.4h0M573.4 226.0h0M614.2 196.6h0M564.6 225.3h0M623.9 189.0h0M595.8 231.3h0M579.6 233.3h0M585.4 225.0h0M612.0 201.7h0M601.1 215.2h0M567.1 242.1h0M576.9 186.0h0M604.4 213.7h0M622.7 179.5h0M588.7 216.7h0M599.8 219.1h0M560.0 242.2h0M587.4 224.4h0M621.8 185.3h0M574.8 224.2h0M597.9 216.3h0M576.6 215.9h0M588.1 210.8h0M624.4 196.3h0M601.8 215.3h0M578.5 226.5h0M602.1 210.6h0M588.4 231.5h0M573.1 214.4h0M598.6 189.6h0M609.0 222.7h0M585.1 217.5h0M538.6 241.5h0M579.6 236.2h0M619.1 194.4h0M548.6 242.5h0M616.6 193.2h0M600.3 224.9h0M579.9 227.8h0M628.1 184.5h0M598.3 209.1h0M614.6 194.1h0M580.9 218.2h0M605.5 207.7h0M573.8 235.1h0M575.4 238.2h0M606.1 196.4h0M593.8 220.6h0M571.0 228.8h0M607.3 215.8h0M590.5 226.7h0M564.9 223.2h0M580.5 229.4h0M585.9 186.4h0M598.1 200.7h0M575.6 241.6h0M615.4 195.6h0M537.2 193.0h0M562.9 226.6h0M598.2 202.2h0M613.9 206.8h0M612.7 201.8h0M617.1 181.7h0M621.7 188.0h0M583.2 205.8h0M624.9 193.2h0M579.5 181.3h0M625.8 185.5h0M596.5 206.8h0M610.6 205.6h0M631.4 196.6h0M604.3 209.8h0M582.6 227.6h0M572.6 221.6h0M567.0 226.9h0M608.2 193.4h0M590.7 235.1h0M568.5 229.1h0M604.5 194.8h0M574.9 233.2h0M594.7 197.5h0M598.3 228.7h0M581.7 215.8h0M612.3 191.1h0M573.7 238.0h0M560.0 233.3h0M584.4 230.0h0M591.9 218.0h0M624.4 187.1h0M588.4 224.4h0M600.2 216.2h0M612.5 195.3h0M615.4 180.0h0M576.5 221.9h0M590.0 212.7h0M632.3 175.5h0M598.7 218.1h0M566.5 231.6h0M587.0 226.5h0M608.3 201.3h0M533.3 220.5h0M600.0 195.2h0M601.7 204.2h0M609.2 206.6h0M566.6 222.9h0M566.6 235.6h0M582.5 238.1h0M549.9 235.1h0M582.0 230.1h0M557.6 238.4h0M615.6 180.4h0M571.7 216.4h0M594.4 213.9h0M598.7 175.1h0M610.2 192.5h0M590.5 223.5h0M610.2 185.8h0M589.0 223.8h0M600.4 168.4h0M578.0 235.4h0M585.7 231.2h0M572.7 208.1h0M593.7 198.2h0M541.8 209.0h0M575.2 225.6h0M586.6 239.6h0M608.2 194.3h0M590.6 229.2h0M629.1 167.5h0M577.4 242.3h0M570.8 223.8h0M614.8 197.6h0M613.4 190.3h0M614.6 208.2h0M603.0 205.2h0M513.0 211.4h0M584.8 212.5h0M596.9 203.5h0M583.5 221.1h0M601.2 224.4h0M626.5 187.1h0M601.7 211.3h0M627.2 167.3h0M559.8 240.5h0M588.9 230.2h0M578.5 217.3h0M628.1 182.2h0M615.3 197.0h0M615.5 204.8h0M627.8 168.8h0M560.7 239.9h0M626.5 180.7h0M625.7 188.9h0M595.3 220.2h0M585.2 228.7h0M599.7 219.1h0M577.5 228.3h0M620.2 190.8h0M616.6 200.3h0M606.8 198.0h0M627.7 183.7h0M598.0 203.8h0" stroke="#4f47f8"/><path d="M611.3 215.8h0M606.4 211.2h0M620.8 195.1h0M580.8 222.4h0M611.3 206.5h0M602.5 234.3h0M601.7 234.2h0M622.2 193.4h0M588.3 218.0h0M589.7 238.8h0M582.6 217.0h0M614.0 204.2h0M598.6 196.9h0M605.4 191.1h0M579.2 216.7h0M571.9 238.6h0M623.4 197.5h0M628.0 173.2h0M604.3 228.8h0M609.3 209.8h0M597.8 218.5h0M628.8 169.9h0M565.0 238.6h0M629.7 186.9h0M611.8 205.0h0M617.8 202.3h0M610.4 198.1h0M621.4 183.4h0M592.6 220.1h0M617.0 210.5h0M611.0 197.9h0M612.8 219.4h0M603.7 202.4h0M599.2 226.5h0M563.2 233.7h0M611.9 215.5h0M623.5 195.0h0M571.7 237.8h0M612.9 193.9h0M630.1 202.4h0M616.2 209.8h0M599.7 226.7h0M612.9 194.1h0M617.6 205.8h0M592.4 230.9h0M593.1 204.0h0M565.2 223.3h0M598.6 223.8h0M603.0 216.5h0M582.0 224.2h0M562.2 238.6h0M557.2 237.8h0M624.6 184.1h0M604.3 227.9h0M607.6 226.7h0M616.7 202.6h0M589.8 217.7h0M590.9 233.3h0M559.5 238.4h0M621.7 201.9h0M616.1 214.9h0M614.2 193.6h0M583.5 228.8h0M626.9 193.4h0M606.1 212.6h0M605.5 218.7h0M610.2 215.7h0M616.5 209.0h0M608.8 224.5h0M625.1 194.4h0M611.4 223.5h0M629.9 191.7h0M598.4 225.1h0M569.4 242.5h0M594.0 225.1h0M625.4 196.4h0M576.1 234.3h0M609.5 206.1h0M571.0 239.1h0M629.2 187.6h0M585.9 232.8h0M605.3 207.0h0M575.5 226.5h0M580.6 239.2h0M629.7 184.3h0M609.4 200.2h0M613.9 193.3h0M613.6 182.6h0M609.1 212.2h0M589.4 241.4h0M595.1 228.8h0M609.0 209.9h0M561.8 229.1h0M627.5 201.0h0M558.8 222.1h0M630.0 183.9h0M565.2 236.3h0M575.2 235.5h0M584.1 239.5h0M602.9 214.9h0M619.8 209.6h0M573.9 240.5h0M605.0 205.7h0M554.0 201.8h0M622.7 179.8h0M617.7 199.9h0M580.7 217.0h0M610.3 222.5h0M586.3 232.0h0M588.4 227.9h0M612.4 211.7h0M597.5 236.1h0M631.8 185.6h0M567.5 236.0h0M565.9 239.4h0M597.5 209.5h0M617.5 190.5h0M607.8 209.8h0M595.0 226.7h0M595.9 238.3h0M571.8 231.4h0M581.1 234.5h0M628.9 190.2h0M603.2 213.1h0M605.6 207.8h0M617.6 166.0h0" stroke="#4a64f8"/><path d="M574.7 198.8h0M630.5 185.5h0M611.1 222.0h0M620.4 214.4h0M619.9 209.3h0M598.8 237.4h0M585.7 239.3h0M579.0 229.7h0M624.8 204.2h0M587.2 230.9h0M623.0 202.5h0M585.3 214.3h0M613.8 228.9h0M623.4 191.7h0M630.8 206.0h0M621.0 211.4h0M604.9 223.9h0M611.9 207.5h0M587.5 225.0h0M582.6 241.3h0M613.1 219.5h0M604.0 224.4h0M611.2 224.3h0M602.5 224.4h0M601.6 221.3h0M596.4 235.6h0M627.6 191.3h0M625.6 199.7h0M600.6 229.0h0M604.2 223.6h0M625.2 217.9h0M609.8 170.3h0M597.9 233.5h0M597.3 228.6h0M601.3 223.6h0M602.5 220.9h0M631.3 184.4h0M591.3 227.5h0M609.4 234.7h0M555.6 215.2h0M628.8 145.5h0M618.0 209.9h0M611.2 214.7h0M586.9 242.4h0M605.7 221.2h0M587.8 229.3h0M590.7 180.5h0M600.1 239.4h0M618.8 209.1h0M598.4 231.6h0M591.9 226.9h0M627.9 204.5h0M591.7 227.7h0M607.0 189.2h0M571.6 234.9h0M579.5 224.7h0M619.7 188.9h0M628.7 199.0h0M606.5 198.6h0M617.0 213.9h0M588.8 233.3h0M624.0 208.8h0M578.4 238.0h0M606.6 224.1h0M614.2 201.6h0M612.7 208.2h0M631.4 183.0h0M631.1 120.0h0M611.3 209.7h0M561.9 195.1h0M577.2 229.8h0M628.6 200.7h0M616.1 189.7h0M601.0 220.4h0M613.0 225.4h0M621.5 209.8h0M624.7 190.2h0M586.3 232.4h0M605.7 214.4h0M565.5 240.7h0M628.4 188.3h0M620.0 210.8h0M552.7 240.9h0M599.4 242.3h0M625.7 183.5h0M631.6 176.7h0M624.3 195.6h0M617.4 212.5h0M602.4 181.3h0M599.2 241.6h0M595.5 229.6h0M586.6 181.8h0M620.6 193.7h0M611.1 204.3h0M625.0 198.5h0M589.0 233.9h0M624.7 192.7h0M591.2 230.6h0M601.6 212.7h0M583.2 234.1h0M616.1 218.5h0M595.2 238.0h0M620.6 201.1h0M611.6 210.5h0M607.2 211.1h0M621.2 199.1h0M594.1 234.1h0M540.8 241.3h0M605.0 222.9h0" stroke="#4b79f7"/><path d="M629.4 201.7h0M575.8 242.0h0M611.2 228.3h0M610.1 225.8h0M588.4 238.1h0M629.9 203.2h0M592.3 242.5h0M601.3 232.7h0M598.1 228.1h0M603.8 220.1h0M595.2 236.7h0M596.0 239.6h0M592.6 234.8h0M607.1 215.5h0M566.4 241.8h0M611.9 218.8h0M620.1 213.9h0M526.9 206.2h0M617.2 204.2h0M615.9 217.5h0M535.3 198.7h0M605.6 222.7h0M629.5 197.0h0M631.5 207.6h0M615.4 220.0h0M605.0 233.5h0M592.7 241.8h0M593.6 234.6h0M598.2 235.8h0M619.8 210.7h0M610.4 233.3h0M599.6 219.0h0M602.8 225.9h0M616.2 211.7h0M612.9 232.1h0M620.3 210.8h0M589.3 242.5h0M632.2 58.4h0M594.4 230.3h0M616.4 208.6h0M626.4 203.5h0M627.5 202.5h0M616.1 211.9h0M623.8 203.7h0M572.1 191.4h0M574.5 241.3h0M617.6 212.0h0M589.5 184.8h0M631.2 199.1h0M607.6 230.9h0M612.7 229.5h0M631.8 187.8h0M608.5 225.9h0M616.1 217.1h0M618.3 216.6h0M600.9 227.0h0M610.2 219.1h0M547.3 236.1h0M606.0 231.4h0M631.3 205.2h0M594.2 237.7h0M610.7 221.2h0M627.1 203.3h0M585.6 236.2h0M559.3 228.8h0M616.6 217.4h0M629.0 209.1h0M572.3 238.1h0M618.4 218.5h0M610.0 227.3h0M605.7 226.3h0" stroke="#4f89f4"/><path d="M631.7 208.0h0M597.9 224.4h0M602.5 237.9h0M626.1 200.4h0M588.1 241.9h0M595.7 239.8h0M604.8 234.5h0M600.3 239.9h0M629.6 204.9h0M624.8 209.3h0M610.8 219.5h0M574.2 239.8h0M624.2 218.2h0M618.3 217.2h0M627.9 198.7h0M616.6 223.1h0M603.0 235.7h0M610.3 238.0h0M626.6 217.0h0M609.5 227.5h0M617.4 223.5h0M599.8 226.9h0M621.8 224.2h0M627.9 203.2h0M624.8 217.8h0M618.7 220.8h0M632.0 195.6h0M610.8 227.6h0M592.4 240.6h0M621.0 204.1h0M608.9 224.7h0M627.8 203.0h0M602.1 233.3h0M627.7 213.3h0M612.2 226.7h0M605.8 239.6h0M628.8 215.0h0M609.5 220.3h0M582.0 240.5h0M619.7 208.5h0M610.5 233.1h0M607.9 236.4h0M621.5 219.1h0M616.4 221.6h0M628.8 201.3h0M622.4 218.7h0M626.6 211.8h0M618.6 225.6h0M593.8 236.0h0M616.0 232.1h0M608.6 240.2h0M624.7 203.1h0M598.9 228.7h0M596.7 237.5h0M618.8 216.1h0M607.5 240.2h0M613.0 217.8h0M629.3 209.1h0" stroke="#569af2"/><path d="M618.3 217.8h0M620.4 221.6h0M622.0 219.7h0M623.2 219.9h0M630.2 206.2h0M594.6 240.4h0M616.8 224.6h0M618.5 222.8h0M621.0 224.7h0M623.2 223.6h0M618.8 220.0h0M598.8 231.5h0M603.4 237.8h0M617.1 226.3h0M630.2 207.5h0M607.9 229.4h0M628.1 204.3h0M613.5 230.0h0M614.3 229.0h0M630.5 212.6h0M604.3 239.8h0M606.0 227.1h0M603.1 240.8h0M608.5 226.3h0M630.4 212.5h0M631.5 213.0h0M610.5 233.7h0M615.3 233.2h0M620.5 220.9h0M616.5 214.5h0M607.2 239.9h0M626.0 204.9h0M603.4 233.1h0M607.1 232.7h0M623.5 224.5h0M603.1 239.1h0M609.8 232.6h0M611.6 235.1h0M626.0 220.5h0M632.1 209.9h0M629.0 208.5h0M618.2 223.2h0M615.8 232.3h0M600.5 236.2h0" stroke="#5daaf0"/><path d="M618.3 229.2h0M607.1 228.1h0M614.8 229.7h0M618.6 230.5h0M618.8 230.4h0M603.1 238.4h0M630.2 214.3h0M631.9 208.0h0M615.4 222.8h0M612.0 231.5h0M629.3 217.3h0M620.5 220.8h0M626.2 212.3h0M620.1 219.7h0M607.4 240.7h0M611.1 237.4h0M598.6 242.4h0M630.2 214.9h0" stroke="#64b7ed"/><path d="M614.8 228.8h0M630.8 215.4h0M570.9 180.2h0M571.3 170.3h0M598.7 115.5h0M536.7 204.7h0M602.6 137.6h0M613.1 231.2h0M543.8 166.4h0M610.7 237.5h0M451.9 231.9h0M598.8 137.5h0M497.6 196.5h0M625.3 210.5h0M568.3 143.9h0M613.0 233.6h0M629.8 214.2h0M630.5 212.3h0M618.6 97.2h0M623.2 220.7h0" stroke="#6bc4e9"/><path d="M535.1 162.9h0M607.1 111.2h0M564.6 160.4h0M617.4 92.4h0M584.5 151.2h0M576.9 208.9h0M612.2 104.1h0M541.7 178.1h0M562.8 165.3h0M548.2 182.5h0M544.4 141.9h0M597.5 188.3h0M563.5 199.6h0M630.7 208.4h0M602.7 110.3h0M610.2 130.3h0M583.5 173.4h0M603.7 119.4h0M621.9 105.6h0M593.9 121.9h0M592.6 158.5h0M538.3 230.0h0M573.4 160.8h0M541.2 200.2h0M541.6 183.7h0M512.3 156.0h0M576.6 140.9h0M531.0 188.8h0M476.6 205.2h0M448.3 233.3h0M601.1 135.0h0M614.7 119.3h0M557.8 187.1h0M590.1 169.7h0M432.1 186.0h0M492.9 226.4h0M606.8 101.4h0M547.0 196.4h0M553.1 194.2h0M622.7 63.7h0M609.8 124.2h0M622.1 69.7h0M553.5 228.5h0M614.0 159.8h0M553.3 166.1h0M617.7 85.9h0M520.1 194.6h0M531.2 195.8h0M618.7 100.4h0M602.9 111.5h0M595.2 156.9h0M584.6 164.8h0M517.4 168.0h0M595.4 136.5h0M539.9 167.5h0M603.6 124.2h0M588.7 141.1h0M575.3 144.0h0M591.9 146.6h0M540.1 164.8h0M619.2 104.4h0M602.4 130.3h0M524.2 159.9h0M541.4 232.1h0M613.3 86.7h0M592.2 158.6h0M602.4 110.7h0M556.6 171.5h0M607.1 91.3h0M467.2 181.3h0M544.3 192.0h0M621.8 86.8h0M546.5 188.8h0M539.3 179.1h0M561.0 189.5h0M507.4 175.0h0M600.5 148.8h0M582.9 173.0h0M553.2 195.6h0M557.9 155.0h0M605.7 98.3h0M605.0 127.8h0M601.1 126.9h0M599.4 115.7h0M622.1 72.1h0M547.5 168.2h0M546.1 143.1h0M618.7 88.4h0M579.5 132.5h0M587.1 148.0h0M590.7 135.0h0M479.0 209.4h0M575.1 151.9h0M618.1 222.6h0M573.8 156.7h0M570.7 160.4h0M574.1 166.8h0M577.7 162.6h0M622.7 64.8h0M557.5 187.4h0M598.1 135.2h0M515.8 186.1h0M621.8 100.5h0M606.6 107.8h0M609.0 117.8h0M491.9 174.7h0M418.6 204.5h0M530.3 156.2h0M558.1 185.0h0M584.7 151.0h0M564.7 171.8h0M547.7 183.9h0M547.8 168.4h0M622.2 96.8h0M574.9 138.6h0M545.1 159.3h0M546.6 178.2h0M582.3 130.1h0M544.6 162.8h0M561.2 171.3h0M552.9 198.2h0M499.8 234.1h0M604.1 115.3h0M615.0 115.1h0M609.6 130.9h0M613.9 118.5h0M512.2 208.2h0M579.9 171.6h0M601.3 135.0h0M622.5 88.8h0M564.4 187.7h0M557.8 174.3h0M592.1 147.7h0M559.3 161.2h0M470.4 169.4h0M584.0 138.8h0M549.3 201.0h0M562.5 181.2h0M519.3 158.6h0M535.1 159.7h0M546.6 159.4h0M592.8 137.8h0M484.5 208.7h0M600.1 136.5h0M621.9 95.0h0M607.3 93.4h0M612.3 87.2h0M508.9 175.0h0M576.1 158.7h0M561.6 167.9h0M523.2 180.7h0M628.1 219.0h0M523.4 194.9h0M529.6 186.8h0M528.3 217.1h0M553.1 216.0h0M614.5 112.4h0M514.9 167.6h0M556.9 195.6h0M502.8 172.0h0M587.2 135.5h0M608.2 138.5h0M573.4 161.0h0M619.3 157.3h0M595.1 179.5h0M589.9 154.8h0M549.5 160.8h0M620.7 96.7h0M571.9 177.2h0M547.7 213.7h0M570.3 188.5h0M555.7 178.3h0M612.7 109.4h0M558.8 191.8h0M588.3 150.1h0M610.9 103.2h0M570.1 172.8h0M619.3 84.2h0M564.8 143.1h0M574.0 153.3h0M555.3 178.6h0M582.5 160.6h0M522.8 189.7h0M580.2 171.3h0M609.2 108.9h0M619.9 104.4h0M620.5 77.4h0M561.2 173.0h0M590.9 139.8h0M577.8 168.1h0M603.4 132.9h0M550.7 173.1h0M621.8 84.7h0M604.9 113.6h0M607.2 112.2h0M613.4 126.9h0M539.5 194.7h0M602.4 105.2h0M575.4 144.5h0M504.9 160.0h0M567.7 157.0h0M535.6 170.5h0M527.4 164.3h0M489.3 142.1h0M558.5 176.2h0M606.0 93.5h0M623.9 83.9h0M610.6 93.3h0M607.8 107.2h0M593.2 145.7h0M534.4 182.7h0M602.9 125.1h0M508.3 166.4h0M550.9 184.8h0M485.9 164.1h0M447.8 194.1h0M448.7 211.6h0M528.2 174.7h0M538.9 177.4h0M545.5 185.0h0M618.5 104.3h0M604.0 110.9h0M573.0 152.1h0M555.4 223.0h0M568.4 174.2h0M587.3 161.1h0M582.8 154.8h0M574.6 152.3h0M530.3 242.3h0M570.1 175.0h0M572.3 162.6h0M468.9 145.7h0M524.1 193.3h0M429.2 99.9h0M621.6 86.0h0M598.6 140.9h0M553.6 196.3h0M594.9 123.7h0M448.7 128.6h0M563.8 172.8h0M604.1 110.4h0M505.3 198.0h0M581.4 152.5h0M575.2 144.4h0M605.6 109.4h0M574.3 159.3h0M548.7 213.8h0M566.9 153.2h0M538.5 176.9h0M557.5 187.6h0M605.9 170.3h0M561.8 190.9h0M563.3 154.2h0M550.9 166.6h0M574.7 154.5h0M507.0 229.8h0M577.0 162.0h0M553.4 169.9h0M573.6 173.4h0M517.9 166.8h0M600.2 139.6h0M581.4 155.1h0M515.3 241.0h0M567.1 181.6h0M481.0 194.4h0M567.2 153.6h0M473.4 180.6h0M544.3 166.4h0M555.7 160.7h0M613.0 83.8h0M513.3 232.0h0M602.9 132.9h0M531.4 194.5h0M584.0 141.9h0M576.5 166.2h0M556.7 183.2h0M606.1 104.1h0M515.5 137.4h0M549.2 154.8h0M616.4 89.6h0M619.0 112.6h0M553.9 158.9h0M605.1 185.3h0M548.4 221.8h0M617.2 100.2h0M582.1 151.2h0M446.8 242.2h0M531.4 154.2h0M611.7 118.8h0M584.2 140.6h0M504.2 228.1h0M607.9 92.4h0M613.4 88.9h0M531.9 198.8h0M538.1 191.4h0M554.6 223.1h0M612.7 127.7h0M595.1 144.3h0M539.7 170.2h0M480.2 189.1h0M543.3 167.4h0M529.2 145.3h0M585.7 146.0h0M602.4 120.2h0M601.6 134.7h0M569.5 152.9h0M464.9 231.3h0M621.6 68.6h0M554.4 178.3h0M530.5 227.7h0M543.7 188.2h0M619.6 164.9h0M505.3 164.5h0M606.4 117.1h0M568.2 212.2h0M567.8 158.2h0M490.1 178.8h0M629.8 215.9h0M597.6 134.1h0M559.0 156.9h0M544.2 233.0h0M615.8 85.8h0M577.8 162.2h0M547.8 239.7h0M473.3 221.6h0M494.2 190.1h0M532.5 186.8h0M614.9 116.0h0M584.4 136.4h0M584.9 144.3h0M584.9 147.4h0M516.1 146.9h0M579.6 148.4h0M572.6 166.2h0M605.8 98.7h0M602.4 100.6h0M610.0 121.0h0M608.0 131.8h0M606.6 100.2h0M614.8 80.7h0M608.1 122.0h0M619.5 86.9h0M617.4 110.9h0M589.1 126.5h0M616.9 106.0h0M548.7 167.8h0M597.8 137.2h0M441.3 237.7h0M541.1 202.7h0M611.9 160.8h0M579.1 143.1h0M562.3 199.9h0M563.7 171.4h0M620.3 73.8h0M613.6 125.5h0M573.9 161.5h0M574.2 140.8h0M482.3 225.8h0M530.7 160.0h0M544.9 184.5h0M616.8 229.4h0" stroke="#72d0e2"/><path d="M605.2 136.7h0M517.2 197.9h0M614.2 110.8h0M609.0 136.0h0M519.3 226.0h0M570.2 159.7h0M608.4 139.9h0M581.7 205.2h0M529.0 162.1h0M588.3 187.6h0M611.5 166.0h0M493.8 154.8h0M497.7 207.6h0M610.8 180.7h0M611.3 130.5h0M556.0 183.7h0M572.2 152.3h0M610.3 93.4h0M550.1 182.6h0M577.2 138.1h0M595.0 116.8h0M533.0 208.1h0M564.2 185.6h0M478.0 185.5h0M578.5 146.3h0M581.0 144.3h0M593.8 120.5h0M585.0 137.5h0M541.6 203.2h0M614.0 106.6h0M598.7 102.0h0M602.2 98.7h0M492.5 147.0h0M617.6 100.7h0M567.4 188.3h0M576.7 162.9h0M594.5 152.2h0M602.7 107.3h0M566.1 154.3h0M587.6 156.5h0M611.0 88.9h0M598.9 132.0h0M557.8 207.7h0M523.7 175.3h0M604.0 113.7h0M591.2 174.0h0M609.0 129.7h0M576.5 171.7h0M600.5 155.8h0M607.1 89.0h0M565.3 162.1h0M597.1 148.3h0M563.7 150.5h0M557.4 216.7h0M602.0 118.7h0M583.6 157.4h0M599.6 126.7h0M585.5 137.4h0M604.8 134.5h0M620.4 99.3h0M603.9 116.2h0M570.3 145.0h0M584.9 152.0h0M614.7 123.0h0M533.8 192.9h0M582.5 134.5h0M552.4 151.4h0M495.0 199.9h0M599.1 115.6h0M566.7 143.3h0M583.3 167.0h0M584.9 163.5h0M584.2 153.2h0M527.2 174.6h0M560.9 148.6h0M576.8 132.1h0M591.7 138.8h0M551.3 183.5h0M541.6 199.0h0M582.3 158.4h0M610.4 121.3h0M459.6 212.4h0M539.8 219.4h0M606.2 112.3h0M528.3 189.4h0M598.8 139.3h0M584.3 152.7h0M608.2 125.6h0M562.9 207.3h0M580.6 163.2h0M541.9 187.6h0M598.2 121.6h0M621.3 81.3h0M582.5 174.9h0M575.9 155.8h0M615.4 84.9h0M562.7 171.7h0M601.4 115.2h0M595.6 119.0h0M591.3 167.7h0M516.9 169.0h0M564.6 160.7h0M507.3 240.6h0M604.5 111.0h0M623.9 222.3h0M598.2 154.1h0M604.1 144.0h0M555.7 154.9h0M533.0 168.5h0M608.2 93.8h0M590.3 165.6h0M612.2 125.8h0M588.2 163.3h0M569.7 178.0h0M610.2 121.8h0M591.6 188.5h0M551.4 158.1h0M613.0 132.1h0M592.1 167.6h0M520.4 133.9h0M617.0 96.4h0M607.5 104.2h0M546.5 144.4h0M587.5 155.9h0M530.9 190.1h0M590.6 156.4h0M474.5 182.9h0M569.8 167.9h0M607.1 98.0h0M502.0 210.3h0M611.9 122.1h0M606.6 132.5h0M594.0 153.7h0M546.1 169.9h0M607.4 125.1h0M620.2 106.8h0M549.7 164.5h0M430.8 146.8h0M621.4 87.9h0M609.5 115.9h0M608.6 124.7h0M554.4 175.9h0M568.1 170.7h0M582.3 141.0h0M538.5 166.3h0M553.4 156.8h0M621.7 87.3h0M600.8 133.7h0M621.1 99.0h0M421.6 96.7h0M508.8 160.0h0M600.4 154.9h0M541.4 185.1h0M500.3 195.2h0M464.0 194.2h0M610.5 103.3h0M610.8 125.3h0M593.2 133.7h0M603.6 127.9h0M622.0 92.6h0M478.4 141.4h0M604.7 98.4h0M479.9 203.3h0M523.8 186.9h0M564.8 177.5h0M550.7 149.3h0M606.9 101.4h0M516.3 156.5h0M592.0 144.1h0M572.8 172.1h0M561.9 183.3h0M558.2 193.1h0M556.0 195.0h0M523.7 165.5h0M512.6 179.8h0M623.8 86.7h0M598.5 131.6h0M615.9 91.7h0M628.2 121.3h0M621.4 91.9h0M503.9 177.6h0M611.0 106.3h0M493.7 146.9h0M535.4 181.1h0M619.8 90.9h0M518.8 197.8h0M544.9 183.3h0M606.5 145.5h0M499.1 172.2h0M589.7 146.7h0M600.2 128.8h0M587.5 160.0h0M558.3 177.7h0M578.8 141.1h0M551.1 162.5h0M598.8 119.3h0M543.8 187.8h0M557.1 151.4h0M549.4 173.6h0M605.8 110.3h0M602.9 134.9h0M623.1 69.2h0M601.3 108.2h0M537.3 208.3h0M611.2 124.1h0M556.7 184.3h0M530.0 222.8h0M542.2 189.7h0M611.1 175.1h0M615.8 119.7h0M563.7 156.7h0M589.2 134.3h0M624.1 86.7h0M550.8 169.7h0M482.9 143.9h0M615.7 120.9h0M579.1 150.2h0M578.6 144.8h0M528.4 230.8h0M609.7 155.6h0M529.1 175.6h0M587.2 155.7h0M598.6 160.4h0M611.0 95.9h0M499.1 175.5h0M615.9 75.0h0M612.4 112.7h0M563.1 165.4h0M619.4 108.9h0M473.0 201.0h0M586.5 138.4h0M552.3 200.6h0M578.5 136.5h0M612.6 96.6h0M522.6 227.0h0M527.3 151.6h0M539.4 200.4h0M577.6 142.0h0M602.7 126.4h0M571.2 139.6h0M569.9 160.8h0M572.6 181.2h0M560.3 208.0h0M616.1 173.2h0M602.1 115.6h0M525.9 227.6h0M514.2 173.9h0M522.1 205.5h0M560.0 188.3h0M612.9 102.3h0M546.6 159.5h0M457.9 230.8h0M567.6 156.6h0M575.4 164.2h0M529.8 200.6h0M540.1 201.4h0M609.7 111.7h0M504.4 71.9h0M593.7 144.7h0M581.7 154.8h0M576.7 155.8h0M604.4 121.8h0M553.4 219.3h0M583.1 154.3h0M596.6 127.7h0M554.1 165.4h0M589.4 149.5h0M598.4 142.8h0M590.4 140.3h0M610.1 102.7h0M601.5 119.6h0M614.9 148.3h0M556.8 157.9h0M518.5 203.0h0M447.4 176.6h0M557.0 195.7h0M612.2 112.4h0M560.5 157.6h0M542.3 192.7h0M603.7 111.8h0M550.0 176.3h0M460.7 225.4h0M618.2 108.5h0M521.1 224.3h0M551.1 228.0h0M587.0 143.6h0M539.7 158.5h0M488.4 171.8h0M565.1 150.9h0M580.6 161.9h0M484.7 228.9h0M584.7 132.5h0M609.2 96.6h0M610.4 97.4h0M589.7 136.0h0M498.3 199.6h0M604.8 123.4h0M593.7 116.1h0M543.6 226.3h0M584.9 148.9h0M553.4 199.0h0M570.4 149.8h0M569.1 174.4h0M482.2 211.7h0M610.3 115.6h0M563.8 183.0h0M437.0 149.8h0M613.6 121.2h0M583.9 138.0h0M559.5 173.0h0M476.0 174.1h0M604.5 103.8h0M585.4 131.7h0M582.0 151.3h0M616.1 106.8h0M614.9 99.6h0M519.1 161.6h0M531.4 198.2h0M612.3 101.5h0M607.7 105.1h0M552.3 170.7h0M544.0 171.3h0M445.4 174.8h0M604.6 108.1h0M554.5 198.3h0M546.3 177.1h0M570.1 164.9h0M476.8 225.0h0M595.4 186.6h0" stroke="#79dada"/><path d="M576.6 206.8h0M577.3 157.4h0M485.2 204.0h0M598.6 153.3h0M505.2 218.0h0M609.6 93.5h0M591.3 154.4h0M594.0 129.7h0M517.6 178.2h0M508.4 172.9h0M568.9 179.9h0M564.2 150.9h0M562.0 168.9h0M601.8 154.8h0M609.4 108.7h0M607.5 110.2h0M575.7 178.7h0M612.6 88.5h0M487.6 161.1h0M513.2 165.9h0M612.5 86.1h0M548.3 211.6h0M580.6 161.0h0M543.3 165.3h0M565.4 177.4h0M622.3 89.1h0M601.4 104.0h0M627.3 152.0h0M586.6 163.3h0M583.7 146.7h0M598.9 155.5h0M561.6 174.1h0M547.6 166.7h0M514.1 200.4h0M482.1 197.2h0M558.1 147.4h0M590.2 151.4h0M601.1 116.2h0M590.1 168.6h0M507.0 188.2h0M607.0 129.1h0M597.9 142.4h0M540.4 159.6h0M536.6 163.3h0M614.7 108.5h0M618.9 101.1h0M534.2 176.5h0M608.0 107.9h0M592.6 193.2h0M578.9 196.8h0M588.0 132.2h0M609.9 160.8h0M599.3 144.7h0M593.4 140.4h0M592.2 147.9h0M607.2 123.2h0M533.7 183.8h0M578.0 140.7h0M546.4 218.2h0M596.3 124.4h0M583.1 134.1h0M612.4 133.4h0M603.8 115.3h0M606.0 134.7h0M488.1 213.5h0M594.4 132.5h0M522.1 167.1h0M546.2 180.7h0M600.0 186.3h0M594.8 123.0h0M613.5 117.0h0M609.0 94.7h0M496.1 196.8h0M559.0 169.0h0M557.7 172.2h0M596.9 129.0h0M592.0 157.5h0M548.7 153.2h0M562.4 156.2h0M526.8 176.6h0M610.0 122.8h0M573.6 180.6h0M598.2 126.6h0M613.3 98.8h0M609.9 125.4h0M594.7 137.0h0M601.1 126.3h0M570.9 168.0h0M577.8 146.9h0M600.7 135.7h0M546.9 157.2h0M608.4 106.2h0M581.5 176.0h0M516.9 205.5h0M592.5 125.5h0M576.8 144.8h0M611.2 105.9h0M554.4 158.5h0M563.4 153.8h0M609.0 123.3h0M544.9 158.9h0M558.4 155.9h0M546.4 192.4h0M572.7 166.8h0M552.8 166.9h0M534.2 203.1h0M562.4 167.7h0M587.2 130.9h0M447.2 230.9h0M490.6 121.1h0M578.4 175.5h0M580.3 137.3h0M596.6 125.1h0M562.1 166.5h0M598.9 143.7h0M491.1 190.1h0M618.6 79.3h0M567.1 166.1h0M585.5 134.3h0M581.8 148.0h0M554.2 182.8h0M487.9 220.1h0M542.5 189.2h0M602.5 135.4h0M609.7 119.5h0M591.0 143.9h0M466.9 240.6h0M609.4 142.8h0M597.8 152.7h0M421.0 208.0h0M563.7 153.4h0M590.2 170.0h0M568.3 146.5h0M619.1 110.2h0M587.5 149.6h0M450.2 186.8h0M594.7 131.7h0M602.8 144.6h0M558.4 187.7h0M619.1 104.9h0M604.2 111.1h0M572.4 150.8h0M608.5 130.3h0M589.5 150.7h0M561.1 145.4h0M601.2 110.4h0M603.3 129.5h0M571.8 172.2h0M530.3 182.9h0M511.1 157.0h0M552.0 150.4h0M559.7 168.6h0M566.2 160.5h0M585.6 153.0h0M605.1 108.1h0M530.2 176.0h0M600.1 117.5h0M558.9 164.2h0M533.0 188.3h0M552.6 170.0h0M552.7 192.5h0M617.5 114.8h0M571.3 180.5h0M611.6 91.4h0M595.5 115.5h0M594.8 154.7h0M578.2 153.4h0M599.2 137.6h0M595.3 158.8h0M575.7 155.7h0M560.3 166.8h0M599.5 128.3h0M595.4 150.5h0M571.9 198.6h0M607.8 95.4h0M602.6 151.6h0M419.7 173.7h0M609.6 104.9h0M469.5 228.9h0M594.3 144.8h0M586.6 157.9h0M545.9 165.5h0M510.4 173.9h0M593.9 139.5h0M597.6 148.8h0M592.2 140.1h0M603.7 173.9h0M607.1 103.2h0M571.7 146.5h0M616.0 174.7h0M581.9 151.7h0M532.9 164.2h0M573.2 153.5h0M584.9 140.8h0M567.6 169.4h0M545.1 167.8h0M562.6 173.4h0M603.5 115.0h0M575.3 144.9h0M549.8 170.9h0M473.4 226.9h0M521.5 168.6h0M558.1 193.1h0M607.7 123.1h0M599.1 157.9h0M575.4 165.6h0M560.7 159.0h0M600.5 132.2h0M467.6 221.0h0M562.3 215.9h0M608.1 132.3h0M590.9 125.6h0M563.4 155.3h0M594.2 141.7h0M614.6 85.2h0M585.0 151.3h0M592.1 130.7h0M555.8 160.5h0M544.5 198.6h0M581.4 152.0h0M412.4 204.0h0M546.2 195.2h0M608.5 138.6h0M551.5 181.7h0M525.1 189.5h0M585.3 145.2h0M581.3 164.7h0M544.5 176.9h0M617.9 81.5h0M611.8 112.0h0M563.2 152.7h0M545.0 174.7h0M551.2 170.3h0M512.1 202.9h0M533.2 192.3h0M578.7 143.8h0M442.7 126.9h0M602.4 95.6h0M556.8 164.3h0M616.4 88.3h0M423.7 206.9h0M550.4 186.0h0M614.3 104.5h0M528.7 191.5h0M617.7 113.2h0M571.7 154.3h0M587.6 155.5h0M581.3 149.8h0M560.5 163.0h0M563.1 157.4h0M571.7 180.3h0M610.1 118.3h0M569.8 164.6h0M494.9 167.5h0M617.7 111.4h0M558.0 158.3h0M468.6 231.3h0M594.0 125.2h0M489.7 155.8h0M616.4 102.2h0M584.4 136.6h0M554.4 183.5h0M609.7 130.8h0M521.1 165.9h0M580.4 175.9h0M595.9 126.7h0M576.6 178.8h0M603.8 152.7h0M552.1 174.7h0M568.9 140.9h0M586.2 168.3h0M502.0 196.8h0M580.3 174.6h0M605.0 112.3h0M514.6 187.8h0M556.4 173.9h0M622.8 79.8h0M586.5 191.8h0M572.2 199.4h0M619.3 78.3h0M466.4 232.9h0M563.4 170.7h0M584.7 150.0h0M537.4 187.3h0M545.2 180.5h0M584.8 165.7h0M593.4 191.2h0M616.2 107.3h0M582.8 164.5h0M609.1 177.3h0M577.9 203.1h0M557.7 166.5h0M569.1 168.5h0M564.2 182.1h0M608.2 134.6h0M576.0 142.3h0M594.1 163.9h0M504.4 188.6h0M543.2 154.8h0M606.0 114.9h0M588.4 128.9h0M532.4 173.8h0M573.0 181.7h0M614.9 107.7h0M506.5 204.6h0M586.6 140.0h0M468.6 224.8h0M607.2 120.4h0M612.7 113.7h0M572.0 170.6h0M543.8 183.9h0M601.0 113.1h0M546.9 178.9h0M586.3 136.8h0M612.3 111.1h0M624.7 148.0h0M486.5 196.0h0M590.0 136.9h0M603.5 139.9h0M590.6 154.9h0M566.0 206.1h0M605.6 108.9h0M505.0 195.0h0M617.9 87.0h0M568.7 172.2h0M581.5 170.3h0M446.9 237.2h0" stroke="#80e3d1"/><path d="M516.6 223.9h0M440.5 241.6h0M549.5 181.1h0M551.4 153.9h0M611.8 86.4h0M523.0 183.4h0M494.3 147.7h0M557.7 189.5h0M591.3 121.6h0" stroke="#87eac7"/><path d="M485.5 212.9h0M560.0 145.7h0M514.7 218.9h0M590.8 81.3h0M553.3 121.3h0M588.6 110.5h0M496.5 194.7h0M465.6 228.7h0M580.9 105.9h0M551.2 151.1h0M608.6 45.3h0M495.7 239.7h0M516.9 141.7h0M512.8 183.7h0M531.7 142.5h0M569.6 136.4h0M586.2 74.9h0M465.5 223.6h0M510.5 188.7h0M568.9 112.0h0M439.7 131.1h0M502.3 181.0h0M622.7 55.9h0M517.6 190.8h0M612.3 50.2h0M573.6 117.3h0M613.6 66.8h0M499.2 183.7h0M567.4 109.3h0M554.8 99.5h0M504.7 184.2h0M589.9 125.4h0M561.9 104.5h0M592.6 84.2h0M570.2 95.4h0M468.1 223.9h0M589.1 104.4h0M453.6 153.5h0M533.0 150.5h0M551.3 101.5h0M558.0 122.6h0M485.7 148.7h0M520.4 176.1h0M456.3 186.1h0M556.8 149.4h0M546.2 140.1h0M484.8 215.4h0M491.5 178.1h0M512.0 242.1h0M551.4 85.8h0M493.8 107.1h0M598.2 110.7h0M601.4 79.1h0M542.2 145.6h0M609.8 55.0h0M570.2 135.6h0M622.9 45.2h0M597.6 69.0h0M606.3 54.1h0M598.8 86.3h0M528.3 199.5h0M591.1 64.4h0M593.7 58.3h0M535.7 148.5h0M571.3 123.8h0M594.9 85.9h0M580.5 133.7h0M528.7 133.8h0M514.5 136.2h0M580.0 85.5h0M481.7 156.2h0M601.9 97.4h0M424.1 182.5h0M439.9 239.1h0M538.0 72.4h0M569.1 120.0h0M490.8 129.4h0M499.6 187.5h0M581.0 111.2h0M587.2 84.6h0M485.0 165.5h0M622.3 41.7h0M522.0 225.7h0M439.4 102.6h0M536.4 154.2h0M578.3 80.1h0M523.3 136.0h0M522.4 144.0h0M506.1 193.4h0" stroke="#8feebd"/><path d="M567.4 123.9h0M602.8 95.2h0M570.9 74.9h0M527.3 147.8h0M561.7 95.9h0M511.7 172.1h0M568.7 92.0h0M508.3 149.8h0M600.0 91.7h0M496.5 179.3h0M507.8 132.6h0M575.5 99.7h0M612.4 65.4h0M478.3 160.1h0M618.2 51.4h0M548.9 88.6h0M595.3 84.5h0M591.3 49.2h0M512.7 158.5h0M554.0 139.5h0M458.6 224.2h0M583.0 87.6h0M563.5 115.9h0M617.0 64.1h0M519.3 160.7h0M598.0 89.5h0M579.1 105.1h0M564.4 102.8h0M492.9 150.7h0M573.6 33.4h0M507.8 208.1h0M489.0 197.1h0M555.7 151.4h0M489.8 202.0h0M597.8 97.5h0M560.0 107.8h0M530.6 139.8h0M596.1 82.8h0M476.6 150.3h0M459.8 231.1h0M568.6 112.5h0M480.7 204.3h0M537.3 148.0h0M490.4 209.3h0M578.5 120.5h0M497.7 173.6h0M566.2 108.7h0M600.2 79.2h0M537.9 140.7h0M574.5 109.1h0M515.9 136.5h0M450.3 172.9h0M569.7 101.8h0M502.3 140.6h0M535.6 130.8h0M546.9 152.2h0M493.1 187.2h0M612.7 54.5h0M537.6 154.7h0M524.7 151.2h0M518.7 131.6h0M546.8 124.6h0M584.6 98.6h0M517.5 140.4h0M475.0 216.5h0M556.8 112.1h0M435.0 201.4h0M513.0 184.9h0M571.5 135.7h0M541.2 133.6h0M466.5 239.4h0M553.8 130.3h0M583.7 97.3h0M478.6 163.7h0M594.5 95.9h0M474.6 196.8h0M487.7 198.6h0M508.2 163.3h0M472.5 192.6h0M511.2 171.9h0M501.1 175.5h0M478.5 229.8h0M524.9 157.3h0M591.2 128.8h0M591.8 57.2h0M603.8 56.1h0M593.9 79.0h0M507.2 170.3h0M498.7 188.9h0M577.5 87.8h0M421.3 94.5h0M610.7 82.9h0M512.1 148.9h0M580.1 123.1h0M552.7 86.8h0M611.3 76.9h0M467.9 191.3h0M495.7 211.0h0M618.4 66.9h0M578.8 100.7h0M602.5 56.6h0M456.0 224.4h0M495.9 174.1h0M449.1 221.9h0M497.0 149.2h0M500.2 156.8h0M579.0 124.5h0M577.3 92.6h0M599.7 82.1h0M606.8 90.0h0M402.8 142.9h0M614.8 58.8h0M493.4 220.2h0M499.0 193.9h0M486.8 155.4h0M585.4 111.4h0M473.6 241.3h0M595.2 68.9h0M584.1 121.5h0M520.5 127.8h0M603.1 90.0h0M520.5 161.0h0M573.1 106.0h0M597.2 66.1h0M567.7 136.6h0M567.8 96.3h0M441.7 238.6h0M505.7 172.7h0M596.9 52.8h0M487.4 187.4h0M614.9 60.1h0M537.4 120.9h0M607.2 57.0h0M497.4 188.3h0M509.7 126.3h0M551.2 127.4h0" stroke="#9aefaf"/><path d="M519.8 165.3h0M545.0 169.9h0M499.2 219.8h0M583.0 109.1h0M517.4 173.3h0M556.3 136.1h0M562.6 81.9h0M608.4 82.3h0M576.9 121.4h0M499.7 194.6h0M505.4 191.9h0M563.8 93.8h0M585.2 115.4h0M450.4 237.6h0M570.0 116.2h0M592.9 79.5h0M624.0 52.2h0M592.3 64.3h0M561.0 114.0h0M582.3 120.7h0M505.2 152.7h0M614.9 60.4h0M535.1 152.3h0M606.0 87.6h0M581.2 73.4h0M504.7 184.5h0M553.7 144.3h0M555.6 130.4h0M596.9 97.4h0M583.1 69.4h0M459.2 159.7h0M556.8 139.6h0M557.9 149.0h0M543.6 116.7h0M509.1 153.2h0M579.6 129.5h0M599.8 77.5h0M574.7 90.7h0M611.4 85.3h0M508.8 174.0h0M581.0 83.8h0M499.3 171.6h0M464.7 107.5h0M520.1 151.0h0M457.5 173.7h0M445.7 219.8h0M561.6 142.5h0M565.6 95.9h0M507.1 151.2h0M598.6 56.9h0M481.8 224.5h0M599.2 81.3h0M579.5 73.6h0M557.0 121.6h0M513.4 200.5h0M558.1 120.1h0M557.0 127.1h0M479.3 212.5h0M448.7 231.4h0M598.6 49.8h0M540.7 136.6h0M537.5 135.5h0M602.4 105.3h0M564.0 108.4h0M613.9 60.8h0M465.9 142.9h0M497.3 159.9h0M501.1 187.9h0M512.4 181.1h0M491.8 175.1h0M462.3 227.4h0M478.7 215.7h0M579.9 78.8h0M477.7 187.8h0M461.5 222.6h0M572.0 117.2h0M457.2 131.9h0M569.5 82.5h0M585.4 110.4h0M530.8 131.9h0M552.0 131.0h0M590.6 86.5h0M551.1 144.7h0M534.5 132.8h0M524.9 129.4h0M553.7 102.3h0M555.4 132.4h0M591.1 93.7h0M551.6 155.3h0M508.1 201.0h0M572.0 135.7h0M544.6 129.3h0M476.6 205.9h0M531.6 153.9h0M587.4 117.5h0M427.0 123.5h0M482.6 207.3h0M603.6 97.0h0M588.1 76.7h0M504.1 173.1h0M543.2 103.3h0M526.7 142.4h0M548.5 106.0h0M561.6 121.0h0M589.9 62.6h0M512.7 170.2h0M572.5 84.3h0M558.9 136.7h0M572.9 85.5h0M500.7 207.5h0M582.7 65.9h0M527.7 127.2h0M605.3 82.7h0M557.2 92.3h0M553.3 140.5h0M558.6 145.0h0M575.9 69.6h0M574.3 134.0h0M524.7 160.9h0M583.6 77.4h0M612.0 74.1h0M430.3 99.3h0M415.5 84.9h0M570.2 126.2h0M523.7 164.4h0M511.7 170.4h0M450.6 237.2h0M608.3 66.1h0M432.5 172.6h0M521.5 121.7h0M564.3 93.5h0M489.4 173.6h0M509.1 139.1h0M528.9 157.5h0M530.0 165.6h0M559.0 110.7h0" stroke="#a7efa3"/><path d="M454.3 239.4h0M562.7 118.2h0M472.0 228.0h0M592.8 91.9h0M588.4 77.6h0M559.0 119.4h0M608.3 73.3h0M562.6 105.4h0M577.6 51.3h0M452.4 94.5h0M448.7 186.3h0M501.6 177.3h0M519.7 143.9h0M562.4 133.2h0M613.9 51.3h0M591.3 119.6h0M585.4 111.8h0M493.2 147.2h0M583.2 93.3h0M494.1 218.2h0M587.2 122.2h0M578.3 78.3h0M491.1 217.2h0M476.5 183.6h0M525.4 195.1h0M551.0 104.6h0M491.8 153.3h0M581.9 113.7h0M606.4 51.0h0M492.9 201.3h0M539.2 107.8h0M494.6 234.5h0M510.4 135.6h0M508.3 166.8h0M600.6 48.8h0M552.7 114.7h0M586.5 111.2h0M417.3 217.1h0M547.7 124.8h0M480.3 217.9h0M497.8 186.1h0M523.3 178.4h0M589.8 96.8h0M454.2 231.0h0M574.2 120.0h0M575.4 100.2h0M538.5 193.8h0M533.7 169.6h0M574.7 92.3h0M415.8 178.6h0M601.1 53.6h0M607.9 56.8h0M535.0 133.3h0M589.7 70.0h0M543.2 139.3h0M477.7 168.9h0M596.7 60.5h0M583.7 84.2h0M577.4 87.8h0M498.7 200.7h0M564.2 125.1h0M413.1 80.3h0M577.7 130.9h0M472.1 222.2h0M526.6 159.3h0M505.7 185.5h0M449.5 233.0h0M543.8 144.1h0M609.3 72.8h0M525.2 115.9h0M494.3 203.3h0M499.7 201.3h0M496.9 231.9h0M477.8 177.4h0M546.2 101.7h0M516.3 149.2h0M612.8 83.5h0M575.5 123.2h0M607.8 63.7h0M518.9 137.2h0" stroke="#b5ed9a"/><path d="M568.6 138.0h0M589.1 77.3h0M605.2 87.7h0M596.6 80.8h0M599.3 108.3h0M517.6 160.0h0M538.5 156.7h0M538.7 157.7h0M537.9 130.9h0M495.5 143.8h0M575.1 100.1h0M486.2 140.1h0M553.0 115.6h0M586.6 109.0h0M595.1 79.9h0M601.7 70.9h0M520.4 145.2h0M540.7 138.7h0M537.5 117.5h0M532.0 153.4h0M569.3 136.7h0" stroke="#c3e794"/><path d="M557.9 119.1h0M541.6 150.1h0M591.5 89.8h0M609.9 52.1h0M569.2 110.3h0M571.2 116.4h0M571.7 112.4h0M533.5 110.9h0M591.2 97.9h0M511.3 174.5h0M565.2 121.1h0M602.5 98.6h0M620.4 51.7h0M422.1 166.5h0M570.7 87.7h0M612.1 71.8h0M599.6 64.2h0M596.5 114.7h0M564.5 103.5h0M594.1 117.1h0M523.6 170.4h0M614.1 50.9h0M476.5 226.2h0M604.4 55.8h0M581.2 118.7h0M571.1 130.4h0M568.6 97.0h0M561.0 106.8h0M526.5 160.5h0M527.4 125.7h0M593.4 66.8h0M607.8 55.0h0M618.1 60.2h0M604.3 86.2h0M608.2 68.8h0M538.5 133.6h0M567.8 104.5h0M580.1 99.8h0M592.5 76.8h0M548.1 115.1h0M596.7 92.3h0M497.5 118.2h0M601.4 84.0h0M552.3 144.1h0M577.4 129.4h0M593.8 74.1h0M570.4 132.4h0M543.4 156.7h0M562.3 129.5h0M622.8 59.8h0M576.9 78.7h0M588.0 83.3h0M587.0 70.6h0M593.1 116.9h0M556.0 130.9h0M549.3 122.3h0M578.2 87.9h0M547.3 109.7h0M445.7 200.7h0M580.6 117.9h0M599.3 95.3h0M607.0 77.5h0M550.1 154.8h0M605.2 69.5h0M572.0 65.1h0M598.4 81.8h0M540.4 132.2h0M594.5 88.4h0M555.2 134.7h0M591.0 82.8h0M475.3 209.3h0M510.0 139.9h0M547.9 141.3h0M539.2 116.3h0M594.9 100.7h0M586.3 64.4h0M575.6 112.2h0M562.8 102.8h0M558.8 89.8h0M516.1 139.9h0M503.9 174.0h0M587.5 78.7h0M580.4 129.2h0M488.0 129.0h0M557.9 131.2h0M568.6 133.1h0M555.5 138.8h0M589.5 71.3h0M506.1 134.6h0M582.2 98.5h0M482.6 188.7h0M621.6 51.5h0M568.6 87.0h0M614.6 76.6h0M597.2 109.3h0M524.6 150.7h0M592.3 111.9h0M562.4 140.0h0M589.8 96.3h0M571.7 97.9h0M540.9 145.8h0M578.7 135.8h0M592.4 54.4h0M502.3 186.6h0M593.1 95.2h0M546.1 152.8h0M618.6 68.9h0M523.5 138.0h0M572.8 133.1h0M572.5 136.7h0M411.4 153.2h0M568.6 74.1h0M556.8 143.5h0M489.9 200.9h0M532.7 128.9h0M575.7 103.1h0M568.8 120.5h0M453.5 241.3h0M566.5 63.5h0M569.3 90.4h0M599.5 104.1h0M592.5 87.7h0M571.1 110.1h0M598.6 85.2h0M557.1 125.0h0M599.2 57.4h0M535.3 140.2h0M582.8 135.2h0M518.8 128.9h0M589.0 91.0h0M595.1 76.0h0M551.1 126.9h0M573.0 128.5h0M548.7 124.2h0M595.6 87.7h0M514.2 142.9h0M568.1 149.8h0M600.5 77.4h0M548.4 154.0h0M562.2 113.5h0M586.6 128.3h0" stroke="#d1e090"/><path d="M522.9 138.1h0M555.5 142.8h0M581.1 75.4h0M532.9 145.3h0M472.4 215.0h0M587.5 86.0h0M564.8 127.9h0M548.4 146.6h0M528.4 161.2h0M553.2 98.2h0M610.9 54.3h0M520.9 135.1h0M507.6 171.5h0M543.8 147.6h0M581.6 79.7h0M563.4 123.6h0M564.9 106.4h0M616.0 55.1h0M525.0 146.8h0M535.6 161.0h0M544.5 147.8h0M522.5 173.9h0M584.1 95.5h0M572.6 95.9h0M586.2 119.5h0M622.5 52.5h0M614.2 55.9h0M536.8 123.3h0M622.2 59.2h0M594.5 116.8h0M585.6 105.9h0M585.5 68.7h0M555.6 141.6h0M589.3 104.8h0M567.9 137.7h0M525.7 136.8h0M561.2 119.2h0M566.8 94.2h0M588.5 115.2h0M579.7 114.7h0M499.7 190.8h0M578.6 87.5h0M564.6 147.5h0M504.1 156.1h0M493.7 194.5h0M589.1 94.4h0M506.8 171.9h0M584.7 70.4h0M589.0 97.3h0M563.9 126.9h0M519.8 135.3h0M570.5 115.8h0M574.3 126.1h0M542.4 151.0h0M601.7 77.9h0M565.9 139.6h0M603.2 84.1h0M538.9 102.3h0M607.5 55.8h0M507.9 169.9h0M592.1 83.2h0M616.9 58.4h0M554.4 107.0h0M532.7 116.0h0M565.9 104.3h0M595.6 97.0h0M585.0 89.0h0M571.4 126.8h0M557.8 130.9h0M597.4 95.8h0M593.6 108.9h0M609.9 76.5h0M560.9 127.9h0M617.4 73.8h0M554.7 140.3h0M551.2 115.5h0M594.3 54.7h0M610.7 62.8h0M547.1 151.6h0M585.0 123.4h0M560.4 133.9h0M571.6 138.0h0M591.0 120.3h0M552.8 138.6h0M600.3 67.9h0M543.6 149.1h0M411.6 157.2h0M559.6 93.6h0M572.8 117.3h0M494.3 185.3h0M559.4 112.2h0M542.2 120.8h0M491.0 188.3h0M583.1 69.1h0M597.9 84.6h0M509.4 127.4h0M579.0 107.7h0M589.8 91.8h0M567.8 127.1h0M574.2 131.8h0M571.2 142.5h0M594.6 98.6h0M517.6 132.5h0M499.0 121.3h0M520.8 128.0h0" stroke="#dfd98b"/><path d="M590.6 85.0h0M448.6 237.8h0M620.5 55.0h0M515.4 172.5h0M619.5 60.5h0M602.2 85.5h0M537.4 129.6h0M559.0 133.8h0M582.4 101.1h0M562.0 133.9h0M501.2 157.5h0M613.0 70.5h0M590.4 72.9h0M607.4 70.0h0M495.9 165.2h0M577.0 112.4h0M568.2 99.7h0M566.8 145.4h0M558.4 140.1h0M544.4 119.0h0M581.6 106.0h0M559.8 153.7h0M500.7 178.3h0M589.6 93.4h0M446.7 229.1h0M496.0 171.9h0M549.4 110.1h0M549.1 152.0h0M511.6 164.4h0M582.8 67.2h0M563.2 146.8h0M454.6 231.4h0M588.1 122.8h0M598.3 60.9h0M576.8 115.4h0M599.9 109.3h0M586.3 118.7h0M520.2 138.2h0M516.9 122.6h0M581.5 116.9h0M591.7 62.9h0M607.5 76.2h0M582.3 119.5h0M581.3 74.9h0M600.3 77.9h0M495.5 154.1h0M580.5 83.1h0M600.3 72.9h0M558.0 112.9h0M556.7 92.3h0M581.4 122.8h0M570.1 128.7h0M530.4 152.5h0M545.7 136.3h0M498.0 183.6h0M564.9 120.0h0M571.2 110.5h0M491.2 197.7h0M554.1 149.1h0M453.6 230.7h0M600.8 85.7h0M604.8 74.4h0M610.4 53.4h0M491.0 197.8h0M553.2 95.6h0M560.2 117.9h0M605.7 89.5h0M589.8 112.6h0M578.7 101.6h0M594.6 51.7h0M606.1 89.5h0M570.2 93.7h0M574.0 102.9h0M535.5 118.7h0M548.6 111.5h0M580.5 105.2h0M514.2 133.6h0M590.3 91.6h0M532.5 110.2h0M560.7 135.5h0M580.7 71.9h0M536.8 138.3h0M543.3 140.0h0M556.8 127.9h0M545.0 109.9h0M597.4 58.2h0M590.5 48.5h0M510.9 170.9h0M621.3 59.0h0M567.4 140.3h0M448.2 149.5h0M617.7 59.5h0M584.4 82.8h0M566.5 99.6h0M573.5 108.3h0M599.1 78.4h0M606.1 46.9h0M424.7 188.4h0M584.5 76.0h0M539.0 128.9h0M591.0 109.9h0M612.9 69.7h0M591.6 108.5h0M489.7 171.2h0M534.7 162.7h0M554.1 83.2h0M577.5 90.5h0M591.7 82.7h0M567.8 113.0h0M572.8 108.0h0M580.8 121.6h0M578.5 99.3h0M585.3 114.2h0M511.1 184.5h0M485.5 183.0h0M596.0 114.8h0" stroke="#eacf85"/><path d="M487.5 221.9h0M545.1 136.6h0M556.2 151.7h0M545.1 134.0h0M558.6 148.6h0M595.9 67.5h0M593.3 48.9h0M453.7 238.1h0M520.4 218.5h0M539.8 111.1h0M538.5 151.7h0M551.8 132.7h0M603.9 75.6h0M558.8 109.8h0M591.0 57.4h0M604.6 92.8h0M592.5 110.4h0M460.9 86.1h0M587.0 85.2h0M558.5 100.9h0M618.1 71.0h0M502.9 171.2h0M576.0 96.0h0M603.5 143.0h0M580.0 68.0h0M565.1 119.0h0M554.4 128.9h0M607.3 82.0h0M584.4 107.0h0M616.2 52.0h0M605.2 74.2h0M587.1 92.1h0M598.8 92.0h0M587.4 106.7h0M565.9 132.5h0M594.3 100.7h0M553.8 120.2h0M606.8 46.3h0M588.0 128.3h0M526.7 145.2h0M574.7 126.7h0M581.3 133.6h0M458.4 194.6h0M501.5 172.9h0M600.0 51.4h0M574.4 102.1h0M576.1 88.5h0M517.0 134.2h0M495.5 214.6h0M574.4 105.1h0M536.8 143.7h0M585.6 80.8h0M492.0 171.3h0M552.1 145.8h0M582.9 133.9h0M490.0 197.9h0M579.8 119.3h0M479.3 152.8h0M596.9 111.3h0M498.0 206.4h0M583.5 77.2h0M503.0 176.1h0M607.8 66.1h0M543.2 127.6h0M601.1 67.0h0M565.8 103.8h0M565.1 125.8h0M517.4 171.0h0M537.7 113.1h0M563.6 98.5h0M549.6 120.1h0M559.0 136.7h0M611.3 51.3h0M583.9 101.1h0M620.8 66.7h0M615.1 63.8h0M570.6 117.0h0M573.7 98.3h0M581.2 102.2h0M558.8 136.2h0M505.6 148.1h0M566.8 105.2h0M568.4 82.9h0M533.8 132.6h0M570.7 125.6h0M548.8 146.7h0M601.6 84.7h0M569.6 107.8h0" stroke="#efb26f"/><path d="M597.7 218.6h0M603.6 94.1h0M614.9 58.4h0M558.0 145.9h0M573.1 116.9h0M579.0 124.3h0M601.7 137.7h0M506.2 211.7h0M579.6 70.0h0M500.3 181.6h0M574.7 130.3h0M587.0 125.2h0M521.0 201.0h0M523.1 162.1h0M622.0 82.3h0M558.7 115.8h0M559.5 97.7h0M518.9 207.3h0M543.3 135.8h0M606.7 86.2h0M583.1 122.2h0M591.1 57.4h0M616.3 59.0h0M536.2 141.5h0M593.4 90.3h0M547.1 114.8h0M578.1 133.1h0M605.9 76.4h0M615.0 69.3h0M591.1 87.8h0M556.6 124.8h0M568.5 131.0h0M599.5 81.6h0M620.5 104.8h0M574.7 72.2h0M480.6 215.2h0M452.4 226.3h0M532.2 191.6h0M604.4 85.0h0M574.4 114.4h0M565.0 102.0h0M528.7 139.8h0M569.3 143.6h0M597.0 82.6h0M571.3 96.4h0M519.7 167.1h0M470.5 213.2h0M581.0 111.5h0M489.4 113.6h0M579.7 77.0h0M527.5 146.3h0M579.7 108.8h0M531.0 155.0h0M621.4 53.1h0M611.6 77.8h0M610.8 69.6h0M585.4 77.3h0M563.3 154.5h0M558.8 143.5h0M584.8 111.8h0M618.3 65.1h0M555.3 112.2h0M570.1 112.3h0M618.3 85.8h0M536.0 129.8h0M484.3 228.9h0M557.9 138.5h0M506.2 173.7h0M583.3 81.0h0M593.8 105.8h0M588.5 71.7h0M477.3 222.7h0M573.5 73.7h0M601.9 53.4h0M602.6 58.2h0M570.8 82.3h0M582.0 110.1h0M607.3 70.8h0M520.6 144.3h0M548.1 82.6h0M585.2 123.5h0M580.1 76.0h0M577.4 91.1h0M511.3 156.1h0M584.5 87.4h0M575.1 133.8h0M598.7 84.6h0M534.2 178.9h0M565.8 111.4h0M571.0 126.8h0M471.9 220.7h0M617.6 78.4h0M552.6 136.6h0M581.3 78.4h0M603.2 65.9h0M574.3 101.4h0M548.2 139.9h0M573.1 146.5h0M608.0 70.8h0M526.3 123.6h0M549.7 165.8h0M499.8 148.9h0M544.7 111.3h0M521.9 146.1h0M463.1 161.8h0M589.2 82.5h0M592.3 93.7h0M595.8 70.6h0M559.5 144.1h0M577.7 116.6h0M581.5 118.8h0M484.9 200.5h0M463.7 84.8h0M507.9 180.4h0M592.8 55.2h0M514.6 219.8h0M561.9 139.4h0M570.4 141.3h0M554.9 134.9h0M551.7 98.7h0M604.4 96.2h0M491.6 206.9h0M548.3 99.0h0M465.1 219.4h0M561.1 159.8h0M520.5 174.0h0M486.2 131.3h0M576.4 109.6h0M568.0 136.7h0M498.9 241.1h0M588.9 121.9h0M548.9 180.3h0M589.8 92.9h0M554.8 48.8h0M516.6 163.7h0M571.2 115.4h0M576.9 107.1h0M552.0 128.5h0M613.5 65.7h0M581.7 103.0h0M533.0 163.6h0M585.4 116.6h0M512.8 161.8h0M559.0 93.4h0M559.5 88.7h0M567.9 97.4h0M610.2 75.9h0M568.3 110.6h0M463.4 190.6h0M546.7 180.5h0M573.8 107.9h0M564.4 89.3h0M567.4 117.7h0M600.6 51.5h0M599.3 113.4h0M577.1 130.0h0M564.4 98.4h0M543.9 162.7h0M565.0 130.4h0M520.6 140.9h0M608.0 88.9h0M592.8 113.6h0M470.2 211.5h0M596.8 109.8h0M607.6 63.8h0M529.6 179.9h0M561.2 108.2h0M593.6 117.9h0M565.9 108.1h0M562.1 130.7h0M536.9 120.2h0M592.3 116.9h0M581.7 74.0h0M565.8 144.0h0M553.5 104.8h0M562.9 92.3h0M607.8 80.9h0M590.4 107.0h0M549.8 146.9h0M569.2 92.4h0M517.7 156.1h0M553.3 143.7h0M552.8 138.4h0M540.7 146.8h0M573.1 72.3h0M572.6 72.3h0M593.4 102.5h0M583.9 241.6h0M560.6 106.7h0M543.9 159.0h0M597.7 78.0h0M575.5 111.1h0M501.9 185.3h0M518.6 113.4h0M583.3 108.7h0M539.6 130.2h0M601.7 95.4h0M592.5 80.8h0M511.5 176.8h0M569.4 97.7h0M569.2 128.0h0M587.1 73.7h0M612.2 82.6h0M533.9 171.9h0M556.5 150.4h0M482.3 198.6h0M531.7 121.4h0" stroke="#eca262"/><path d="M551.7 143.9h0M601.1 85.2h0M539.8 173.3h0M591.0 146.7h0M548.5 158.4h0M563.1 119.4h0M548.3 97.7h0M576.8 86.6h0M501.9 113.9h0M559.0 152.8h0M495.7 207.0h0M572.4 87.4h0M609.1 62.2h0M562.6 89.6h0M474.6 210.5h0M555.4 111.5h0M554.5 121.2h0M569.0 116.1h0M591.3 81.6h0M623.8 50.3h0M610.8 50.3h0M556.9 123.1h0M572.6 80.7h0M537.2 123.2h0M617.7 71.2h0M589.8 83.8h0M612.4 73.7h0M568.5 126.8h0M573.5 85.9h0M570.4 103.1h0M585.5 112.4h0M588.1 86.6h0M596.9 88.7h0M590.2 61.8h0M610.5 59.6h0M595.3 73.5h0M603.7 60.9h0M613.2 71.9h0M594.4 126.6h0M506.6 236.4h0M553.7 129.4h0M542.6 119.4h0M449.1 176.8h0M579.1 111.3h0M559.0 140.9h0M591.5 80.1h0M582.6 170.4h0M575.1 112.3h0M589.0 73.0h0M544.3 130.6h0M610.4 52.0h0M585.9 99.6h0M529.8 116.7h0M585.4 91.7h0M538.8 127.3h0M482.9 174.8h0M540.7 121.8h0M550.5 151.2h0M521.9 154.2h0M558.5 116.1h0M572.7 125.2h0M558.9 140.8h0M567.7 138.5h0M606.3 49.8h0M585.4 94.6h0M613.9 57.9h0M547.9 114.3h0M512.5 147.7h0M486.6 206.8h0M583.5 82.5h0M577.9 91.6h0M498.5 180.8h0M533.8 143.1h0M583.6 83.3h0M604.1 88.8h0M549.3 112.3h0M441.0 77.2h0M585.5 78.8h0M608.6 69.4h0M579.6 87.9h0M609.9 51.9h0M549.5 148.5h0M566.7 132.5h0M612.6 50.0h0M473.7 222.5h0M576.3 104.3h0M567.1 110.9h0M506.8 203.5h0M552.6 102.2h0M562.9 144.3h0M581.3 94.8h0M530.4 136.3h0M531.9 168.9h0M569.3 90.2h0M470.9 214.1h0M584.0 114.4h0M575.3 109.8h0M580.6 105.3h0M590.5 92.9h0M566.0 119.4h0M551.0 130.4h0M563.9 126.7h0M473.0 209.2h0M595.3 100.2h0M584.4 79.9h0M603.9 84.8h0M538.5 168.6h0M608.1 72.4h0M594.3 85.2h0M400.5 163.3h0M581.8 107.3h0M569.7 130.7h0M578.3 132.8h0M608.1 223.2h0M559.1 112.2h0M499.4 156.3h0M612.7 107.3h0M520.7 169.6h0M531.2 156.6h0M589.5 118.6h0M451.5 239.0h0M591.3 113.4h0M432.2 118.0h0M488.8 160.8h0M501.9 197.6h0M533.0 126.0h0M495.5 194.4h0M467.9 134.0h0M561.4 132.0h0M559.7 114.1h0M552.0 136.9h0M531.4 133.6h0M572.5 125.5h0M586.9 118.9h0M520.9 148.9h0M593.0 104.1h0M548.8 114.8h0M601.9 73.0h0M556.3 109.7h0M586.4 120.5h0M535.5 146.7h0M581.0 131.6h0M585.2 117.6h0M617.1 60.1h0M615.8 63.0h0M581.7 87.6h0M563.5 134.8h0M572.5 101.5h0M573.5 95.7h0M589.0 160.5h0M573.2 81.7h0M554.4 125.1h0M501.0 89.9h0M569.5 113.2h0M559.6 91.9h0M582.0 104.6h0M559.8 44.4h0M564.8 145.1h0M594.3 57.1h0M548.1 118.8h0M558.4 104.7h0M454.5 237.8h0M604.9 58.9h0M490.9 133.8h0M505.3 156.3h0M584.3 123.6h0M528.4 131.7h0M608.6 72.9h0M559.7 101.8h0M494.6 161.2h0M522.6 181.5h0M546.1 137.8h0M579.4 120.7h0M591.0 54.9h0M572.3 83.2h0M567.7 99.4h0M599.3 89.3h0M560.5 133.0h0M593.2 89.7h0M553.8 141.1h0M569.5 117.4h0M614.1 49.5h0M573.7 45.3h0M623.4 52.7h0M555.3 138.2h0M448.6 207.8h0M600.5 130.2h0" stroke="#ea8f54"/><path d="M576.1 129.5h0M592.6 107.5h0M523.0 159.3h0M571.9 102.7h0M583.1 88.0h0M596.9 34.5h0M539.6 158.8h0M601.6 63.7h0M578.0 114.2h0M571.7 120.5h0M563.8 175.5h0M566.5 77.2h0M606.2 67.0h0M549.7 93.8h0M547.0 113.5h0M570.5 110.0h0M512.1 115.2h0M507.2 162.9h0M532.1 158.1h0M550.8 130.8h0M514.2 117.0h0M448.8 239.0h0M460.6 127.2h0M557.2 142.6h0M514.2 154.0h0M619.8 69.5h0M577.9 72.8h0M585.1 157.2h0M575.6 113.7h0M581.3 129.9h0M600.6 79.2h0M551.7 140.5h0M511.7 221.7h0M616.1 73.9h0M562.7 135.5h0M582.2 82.2h0M567.0 114.3h0M593.2 65.6h0M510.7 174.1h0M572.9 219.4h0M568.1 106.1h0M502.5 179.3h0M520.1 141.3h0M551.8 113.6h0M563.5 143.5h0M497.5 180.8h0M582.3 87.6h0M570.5 86.4h0M535.3 148.8h0M580.1 91.0h0M600.7 103.2h0M593.4 104.6h0M599.8 102.1h0M567.9 149.8h0M614.6 53.4h0M592.7 110.3h0M597.7 81.6h0M522.5 226.4h0M513.2 170.5h0M599.2 109.7h0M611.1 63.4h0M622.2 62.4h0M490.7 85.1h0M573.5 140.3h0M553.8 126.9h0M601.6 82.6h0M616.1 108.2h0M540.5 184.2h0M568.0 117.9h0M486.0 208.8h0M520.4 165.3h0M559.3 146.4h0M590.9 67.4h0M551.2 137.0h0M578.8 128.5h0M609.4 81.5h0M558.8 134.7h0M543.9 135.9h0M527.6 145.9h0M560.5 141.7h0M580.9 81.1h0M570.9 130.6h0M568.7 106.2h0M559.8 116.1h0M563.1 139.7h0M580.0 126.4h0M517.6 161.8h0M610.3 55.1h0M586.8 104.7h0M521.9 162.1h0M568.3 126.0h0M503.0 207.7h0M580.5 87.1h0M440.3 188.2h0M599.4 69.1h0M568.1 110.9h0M569.7 91.8h0M553.7 87.8h0" stroke="#e77d46"/><path d="M586.9 82.8h0M491.4 191.7h0M511.3 126.6h0M580.0 104.2h0M515.1 162.0h0M560.3 99.0h0M592.2 74.8h0M557.4 99.1h0M604.7 138.7h0M560.5 81.9h0M573.2 120.0h0M489.9 199.0h0M529.6 81.9h0M589.3 84.4h0M580.3 123.2h0M484.7 141.5h0M620.3 56.4h0M464.7 212.2h0M595.1 116.7h0M607.5 78.7h0M582.7 101.8h0M537.9 153.7h0M529.0 154.4h0M520.8 159.6h0M526.9 158.3h0M516.3 165.6h0M529.4 159.1h0M602.1 59.6h0M538.0 153.4h0M522.1 155.5h0M536.8 149.9h0M623.0 68.0h0M503.1 169.3h0M510.1 165.8h0M520.8 165.9h0M542.1 194.0h0M480.0 207.7h0M603.8 105.7h0M485.2 211.7h0M494.5 136.0h0M478.5 191.4h0M546.5 131.9h0M598.1 77.9h0M598.8 50.0h0M544.3 129.7h0M564.9 140.2h0M561.9 119.3h0M590.0 70.2h0M520.0 115.5h0M578.8 162.6h0M493.6 188.1h0M560.1 49.7h0M542.9 121.4h0M548.8 201.8h0M529.9 139.3h0M586.6 115.0h0M591.6 93.5h0M575.8 97.6h0M493.7 173.6h0M554.7 132.5h0M552.8 142.6h0M623.7 51.4h0M626.5 188.4h0M499.9 179.5h0" stroke="#e04026"/><path d="M585.2 72.0h0M577.1 95.2h0M474.1 197.9h0M500.8 234.7h0M516.9 125.3h0M546.4 159.3h0M433.3 235.0h0M617.4 51.9h0M550.8 88.7h0M599.2 205.4h0M596.9 102.3h0M508.5 176.9h0M600.8 98.5h0M462.4 226.3h0M500.7 195.8h0M561.8 152.4h0M540.9 99.0h0M476.8 212.9h0M593.1 119.5h0M560.2 108.6h0M531.9 159.5h0M555.2 148.1h0M526.3 139.3h0M622.5 48.6h0M536.8 117.2h0M604.3 114.5h0M580.9 143.9h0M506.4 185.1h0M519.7 160.5h0M558.6 156.0h0M594.1 192.3h0M492.3 120.2h0M582.6 197.6h0M610.1 77.6h0M537.7 131.2h0M502.5 142.2h0M605.1 60.4h0M467.3 230.0h0M632.3 169.4h0M423.0 236.2h0M586.1 71.8h0M526.1 209.6h0M595.2 63.3h0M463.8 184.6h0M579.3 76.4h0M477.4 205.2h0M544.1 225.2h0M612.1 164.3h0M480.6 233.7h0M555.9 240.6h0M573.8 128.4h0M602.7 96.2h0M537.8 142.6h0M575.8 180.6h0M509.0 195.1h0M516.3 172.1h0M557.7 125.7h0M563.4 142.4h0M558.4 165.9h0M431.1 231.9h0M617.1 76.1h0M500.5 185.4h0M551.7 138.0h0M563.0 197.6h0M575.7 126.4h0M606.6 48.0h0M498.5 171.7h0M553.4 159.4h0M508.5 188.9h0M590.3 182.2h0M521.6 179.2h0M566.9 134.1h0M599.6 87.2h0M592.9 129.3h0M605.6 69.7h0M554.0 123.1h0M525.2 161.7h0M476.9 134.8h0M502.8 159.8h0M520.3 162.3h0M471.7 217.5h0M527.9 142.3h0M434.0 154.3h0M600.0 86.7h0M555.3 115.9h0M518.4 135.6h0M492.5 147.4h0M546.5 129.0h0M566.8 141.9h0M512.6 206.5h0M540.8 136.9h0M570.3 169.4h0M516.8 166.5h0M496.8 145.5h0M611.2 68.6h0M569.6 116.1h0M585.2 117.5h0" stroke="#e02c1a"/><path d="M564.7 112.5h0M609.8 57.0h0M580.0 110.3h0M495.4 229.4h0M554.5 141.8h0M552.1 156.6h0M500.3 189.5h0M518.7 158.3h0M522.8 163.0h0M586.3 120.9h0M513.6 166.9h0M538.1 192.2h0M503.7 171.4h0M554.2 210.1h0M561.2 173.3h0M546.9 129.2h0M578.8 118.8h0M570.4 108.5h0M567.5 113.5h0M532.2 135.0h0M491.7 165.8h0M609.1 67.3h0M534.9 209.1h0M516.3 177.5h0M493.0 194.6h0M553.8 220.2h0M596.2 104.8h0M534.5 137.5h0M494.9 152.9h0M491.7 222.9h0M582.8 97.0h0M530.1 159.9h0M492.0 160.7h0M555.6 82.7h0M555.2 145.8h0M559.6 124.4h0M579.9 110.7h0M531.0 146.4h0M619.8 55.9h0M595.8 120.3h0M524.6 148.2h0M464.5 223.7h0M555.7 188.3h0M589.6 112.1h0M467.2 219.8h0M564.8 112.8h0M527.7 104.1h0M586.5 91.4h0M558.2 107.6h0M507.4 167.2h0M500.4 186.7h0M515.6 178.3h0M610.2 65.8h0M565.7 103.1h0M567.6 100.0h0M556.1 143.2h0M610.9 172.5h0M612.7 107.1h0M442.9 153.4h0M496.7 168.7h0M601.2 56.9h0M419.7 239.3h0M587.6 79.2h0M525.6 159.3h0M590.2 79.8h0M555.5 121.0h0M519.7 99.2h0M540.0 145.4h0M467.1 225.7h0M493.4 188.9h0M564.4 212.0h0M564.1 129.8h0M546.8 151.9h0M496.3 164.1h0M562.1 111.5h0M610.2 85.3h0M605.3 92.9h0M448.2 209.0h0M600.4 57.6h0M614.3 203.5h0M515.3 159.4h0M565.9 100.3h0M600.7 55.4h0M611.5 192.5h0M512.1 173.0h0M500.3 163.8h0M608.7 87.9h0M595.5 73.4h0M608.8 68.9h0M574.6 98.2h0M591.4 124.8h0M547.5 212.5h0M562.7 116.8h0M581.3 127.1h0M552.6 232.8h0M605.9 64.1h0M567.2 209.8h0M489.8 133.6h0M605.2 101.2h0M514.6 197.5h0M605.1 108.0h0M613.7 116.0h0M618.4 164.4h0M559.5 102.4h0M552.8 143.3h0M521.5 152.9h0M519.4 202.5h0M591.7 104.6h0M505.7 185.4h0M604.2 154.5h0M577.6 98.0h0M563.0 135.0h0M555.2 90.7h0M541.4 119.8h0M529.6 156.6h0M506.3 95.0h0M512.7 134.2h0M566.5 190.1h0M554.9 151.6h0M587.6 201.5h0M471.4 214.6h0M588.4 118.8h0M606.5 88.6h0M563.9 128.5h0M585.1 90.4h0M491.8 182.5h0M556.1 148.0h0M545.8 160.1h0M552.5 144.2h0M526.1 167.3h0M512.2 171.6h0M567.6 79.5h0M616.3 150.2h0M595.8 97.9h0M604.8 59.0h0M567.4 132.3h0M545.0 201.1h0M605.2 73.5h0M564.3 142.5h0M537.5 197.0h0M524.4 193.2h0M517.4 159.3h0M497.2 122.4h0" stroke="#e0180c"/><path d="M561.6 232.2h0M564.9 225.2h0M576.5 218.4h0M590.7 210.9h0M628.8 125.5h0M559.4 236.8h0M561.7 238.8h0M585.4 214.3h0M591.4 212.5h0M567.4 224.9h0M628.8 165.7h0M590.2 215.2h0M570.7 217.4h0M602.8 202.1h0M564.1 232.0h0M564.7 236.9h0M599.8 197.4h0M623.3 185.8h0M557.5 227.4h0M577.7 212.1h0M535.8 237.9h0M587.7 222.9h0M557.5 242.0h0M586.6 216.8h0M592.1 212.9h0M626.4 173.1h0M625.6 182.4h0M565.9 224.8h0M611.5 202.6h0M592.2 203.7h0M582.9 205.7h0M573.7 217.4h0M606.7 203.3h0M597.0 204.7h0M588.2 202.5h0M591.2 200.5h0M591.7 194.0h0M575.8 215.8h0M597.1 196.8h0M631.0 122.5h0M592.3 232.5h0M586.2 212.2h0M605.9 189.5h0M608.4 191.1h0M614.3 180.6h0M609.0 189.2h0M624.6 165.0h0M565.0 229.8h0M555.6 197.6h0M619.4 174.9h0M607.6 186.9h0M601.5 209.7h0M628.6 168.6h0M580.2 223.2h0M564.1 237.6h0M631.7 173.2h0M566.2 213.0h0M569.3 219.1h0M601.5 201.9h0M590.7 212.3h0M602.1 191.5h0M564.8 226.9h0M572.0 216.7h0M632.3 160.1h0M586.9 201.1h0M559.6 235.3h0M603.1 204.0h0M616.0 177.1h0M555.6 235.9h0M591.6 207.2h0M592.3 206.9h0M563.4 226.0h0M545.5 208.4h0M620.9 179.4h0M574.6 205.4h0M627.2 164.9h0M601.7 191.6h0M618.8 176.8h0M585.7 195.0h0M594.7 209.2h0M566.9 223.7h0M557.7 237.2h0M565.5 214.5h0M611.4 192.0h0M609.6 191.1h0M591.6 204.5h0M590.0 199.8h0M606.9 197.7h0M579.4 217.2h0M564.2 232.6h0M589.8 216.1h0M568.0 236.0h0M624.1 193.2h0M580.3 189.3h0M606.5 193.0h0M594.0 213.8h0M603.5 191.0h0M571.6 225.1h0M579.4 230.5h0M577.9 205.9h0M518.9 220.6h0M619.8 173.6h0M571.0 209.1h0M585.5 206.8h0M585.8 203.9h0M577.3 197.2h0M586.2 216.2h0M591.5 204.5h0M549.4 225.0h0M552.9 199.9h0M626.4 184.3h0M577.4 211.0h0M616.6 187.2h0M582.2 219.6h0M580.5 209.0h0M603.9 180.1h0M619.0 181.3h0M625.9 171.5h0M602.8 214.8h0M589.1 202.2h0M621.5 154.8h0M630.9 118.9h0M583.6 207.4h0M559.4 196.9h0M619.0 176.1h0M545.7 232.2h0M562.1 215.6h0M611.2 185.7h0M631.4 171.4h0M593.3 202.0h0M590.6 204.4h0M615.5 181.2h0M600.6 211.6h0M579.4 218.7h0M563.9 224.7h0M564.5 207.8h0M576.3 218.7h0M591.4 199.4h0M588.7 217.8h0M610.5 202.2h0M599.8 207.5h0M594.6 201.0h0M574.2 190.7h0M619.8 178.0h0M589.6 216.8h0M606.8 205.2h0M593.6 203.6h0M556.7 242.3h0M616.9 178.6h0M631.4 86.7h0M542.9 215.5h0M588.7 173.7h0M554.1 229.7h0M610.5 190.5h0M630.6 158.2h0M602.5 186.4h0M584.4 236.0h0M574.6 220.0h0M612.4 183.4h0M596.7 197.8h0M576.8 220.8h0M598.5 211.3h0M631.7 178.4h0M565.7 227.3h0M617.4 187.8h0M605.9 195.7h0M596.3 205.2h0M561.9 234.0h0M547.1 209.8h0M613.4 182.8h0M556.9 236.6h0M538.7 226.4h0M594.8 199.5h0M592.8 199.7h0M597.0 216.0h0M589.5 221.6h0M590.1 224.5h0M611.1 198.0h0M575.0 218.3h0M565.7 225.4h0M595.3 195.3h0M614.3 158.3h0M514.9 241.0h0M627.0 175.2h0M614.0 183.6h0M632.5 71.5h0M620.5 174.7h0M598.5 173.8h0M603.4 195.9h0M562.5 227.0h0M631.4 161.0h0M631.7 158.3h0M598.5 191.6h0M626.6 162.4h0M620.1 174.6h0M606.1 199.6h0M577.6 233.8h0M549.5 220.2h0M610.4 193.9h0M574.3 227.3h0M590.6 199.1h0M617.8 186.8h0M544.1 215.5h0M590.3 207.2h0M621.8 168.6h0M538.8 222.1h0M571.5 206.0h0M577.8 215.0h0M608.3 193.9h0" stroke="#6a14f8"/><path d="M555.1 202.1h0M578.9 230.6h0M619.0 180.2h0M574.8 211.8h0M574.4 213.0h0M564.2 231.3h0M629.5 55.1h0M629.6 186.4h0M608.6 184.0h0M603.9 192.8h0M622.6 196.9h0M610.5 183.5h0M584.3 220.0h0M630.5 101.5h0M611.5 181.9h0M585.2 181.4h0M606.5 188.2h0M624.3 192.4h0M561.7 202.3h0M601.2 197.1h0M558.9 237.4h0M559.8 236.9h0M565.0 210.3h0M567.3 239.7h0M539.7 225.0h0M589.2 201.7h0M572.1 238.6h0M581.0 227.4h0M613.1 183.9h0M604.2 187.4h0M572.6 232.9h0M610.1 207.1h0M608.4 204.3h0M608.4 208.0h0M581.0 231.4h0M619.1 191.8h0M630.9 197.4h0M615.4 183.6h0M609.6 187.7h0M629.1 95.7h0M606.8 206.0h0M587.9 215.6h0M629.5 93.9h0M571.1 232.0h0M617.3 177.0h0M596.4 227.7h0M607.5 195.2h0M596.9 197.2h0M623.6 180.6h0M555.9 228.8h0M632.4 157.3h0M575.0 238.0h0M565.3 224.1h0M604.8 195.3h0M606.5 199.6h0M582.1 221.6h0M604.4 210.8h0M627.9 167.1h0M601.5 212.4h0M578.8 213.2h0M555.9 234.6h0M615.3 178.3h0M575.7 216.9h0M565.5 217.4h0M587.5 221.4h0M604.0 205.3h0M580.9 240.2h0M577.8 216.0h0M594.8 211.2h0M593.8 223.0h0M596.0 176.4h0M563.5 204.5h0M576.8 211.6h0M624.4 180.8h0M611.6 191.7h0M582.3 237.7h0M616.5 197.2h0M568.0 215.2h0M580.7 188.8h0M588.8 208.8h0M593.7 210.6h0M630.0 159.1h0M593.0 206.5h0M602.7 226.8h0M595.3 214.2h0M561.7 236.8h0M630.5 181.7h0M625.7 143.4h0M586.7 215.4h0M629.9 170.5h0M590.2 199.6h0M544.2 215.4h0M589.4 207.6h0M562.4 236.9h0M618.2 196.1h0M571.6 222.5h0M577.1 233.7h0M571.4 237.4h0M555.6 215.4h0M569.5 214.3h0M629.6 117.5h0M584.7 223.3h0M588.9 204.9h0M566.0 224.8h0M542.1 214.7h0M587.6 205.2h0M582.8 206.6h0M593.8 196.9h0M607.9 195.8h0M628.2 183.0h0M605.5 193.3h0M613.0 198.3h0M620.0 182.2h0M595.6 212.1h0M605.6 210.2h0M574.9 214.6h0M630.3 186.5h0M580.7 222.1h0M613.6 192.9h0M626.1 168.6h0M574.9 232.9h0M572.8 220.2h0M588.5 203.4h0M619.3 186.0h0M620.1 195.5h0M586.7 207.3h0M620.8 188.9h0M587.5 224.9h0M577.6 216.7h0M602.6 212.8h0M571.3 234.6h0M595.2 194.6h0M571.7 217.4h0M617.3 196.9h0M622.6 179.4h0M598.5 213.5h0M564.4 239.4h0M565.8 231.0h0M573.5 197.2h0M601.2 208.1h0M601.8 192.5h0M618.5 161.7h0M600.5 209.6h0M573.1 237.5h0M614.2 190.7h0M574.5 211.6h0M581.7 226.8h0M624.6 175.9h0M568.2 228.9h0M624.9 181.3h0M566.7 233.0h0M606.4 195.9h0M617.1 186.8h0M600.8 198.0h0M629.3 138.0h0M558.3 216.9h0M625.0 167.3h0M617.7 189.1h0M567.9 219.6h0M561.5 231.8h0M597.8 211.0h0M603.8 199.7h0M621.8 164.4h0M585.3 209.4h0M603.6 199.8h0M622.3 192.8h0M583.2 189.2h0M583.5 215.2h0M565.6 203.1h0M587.8 212.5h0M556.8 215.9h0M583.8 217.6h0M587.5 217.8h0M583.2 206.8h0M558.1 233.8h0M585.5 229.9h0M595.1 218.6h0M620.1 187.6h0M576.1 217.9h0M631.8 171.4h0M577.7 208.8h0M610.7 207.5h0M595.2 216.2h0M625.4 176.0h0M629.2 162.4h0M632.2 60.7h0M614.9 178.2h0M616.1 197.1h0M598.0 202.7h0M560.6 231.5h0M614.1 170.3h0M610.5 202.3h0M601.8 189.4h0M581.8 219.9h0M569.1 223.9h0M592.1 213.5h0M582.7 228.8h0M631.7 155.4h0M571.7 230.8h0" stroke="#5b2df8"/><path d="M627.1 175.5h0M616.4 178.3h0M606.5 210.4h0M625.3 198.5h0M600.7 216.0h0M628.9 191.5h0M566.6 189.7h0M564.6 236.5h0M629.2 174.2h0M595.1 196.4h0M598.0 200.0h0M622.8 197.0h0M565.0 231.6h0M588.2 240.3h0M576.8 226.3h0M610.2 198.5h0M628.5 189.6h0M561.6 230.6h0M566.1 228.4h0M566.9 240.6h0M596.8 196.6h0M617.9 194.8h0M542.2 228.1h0M600.0 199.6h0M582.3 224.5h0M605.7 207.4h0M577.1 218.1h0M624.8 195.0h0M595.1 205.3h0M631.4 171.1h0M594.9 226.0h0M564.1 229.9h0M601.6 214.6h0M586.5 230.9h0M527.6 237.3h0M589.1 225.9h0M561.4 241.1h0M595.3 222.3h0M568.2 223.2h0M600.1 204.7h0M564.2 226.1h0M572.5 235.8h0M585.7 230.3h0M607.7 208.7h0M556.3 224.4h0M604.5 214.1h0M605.9 199.0h0M604.7 226.3h0M572.6 242.0h0M579.8 213.9h0M606.4 209.4h0M619.7 202.7h0M606.8 198.3h0M606.5 196.5h0M626.9 171.9h0M629.2 178.3h0M611.2 200.2h0M572.8 200.4h0M570.3 238.9h0M581.6 219.3h0M601.7 215.1h0M616.2 202.2h0M594.9 215.8h0M628.2 179.4h0M601.2 227.9h0M612.1 196.1h0M553.6 242.4h0M607.0 206.5h0M625.4 185.1h0M562.9 227.4h0M595.6 223.3h0M622.9 177.6h0M617.3 190.8h0M618.3 187.4h0M578.4 211.5h0M588.4 213.3h0M586.9 216.8h0M609.9 206.8h0M611.9 194.5h0M618.5 192.5h0M616.5 197.5h0M608.4 185.4h0M576.7 216.4h0M589.4 224.3h0M587.6 230.7h0M582.9 229.9h0M571.9 229.0h0M596.9 195.0h0M631.6 168.9h0M615.1 197.5h0M574.8 230.6h0M615.1 190.1h0M573.3 228.6h0M629.7 185.7h0M590.1 218.1h0M570.5 232.4h0M610.1 209.6h0M606.0 193.1h0M594.9 226.1h0M609.2 219.6h0M598.3 223.6h0M616.9 190.0h0M610.9 195.3h0M599.6 209.0h0M631.8 183.1h0M588.8 205.1h0M564.1 229.8h0M564.2 216.7h0M619.9 181.8h0M593.0 201.9h0M627.7 177.0h0M621.4 187.9h0M604.5 209.1h0M578.5 228.8h0M621.7 182.6h0M607.2 190.0h0M590.4 215.2h0M559.5 201.6h0M582.9 214.3h0M601.3 228.1h0M619.5 198.8h0M623.2 179.4h0M624.2 188.9h0M605.5 203.6h0M631.3 175.6h0M585.2 217.7h0M604.8 214.5h0M601.2 219.0h0M585.8 235.1h0M617.6 193.4h0M625.9 181.4h0M613.6 198.5h0M601.6 200.4h0M580.2 227.7h0M578.3 234.9h0M621.8 195.0h0M566.5 238.9h0M613.2 201.1h0M604.1 218.4h0M611.4 216.2h0M622.6 191.1h0M626.8 187.4h0M606.9 213.9h0M586.5 209.2h0M591.1 209.3h0M605.4 190.7h0M590.1 228.5h0M552.9 241.9h0M594.1 225.4h0M631.9 160.2h0M556.9 238.7h0M615.4 185.7h0M579.9 197.1h0M589.4 237.2h0M586.3 218.7h0M630.5 189.0h0M617.0 190.3h0M570.4 238.6h0M621.8 186.1h0M596.4 202.0h0M590.1 212.0h0M628.4 184.6h0M598.5 219.9h0M581.5 229.3h0M610.3 220.6h0M568.9 225.1h0M620.7 180.7h0M592.8 215.6h0M587.5 200.8h0M631.3 181.5h0M609.8 203.6h0M613.5 190.8h0M624.0 188.5h0M557.8 203.6h0M600.1 195.7h0M605.1 199.2h0M600.6 211.9h0M582.7 219.8h0M613.1 189.9h0M588.1 205.5h0M599.3 202.4h0M597.9 210.7h0M571.4 215.9h0M623.0 186.2h0M610.8 212.6h0M624.1 188.6h0M624.6 193.4h0M576.4 230.9h0" stroke="#4f47f8"/><path d="M631.9 184.3h0M594.8 224.6h0M606.6 215.7h0M628.4 177.9h0M602.2 210.3h0M590.3 213.3h0M614.5 211.3h0M621.0 188.2h0M610.9 213.6h0M627.8 182.3h0M595.9 239.9h0M610.3 214.4h0M580.0 221.5h0M564.3 236.1h0M566.7 241.1h0M612.6 204.5h0M591.7 240.6h0M599.4 221.1h0M568.1 240.5h0M598.9 227.6h0M625.9 179.1h0M621.6 203.6h0M585.5 206.1h0M600.0 220.4h0M598.3 221.9h0M603.7 213.4h0M589.5 214.5h0M631.2 174.5h0M610.6 210.4h0M566.7 235.6h0M576.1 217.6h0M592.1 225.2h0M609.1 211.3h0M613.0 215.5h0M600.0 207.5h0M576.6 221.6h0M603.5 213.3h0M617.3 202.4h0M594.8 229.6h0M626.5 200.3h0M591.6 242.3h0M591.9 231.8h0M609.9 208.0h0M602.4 240.6h0M567.2 239.8h0M604.4 202.0h0M580.7 228.8h0M575.3 224.6h0M595.1 194.9h0M528.9 238.4h0M593.3 234.7h0M591.7 225.9h0M603.7 228.6h0M595.9 218.6h0M558.9 242.0h0M573.8 238.3h0M593.3 233.7h0M545.1 196.0h0M603.8 239.4h0M613.6 203.6h0M601.9 222.7h0M618.2 192.7h0M577.9 237.8h0M576.8 231.4h0M611.3 208.7h0M627.6 163.5h0M583.5 227.6h0M610.5 215.5h0M505.4 223.5h0M628.2 187.1h0M618.3 209.3h0M601.2 221.0h0M577.1 225.2h0M598.1 215.5h0M580.8 231.1h0M566.3 235.1h0M600.2 176.6h0M588.4 235.2h0M591.2 232.5h0M618.3 212.6h0M616.5 205.3h0M572.3 238.4h0M564.3 238.5h0M580.9 178.1h0M587.0 233.7h0M584.0 228.3h0M589.7 224.3h0M623.7 194.1h0M566.8 241.8h0M592.8 236.6h0M612.4 196.6h0M576.7 228.5h0M631.6 185.1h0M577.6 239.4h0M573.5 223.2h0M603.7 230.7h0M631.5 181.8h0M597.3 236.1h0M593.7 228.9h0M630.5 177.1h0M610.0 189.9h0M597.1 235.2h0M573.1 223.9h0M628.6 184.2h0M590.6 216.2h0M614.6 183.1h0M615.0 190.0h0M599.4 224.7h0M575.8 237.5h0M624.2 195.2h0M572.4 222.1h0M565.7 240.1h0M624.3 175.3h0M576.5 230.1h0M579.3 204.1h0M592.8 218.7h0M616.0 209.0h0M624.2 193.3h0M598.5 228.7h0M599.5 222.4h0M600.5 213.5h0M624.6 184.6h0M607.5 226.0h0M573.4 237.5h0M586.2 227.9h0M593.9 215.9h0M586.0 234.9h0M602.4 220.0h0M556.9 235.1h0M548.3 232.5h0M631.0 191.4h0M603.7 211.3h0M604.6 217.8h0M609.4 212.2h0M588.7 230.7h0M613.3 202.4h0M591.5 210.9h0M614.4 207.9h0M623.7 197.6h0M570.5 237.2h0M572.2 239.9h0M592.1 238.5h0M593.4 218.5h0M616.3 181.2h0M607.9 217.1h0M601.7 234.4h0M611.8 203.5h0M580.4 229.6h0M622.1 201.2h0M622.2 214.2h0M589.6 209.5h0" stroke="#4a64f8"/><path d="M593.0 238.4h0M602.6 220.2h0M586.8 204.2h0M621.1 206.4h0M622.4 215.5h0M628.4 193.5h0M601.3 162.0h0M594.2 227.2h0M592.6 232.3h0M604.1 178.1h0M596.2 229.7h0M599.0 231.8h0M613.4 200.0h0M626.6 193.9h0M607.4 210.5h0M607.9 211.7h0M589.8 242.5h0M625.9 181.4h0M600.4 238.6h0M588.6 238.9h0M626.9 180.3h0M632.2 187.0h0M626.4 194.2h0M566.0 237.5h0M617.0 187.9h0M612.5 208.1h0M567.6 239.8h0M597.5 227.7h0M599.2 229.6h0M619.0 207.9h0M626.2 194.0h0M513.3 176.2h0M632.3 188.0h0M604.4 222.6h0M609.7 231.8h0M611.6 212.8h0M589.0 227.0h0M626.2 200.7h0M582.9 229.0h0M626.0 199.0h0M623.4 199.9h0M600.5 232.4h0M558.2 207.5h0M584.2 241.4h0M540.2 219.9h0M589.0 240.0h0M630.0 211.5h0M580.4 232.9h0M588.7 230.6h0M616.1 207.6h0M595.2 226.2h0M587.7 230.8h0M597.3 227.9h0M598.0 229.8h0M616.3 202.5h0M563.8 236.9h0M628.6 191.5h0M605.3 223.0h0M606.2 221.1h0M615.0 216.6h0M608.4 223.9h0M599.1 230.1h0M604.2 221.1h0M602.1 235.4h0M562.4 222.8h0M616.2 204.9h0M602.5 229.9h0M594.5 220.2h0M632.0 176.1h0M604.0 219.5h0M606.8 205.3h0M610.8 214.7h0M577.9 240.7h0M601.0 225.4h0M576.8 241.1h0M620.4 220.5h0M620.4 204.4h0M611.7 220.4h0M631.6 195.4h0M615.0 217.8h0M628.5 90.0h0M596.6 222.8h0M609.4 223.5h0M627.4 200.9h0M615.8 220.8h0M615.7 223.0h0M598.5 238.4h0M619.6 184.4h0M581.1 229.7h0M618.8 196.8h0M605.4 236.8h0M620.0 209.3h0M605.4 222.2h0M607.6 215.5h0M618.3 219.3h0M584.4 236.3h0M628.2 186.5h0M598.6 232.6h0M599.1 235.7h0M631.1 190.6h0M590.0 223.1h0M570.8 241.9h0M611.0 222.5h0M618.1 171.8h0M621.1 210.5h0M571.0 236.7h0M592.9 171.7h0M608.6 217.9h0M585.4 230.7h0M604.4 238.4h0M631.8 196.5h0M629.7 204.5h0M619.9 200.3h0M586.9 223.4h0M630.5 190.1h0" stroke="#4b79f7"/><path d="M537.6 217.5h0M624.1 206.1h0M624.8 206.4h0M610.3 225.8h0M600.6 227.7h0M616.0 218.1h0M629.3 209.5h0M620.5 215.0h0M605.9 217.1h0M604.3 220.8h0M621.3 210.7h0M614.4 211.5h0M606.2 228.3h0M577.8 239.5h0M622.4 203.8h0M612.0 212.8h0M516.9 197.8h0M626.7 191.7h0M561.3 204.2h0M623.0 207.2h0M563.3 210.7h0M585.3 239.6h0M594.1 236.5h0M614.1 211.8h0M598.1 238.3h0M626.3 208.2h0M625.3 216.5h0M613.0 228.5h0M626.8 195.4h0M598.0 233.0h0M620.8 206.5h0M597.1 242.3h0M615.3 210.9h0M600.5 232.3h0M618.0 229.0h0M625.6 208.5h0M577.3 238.2h0M607.4 227.6h0M591.2 235.8h0M623.3 204.7h0M631.2 194.0h0M620.2 205.9h0M616.0 219.2h0M627.8 213.0h0M631.4 57.5h0M622.4 193.7h0M632.0 74.9h0M632.4 194.7h0M626.1 211.5h0M630.9 210.3h0M593.4 242.4h0M631.3 177.3h0M613.0 224.6h0M581.0 242.2h0M619.8 218.0h0M607.4 227.1h0M601.0 242.4h0M582.3 194.2h0M596.0 238.5h0M594.1 242.2h0M602.4 240.0h0M577.5 241.1h0M594.6 233.9h0M609.3 214.5h0M601.8 235.3h0M607.3 223.8h0M617.4 210.7h0M590.4 235.9h0M613.2 192.5h0M566.0 209.2h0M598.0 227.7h0M618.7 203.2h0M611.0 216.9h0M588.7 237.6h0M540.6 224.7h0M631.9 198.0h0M632.1 188.7h0M582.8 181.9h0M600.1 237.6h0M625.6 199.3h0M620.8 195.8h0M621.9 209.8h0M597.0 229.8h0M584.0 235.5h0" stroke="#4f89f4"/><path d="M615.3 232.4h0M623.0 219.7h0M618.1 209.8h0M598.9 240.9h0M600.2 229.0h0M612.8 229.9h0M623.0 215.7h0M606.5 236.1h0M619.8 218.0h0M610.5 228.1h0M626.9 205.4h0M630.1 205.5h0M606.7 227.1h0M626.3 207.8h0M629.8 197.7h0M611.8 220.7h0M611.4 230.9h0M608.5 234.4h0M611.5 230.0h0M609.6 234.2h0M615.2 212.7h0M621.8 216.8h0M603.4 234.2h0M610.0 230.0h0M631.8 208.3h0M617.4 210.8h0M611.9 236.2h0M594.5 241.4h0M629.6 206.7h0M613.1 233.8h0M611.9 218.8h0M611.8 217.1h0M604.0 221.7h0M625.4 209.2h0M607.9 231.7h0M631.3 206.5h0M615.8 230.5h0M614.4 216.5h0M630.8 206.8h0M584.6 238.8h0M614.6 212.9h0M625.7 207.5h0M610.2 228.3h0M603.0 235.0h0M602.9 233.9h0M619.2 227.0h0M610.1 230.3h0M623.0 219.8h0M614.3 224.1h0M632.2 202.8h0M615.4 222.9h0" stroke="#569af2"/><path d="M616.5 231.5h0M616.6 229.6h0M597.9 236.6h0M630.1 208.3h0M600.5 241.5h0M623.9 220.4h0M627.2 212.6h0M620.2 226.4h0M617.7 232.3h0M618.2 217.4h0M628.2 216.1h0M608.3 230.0h0M605.9 240.7h0M611.7 231.5h0M626.1 220.5h0M622.6 221.4h0M625.3 221.2h0M617.6 221.5h0M615.6 233.6h0M593.0 236.9h0M601.3 230.3h0M623.4 220.0h0M621.0 222.5h0M594.9 240.7h0M614.4 213.6h0M631.8 206.8h0M605.4 236.1h0M607.5 234.2h0M605.6 240.9h0M606.2 231.0h0M614.6 232.3h0M624.0 216.4h0M614.1 229.8h0M625.8 213.8h0M614.2 234.5h0" stroke="#5daaf0"/><path d="M605.7 234.0h0M615.6 223.5h0M630.4 209.8h0M619.2 220.4h0M615.8 227.1h0M614.9 231.5h0M618.1 230.7h0M616.1 224.9h0M609.8 241.8h0M630.6 211.6h0M620.2 229.1h0M620.1 224.6h0M621.0 219.1h0M621.5 216.1h0M629.6 217.2h0M623.0 215.2h0M601.0 236.1h0M620.6 221.8h0M628.5 217.0h0M627.1 215.0h0M613.6 236.9h0M617.3 217.0h0M612.3 225.4h0M629.0 209.9h0M630.1 207.4h0M609.3 238.9h0M612.2 239.0h0M631.2 209.5h0" stroke="#64b7ed"/><path d="M612.1 125.7h0M616.7 78.7h0M560.2 182.7h0M543.0 190.2h0M547.0 169.5h0M613.0 133.3h0M613.0 234.6h0M615.7 102.3h0M553.4 185.2h0M603.2 142.1h0M607.3 117.7h0M615.4 232.2h0M567.3 162.0h0M631.8 212.1h0M611.0 235.6h0M564.0 166.7h0M613.8 234.7h0M597.5 161.3h0M546.2 194.0h0M597.9 132.4h0M556.2 158.5h0M622.9 70.6h0M581.0 160.2h0M520.2 172.2h0M608.9 133.7h0M626.1 220.6h0M632.2 213.3h0" stroke="#6bc4e9"/><path d="M603.2 113.9h0M618.2 91.5h0M540.9 189.2h0M586.1 180.1h0M564.5 220.5h0M578.5 168.6h0M521.1 196.5h0M552.0 164.7h0M549.3 222.0h0M610.5 118.0h0M549.0 172.9h0M618.7 112.0h0M545.7 173.7h0M508.4 203.7h0M451.0 177.4h0M577.8 155.4h0M541.3 159.2h0M602.8 127.9h0M616.3 97.6h0M616.3 95.5h0M556.7 160.3h0M582.5 167.5h0M603.0 101.8h0M585.6 153.3h0M611.3 101.0h0M531.8 228.2h0M597.6 113.6h0M547.4 203.8h0M618.4 86.7h0M599.7 138.7h0M558.8 172.9h0M596.8 162.4h0M558.3 159.0h0M613.0 234.7h0M595.2 144.7h0M594.3 150.1h0M594.8 131.5h0M572.7 159.9h0M576.9 166.1h0M472.7 214.1h0M561.4 155.7h0M551.9 155.0h0M617.9 90.7h0M588.1 146.0h0M623.8 68.7h0M583.0 152.2h0M548.0 165.4h0M610.6 113.0h0M568.9 147.6h0M559.7 175.6h0M565.0 189.3h0M578.1 147.8h0M612.1 114.7h0M595.5 121.3h0M511.4 174.5h0M559.3 188.0h0M494.4 159.7h0M577.4 152.8h0M586.1 161.1h0M603.3 135.1h0M618.0 93.1h0M525.3 225.6h0M608.0 124.4h0M602.0 153.3h0M555.1 173.4h0M576.6 135.7h0M461.3 220.7h0M474.9 192.7h0M610.1 109.9h0M469.5 216.3h0M610.3 116.8h0M571.3 176.1h0M576.5 152.8h0M559.8 170.8h0M438.7 183.7h0M550.6 239.9h0M602.2 153.1h0M523.3 221.8h0M554.1 174.0h0M607.0 132.5h0M609.8 98.5h0M551.7 224.9h0M532.6 157.1h0M617.2 103.3h0M573.5 155.6h0M598.8 108.4h0M600.0 146.0h0M543.8 150.3h0M620.4 85.4h0M614.6 106.7h0M566.0 184.3h0M610.4 93.6h0M539.5 155.2h0M593.0 137.7h0M549.7 217.3h0M602.5 147.1h0M598.6 143.3h0M592.9 146.9h0M531.3 171.7h0M604.3 144.2h0M611.5 125.3h0M537.4 229.8h0M590.9 169.4h0M560.6 180.6h0M500.3 189.6h0M564.5 172.4h0M582.9 164.7h0M555.3 187.5h0M585.6 165.2h0M572.3 150.5h0M588.5 183.4h0M546.5 174.1h0M617.0 149.0h0M574.3 158.4h0M547.5 188.0h0M498.4 184.6h0M548.9 158.5h0M512.2 164.6h0M584.9 173.8h0M603.8 117.0h0M576.1 160.2h0M568.9 167.2h0M576.4 163.7h0M545.0 206.7h0M547.8 189.6h0M576.3 174.9h0M590.6 138.5h0M583.1 134.3h0M588.0 151.6h0M540.1 180.7h0M536.5 227.8h0M594.6 159.3h0M562.6 179.6h0M537.9 218.4h0M544.7 180.4h0M610.4 122.9h0M493.7 217.2h0M533.9 187.9h0M541.0 202.1h0M550.9 170.8h0M566.2 166.4h0M609.4 86.4h0M622.8 219.4h0M556.7 196.5h0M569.3 148.8h0M589.4 167.6h0M588.4 167.8h0M613.4 106.4h0M536.6 167.8h0M569.7 178.5h0M596.9 139.5h0M590.7 139.4h0M607.8 97.6h0M597.5 141.5h0M608.8 113.4h0M605.7 139.1h0M597.5 150.7h0M591.4 161.5h0M610.0 116.4h0M603.8 104.0h0M548.9 170.7h0M559.8 178.0h0M582.1 158.1h0M609.8 102.2h0M511.9 201.3h0M577.7 178.0h0M613.6 90.6h0M554.8 166.2h0M517.7 182.1h0M552.8 170.2h0M613.1 124.5h0M557.0 153.0h0M611.8 127.8h0M607.7 99.5h0M600.7 116.3h0M595.8 155.8h0M621.0 106.2h0M504.8 176.3h0M600.0 136.6h0M573.2 179.0h0M576.7 164.4h0M616.3 91.2h0M589.2 163.2h0M596.4 145.9h0M538.4 182.7h0M512.0 162.1h0M555.8 168.3h0M608.6 100.8h0M619.5 71.5h0M575.1 164.2h0M579.6 160.7h0M556.7 195.1h0M538.5 169.7h0M611.0 84.3h0M549.0 203.9h0M552.3 151.7h0M463.7 238.8h0M548.1 162.9h0M601.7 105.5h0M616.7 102.3h0M601.9 148.7h0M574.4 143.6h0M557.1 168.1h0M611.7 121.7h0M578.7 145.2h0M526.8 189.6h0M548.3 191.8h0M553.2 178.0h0M471.3 220.2h0M539.4 177.8h0M585.5 163.6h0M551.5 170.0h0M537.3 178.2h0M597.4 113.4h0M558.0 168.8h0M579.3 171.0h0M622.4 94.4h0M563.4 160.8h0M541.7 173.6h0M575.5 152.4h0M589.3 145.5h0M508.1 193.1h0M520.9 181.5h0M519.9 168.6h0M609.5 94.9h0M591.4 150.8h0M549.5 168.8h0M596.9 130.6h0M599.8 141.8h0M612.8 101.0h0M587.9 170.4h0M608.8 93.3h0M581.9 154.7h0M470.4 197.4h0M582.9 143.6h0M603.8 109.5h0M554.1 173.3h0M547.3 191.5h0M568.1 175.2h0M585.3 162.4h0M583.9 168.9h0M594.5 164.7h0M601.5 140.5h0M607.1 112.1h0M550.2 150.3h0M614.5 101.4h0M600.1 176.2h0M597.3 111.1h0M573.3 174.0h0M535.8 166.3h0M521.6 187.5h0M537.7 183.8h0M585.3 190.0h0M601.7 125.1h0M558.9 178.7h0M608.9 86.9h0M575.5 172.9h0M493.7 196.6h0M585.4 166.1h0M590.4 126.4h0M595.6 133.9h0M524.7 180.8h0M593.8 123.4h0M582.0 169.2h0M599.3 128.6h0M540.9 162.9h0M515.5 149.7h0M544.1 175.5h0M610.4 117.3h0M612.7 98.6h0M536.6 215.2h0M555.1 166.8h0M576.8 170.4h0M525.5 191.2h0M592.8 135.4h0M571.1 146.3h0M578.0 183.1h0M482.0 134.6h0M550.3 165.7h0M565.7 152.2h0M611.5 96.7h0M526.3 221.4h0M559.7 165.2h0M530.4 232.6h0M590.3 153.2h0M612.1 123.8h0M454.7 230.8h0M559.2 191.8h0M515.3 141.7h0M597.9 134.8h0M617.9 72.9h0M607.1 107.3h0M584.8 165.9h0M521.8 190.4h0M618.4 83.4h0M587.6 130.7h0M596.2 129.5h0M576.4 149.9h0M569.0 170.6h0M549.0 229.7h0M580.7 167.6h0M563.7 179.3h0M611.7 97.5h0M604.8 110.7h0M545.4 211.1h0M582.1 163.4h0M582.1 173.8h0M522.0 211.2h0M553.7 216.8h0M614.9 98.0h0M601.9 169.3h0M543.8 188.4h0M519.0 165.4h0M556.8 175.1h0M575.2 150.1h0M559.8 171.6h0M604.3 109.9h0M608.7 95.9h0M606.8 101.9h0M601.5 123.8h0M526.6 199.2h0" stroke="#72d0e2"/><path d="M548.1 180.6h0M515.2 170.1h0M586.7 166.5h0M543.7 186.9h0M568.1 161.8h0M577.9 142.9h0M592.0 124.5h0M555.5 182.3h0M559.4 159.9h0M606.3 96.9h0M600.5 105.6h0M569.0 145.3h0M578.9 177.2h0M568.0 195.9h0M559.5 166.4h0M518.2 160.6h0M613.8 124.2h0M566.2 153.1h0M468.4 217.7h0M600.5 136.7h0M556.5 230.7h0M611.6 131.7h0M574.0 180.9h0M455.6 197.0h0M605.4 178.2h0M510.5 197.8h0M580.3 192.0h0M507.3 174.8h0M597.9 139.8h0M609.5 96.4h0M530.2 185.1h0M613.1 108.0h0M553.4 174.8h0M578.3 172.7h0M593.6 122.8h0M564.6 182.6h0M532.2 184.9h0M591.8 139.4h0M577.8 146.5h0M594.7 159.7h0M596.2 138.2h0M556.7 211.8h0M596.5 107.5h0M569.1 171.5h0M591.0 144.7h0M605.9 97.0h0M613.1 130.3h0M552.7 183.1h0M500.6 216.9h0M614.2 103.2h0M562.6 151.8h0M608.3 174.0h0M460.2 215.3h0M520.2 186.6h0M613.5 117.3h0M587.7 152.4h0M572.9 189.3h0M572.8 136.5h0M502.1 135.6h0M507.2 212.0h0M538.1 147.6h0M607.4 99.7h0M618.4 85.9h0M547.7 165.0h0M559.4 183.3h0M613.8 99.3h0M511.4 218.8h0M541.1 173.1h0M578.0 168.7h0M608.0 107.4h0M542.5 198.6h0M559.9 163.6h0M548.2 178.3h0M593.5 130.6h0M598.4 111.6h0M513.9 175.0h0M543.2 169.2h0M606.0 103.0h0M551.1 184.5h0M548.2 178.8h0M593.4 148.5h0M544.4 193.8h0M622.0 72.7h0M563.5 190.3h0M602.2 145.9h0M492.5 208.5h0M604.0 169.4h0M552.5 185.3h0M602.6 142.7h0M573.7 150.7h0M610.3 103.0h0M606.4 102.9h0M576.8 146.0h0M598.5 132.5h0M520.8 197.1h0M536.7 202.0h0M527.5 169.2h0M543.4 160.2h0M513.1 161.0h0M566.0 162.3h0M517.2 217.6h0M499.0 126.5h0M491.5 141.9h0M589.8 164.6h0M589.1 133.6h0M551.3 168.9h0M601.9 136.6h0M531.4 160.3h0M599.5 124.3h0M598.2 130.9h0M558.1 161.4h0M536.1 208.4h0M456.1 152.5h0M544.3 203.4h0M488.9 209.8h0M587.6 166.9h0M604.8 103.3h0M594.7 135.8h0M561.0 172.6h0M567.6 159.0h0M602.7 110.4h0M612.8 133.1h0M547.6 213.1h0M580.5 156.4h0M534.1 234.2h0M599.4 136.7h0M567.2 178.5h0M520.2 226.1h0M571.7 205.6h0M489.8 237.5h0M518.4 194.7h0M515.4 189.0h0M550.7 174.8h0M587.2 147.0h0M620.2 108.8h0M439.1 217.6h0M606.4 91.1h0M513.3 188.8h0M514.9 189.7h0M609.1 104.2h0M580.2 152.3h0M622.7 151.3h0M591.8 150.4h0M609.9 170.1h0M587.1 188.6h0M524.1 237.5h0M572.6 176.6h0M594.1 127.7h0M533.5 198.9h0M500.5 190.7h0M508.7 180.8h0M602.7 115.3h0M596.2 125.5h0M510.5 241.1h0M545.9 162.8h0M609.6 90.5h0M558.2 177.8h0M549.1 176.1h0M597.9 137.1h0M616.9 105.0h0M622.1 100.0h0M583.5 174.1h0M594.1 165.9h0M611.3 123.1h0M564.3 151.6h0M561.8 181.5h0M602.1 103.7h0M619.5 113.1h0M602.9 114.7h0M565.2 154.9h0M537.7 238.8h0M590.6 147.9h0M570.1 196.6h0M576.3 163.9h0M525.2 188.3h0M595.2 144.8h0M581.0 161.5h0M577.0 155.4h0M487.7 154.7h0M577.4 158.2h0M466.3 201.6h0M551.5 231.8h0M549.1 167.7h0M586.7 142.0h0M582.8 164.6h0M599.3 159.7h0M508.2 138.2h0M588.2 128.0h0M563.8 181.1h0M609.9 92.9h0M471.6 218.1h0M513.6 141.7h0M611.2 101.4h0M621.0 99.3h0M557.6 187.7h0M534.2 203.2h0M589.9 139.8h0M544.6 205.4h0M589.9 165.4h0M554.0 178.1h0M584.5 152.7h0M593.5 120.1h0M531.1 167.6h0M615.8 106.1h0M578.7 166.4h0M519.5 153.1h0M613.1 124.4h0M541.6 184.5h0M608.6 97.1h0M534.8 218.2h0M614.7 171.1h0M585.6 126.7h0M616.1 143.5h0M553.2 223.0h0M563.1 141.4h0M499.1 175.5h0M514.1 200.4h0M582.4 162.6h0M548.6 192.6h0M588.9 166.0h0M599.2 122.7h0M565.8 161.7h0M568.5 181.6h0M604.3 98.0h0M569.5 145.5h0M561.9 218.0h0M542.9 166.5h0M594.9 136.5h0M548.9 159.5h0M596.9 146.3h0M555.9 189.5h0M625.8 160.1h0M589.5 148.4h0M591.9 160.3h0M608.6 129.4h0M631.0 151.8h0M609.3 134.8h0M598.6 122.8h0M589.7 144.3h0M590.0 146.2h0M596.6 154.4h0M566.6 147.4h0M617.1 116.7h0M566.0 160.3h0M586.7 142.4h0M622.1 165.0h0M617.6 116.1h0M596.6 122.9h0M602.3 123.9h0M535.1 171.3h0M613.3 110.2h0M617.4 170.4h0M540.6 209.3h0M621.4 84.8h0M592.3 126.2h0M580.7 205.8h0M559.0 156.4h0M608.6 146.7h0M513.4 202.2h0M581.9 173.4h0M558.8 173.9h0M570.8 152.1h0M511.7 198.1h0M579.6 141.1h0M567.9 150.8h0M473.0 211.4h0M556.8 165.2h0M599.6 118.1h0M568.1 168.0h0M574.7 167.8h0M566.9 151.2h0M579.9 176.1h0M557.2 153.0h0M540.4 218.7h0M601.2 133.0h0M526.9 147.4h0M612.1 85.1h0M584.7 147.1h0M581.3 150.0h0M573.8 147.1h0M598.2 107.0h0M581.7 153.3h0M475.2 120.3h0M562.7 159.1h0M564.2 161.8h0M513.4 180.1h0M567.4 143.3h0M563.7 146.9h0M513.5 198.5h0M572.7 169.9h0M612.2 130.0h0M622.5 80.6h0M622.1 90.0h0M598.1 188.8h0M611.0 133.6h0M577.0 174.7h0M593.8 130.3h0M597.5 130.8h0M537.8 197.0h0M596.8 147.5h0M545.0 199.5h0M585.6 168.2h0M607.6 97.0h0M559.7 184.1h0M576.2 136.8h0M615.3 121.4h0M585.2 157.8h0M557.5 167.9h0M555.6 196.4h0M610.3 122.7h0M618.0 89.2h0M568.6 165.9h0M497.4 212.3h0M591.2 196.9h0M600.3 145.7h0M619.5 78.5h0M589.5 148.5h0M576.8 158.4h0M610.8 175.5h0M612.1 114.4h0M577.0 148.6h0M508.9 164.0h0M600.6 133.4h0M533.7 184.8h0M558.0 180.5h0M563.1 175.0h0M572.6 138.0h0M623.8 68.3h0M551.7 162.0h0M602.0 143.0h0M610.1 114.2h0M506.9 189.2h0M540.2 230.1h0M619.7 171.1h0M594.0 157.2h0M616.3 80.1h0M563.4 180.9h0M563.3 161.4h0M565.4 147.3h0M533.1 200.3h0M621.9 73.7h0M616.1 142.4h0M567.9 141.6h0M563.5 153.7h0M605.4 149.4h0M579.0 164.8h0M590.2 148.8h0M565.7 171.9h0M547.8 150.4h0M600.1 154.2h0M567.9 169.2h0M579.3 176.9h0M586.3 154.9h0M572.9 153.0h0M506.0 215.3h0M535.9 156.0h0M575.7 167.9h0M609.1 120.1h0M606.9 95.0h0M496.4 184.7h0M540.7 164.0h0M607.0 135.0h0M584.3 155.2h0" stroke="#79dada"/><path d="M555.5 185.5h0M539.4 193.0h0M624.3 86.2h0M493.0 164.6h0M585.5 149.4h0M591.0 143.1h0M587.6 165.0h0M606.7 115.4h0M521.4 146.1h0M512.2 195.8h0M470.5 240.2h0M623.0 85.5h0M542.5 175.7h0M572.7 174.8h0M623.5 81.2h0M594.0 127.8h0M598.7 118.1h0M611.1 112.7h0M607.7 121.9h0M602.9 106.6h0M504.3 191.2h0M530.0 191.6h0M571.4 144.8h0M557.6 167.1h0M606.7 125.3h0M578.9 191.9h0M485.3 219.7h0M617.1 93.6h0M512.3 185.7h0M565.8 173.8h0M591.7 166.8h0M536.3 189.5h0M610.3 110.2h0M617.6 103.3h0M561.9 157.3h0M514.1 239.8h0M535.3 218.0h0M524.5 186.5h0M519.3 188.4h0M530.7 182.6h0M549.1 176.8h0M618.0 78.2h0M532.5 180.7h0M603.0 111.6h0M605.5 119.9h0M606.9 110.6h0M402.5 177.9h0M511.0 161.0h0M597.6 109.9h0M590.5 152.2h0M540.0 207.7h0M501.9 185.7h0M564.9 185.7h0M526.1 208.0h0M602.7 114.9h0M562.0 172.4h0M613.4 112.5h0M573.8 150.8h0M544.5 154.8h0M605.2 122.2h0M583.4 154.9h0M540.0 171.7h0M616.4 119.2h0M494.1 214.4h0M550.7 191.8h0M544.9 167.4h0M481.7 198.5h0M556.7 158.0h0M612.1 80.6h0M614.4 122.2h0M620.5 70.9h0M523.7 189.0h0M582.9 149.3h0M582.6 149.2h0M603.4 140.9h0M612.3 108.7h0M574.3 139.1h0M588.1 150.9h0M493.7 160.5h0M571.5 139.4h0M618.1 106.9h0M474.7 206.4h0M568.3 154.8h0M612.3 123.7h0M495.7 185.9h0M564.9 158.6h0M519.3 174.3h0M578.5 167.3h0M612.4 124.8h0M604.2 122.3h0M507.1 172.3h0M573.5 180.6h0M606.6 91.9h0M594.2 162.3h0M607.4 132.8h0M534.0 178.9h0M585.6 162.6h0M552.8 162.2h0M600.6 113.2h0M610.8 102.8h0M568.2 153.9h0M619.2 68.8h0M620.8 85.1h0M552.6 164.8h0M548.4 191.4h0M549.7 185.3h0M539.0 187.3h0M582.4 172.7h0M618.7 93.0h0M602.9 100.0h0M452.9 223.7h0M581.8 150.9h0M618.4 92.9h0M608.1 105.1h0M576.5 177.4h0M467.2 220.0h0M441.3 204.4h0M607.6 109.9h0M593.0 157.0h0M545.0 173.3h0M582.8 162.8h0M510.3 80.5h0M620.4 84.9h0M551.8 187.8h0M561.0 180.4h0M545.0 190.8h0M597.7 135.3h0M613.6 104.0h0M580.1 154.2h0M511.9 196.2h0M551.1 187.3h0M551.6 191.1h0M576.7 150.1h0M591.2 165.0h0M572.5 183.8h0M562.0 153.4h0M592.8 160.4h0M603.9 155.2h0M617.5 72.5h0M584.9 137.0h0M544.5 174.8h0M582.1 149.8h0M512.4 157.1h0M609.6 132.0h0M622.9 84.5h0M529.1 188.3h0M564.6 146.3h0M576.0 153.4h0M572.4 143.1h0M607.0 123.1h0M590.4 133.7h0M484.2 115.6h0M608.4 120.1h0M600.9 98.1h0M544.1 183.3h0M623.3 93.2h0M596.9 138.6h0M590.3 171.0h0M568.6 179.1h0M600.3 123.7h0M590.0 145.8h0M532.8 180.9h0M617.6 73.6h0M619.1 86.8h0M550.5 187.4h0M594.9 149.0h0M585.7 131.3h0M542.1 171.5h0M571.7 151.2h0M613.5 126.1h0M593.8 130.4h0M575.5 148.1h0M429.7 121.0h0M576.4 151.9h0M606.2 125.4h0M585.6 168.0h0M585.5 139.6h0M538.4 186.9h0M479.9 212.5h0M534.8 184.0h0M606.2 134.4h0M553.6 184.1h0M576.8 146.3h0M552.7 181.8h0M597.2 123.7h0M599.5 162.8h0M552.7 160.7h0M616.0 85.7h0M587.9 150.1h0M549.3 193.4h0M588.3 124.6h0M567.4 172.4h0M580.3 151.6h0M572.7 162.3h0M504.9 236.2h0M575.1 144.3h0M516.0 200.5h0M620.1 82.6h0M548.0 182.2h0M606.4 109.0h0M544.1 170.9h0M558.7 162.3h0M552.9 234.8h0M553.9 230.7h0M602.4 138.9h0M569.0 179.0h0M586.9 139.9h0M549.9 207.2h0M429.8 146.5h0M581.4 158.5h0M607.3 94.9h0M547.1 163.8h0M607.6 104.3h0M582.1 168.7h0M611.2 107.0h0M584.9 140.3h0M528.8 204.4h0M602.2 109.9h0M551.5 170.6h0M619.5 91.1h0M615.1 110.0h0M587.8 172.0h0M602.8 167.6h0M609.0 98.6h0M547.5 169.2h0M623.9 77.6h0M617.1 91.8h0M601.9 141.9h0M573.8 161.6h0M593.0 130.1h0M545.9 180.4h0M510.0 148.7h0M555.1 177.6h0M572.7 152.8h0M603.1 140.7h0M519.9 188.9h0M610.2 100.5h0M534.1 170.8h0M530.6 177.2h0M602.8 114.2h0M482.9 158.1h0M623.4 93.8h0M562.9 223.6h0M614.2 118.7h0M607.1 112.5h0M584.0 133.6h0M592.1 148.8h0M471.6 227.4h0M473.9 218.4h0M545.7 177.4h0M603.4 118.8h0M568.1 154.5h0M475.2 231.0h0M538.3 183.3h0M496.4 92.2h0M619.0 78.8h0M541.5 145.5h0M557.1 177.6h0M504.7 181.5h0M607.8 111.2h0M601.0 101.1h0M576.8 146.6h0M576.1 152.2h0M565.1 171.9h0M576.3 150.3h0M597.5 144.5h0M601.6 144.8h0M561.0 181.8h0M542.8 179.6h0M602.0 124.0h0M517.3 179.7h0M544.8 220.9h0M624.3 61.1h0M531.5 209.1h0M603.4 132.8h0M593.9 146.3h0M553.5 224.2h0M617.3 96.2h0M624.6 164.6h0M610.0 87.5h0M573.8 161.3h0M598.2 112.2h0M557.6 171.2h0M551.6 174.9h0M560.7 143.3h0M505.1 227.6h0M609.3 143.0h0M556.0 151.7h0M619.4 86.6h0M606.9 141.4h0M600.4 126.8h0M623.9 95.0h0M615.4 94.7h0M552.3 167.5h0M577.9 168.1h0M602.8 131.2h0M599.4 134.3h0M566.4 159.0h0M571.1 148.1h0M582.0 138.5h0M580.5 134.4h0M590.4 172.7h0M599.9 143.4h0M543.5 163.4h0" stroke="#80e3d1"/><path d="M608.8 142.1h0M592.7 141.3h0M593.3 162.6h0M488.2 196.6h0M613.9 128.0h0M601.4 138.9h0M519.8 192.1h0M444.6 96.2h0M609.0 102.0h0M498.3 198.0h0M607.5 107.4h0M536.9 211.5h0M554.5 160.9h0M584.2 158.5h0M623.0 87.2h0" stroke="#87eac7"/><path d="M458.0 225.2h0M414.4 213.7h0M500.4 207.3h0M591.3 57.5h0M601.0 104.5h0M579.1 128.4h0M511.4 215.1h0M494.1 194.7h0M491.7 182.7h0M504.6 177.3h0M567.5 61.1h0M581.5 92.1h0M547.9 122.5h0M592.9 122.6h0M496.2 141.7h0M597.7 114.3h0M618.6 55.5h0M601.8 68.6h0M513.4 167.5h0M504.4 124.7h0M596.6 69.5h0M497.8 180.2h0M573.1 109.6h0M565.1 129.3h0M571.9 125.9h0M470.2 148.8h0M604.8 88.8h0M461.5 238.2h0M603.3 52.8h0M475.9 221.5h0M520.9 209.1h0M437.4 222.7h0M492.3 168.9h0M499.4 204.7h0M459.6 222.5h0M604.0 86.7h0M573.2 131.0h0M541.7 144.0h0M578.3 128.8h0M538.0 146.3h0M598.5 99.2h0M509.7 162.4h0M575.5 135.5h0M602.8 76.6h0M540.5 148.0h0M415.9 104.5h0M592.7 83.7h0M508.6 148.0h0M483.2 223.0h0M531.4 131.3h0M529.8 147.0h0M516.2 155.3h0M599.7 69.8h0M575.9 136.7h0M514.3 194.2h0M477.0 213.2h0M506.7 153.5h0M608.1 83.8h0M604.4 52.4h0M512.0 178.9h0M456.8 223.9h0M565.6 119.6h0M590.0 125.1h0M607.1 97.3h0M482.1 71.1h0M493.7 194.8h0M582.1 71.0h0M570.9 136.9h0M568.2 96.8h0" stroke="#8feebd"/><path d="M568.9 128.8h0M562.5 103.4h0M511.2 171.0h0M470.9 168.1h0M501.6 216.2h0M546.6 129.6h0M577.3 117.1h0M561.2 106.8h0M541.4 130.6h0M512.8 173.6h0M595.2 65.1h0M521.3 166.9h0M593.7 88.5h0M607.0 72.9h0M528.6 128.7h0M463.0 199.1h0M601.7 102.6h0M614.8 71.6h0M603.6 88.3h0M613.4 59.9h0M551.8 121.4h0M493.8 202.3h0M479.9 156.0h0M412.9 147.7h0M484.7 190.0h0M570.8 117.4h0M555.9 120.6h0M578.2 64.8h0M588.1 104.5h0M540.9 123.6h0M542.2 139.7h0M539.9 141.0h0M578.6 124.9h0M481.0 182.9h0M582.0 102.4h0M406.7 137.0h0M462.2 218.4h0M604.7 66.8h0M495.0 105.6h0M566.8 119.7h0M516.4 148.6h0M545.4 98.1h0M477.6 185.7h0M593.5 108.9h0M560.0 151.1h0M547.9 135.0h0M530.0 171.4h0M546.2 121.3h0M525.2 115.7h0M532.6 183.2h0M468.6 194.4h0M537.0 147.5h0M550.5 106.3h0M470.9 210.7h0M597.8 57.0h0M476.5 206.6h0M472.3 232.8h0M457.7 233.4h0M580.6 134.7h0M602.4 70.0h0M491.3 161.4h0M515.9 162.7h0M518.6 159.7h0M545.6 111.4h0M586.2 72.6h0M561.0 112.3h0M545.1 119.0h0M536.4 146.6h0M607.1 73.6h0M578.8 110.2h0M583.0 121.3h0M508.8 177.2h0M553.0 137.6h0M588.8 127.3h0M559.3 150.8h0M545.7 120.3h0M453.5 136.8h0M491.3 144.5h0M597.0 109.6h0M580.2 90.1h0M434.4 230.5h0M542.8 153.6h0M564.3 127.2h0M593.9 81.2h0M423.2 136.0h0M533.5 147.2h0M567.2 120.3h0M617.1 65.6h0M527.4 173.3h0M515.4 233.6h0M553.2 136.3h0M576.1 91.6h0M539.3 158.9h0M460.9 220.0h0M537.9 123.9h0M608.9 58.0h0M562.2 96.3h0M562.0 145.2h0M538.9 155.3h0M602.1 56.2h0M515.4 123.8h0M564.7 119.2h0M425.7 234.5h0M569.2 105.5h0M590.5 56.6h0M571.3 97.2h0M542.3 139.4h0M588.1 75.8h0M498.8 213.2h0M517.7 165.9h0M594.0 116.9h0M585.1 124.0h0M593.9 100.8h0M613.6 71.3h0M521.0 116.9h0M411.2 235.9h0M556.6 145.1h0M490.6 150.4h0M538.8 135.0h0M583.9 108.8h0M503.3 132.9h0M560.9 121.4h0M584.4 83.9h0M553.4 128.2h0M566.9 73.1h0M554.2 106.1h0M520.5 138.1h0M534.4 112.8h0" stroke="#9aefaf"/><path d="M553.5 119.3h0M512.0 193.9h0M534.1 162.9h0M467.9 192.7h0M540.2 145.1h0M497.6 171.1h0M587.1 127.8h0M602.3 88.9h0M591.4 121.5h0M615.8 72.4h0M529.2 155.7h0M573.5 136.0h0M595.5 108.5h0M528.7 134.3h0M538.7 133.6h0M552.7 157.9h0M533.6 150.3h0M558.7 95.4h0M578.0 112.8h0M587.0 79.0h0M497.8 210.0h0M582.4 80.2h0M573.2 74.5h0M551.4 156.9h0M489.6 143.6h0M432.7 240.6h0M487.7 206.3h0M502.3 196.4h0M546.1 114.7h0M574.7 120.0h0M471.6 159.9h0M449.5 224.1h0M615.1 73.0h0M590.7 112.4h0M567.7 88.1h0M541.6 153.3h0M555.6 129.6h0M579.9 111.6h0M552.9 147.2h0M574.1 92.8h0M435.9 126.0h0M461.0 125.8h0M588.3 118.8h0M505.3 150.4h0M565.7 78.6h0M560.8 118.3h0M502.1 150.9h0M535.0 157.7h0M535.0 112.4h0M457.0 179.8h0M597.8 100.0h0M547.1 131.0h0M605.7 49.4h0M594.0 95.1h0M597.0 103.3h0M578.1 98.1h0M589.1 105.8h0M567.6 120.2h0M463.2 97.6h0M572.2 70.3h0M512.3 133.2h0M487.9 202.5h0M550.0 108.6h0M567.4 129.6h0M577.8 79.5h0M469.2 143.4h0M599.2 97.0h0M527.1 121.7h0M528.3 171.5h0M552.3 99.9h0M562.2 115.4h0M590.3 82.5h0M613.7 67.0h0M521.5 145.2h0M509.1 180.3h0M557.6 132.0h0M512.1 185.3h0M562.6 98.4h0M499.9 165.9h0M576.1 93.5h0M585.0 122.6h0M575.7 86.8h0M536.4 166.3h0M564.8 78.9h0M560.0 57.8h0M466.0 228.5h0M577.3 126.5h0M504.3 134.0h0M551.7 86.4h0M599.4 93.4h0M582.6 121.1h0M592.1 97.8h0M504.1 185.7h0M529.5 190.6h0M564.4 119.6h0M585.1 110.9h0M526.4 164.8h0M531.0 127.9h0M575.6 115.0h0" stroke="#a7efa3"/><path d="M586.9 74.7h0M494.1 176.6h0M473.2 229.5h0M594.4 73.2h0M455.5 237.7h0M610.5 82.1h0M460.2 238.1h0M507.9 178.7h0M562.6 101.9h0M597.8 77.2h0M491.7 182.1h0M576.8 100.1h0M480.4 210.0h0M610.3 50.6h0M506.2 241.9h0M539.2 136.1h0M484.3 135.8h0M593.3 58.7h0M496.3 205.6h0M569.3 129.0h0M432.1 191.3h0M551.3 133.1h0M569.2 117.2h0M590.2 78.0h0M450.2 188.3h0M518.0 162.2h0M600.8 92.5h0M507.7 180.0h0M607.4 76.4h0M550.2 136.8h0M576.9 115.2h0M548.6 127.5h0M511.7 163.5h0M563.7 123.2h0M575.6 114.2h0M485.1 156.3h0M578.8 78.5h0M496.7 191.2h0M513.2 124.1h0M576.8 76.1h0M447.9 239.5h0M551.7 96.2h0M498.0 169.3h0M611.3 88.3h0M588.4 120.4h0M565.6 83.2h0M526.4 127.3h0M516.2 152.5h0M581.5 94.7h0M540.7 159.4h0M547.8 96.6h0M593.7 66.3h0M588.6 96.1h0M562.2 137.3h0M564.0 92.1h0M411.4 128.6h0M605.6 52.3h0M503.9 159.0h0" stroke="#b5ed9a"/><path d="M526.2 151.2h0M623.5 57.4h0M598.7 92.2h0M589.2 69.4h0M596.5 106.6h0M574.4 110.3h0M541.2 130.4h0M571.3 89.7h0M589.1 100.1h0M614.5 81.1h0M568.7 110.4h0M543.2 126.5h0M577.5 66.9h0M580.4 66.4h0M597.4 52.2h0M461.4 224.5h0M573.7 112.3h0M606.7 58.2h0M571.4 60.2h0M522.6 166.7h0M581.1 88.8h0M509.7 127.1h0M506.3 156.6h0M454.0 139.3h0M583.4 131.4h0M595.2 120.7h0M599.4 82.7h0M564.4 84.1h0M595.3 112.9h0M537.7 145.3h0" stroke="#c3e794"/><path d="M550.2 154.7h0M581.9 82.4h0M597.3 87.7h0M597.0 104.9h0M562.6 125.8h0M534.9 135.2h0M586.3 91.3h0M583.6 124.7h0M585.5 106.3h0M590.4 82.8h0M530.6 142.0h0M552.4 123.3h0M598.3 65.8h0M599.8 106.7h0M541.3 139.4h0M577.3 108.9h0M612.4 48.2h0M464.1 216.0h0M602.1 92.0h0M596.3 72.2h0M586.7 120.5h0M413.6 148.5h0M596.7 91.6h0M594.6 89.7h0M587.8 71.0h0M581.4 85.8h0M553.7 130.2h0M580.8 72.0h0M592.0 117.4h0M569.7 113.8h0M605.1 80.5h0M515.5 138.9h0M546.5 115.4h0M554.8 94.9h0M580.7 85.8h0M405.2 128.1h0M589.9 93.4h0M579.1 100.2h0M605.8 60.6h0M596.1 74.3h0M560.8 119.7h0M552.9 132.6h0M579.4 100.9h0M580.2 92.3h0M591.3 122.8h0M574.7 78.8h0M599.6 85.1h0M530.9 148.8h0M576.9 107.3h0M576.7 86.3h0M563.5 121.4h0M528.9 150.1h0M619.9 53.9h0M578.5 129.0h0M561.2 127.2h0M532.6 126.3h0M578.7 66.3h0M472.8 226.0h0M576.7 109.7h0M608.3 70.5h0M613.2 76.6h0M507.0 171.7h0M613.1 80.8h0M599.2 99.2h0M572.5 136.6h0M466.5 182.8h0M606.2 73.0h0M566.8 82.4h0M608.8 75.1h0M607.7 85.4h0M602.8 86.5h0M538.9 147.1h0M575.1 126.3h0M570.8 96.1h0M509.4 175.9h0M585.6 119.0h0M578.8 66.9h0M566.2 54.6h0M547.5 106.2h0M551.7 108.0h0M537.0 152.2h0M601.9 83.2h0M584.3 89.3h0M612.3 64.1h0M574.3 92.3h0M587.3 98.0h0M568.8 138.1h0M532.8 144.6h0M458.7 83.0h0M530.9 106.6h0M526.9 159.5h0M530.9 121.1h0M582.0 64.1h0M579.2 97.9h0M546.9 69.0h0M596.4 93.7h0M566.5 87.0h0M510.2 160.7h0M572.7 116.8h0M604.3 50.0h0M580.5 116.4h0M569.9 129.5h0M568.9 135.5h0M601.7 70.4h0M583.6 106.4h0M530.9 131.1h0M613.7 67.6h0M592.0 62.8h0M547.6 131.9h0M603.8 79.4h0M584.4 115.8h0M614.8 68.0h0M606.2 70.9h0M570.2 122.6h0M604.9 81.6h0M514.5 177.2h0M555.6 134.0h0M572.6 128.3h0M574.8 108.4h0M567.0 92.9h0M609.9 53.3h0M565.4 114.0h0M601.4 101.6h0M577.4 108.2h0M455.5 122.5h0M588.4 122.7h0M578.6 88.9h0M610.9 50.5h0M592.9 63.7h0M626.8 39.8h0M597.4 63.3h0M399.9 153.9h0M581.4 94.1h0M588.6 122.9h0M556.4 151.2h0M562.5 100.9h0M420.1 152.0h0M596.8 98.3h0M603.9 57.0h0M530.9 82.1h0M578.7 84.6h0M550.8 132.2h0" stroke="#d1e090"/><path d="M590.6 118.0h0M577.0 113.5h0M498.3 116.4h0M568.2 136.9h0M595.2 123.3h0M547.2 143.8h0M597.2 115.2h0M527.5 115.7h0M483.5 203.1h0M556.0 129.3h0M579.7 75.0h0M450.5 211.8h0M569.7 98.0h0M442.8 241.1h0M586.8 128.9h0M536.3 126.4h0M545.4 121.6h0M609.8 77.2h0M581.6 91.1h0M497.8 187.4h0M581.6 59.4h0M574.6 98.3h0M596.0 100.3h0M469.5 194.8h0M603.4 82.2h0M575.1 137.6h0M556.0 126.1h0M540.9 109.1h0M608.2 63.1h0M578.7 135.9h0M578.2 83.9h0M613.4 70.6h0M612.1 87.0h0M591.8 103.2h0M582.9 73.2h0M578.4 92.3h0M568.8 133.2h0M608.0 89.1h0M553.8 153.2h0M473.2 223.8h0M605.4 52.9h0M576.4 134.4h0M580.2 86.7h0M539.3 62.0h0M534.0 125.6h0M544.6 137.7h0M532.6 153.0h0M463.4 113.2h0M591.5 99.2h0M576.3 124.8h0M582.2 62.4h0M551.9 134.8h0M444.7 110.1h0M621.4 47.8h0M500.2 136.7h0M483.7 202.8h0M615.4 53.5h0M557.4 127.0h0M587.3 83.8h0M580.6 113.6h0M598.7 70.9h0M557.5 147.7h0M602.0 86.6h0M550.7 116.5h0M548.4 111.2h0M574.8 116.0h0M543.0 137.3h0M541.8 130.9h0M602.2 101.5h0M572.5 84.1h0M561.3 120.3h0M577.8 131.9h0M540.0 130.5h0M600.2 56.0h0M593.7 115.4h0M596.9 57.2h0M584.7 91.6h0M579.6 103.1h0M600.6 65.2h0M594.6 86.5h0M550.3 91.9h0M482.5 144.6h0M572.8 135.6h0M583.5 116.2h0M526.6 127.6h0M558.6 119.7h0M527.7 131.5h0M483.6 99.4h0M562.0 105.4h0M530.8 139.6h0M601.3 75.7h0M483.6 133.6h0M613.5 72.0h0M548.3 127.2h0M601.9 60.9h0M563.5 119.3h0M513.8 146.9h0M534.5 123.6h0M593.6 121.4h0M583.0 78.0h0M561.6 73.5h0M620.7 55.4h0M546.9 125.8h0M589.4 102.5h0M549.2 136.8h0M552.0 145.4h0M559.9 99.0h0M588.8 114.7h0M556.8 148.0h0M557.5 97.5h0M564.4 131.4h0M571.5 106.6h0M576.7 122.0h0M515.9 153.5h0M552.4 112.9h0M574.7 131.9h0M551.3 150.2h0M577.7 97.3h0M552.9 132.4h0M567.5 116.2h0M599.1 63.4h0M611.8 74.2h0M546.8 144.7h0M518.2 137.4h0M452.1 206.0h0" stroke="#dfd98b"/><path d="M570.6 103.4h0M596.2 70.1h0M569.2 83.2h0M597.3 53.8h0M506.5 141.0h0M549.6 110.0h0M570.4 124.5h0M591.2 71.6h0M569.7 114.9h0M502.4 190.3h0M606.8 59.4h0M570.7 126.5h0M422.5 196.0h0M543.4 135.0h0M554.6 125.8h0M525.9 126.0h0M579.3 85.3h0M577.0 87.4h0M553.0 145.1h0M582.0 122.6h0M597.7 67.6h0M591.0 66.9h0M598.0 55.1h0M606.5 82.4h0M608.9 80.0h0M544.3 116.0h0M571.6 81.6h0M532.7 165.5h0M604.4 50.7h0M602.0 79.0h0M616.7 53.0h0M527.3 157.7h0M602.0 79.8h0M604.3 82.1h0M582.3 85.8h0M571.3 136.2h0M568.8 125.5h0M569.6 123.2h0M587.4 79.7h0M550.8 113.5h0M510.0 123.7h0M591.1 95.0h0M609.2 60.2h0M571.3 121.8h0M574.4 110.1h0M566.4 122.8h0M561.4 106.0h0M528.2 121.0h0M603.4 77.3h0M567.1 126.4h0M561.6 82.3h0M513.0 147.1h0M539.1 151.8h0M529.6 154.7h0M592.7 118.6h0M520.2 128.5h0M581.8 87.4h0M541.3 114.4h0M583.9 112.1h0M571.9 117.9h0M609.8 88.5h0M564.7 133.4h0M582.8 96.2h0M535.9 103.5h0M595.4 98.9h0M598.9 49.8h0M603.4 66.2h0M591.2 89.8h0M542.4 139.4h0M549.5 135.6h0M590.4 94.2h0M590.1 113.5h0M528.5 147.1h0M574.7 93.4h0M561.3 105.4h0M558.8 132.4h0M553.8 121.3h0M579.1 106.1h0M592.6 106.9h0M554.5 90.8h0M614.6 50.9h0M607.5 81.2h0M569.7 122.2h0M533.9 128.5h0M567.5 107.7h0M527.1 93.8h0M547.4 75.2h0M591.2 108.8h0M473.0 217.0h0M447.9 95.7h0M530.7 160.7h0M593.0 52.9h0M591.1 65.4h0M556.6 124.3h0M602.6 94.8h0M573.8 124.8h0M545.6 137.8h0M611.7 49.0h0M606.2 70.3h0M575.5 108.0h0M566.0 129.5h0" stroke="#eacf85"/><path d="M557.5 147.9h0M610.7 57.4h0M607.1 70.1h0M591.1 90.4h0M574.0 96.4h0M600.9 72.4h0M577.5 124.3h0M529.5 52.4h0M500.4 186.4h0M616.4 60.5h0M522.8 137.3h0M569.1 98.7h0M575.4 95.6h0M605.2 85.1h0M570.5 100.6h0M540.3 155.8h0M464.9 229.6h0M574.3 123.1h0M592.3 104.6h0M564.6 126.5h0M618.9 65.8h0M471.9 159.7h0M517.6 136.6h0M604.3 53.3h0M535.1 209.3h0M557.1 145.2h0M605.3 73.6h0M506.8 229.0h0M562.5 84.7h0M581.8 68.5h0M601.7 49.2h0M508.0 164.9h0M562.1 147.2h0M596.8 111.7h0M564.5 129.4h0M519.6 165.8h0M557.6 110.0h0M596.5 57.1h0M566.1 104.7h0M569.3 98.0h0M591.3 100.5h0M542.1 158.4h0M581.0 92.6h0M605.8 122.6h0M507.8 174.4h0M586.0 115.7h0M578.4 74.1h0M611.2 51.0h0M563.6 121.1h0M613.0 72.7h0M518.8 221.4h0M544.3 151.6h0M572.7 118.9h0M529.5 213.0h0M523.7 162.0h0M597.9 93.7h0M572.5 109.0h0M528.5 121.0h0M501.8 186.1h0M571.3 100.6h0M575.7 129.1h0M545.6 138.6h0M534.8 148.3h0M511.5 213.1h0M593.6 89.8h0M482.7 209.6h0M515.2 175.7h0M542.8 125.4h0M594.0 119.1h0M593.2 58.5h0M497.0 121.6h0M582.5 95.9h0M610.1 96.6h0M579.1 148.7h0M567.1 104.3h0M595.8 84.6h0M565.0 137.9h0M520.4 163.6h0M404.4 146.8h0M574.6 98.9h0M561.4 136.0h0M560.6 137.8h0M594.6 105.2h0M582.1 112.2h0M546.8 151.2h0M555.4 125.0h0M543.6 130.9h0M545.4 98.3h0M562.0 101.3h0M571.0 112.4h0M608.0 74.2h0M570.2 99.8h0M566.0 141.9h0M605.0 66.0h0M574.3 127.3h0M551.5 119.1h0M554.9 142.2h0M557.0 137.7h0M566.0 136.1h0M580.4 114.1h0M602.3 77.3h0M610.3 68.2h0M554.9 103.3h0M548.3 139.6h0M620.9 46.7h0M567.1 84.9h0M575.2 104.8h0M591.8 109.3h0M580.1 92.7h0M511.7 174.1h0M557.1 146.3h0M462.2 146.0h0M593.9 89.6h0M550.0 151.3h0M570.6 179.1h0M592.8 107.3h0M601.5 86.3h0M463.5 221.5h0M567.7 133.8h0M614.4 66.8h0M577.1 161.2h0M581.7 123.3h0" stroke="#efb26f"/><path d="M557.8 106.8h0M537.8 162.7h0M524.1 145.5h0M572.1 132.7h0M555.0 142.8h0M586.0 97.1h0M572.8 83.6h0M595.2 69.3h0M532.4 151.1h0M570.3 106.4h0M581.4 72.4h0M590.9 107.6h0M560.3 120.9h0M606.6 72.2h0M609.0 73.8h0M545.8 158.2h0M537.3 127.9h0M616.7 56.7h0M571.7 105.3h0M560.7 143.1h0M589.4 128.8h0M465.8 221.2h0M597.6 59.9h0M566.8 113.7h0M593.3 85.9h0M534.7 145.3h0M512.2 166.8h0M568.5 120.2h0M610.9 50.1h0M550.7 145.6h0M558.2 125.2h0M566.1 82.9h0M501.4 199.0h0M538.2 131.6h0M585.6 114.1h0M561.7 75.3h0M581.2 113.1h0M602.5 89.0h0M587.4 92.7h0M585.5 134.7h0M551.1 127.5h0M610.9 85.8h0M498.0 178.6h0M620.9 63.9h0M433.0 90.8h0M434.2 203.7h0M571.2 86.9h0M521.2 132.0h0M603.0 68.0h0M592.4 57.8h0M621.8 47.2h0M604.9 80.1h0M523.5 135.0h0M509.1 172.8h0M565.8 107.4h0M504.8 190.8h0M566.3 123.4h0M508.9 175.4h0M544.6 157.0h0M543.4 137.2h0M619.6 54.9h0M587.9 69.3h0M595.3 57.5h0M589.8 112.7h0M588.2 80.4h0M568.3 120.2h0M484.8 205.1h0M566.8 128.2h0M581.2 126.7h0M562.3 83.9h0M504.8 174.5h0M582.0 104.0h0M517.6 169.6h0M569.1 132.4h0M605.9 67.5h0M571.2 110.7h0M573.4 75.3h0M539.9 116.7h0M556.7 126.8h0M557.1 125.4h0M559.6 107.4h0M600.5 105.9h0M579.4 62.4h0M569.7 97.2h0M605.8 87.1h0M570.8 139.3h0M585.4 110.7h0M557.0 141.7h0M586.2 115.8h0M512.4 158.5h0M604.8 57.3h0M603.8 85.2h0M541.4 137.9h0M570.4 158.9h0M593.0 63.0h0M573.6 90.2h0M590.4 110.3h0M577.0 161.5h0M580.1 95.1h0M586.0 90.0h0M538.0 127.3h0M576.1 106.3h0M530.7 220.8h0M443.2 205.3h0M594.7 76.1h0M567.9 120.0h0M568.2 105.8h0M518.6 141.0h0M574.2 93.1h0M592.9 53.1h0M574.9 118.9h0M586.4 86.2h0M569.2 113.4h0M614.7 46.9h0M551.2 135.3h0M603.3 93.5h0M606.6 65.2h0M511.4 177.4h0M540.9 133.0h0M546.1 113.4h0M618.9 52.7h0M588.4 92.5h0M550.9 190.2h0M553.1 131.8h0M562.5 129.8h0M554.4 143.8h0M481.1 203.8h0M599.0 108.3h0M566.0 82.1h0M492.9 227.9h0M547.1 148.9h0M592.1 110.9h0M533.7 144.2h0M517.5 165.9h0M544.1 150.0h0M578.9 110.2h0M479.7 219.2h0M506.8 163.4h0M570.4 132.7h0M594.5 65.4h0M569.4 49.7h0M487.0 213.5h0M591.6 119.1h0M515.3 222.9h0M585.5 86.1h0M534.6 137.4h0M596.4 104.8h0M592.7 115.3h0M591.7 68.8h0M572.3 116.6h0M590.5 98.8h0M595.4 97.7h0M509.8 193.3h0M526.1 137.3h0M536.1 136.9h0M558.4 104.2h0M583.2 111.3h0M604.3 79.2h0M563.4 78.5h0M599.0 78.2h0M572.7 91.8h0M553.3 120.9h0M562.1 99.1h0M560.1 122.5h0M586.9 76.2h0M576.5 102.3h0M535.4 119.1h0M557.7 119.3h0M606.4 63.7h0M448.0 107.1h0M551.2 114.6h0M547.3 151.5h0M584.3 84.5h0M587.1 73.8h0M591.0 59.1h0M556.5 106.3h0M597.1 102.0h0M531.0 152.9h0M610.4 239.1h0M575.8 98.0h0M604.8 82.3h0M549.6 142.9h0M455.4 142.9h0M609.0 83.7h0M594.1 79.2h0M584.7 123.7h0M534.2 138.9h0M580.8 104.4h0M549.0 139.6h0M443.2 229.4h0M531.4 138.1h0M525.2 124.6h0M614.1 91.4h0M620.7 90.7h0M554.3 112.1h0M486.3 157.7h0M483.7 204.4h0M596.4 57.0h0M546.6 189.3h0M561.4 116.4h0" stroke="#eca262"/><path d="M600.3 77.2h0M593.3 89.8h0M604.2 60.6h0M570.4 132.9h0M551.2 120.7h0M579.7 125.2h0M545.9 83.8h0M622.5 63.6h0M511.8 229.9h0M523.6 148.2h0M471.0 210.4h0M585.4 115.0h0M559.3 150.1h0M594.9 112.2h0M554.7 165.0h0M555.4 173.8h0M620.1 77.5h0M549.7 117.7h0M584.6 74.1h0M557.9 171.3h0M548.2 146.5h0M570.5 154.9h0M453.1 216.6h0M502.8 208.5h0M512.5 155.1h0M534.6 109.1h0M537.3 130.4h0M517.5 173.6h0M498.6 174.7h0M560.9 122.8h0M583.2 117.8h0M590.2 81.0h0M530.0 160.2h0M606.8 66.9h0M488.8 171.0h0M572.9 72.5h0M609.9 65.6h0M608.8 78.1h0M574.0 77.2h0M519.9 163.3h0M567.5 99.5h0M497.5 201.3h0M586.7 202.0h0M529.6 90.6h0M595.2 164.7h0M489.9 209.2h0M577.9 136.7h0M508.5 183.5h0M591.6 63.7h0M569.0 132.4h0M586.1 74.9h0M450.4 155.4h0M514.8 151.1h0M528.0 153.3h0M613.6 77.1h0M492.0 204.0h0M601.0 76.6h0M552.9 141.7h0M555.4 103.2h0M607.0 78.3h0M555.5 158.2h0M552.4 131.0h0M486.1 184.0h0M556.2 135.5h0M515.1 217.2h0M565.0 98.3h0M559.5 149.4h0M607.4 86.4h0M589.1 115.4h0M566.8 129.3h0M580.9 125.7h0M599.4 78.8h0M555.8 152.0h0M584.5 130.6h0M552.2 115.6h0M537.0 129.1h0M605.7 93.3h0M598.4 98.9h0M594.0 97.6h0M542.0 148.9h0M475.4 205.8h0M602.2 86.6h0M596.7 54.8h0M502.5 150.9h0M493.9 201.3h0M540.2 132.3h0M599.4 92.0h0M567.7 89.9h0M596.6 64.0h0M470.8 145.5h0M577.6 122.1h0M553.4 115.3h0M515.0 177.1h0M597.3 82.3h0M593.6 120.4h0M554.9 123.2h0M577.6 135.6h0M612.0 69.2h0M614.4 62.1h0M598.8 80.9h0M470.7 168.8h0M570.5 98.9h0M582.0 88.5h0M599.6 98.8h0M623.6 70.8h0M611.9 74.1h0M537.2 140.5h0M574.2 140.7h0M550.1 119.1h0M587.7 107.7h0M603.8 96.3h0M550.5 98.4h0M553.1 118.2h0M601.2 101.5h0M513.8 163.8h0M488.3 212.5h0M575.5 133.8h0M574.3 91.6h0M571.7 100.3h0M576.5 75.9h0M556.2 144.9h0M607.4 145.8h0M552.6 142.5h0M595.3 71.4h0M580.8 86.4h0M588.5 91.1h0M581.2 69.6h0M598.3 65.9h0M624.5 208.5h0M607.9 84.6h0M582.4 84.5h0M591.1 103.5h0M610.2 77.0h0M577.4 129.4h0M575.7 111.9h0M606.3 64.0h0M597.2 104.9h0M588.3 102.6h0M604.8 93.0h0M559.1 121.9h0M559.2 102.9h0M604.1 108.3h0M578.7 130.8h0M583.6 96.0h0M596.2 108.4h0M610.3 83.7h0M466.4 192.0h0M522.3 157.2h0M571.0 94.7h0M528.1 171.4h0M552.0 109.9h0M593.3 70.1h0M555.8 95.8h0M591.7 94.5h0M595.6 61.3h0M488.0 151.5h0M575.5 135.9h0M579.6 107.3h0M443.9 93.1h0M591.0 96.4h0M592.7 90.8h0M581.2 122.9h0M609.4 92.7h0M600.3 84.0h0M590.9 83.1h0" stroke="#ea8f54"/><path d="M551.5 138.9h0M579.5 100.1h0M602.8 94.7h0M612.4 64.2h0M592.6 111.5h0M582.6 68.8h0M468.9 207.7h0M609.8 83.1h0M573.3 97.6h0M507.0 210.4h0M582.2 75.7h0M545.4 147.3h0M577.1 119.7h0M560.2 121.7h0M567.5 125.1h0M579.7 100.0h0M588.8 91.7h0M516.2 173.0h0M455.9 220.9h0M540.9 149.0h0M559.8 137.3h0M605.5 84.1h0M554.6 114.3h0M585.7 98.9h0M581.3 99.9h0M571.5 79.3h0M577.8 126.5h0M578.1 99.2h0M588.4 77.1h0M527.7 145.1h0M552.1 148.1h0M584.9 129.7h0M457.8 231.1h0M616.8 103.2h0M525.8 112.9h0M466.7 103.7h0M569.4 110.9h0M479.7 197.7h0M581.9 121.3h0M622.2 46.6h0M610.9 70.3h0M593.7 114.6h0M552.2 132.8h0M543.5 82.0h0M584.6 96.5h0M571.8 129.6h0M560.5 150.1h0M589.2 81.0h0M508.1 182.9h0M603.5 62.6h0M588.7 121.3h0M599.1 66.1h0M602.6 79.8h0M541.4 103.6h0M601.7 102.2h0M515.1 162.3h0M460.4 233.5h0M553.6 132.0h0M545.5 132.8h0M595.8 65.1h0M599.0 115.3h0M571.7 140.0h0M546.7 117.4h0M508.0 171.5h0M583.9 124.2h0M556.4 131.7h0M587.4 116.6h0M568.3 82.8h0M609.6 63.6h0M593.4 72.8h0M559.0 121.5h0M567.8 88.7h0M543.4 132.5h0M587.3 86.6h0M592.1 128.8h0M579.3 111.5h0M568.6 128.6h0M584.1 127.5h0M589.1 90.7h0M532.4 163.3h0M557.5 103.8h0M546.9 114.1h0M590.1 75.6h0M593.8 81.8h0M603.3 41.9h0M614.0 48.4h0M561.2 141.7h0M598.1 70.0h0M589.6 80.3h0M591.7 69.7h0M617.6 67.8h0M579.4 149.4h0M576.4 118.5h0M505.2 167.5h0M518.0 158.9h0M473.6 218.9h0M493.4 196.0h0M589.4 109.6h0M526.3 157.3h0M487.7 199.6h0M601.9 64.2h0M552.5 102.8h0M562.3 148.1h0M581.8 129.2h0M591.6 58.0h0M567.0 128.2h0" stroke="#e77d46"/><path d="M583.7 132.7h0M526.7 156.2h0M535.7 158.3h0M566.2 135.6h0M532.9 158.8h0M519.1 167.0h0M472.5 181.9h0M493.1 183.7h0M514.7 162.8h0M558.4 176.2h0M526.0 152.1h0M567.9 108.9h0M570.8 163.7h0M535.8 95.7h0M516.7 170.6h0M568.7 124.8h0M490.9 174.3h0M552.8 95.1h0M605.8 95.8h0M589.7 56.5h0M539.6 163.0h0M566.2 139.9h0M584.3 185.7h0M579.3 74.2h0M584.3 73.4h0M488.1 109.2h0M592.7 58.9h0M501.2 220.7h0M565.9 123.7h0" stroke="#e04026"/><path d="M510.0 178.2h0M528.4 142.8h0M603.5 76.3h0M608.3 187.9h0M584.4 107.8h0M531.2 175.3h0M567.9 154.4h0M427.6 205.2h0M544.3 154.6h0M532.6 133.4h0M556.0 122.7h0M482.3 183.6h0M599.9 55.7h0M570.8 200.7h0M594.0 69.9h0M583.3 145.7h0M487.6 145.7h0M495.1 189.4h0M538.2 157.7h0M541.5 117.9h0M510.8 150.1h0M553.3 237.0h0M545.8 126.5h0M603.1 114.9h0M612.1 95.1h0M612.8 58.0h0M573.0 134.1h0M512.5 157.9h0M541.1 149.7h0M524.9 155.9h0M590.0 119.0h0M546.0 117.1h0M619.5 48.7h0M606.8 72.3h0M558.3 111.1h0M612.4 83.5h0M498.1 198.4h0M607.2 73.2h0M598.9 98.7h0M536.3 180.6h0M523.7 141.3h0M544.5 116.9h0M599.0 87.9h0M508.6 186.6h0M614.2 50.1h0M498.2 137.9h0M528.4 166.0h0M531.9 147.7h0M480.2 179.7h0M501.3 126.0h0M508.1 178.4h0M562.7 140.9h0M533.4 151.2h0M472.3 228.0h0M508.3 139.1h0M522.3 136.7h0M489.9 192.9h0M496.6 220.0h0M593.4 55.9h0M594.9 76.7h0M546.9 127.3h0M540.4 171.1h0M545.8 140.0h0M525.1 165.9h0M551.9 121.6h0M581.4 232.0h0M537.4 143.4h0M570.5 117.5h0M625.7 163.2h0M508.5 144.6h0M546.9 138.9h0M593.4 115.0h0M564.6 137.4h0M552.2 139.1h0M531.2 203.0h0M573.9 83.9h0M590.3 129.6h0M511.8 210.5h0M604.0 83.4h0M570.9 233.7h0M466.0 236.9h0M470.8 225.2h0M593.1 94.8h0M599.4 89.3h0M400.6 116.1h0M591.1 78.9h0M581.7 80.2h0M472.4 199.7h0M520.2 166.9h0M506.1 125.3h0M525.2 162.3h0M553.2 205.7h0M574.2 105.9h0M511.1 166.4h0M579.3 61.2h0M459.7 224.9h0M606.5 63.4h0M508.7 171.5h0M599.0 62.6h0M593.4 104.3h0M586.7 130.0h0" stroke="#e02c1a"/><path d="M579.9 100.0h0M509.4 108.4h0M557.4 193.6h0M485.6 137.2h0M613.2 81.4h0M557.8 81.4h0M442.0 240.0h0M561.6 192.4h0M567.4 204.4h0M505.7 204.5h0M478.2 162.2h0M621.2 54.7h0M468.0 209.9h0M592.1 143.5h0M588.2 96.1h0M619.5 155.8h0M619.8 58.7h0M572.3 110.2h0M540.1 150.5h0M561.7 133.6h0M572.0 92.2h0M503.4 150.9h0M618.0 158.9h0M515.4 168.6h0M547.0 104.6h0M492.1 191.0h0M522.8 229.5h0M587.7 172.7h0M433.8 238.2h0M590.4 93.8h0M556.5 76.6h0M548.3 166.4h0M489.6 198.8h0M481.9 133.0h0M616.9 69.7h0M579.7 110.3h0M492.0 204.6h0M490.4 190.3h0M589.1 76.5h0M521.5 187.4h0M492.2 184.5h0M444.7 240.8h0M420.1 202.1h0M474.6 196.3h0M589.8 148.7h0M507.8 184.9h0M614.3 164.6h0M590.7 81.6h0M508.9 161.4h0M611.1 67.3h0M506.9 134.2h0M479.1 202.8h0M517.1 83.4h0M549.3 132.0h0M597.9 104.2h0M555.3 122.8h0M504.5 145.2h0M576.7 95.0h0M555.8 138.3h0M532.0 160.4h0M551.9 113.8h0M522.4 184.6h0M530.2 127.6h0M528.4 148.9h0M485.2 188.9h0M504.2 174.4h0M497.3 128.8h0M531.2 163.3h0M610.2 51.4h0M544.6 157.3h0M620.9 53.6h0M588.5 109.8h0M624.6 154.7h0M534.2 154.0h0M454.8 232.3h0M549.1 110.6h0M516.2 168.0h0M614.0 237.4h0M565.1 127.9h0M601.9 52.1h0M559.2 198.9h0M512.4 97.7h0M554.6 158.7h0M487.9 206.2h0M578.2 191.2h0M598.7 101.1h0M617.9 68.4h0M601.9 96.5h0M596.9 150.9h0M459.0 128.3h0M563.3 105.0h0M598.4 68.3h0M470.4 198.1h0M470.3 163.4h0M512.9 146.5h0M578.3 88.6h0M622.6 61.5h0M462.0 226.4h0M564.8 142.4h0M516.7 135.9h0M541.0 141.4h0M563.5 109.3h0M596.2 124.0h0M579.9 157.2h0M541.0 107.8h0M529.7 220.7h0M469.5 214.3h0M511.1 190.3h0M541.9 136.9h0M590.1 98.2h0M556.1 201.2h0M545.6 156.3h0M572.0 186.2h0M404.3 122.9h0M514.7 153.3h0M554.2 151.9h0M534.5 108.7h0M512.1 186.8h0M604.7 52.4h0M538.0 60.2h0M613.1 48.2h0M517.5 176.7h0M545.9 150.4h0M584.8 79.6h0M578.6 103.9h0M599.9 112.5h0M494.8 192.7h0M477.6 233.3h0M600.1 147.0h0M525.6 144.3h0M483.8 202.8h0M571.8 72.6h0M518.0 120.8h0M520.6 154.3h0M546.3 186.7h0M485.1 130.2h0M546.7 223.1h0M503.0 177.9h0M516.9 156.0h0M556.3 157.3h0M498.9 200.8h0M606.2 58.4h0M597.3 91.7h0M524.2 112.7h0M586.7 96.3h0M542.6 116.3h0M565.0 133.4h0M551.9 97.7h0M582.4 190.9h0M588.9 96.6h0M578.6 135.0h0M574.3 122.1h0M518.0 214.2h0M468.7 233.2h0M553.5 239.7h0M510.1 160.6h0M450.4 236.9h0M507.8 198.4h0M604.3 70.7h0M417.9 184.6h0M596.7 75.2h0M438.0 152.1h0M607.3 72.7h0M502.0 140.8h0M564.3 177.2h0M612.6 63.0h0M521.3 189.8h0M590.7 57.2h0M506.1 150.0h0M563.5 133.7h0M566.7 90.3h0M414.6 169.7h0M486.3 205.6h0M558.6 144.1h0M606.8 82.8h0M608.7 49.0h0M557.0 148.7h0M578.2 199.2h0M510.0 129.3h0" stroke="#e0180c"/></g>
<rect x="42.5" y="6.5" width="234.0" height="235.5" fill="none" stroke="#444" stroke-width="1"/>
<path d="M60.1 242.0v-2M60.1 6.5v2M42.5 224.3h2M276.5 224.3h-2M70.4 242.0v-2M70.4 6.5v2M42.5 213.9h2M276.5 213.9h-2M77.7 242.0v-2M77.7 6.5v2M42.5 206.6h2M276.5 206.6h-2M83.4 242.0v-2M83.4 6.5v2M42.5 200.8h2M276.5 200.8h-2M88.0 242.0v-2M88.0 6.5v2M42.5 196.2h2M276.5 196.2h-2M91.9 242.0v-2M91.9 6.5v2M42.5 192.2h2M276.5 192.2h-2M95.3 242.0v-2M95.3 6.5v2M42.5 188.8h2M276.5 188.8h-2M98.3 242.0v-2M98.3 6.5v2M42.5 185.8h2M276.5 185.8h-2M101.0 242.0v-4M101.0 6.5v4M42.5 65.4h4M276.5 65.4h-4M118.6 242.0v-2M118.6 6.5v2M42.5 165.4h2M276.5 165.4h-2M128.9 242.0v-2M128.9 6.5v2M42.5 155.0h2M276.5 155.0h-2M136.2 242.0v-2M136.2 6.5v2M42.5 147.7h2M276.5 147.7h-2M141.9 242.0v-2M141.9 6.5v2M42.5 142.0h2M276.5 142.0h-2M146.5 242.0v-2M146.5 6.5v2M42.5 137.3h2M276.5 137.3h-2M150.4 242.0v-2M150.4 6.5v2M42.5 133.4h2M276.5 133.4h-2M153.8 242.0v-2M153.8 6.5v2M42.5 130.0h2M276.5 130.0h-2M156.8 242.0v-2M156.8 6.5v2M42.5 126.9h2M276.5 126.9h-2M159.5 242.0v-4M159.5 6.5v4M42.5 124.2h4M276.5 124.2h-4M177.1 242.0v-2M177.1 6.5v2M42.5 106.5h2M276.5 106.5h-2M187.4 242.0v-2M187.4 6.5v2M42.5 96.2h2M276.5 96.2h-2M194.7 242.0v-2M194.7 6.5v2M42.5 88.8h2M276.5 88.8h-2M200.4 242.0v-2M200.4 6.5v2M42.5 83.1h2M276.5 83.1h-2M205.0 242.0v-2M205.0 6.5v2M42.5 78.4h2M276.5 78.4h-2M208.9 242.0v-2M208.9 6.5v2M42.5 74.5h2M276.5 74.5h-2M212.3 242.0v-2M212.3 6.5v2M42.5 71.1h2M276.5 71.1h-2M215.3 242.0v-2M215.3 6.5v2M42.5 68.1h2M276.5 68.1h-2M218.0 242.0v-4M218.0 6.5v4M42.5 183.1h4M276.5 183.1h-4M235.6 242.0v-2M235.6 6.5v2M42.5 47.7h2M276.5 47.7h-2M245.9 242.0v-2M245.9 6.5v2M42.5 37.3h2M276.5 37.3h-2M253.2 242.0v-2M253.2 6.5v2M42.5 29.9h2M276.5 29.9h-2M258.9 242.0v-2M258.9 6.5v2M42.5 24.2h2M276.5 24.2h-2M263.5 242.0v-2M263.5 6.5v2M42.5 19.6h2M276.5 19.6h-2M267.4 242.0v-2M267.4 6.5v2M42.5 15.6h2M276.5 15.6h-2M270.8 242.0v-2M270.8 6.5v2M42.5 12.2h2M276.5 12.2h-2M273.8 242.0v-2M273.8 6.5v2M42.5 9.2h2M276.5 9.2h-2" stroke="#444" stroke-width="1" fill="none"/>
<text x="42.5" y="257.8" text-anchor="middle">10<tspan dy="-5" font-size="9">-4</tspan></text>
<text x="36.0" y="246.6" text-anchor="end">10<tspan dy="-5" font-size="9">-4</tspan></text>
<text x="101.0" y="257.8" text-anchor="middle">10<tspan dy="-5" font-size="9">-3</tspan></text>
<text x="36.0" y="187.7" text-anchor="end">10<tspan dy="-5" font-size="9">-3</tspan></text>
<text x="159.5" y="257.8" text-anchor="middle">10<tspan dy="-5" font-size="9">-2</tspan></text>
<text x="36.0" y="128.8" text-anchor="end">10<tspan dy="-5" font-size="9">-2</tspan></text>
<text x="218.0" y="257.8" text-anchor="middle">10<tspan dy="-5" font-size="9">-1</tspan></text>
<text x="36.0" y="70.0" text-anchor="end">10<tspan dy="-5" font-size="9">-1</tspan></text>
<text x="276.5" y="257.8" text-anchor="middle">10<tspan dy="-5" font-size="9">0</tspan></text>
<text x="36.0" y="11.1" text-anchor="end">10<tspan dy="-5" font-size="9">0</tspan></text>
<rect x="398.5" y="6.5" width="234.0" height="235.5" fill="none" stroke="#444" stroke-width="1"/>
<path d="M416.1 242.0v-2M416.1 6.5v2M398.5 224.3h2M632.5 224.3h-2M426.4 242.0v-2M426.4 6.5v2M398.5 213.9h2M632.5 213.9h-2M433.7 242.0v-2M433.7 6.5v2M398.5 206.6h2M632.5 206.6h-2M439.4 242.0v-2M439.4 6.5v2M398.5 200.8h2M632.5 200.8h-2M444.0 242.0v-2M444.0 6.5v2M398.5 196.2h2M632.5 196.2h-2M447.9 242.0v-2M447.9 6.5v2M398.5 192.2h2M632.5 192.2h-2M451.3 242.0v-2M451.3 6.5v2M398.5 188.8h2M632.5 188.8h-2M454.3 242.0v-2M454.3 6.5v2M398.5 185.8h2M632.5 185.8h-2M457.0 242.0v-4M457.0 6.5v4M398.5 65.4h4M632.5 65.4h-4M474.6 242.0v-2M474.6 6.5v2M398.5 165.4h2M632.5 165.4h-2M484.9 242.0v-2M484.9 6.5v2M398.5 155.0h2M632.5 155.0h-2M492.2 242.0v-2M492.2 6.5v2M398.5 147.7h2M632.5 147.7h-2M497.9 242.0v-2M497.9 6.5v2M398.5 142.0h2M632.5 142.0h-2M502.5 242.0v-2M502.5 6.5v2M398.5 137.3h2M632.5 137.3h-2M506.4 242.0v-2M506.4 6.5v2M398.5 133.4h2M632.5 133.4h-2M509.8 242.0v-2M509.8 6.5v2M398.5 130.0h2M632.5 130.0h-2M512.8 242.0v-2M512.8 6.5v2M398.5 126.9h2M632.5 126.9h-2M515.5 242.0v-4M515.5 6.5v4M398.5 124.2h4M632.5 124.2h-4M533.1 242.0v-2M533.1 6.5v2M398.5 106.5h2M632.5 106.5h-2M543.4 242.0v-2M543.4 6.5v2M398.5 96.2h2M632.5 96.2h-2M550.7 242.0v-2M550.7 6.5v2M398.5 88.8h2M632.5 88.8h-2M556.4 242.0v-2M556.4 6.5v2M398.5 83.1h2M632.5 83.1h-2M561.0 242.0v-2M561.0 6.5v2M398.5 78.4h2M632.5 78.4h-2M564.9 242.0v-2M564.9 6.5v2M398.5 74.5h2M632.5 74.5h-2M568.3 242.0v-2M568.3 6.5v2M398.5 71.1h2M632.5 71.1h-2M571.3 242.0v-2M571.3 6.5v2M398.5 68.1h2M632.5 68.1h-2M574.0 242.0v-4M574.0 6.5v4M398.5 183.1h4M632.5 183.1h-4M591.6 242.0v-2M591.6 6.5v2M398.5 47.7h2M632.5 47.7h-2M601.9 242.0v-2M601.9 6.5v2M398.5 37.3h2M632.5 37.3h-2M609.2 242.0v-2M609.2 6.5v2M398.5 29.9h2M632.5 29.9h-2M614.9 242.0v-2M614.9 6.5v2M398.5 24.2h2M632.5 24.2h-2M619.5 242.0v-2M619.5 6.5v2M398.5 19.6h2M632.5 19.6h-2M623.4 242.0v-2M623.4 6.5v2M398.5 15.6h2M632.5 15.6h-2M626.8 242.0v-2M626.8 6.5v2M398.5 12.2h2M632.5 12.2h-2M629.8 242.0v-2M629.8 6.5v2M398.5 9.2h2M632.5 9.2h-2" stroke="#444" stroke-width="1" fill="none"/>
<text x="398.5" y="257.8" text-anchor="middle">10<tspan dy="-5" font-size="9">-4</tspan></text>
<text x="392.0" y="246.6" text-anchor="end">10<tspan dy="-5" font-size="9">-4</tspan></text>
<text x="457.0" y="257.8" text-anchor="middle">10<tspan dy="-5" font-size="9">-3</tspan></text>
<text x="392.0" y="187.7" text-anchor="end">10<tspan dy="-5" font-size="9">-3</tspan></text>
<text x="515.5" y="257.8" text-anchor="middle">10<tspan dy="-5" font-size="9">-2</tspan></text>
<text x="392.0" y="128.8" text-anchor="end">10<tspan dy="-5" font-size="9">-2</tspan></text>
<text x="574.0" y="257.8" text-anchor="middle">10<tspan dy="-5" font-size="9">-1</tspan></text>
<text x="392.0" y="70.0" text-anchor="end">10<tspan dy="-5" font-size="9">-1</tspan></text>
<text x="632.5" y="257.8" text-anchor="middle">10<tspan dy="-5" font-size="9">0</tspan></text>
<text x="392.0" y="11.1" text-anchor="end">10<tspan dy="-5" font-size="9">0</tspan></text>
<defs><linearGradient id="cbg0" x1="0" y1="0" x2="0" y2="1"><stop offset="0.0000" stop-color="#e0180c"/><stop offset="0.0560" stop-color="#e03a24"/><stop offset="0.1110" stop-color="#e06034"/><stop offset="0.1670" stop-color="#e88048"/><stop offset="0.2220" stop-color="#eca060"/><stop offset="0.2780" stop-color="#f0bc78"/><stop offset="0.3330" stop-color="#e8d488"/><stop offset="0.3890" stop-color="#d0e090"/><stop offset="0.4440" stop-color="#b8ec98"/><stop offset="0.5000" stop-color="#a0f0a8"/><stop offset="0.5560" stop-color="#8ceec0"/><stop offset="0.6110" stop-color="#80e4d0"/><stop offset="0.6670" stop-color="#74d4e0"/><stop offset="0.7220" stop-color="#68c0ec"/><stop offset="0.7780" stop-color="#5ca8f0"/><stop offset="0.8330" stop-color="#508cf4"/><stop offset="0.8890" stop-color="#4870f8"/><stop offset="0.9440" stop-color="#5040f8"/><stop offset="1.0000" stop-color="#6a14f8"/></linearGradient></defs>
<rect x="282.0" y="6.5" width="12.0" height="235.5" fill="url(#cbg0)"/>
<rect x="282.0" y="6.5" width="12.0" height="235.5" fill="none" stroke="#444" stroke-width="1"/>
<text x="299.6" y="246.5" font-size="10">0.55</text>
<text x="299.6" y="220.3" font-size="10">0.6</text>
<text x="299.6" y="194.2" font-size="10">0.65</text>
<text x="299.6" y="168.0" font-size="10">0.7</text>
<text x="299.6" y="141.8" font-size="10">0.75</text>
<text x="299.6" y="115.7" font-size="10">0.8</text>
<text x="299.6" y="89.5" font-size="10">0.85</text>
<text x="299.6" y="63.3" font-size="10">0.9</text>
<text x="299.6" y="37.2" font-size="10">0.95</text>
<text x="299.6" y="11.0" font-size="10">1</text>
<path d="M282.0 215.8h3M294.0 215.8h-3M282.0 189.7h3M294.0 189.7h-3M282.0 163.5h3M294.0 163.5h-3M282.0 137.3h3M294.0 137.3h-3M282.0 111.2h3M294.0 111.2h-3M282.0 85.0h3M294.0 85.0h-3M282.0 58.8h3M294.0 58.8h-3M282.0 32.7h3M294.0 32.7h-3" stroke="#444" stroke-width="1"/>
<defs><linearGradient id="cbg1" x1="0" y1="0" x2="0" y2="1"><stop offset="0.0000" stop-color="#e0180c"/><stop offset="0.0560" stop-color="#e03a24"/><stop offset="0.1110" stop-color="#e06034"/><stop offset="0.1670" stop-color="#e88048"/><stop offset="0.2220" stop-color="#eca060"/><stop offset="0.2780" stop-color="#f0bc78"/><stop offset="0.3330" stop-color="#e8d488"/><stop offset="0.3890" stop-color="#d0e090"/><stop offset="0.4440" stop-color="#b8ec98"/><stop offset="0.5000" stop-color="#a0f0a8"/><stop offset="0.5560" stop-color="#8ceec0"/><stop offset="0.6110" stop-color="#80e4d0"/><stop offset="0.6670" stop-color="#74d4e0"/><stop offset="0.7220" stop-color="#68c0ec"/><stop offset="0.7780" stop-color="#5ca8f0"/><stop offset="0.8330" stop-color="#508cf4"/><stop offset="0.8890" stop-color="#4870f8"/><stop offset="0.9440" stop-color="#5040f8"/><stop offset="1.0000" stop-color="#6a14f8"/></linearGradient></defs>
<rect x="638.0" y="6.5" width="12.0" height="235.5" fill="url(#cbg1)"/>
<rect x="638.0" y="6.5" width="12.0" height="235.5" fill="none" stroke="#444" stroke-width="1"/>
<text x="655.6" y="246.5" font-size="10">200</text>
<text x="655.6" y="222.9" font-size="10">250</text>
<text x="655.6" y="199.4" font-size="10">300</text>
<text x="655.6" y="175.9" font-size="10">350</text>
<text x="655.6" y="152.3" font-size="10">400</text>
<text x="655.6" y="128.8" font-size="10">450</text>
<text x="655.6" y="105.2" font-size="10">500</text>
<text x="655.6" y="81.7" font-size="10">550</text>
<text x="655.6" y="58.1" font-size="10">600</text>
<text x="655.6" y="34.5" font-size="10">650</text>
<text x="655.6" y="11.0" font-size="10">700</text>
<path d="M638.0 218.4h3M650.0 218.4h-3M638.0 194.9h3M650.0 194.9h-3M638.0 171.4h3M650.0 171.4h-3M638.0 147.8h3M650.0 147.8h-3M638.0 124.2h3M650.0 124.2h-3M638.0 100.7h3M650.0 100.7h-3M638.0 77.2h3M650.0 77.2h-3M638.0 53.6h3M650.0 53.6h-3M638.0 30.0h3M650.0 30.0h-3" stroke="#444" stroke-width="1"/>
<text x="93.5" y="272">&#931; Br(h</text>
<text x="126.6" y="276" font-size="9">3</text>
<path d="M135.0 269.2H141.8" stroke="#111" stroke-width="1.05"/><path d="M145.4 269.2L141.8 267.2L142.5 269.2L141.8 271.2Z" fill="#111"/>
<text x="149.5" y="272" textLength="10" lengthAdjust="spacingAndGlyphs">&#947;&#947;</text>
<text x="159.5" y="272">+ZZ+W<tspan dy="-4.6" font-size="9">+</tspan><tspan dy="4.6">W</tspan><tspan dy="-4.6" font-size="9">-</tspan></text>
<text x="220.2" y="272">)</text>
<g transform="translate(9.3,0) rotate(-90)">
<text x="-182.3" y="0" textLength="30.6" lengthAdjust="spacingAndGlyphs">&#931; Br(h</text>
<text x="-151.0" y="2.6" font-size="9">3</text>
<path d="M-137.2 -3.0H-130.6" stroke="#111" stroke-width="1.05"/><path d="M-127.0 -3.0L-130.6 -5.0L-129.9 -3.0L-130.6 -1.0Z" fill="#111"/>
<text x="-124.0" y="0" textLength="56" lengthAdjust="spacing">&#964;&#964;+ bb + tt)</text>
</g>
<text x="449.5" y="272">&#931; Br(h</text>
<text x="482.6" y="276" font-size="9">3</text>
<path d="M491.0 269.2H497.8" stroke="#111" stroke-width="1.05"/><path d="M501.4 269.2L497.8 267.2L498.5 269.2L497.8 271.2Z" fill="#111"/>
<text x="505.5" y="272" textLength="10" lengthAdjust="spacingAndGlyphs">&#947;&#947;</text>
<text x="515.5" y="272">+ZZ+W<tspan dy="-4.6" font-size="9">+</tspan><tspan dy="4.6">W</tspan><tspan dy="-4.6" font-size="9">-</tspan></text>
<text x="576.2" y="272">)</text>
<g transform="translate(365.3,0) rotate(-90)">
<text x="-182.3" y="0" textLength="30.6" lengthAdjust="spacingAndGlyphs">&#931; Br(h</text>
<text x="-151.0" y="2.6" font-size="9">3</text>
<path d="M-137.2 -3.0H-130.6" stroke="#111" stroke-width="1.05"/><path d="M-127.0 -3.0L-130.6 -5.0L-129.9 -3.0L-130.6 -1.0Z" fill="#111"/>
<text x="-124.0" y="0" textLength="56" lengthAdjust="spacing">&#964;&#964;+ bb + tt)</text>
</g>
<text x="321.9" y="128.1">R</text>
<text x="330.0" y="122.3" font-size="8.4">2</text>
<text x="329.9" y="131.6" font-size="9">33</text>
<g transform="translate(681.7,0) rotate(-90)">
<text x="-156.7" y="0" textLength="16.5" lengthAdjust="spacingAndGlyphs">mh</text>
<text x="-138.6" y="3.2" font-size="9">3</text>
<text x="-127.0" y="0" textLength="31.8" lengthAdjust="spacingAndGlyphs">(GeV)</text>
</g>
</svg></body></html>
